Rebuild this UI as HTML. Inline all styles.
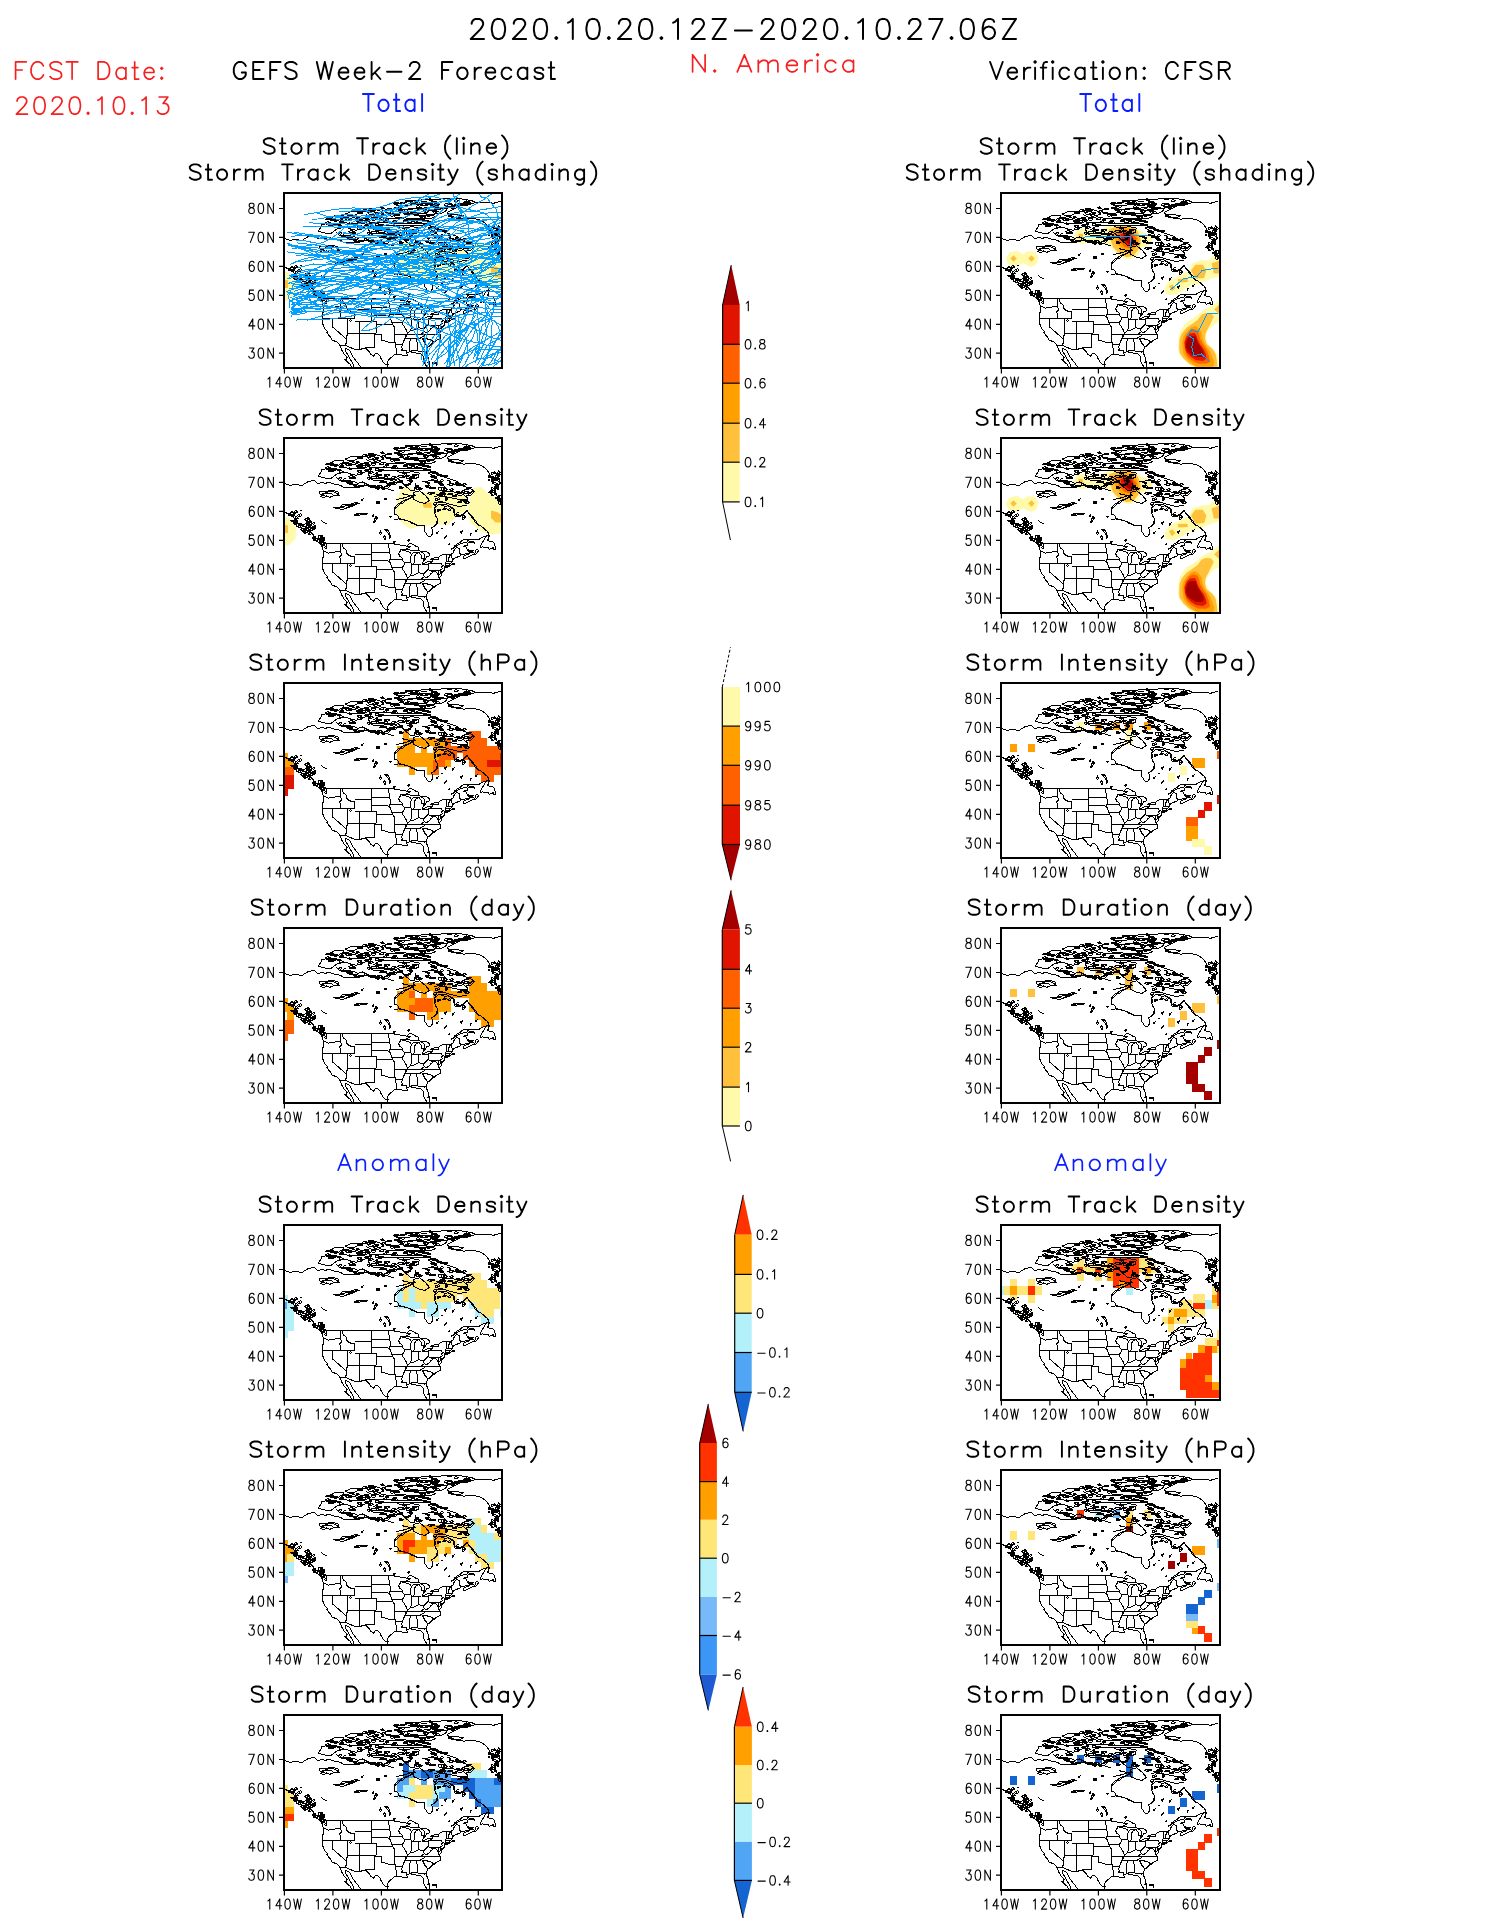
<!DOCTYPE html><html><head><meta charset="utf-8"><style>html,body{margin:0;padding:0;background:#fff;} svg{display:block;} text{font-family:"Liberation Sans",sans-serif;}</style></head><body>
<svg width="1487" height="1925" viewBox="0 0 1487 1925">
<rect width="1487" height="1925" fill="#fff"/>
<defs>
<clipPath id="cp"><rect x="284" y="194" width="218" height="173.5"/></clipPath>
<g id="map" fill="none" stroke="#000" stroke-width="1" shape-rendering="crispEdges">
<polyline points="413.4,248.6 415.3,250.2 411.4,252.1 408.3,254.7 404.4,255.7 403.7,257.9 400.5,258.7 397.8,261.2 395.2,263.6 394.1,266.7 394.4,269.3 397.6,270.2 399.3,273.6 402.2,274.5 405.6,275.1 409.0,276.5 411.4,278.0 414.6,279.0 417.7,280.2 421.4,280.3 424.3,280.7 424.5,284.1 425.0,286.7 426.4,289.0 428.4,291.3 430.1,291.6 431.5,290.4 432.7,288.4 432.3,285.2 431.5,282.9 434.2,281.2 436.4,279.4 438.1,277.1 437.6,274.2 435.9,271.3 434.9,268.4 436.1,266.1 434.7,263.8 435.7,261.8 438.8,259.7 442.9,260.0 446.3,259.6 450.0,261.5 453.6,263.4 455.0,265.5 454.6,268.4 456.0,269.9 458.9,270.6 460.4,271.2 462.3,270.0 464.7,267.6 466.7,265.7 467.9,267.0 469.6,269.3 471.0,271.3 473.5,273.9 474.4,276.2 476.9,278.8 479.8,280.3 483.2,282.6 484.9,284.3 487.5,286.7 488.7,288.7 487.3,290.7 485.1,291.3 481.7,292.3 479.3,294.2 476.4,294.8 472.3,294.6 468.1,294.6 464.7,294.6 462.1,295.4 459.9,297.4 457.0,298.8 454.8,300.9 452.6,303.2 451.2,304.3 453.1,303.7 455.3,302.0 457.5,300.3 460.1,299.1 463.0,298.0 466.2,297.7 467.9,298.7 467.4,300.3 465.2,300.9 462.8,301.1 465.7,301.7 466.7,303.2 467.2,305.2 468.6,306.5 470.6,307.5 472.7,307.8 474.9,308.1 475.9,307.2 475.7,305.2 477.1,304.0 478.6,305.8 477.6,307.2 475.9,309.0 472.7,309.8 469.6,311.1 467.2,312.4 465.0,313.9 463.5,313.3 463.3,311.6 465.5,310.3 467.4,309.2 469.6,308.8 467.2,308.1 464.7,309.0 463.0,309.2 461.4,309.8 460.1,311.1 458.2,311.7 456.5,312.4 454.3,313.3 453.4,314.0 452.4,315.5 452.1,316.8 451.7,317.6 452.6,318.5 454.1,318.8 454.2,319.4 452.6,319.8 450.7,320.0 448.5,320.5 446.3,321.0 444.6,322.0 444.1,323.1 444.4,324.9 443.2,326.3 442.1,327.3 441.0,326.3 440.7,325.5 441.5,327.8 441.8,328.9 441.2,330.4 440.0,332.1 439.5,333.0 438.8,331.8 439.1,329.2 438.3,326.6 438.6,330.1 438.8,333.0 439.8,333.9 440.5,336.2 440.7,338.1 439.3,338.8 437.8,339.6 435.7,340.8 434.7,342.0 432.7,342.5 431.5,344.3 429.8,345.7 427.9,347.2 426.9,348.9 426.4,351.2 426.7,353.5 427.4,355.6 428.4,357.9 428.9,360.5 429.7,363.1 429.6,365.4 428.9,367.1 427.4,367.3 425.7,365.1 424.7,363.1 423.5,360.8 423.1,358.5 423.3,356.1 421.6,354.7 420.1,353.1 418.7,353.4 417.0,354.1 415.5,352.7 413.4,352.1 411.4,352.4 410.2,351.7 408.5,352.1 406.6,352.7 407.1,354.1 407.5,355.6 406.6,355.3 405.4,355.9 403.4,355.6 401.2,354.7 399.1,354.4 396.4,354.1 394.2,355.0 392.8,356.4 390.1,358.2 388.4,359.9 387.7,362.2 388.1,364.8 387.7,366.9 387.2,368.9"/>
<polyline points="282.0,266.4 283.9,267.1 285.9,267.6 287.8,268.9 290.2,270.3 291.9,271.2 293.6,272.5 295.3,274.2 296.5,276.2 298.0,278.0 299.2,279.4 301.1,280.3 303.3,281.5 305.5,282.0 307.2,282.6 307.9,284.1 309.1,285.5 310.6,287.0 312.3,288.1 313.2,289.8 314.0,291.6 315.7,292.7 317.4,293.6 319.3,294.2 321.0,295.4 323.2,296.5 324.9,297.7 325.9,298.2 326.6,300.0 326.8,302.0 325.9,303.7 324.9,302.6 325.6,301.1 323.4,300.7 321.5,300.1 322.2,302.0 322.9,304.3 323.2,306.4 323.4,308.7 323.1,311.3 322.9,313.9 322.0,316.2 322.7,318.8 322.9,321.4 322.3,323.4 323.7,325.7 324.2,327.8 325.6,329.5 326.8,331.0 327.5,331.5 326.8,332.4 328.3,334.1 329.2,335.9 330.9,337.6 331.4,339.9 332.9,340.4 334.8,341.1 336.5,341.7 337.5,342.5 338.7,343.7 339.7,345.4 340.6,347.5 341.4,348.9 342.1,350.6 343.1,352.4 344.5,354.4 346.0,356.1 347.2,357.6 346.7,359.0 344.8,359.6 346.5,361.1 348.4,362.8 350.3,364.3 351.5,366.6 352.3,368.9 353.2,370.0"/>
<polyline points="356.4,370.6 355.2,369.5 354.0,367.1 353.2,364.8 352.3,362.5 350.8,360.2 349.4,357.9 348.4,355.9 347.2,353.8 346.0,352.1 345.5,349.8 345.7,348.3 346.7,348.9 348.4,349.5 349.8,350.4 350.6,352.4 351.8,355.0 353.2,357.3 354.9,359.3 356.4,361.4 358.1,363.4 359.1,365.4 360.8,366.9 362.5,368.6 363.4,370.6"/>
<polyline points="312.5,293.0 314.5,294.8 316.6,295.9 318.6,297.7 321.0,299.3 324.4,300.3 323.4,298.0 321.2,296.5 319.3,295.1 316.4,293.9 313.5,292.6 312.5,293.0"/>
<polyline points="301.1,283.3 302.8,283.6 304.5,283.9 304.0,286.1 305.5,288.4 306.2,289.3 304.5,288.1 303.1,286.7 302.1,284.9 301.1,283.3"/>
<polyline points="479.8,302.3 481.0,299.7 482.2,297.7 483.7,295.4 485.1,293.0 487.3,291.0 489.2,290.7 488.5,293.6 487.5,295.4 489.7,296.2 492.9,296.8 494.1,298.0 494.6,300.0 495.3,301.7 496.0,302.9 495.5,304.6 493.8,304.9 493.6,302.6 491.9,303.2 489.5,304.3 488.0,302.6 485.6,302.3 482.4,302.0 479.8,302.3"/>
<polyline points="467.4,295.8 470.6,296.2 474.0,297.1 474.2,298.0 471.3,297.7 468.1,297.1 467.4,295.8"/>
<polyline points="467.7,304.3 469.6,305.3 472.0,305.6 473.5,305.6 472.0,306.8 469.8,306.1 468.4,305.8 467.7,304.3"/>
<polyline points="444.4,322.4 446.8,321.8 449.2,321.3 449.5,321.5 447.3,322.3 444.6,322.7 444.4,322.4"/>
<polyline points="432.3,362.8 434.2,362.8 435.2,363.4 433.0,363.4 432.3,362.8"/>
<polyline points="436.1,362.2 437.1,364.0 436.6,365.1 435.7,363.7 436.1,362.2"/>
<polyline points="320.0,251.6 322.5,250.2 324.6,248.2 327.1,247.3 330.5,246.1 333.4,246.4 334.8,247.6 337.7,249.0 338.9,250.2 334.8,250.2 331.9,251.3 329.0,252.2 326.8,250.8 324.9,252.2 322.5,252.2 320.0,251.6"/>
<polyline points="339.7,262.9 342.6,262.6 345.2,263.2 348.2,262.1 350.8,260.9 354.0,259.2 357.4,258.3 359.5,258.6 356.2,259.2 353.0,259.5 349.8,260.0 346.7,260.6 343.8,261.2 341.4,261.8 339.7,262.9"/>
<polyline points="354.0,270.6 357.1,269.6 360.3,268.4 363.9,268.3 367.5,268.7 365.6,269.3 361.5,269.6 357.6,270.5 354.0,270.6"/>
<polyline points="374.3,276.8 376.0,275.1 376.8,272.8 375.8,271.9 375.1,273.6 374.3,276.8"/>
<polyline points="372.9,272.2 373.8,271.3 373.4,269.9 372.4,271.0 372.9,272.2"/>
<polyline points="388.9,294.2 390.1,292.5 389.6,290.1 388.1,288.4 386.7,286.4 384.8,284.3 387.2,284.3 388.9,286.7 389.8,288.7 390.3,291.3 388.9,294.2"/>
<polyline points="380.4,290.1 381.4,288.4 380.4,286.4 379.7,287.8 380.4,290.1"/>
<polyline points="385.0,294.5 385.7,292.7 384.3,290.4 383.3,291.6 385.0,294.5"/>
<polyline points="400.3,304.9 403.7,304.9 406.6,303.7 410.0,301.7 407.1,301.1 409.5,298.8 412.9,299.1 415.5,301.1 418.0,302.0 418.7,304.0 418.2,305.2 414.8,305.5 411.4,305.2 407.3,304.6 404.4,305.2 400.3,304.9"/>
<polyline points="411.4,319.4 413.4,319.1 414.6,317.1 414.8,314.5 414.1,312.1 415.3,310.1 416.8,308.4 418.2,307.5 414.8,307.2 412.4,308.4 411.4,309.8 410.7,312.1 410.9,315.0 410.9,317.6 411.4,319.4"/>
<polyline points="418.4,307.2 421.6,306.9 425.5,306.6 428.4,307.5 429.8,309.5 428.9,311.0 426.7,311.6 425.7,313.9 424.0,315.6 423.5,313.0 421.6,313.0 421.6,310.4 419.7,308.7 418.4,307.2"/>
<polyline points="421.6,319.4 424.3,320.0 426.9,319.4 429.4,318.2 432.3,316.5 430.8,316.0 427.9,316.8 424.5,318.2 422.1,318.5 421.6,319.4"/>
<polyline points="430.3,314.7 432.5,314.6 435.9,314.9 438.8,314.2 438.8,312.1 435.9,312.7 432.3,313.3 430.3,314.7"/>
<polyline points="408.5,296.8 410.0,295.1 409.0,294.2 408.0,295.6 408.5,296.8"/>
<polyline points="393.7,298.0 395.2,296.8 394.0,295.9 393.0,297.1 393.7,298.0"/>
<polyline points="444.1,293.6 445.8,292.5 446.8,290.7 445.1,291.6 444.1,293.6"/>
<polyline points="448.3,300.0 449.7,299.4 449.2,298.8 448.3,300.0"/>
<polyline points="350.1,321.4 351.5,320.8 350.8,319.4 349.8,320.5 350.1,321.4"/>
<polyline points="427.4,362.8 428.4,362.5 428.1,361.6 427.4,362.8"/>
<polyline points="377.0,257.7 378.9,256.8 378.2,258.3 377.0,257.7"/>
<polyline points="383.8,254.0 387.2,253.4 385.7,254.5 383.8,254.0"/>
<polyline points="360.8,254.8 362.9,254.2 362.0,255.4 360.8,254.8"/>
<polyline points="390.6,272.5 391.5,271.3 389.6,271.6 390.6,272.5"/>
<polyline points="440.7,283.8 443.2,282.9 442.0,284.1 440.7,283.8"/>
<polyline points="460.1,287.2 462.3,286.1 461.4,288.1 460.1,287.2"/>
<polyline points="474.7,285.8 477.1,284.9 475.9,286.7 474.7,285.8"/>
<polyline points="469.8,289.6 471.5,288.1 470.6,290.4 469.8,289.6"/>
<polyline points="451.7,279.4 454.1,278.0 452.9,280.3 451.7,279.4"/>
<polyline points="444.4,278.0 446.3,277.1 445.4,278.8 444.4,278.0"/>
<polyline points="435.9,288.1 438.1,287.0 437.1,289.0 435.9,288.1"/>
<polyline points="324.9,298.2 393.1,298.2 393.1,297.1 394.0,298.5 394.4,299.1 397.1,299.4 399.5,299.8 402.0,300.9 404.9,300.9 406.6,301.1"/>
<polyline points="418.7,305.5 419.9,305.8 421.1,306.6 424.0,309.0 424.0,315.6 422.3,318.2 422.1,318.5"/>
<polyline points="432.3,316.0 432.1,314.7"/>
<polyline points="438.8,312.1 441.2,310.4 442.7,309.8 450.4,309.8 451.4,309.0 452.4,308.7 453.4,307.2 454.1,305.2 456.0,302.7 458.2,303.0 459.4,303.9 459.4,307.8 460.4,308.7 461.4,310.1"/>
<polyline points="339.9,345.9 345.7,345.4 354.7,349.4 361.5,349.4 361.5,348.1 365.6,348.1 367.8,350.1 369.7,352.4 370.5,354.1 372.1,355.3 373.6,356.2 374.8,354.1 375.8,353.7 378.0,353.8 379.7,355.6 380.6,357.9 382.3,360.2 383.3,362.5 385.5,364.5 388.1,365.0"/>
<polyline points="323.2,306.2 325.1,306.5 328.0,308.1 330.5,307.9 333.8,307.2 335.3,306.9 340.4,306.9"/>
<polyline points="340.1,298.2 340.1,305.8 340.4,306.9 341.4,308.4 341.1,310.4 339.7,311.9 340.2,313.3 340.2,318.5"/>
<polyline points="322.7,318.5 354.6,318.5"/>
<polyline points="332.9,318.5 332.9,327.2 346.0,338.8 346.0,340.8 346.2,342.5 345.7,345.4"/>
<polyline points="347.3,318.5 347.3,335.3 346.0,335.9 346.0,338.8"/>
<polyline points="347.3,333.0 376.4,333.0"/>
<polyline points="342.5,298.2 342.5,301.1 343.3,302.9 346.0,304.9 346.5,308.1 348.6,310.1 351.3,311.4 354.6,311.3 354.6,318.5"/>
<polyline points="354.6,309.8 371.5,309.8"/>
<polyline points="354.6,321.4 376.4,321.4"/>
<polyline points="371.5,321.4 371.5,298.2"/>
<polyline points="359.4,321.4 359.4,349.4"/>
<polyline points="374.0,333.0 374.0,347.5 365.4,347.5 365.6,348.1"/>
<polyline points="376.4,321.4 376.4,333.0"/>
<polyline points="374.0,334.4 381.4,334.4 381.4,340.0 383.3,340.5 386.0,341.4 388.6,342.2 391.1,342.0 394.7,342.7 395.8,343.0"/>
<polyline points="376.4,324.3 392.8,324.3"/>
<polyline points="371.5,307.1 389.7,307.1"/>
<polyline points="371.5,315.6 385.0,315.6 387.9,316.0 389.8,317.1"/>
<polyline points="388.1,298.2 388.9,302.0 389.7,307.1 390.0,309.0 390.0,314.2 389.8,317.1 390.8,319.1 391.3,320.5 391.5,322.6 392.8,324.3 393.7,326.0 394.4,326.9 394.4,334.4 394.8,337.6 394.7,342.7"/>
<polyline points="390.0,314.2 402.7,314.2"/>
<polyline points="391.5,322.6 402.2,322.6"/>
<polyline points="394.4,334.4 406.3,334.4"/>
<polyline points="405.1,334.4 405.4,335.9 406.3,335.9"/>
<polyline points="395.8,343.0 395.8,344.6 402.7,344.6"/>
<polyline points="395.8,344.6 395.8,347.5 396.6,349.5 396.9,351.5 396.3,354.1"/>
<polyline points="402.7,344.6 401.7,346.9 402.2,348.9 401.7,350.4 406.3,350.4 406.6,351.5 406.8,352.7"/>
<polyline points="402.7,344.6 403.4,341.7 404.9,338.8 405.8,336.7 406.3,335.9 406.8,334.4 407.5,333.0"/>
<polyline points="400.5,304.9 400.0,306.6 398.8,308.4 399.3,311.0 401.7,312.4 402.7,314.2 403.1,316.5 404.1,317.1 405.1,319.1 403.2,321.1 402.2,323.1 403.2,325.2 405.1,327.8 406.6,330.4 407.5,333.0"/>
<polyline points="404.1,317.1 410.9,317.1"/>
<polyline points="404.6,305.2 405.8,306.1 408.8,306.9 410.4,307.5 411.4,309.5"/>
<polyline points="411.6,319.4 411.6,326.0 411.2,328.4 410.7,330.4"/>
<polyline points="410.7,330.4 407.5,333.0"/>
<polyline points="410.7,330.4 412.9,330.4 414.6,329.5 416.3,328.9 418.2,327.8 418.2,326.9 420.9,328.4 423.5,328.9"/>
<polyline points="411.6,319.2 418.2,319.4 421.4,319.2"/>
<polyline points="418.2,319.4 418.2,326.9"/>
<polyline points="428.6,318.5 428.6,325.1"/>
<polyline points="428.4,322.6 427.7,325.2 425.7,326.6 424.5,328.4 423.5,328.9"/>
<polyline points="406.8,334.4 425.7,334.1"/>
<polyline points="420.9,334.1 422.6,333.0 424.3,331.8 423.5,328.9"/>
<polyline points="424.3,331.8 425.7,332.4 427.4,332.1 429.1,331.2 430.6,328.9 432.3,327.5 433.7,326.6 435.2,326.3"/>
<polyline points="404.9,338.8 419.4,338.8"/>
<polyline points="419.4,338.8 421.4,337.3 423.8,336.2 425.7,334.1"/>
<polyline points="425.7,334.2 439.8,334.3"/>
<polyline points="422.3,338.8 424.0,338.2 427.4,338.3 427.9,339.4 430.6,339.4 433.5,342.1"/>
<polyline points="422.3,338.8 423.5,340.2 424.5,342.8 426.2,344.6 427.4,346.3 427.7,347.3"/>
<polyline points="416.3,338.8 417.2,343.1 417.7,346.3 417.5,348.6 417.7,350.4"/>
<polyline points="417.7,350.4 418.0,351.2 422.1,351.4 424.7,352.1 425.0,351.5 426.2,351.2"/>
<polyline points="411.4,350.4 417.7,350.4"/>
<polyline points="411.4,350.4 411.9,352.1"/>
<polyline points="410.0,338.8 410.0,341.1 409.5,346.0 409.5,352.1"/>
<polyline points="428.6,318.5 430.4,318.5 430.4,317.6"/>
<polyline points="430.4,318.5 441.0,318.5 441.7,319.7 442.7,320.4 444.4,321.4"/>
<polyline points="442.7,320.4 441.7,322.0 442.4,323.7 440.7,324.9"/>
<polyline points="428.6,325.1 440.0,325.1"/>
<polyline points="431.1,325.1 431.1,326.6 433.7,325.7 435.2,326.3 436.9,327.5 437.1,328.9 438.8,330.1"/>
<polyline points="440.0,325.1 440.3,328.8 441.8,328.8"/>
<polyline points="446.1,309.8 446.1,316.3 445.6,318.4 445.6,321.1"/>
<polyline points="450.4,309.8 449.2,311.9 448.0,315.6 448.0,316.4"/>
<polyline points="446.1,316.4 451.7,316.4"/>
<polyline points="445.6,318.5 450.7,318.5"/>
<polyline points="449.7,318.5 449.7,320.5"/>
<polyline points="451.4,309.0 452.4,315.3"/>
<polyline points="284.0,238.4 289.9,240.2 295.8,239.5 301.8,240.6 308.4,236.5 314.3,235.4 317.3,238.4 322.5,237.6 325.4,238.4 328.4,237.3 334.3,239.1 340.2,240.2 343.2,242.1 350.6,242.4 358.0,242.8 360.9,241.3 363.1,240.2 366.8,240.6 372.8,242.1 380.2,242.8 387.6,243.9 394.0,245.8"/>
<polyline points="318.4,231.0 321.7,225.8 321.0,224.3 325.4,224.0 338.7,224.3 343.2,226.5 337.3,228.8 334.3,231.0 331.3,233.2 326.9,233.6 321.0,232.1 318.4,231.0"/>
<polyline points="334.3,231.0 337.3,228.8 342.4,227.7 347.6,228.0 352.0,229.5 356.5,230.2 360.9,228.8 363.9,227.3 367.6,226.5 371.3,226.9 368.3,228.8 369.8,232.5 372.8,235.1 377.2,235.8 381.6,235.4 387.6,234.3 394.0,233.9"/>
<polyline points="335.8,231.7 339.5,235.4 343.2,236.5 353.5,236.5 358.0,238.4 362.4,236.9 366.8,239.1 372.8,241.3"/>
<polyline points="338.7,235.1 353.5,236.2"/>
<polyline points="325.4,219.1 331.3,217.7 335.0,215.4 343.2,215.4 343.9,217.7 340.2,218.4 338.7,220.6 335.8,221.4 328.4,219.5 325.4,219.1"/>
<polyline points="338.7,222.1 343.2,218.4 349.1,218.4 354.3,219.9 358.0,217.7 362.4,218.4 368.3,219.9 366.8,222.8 358.0,223.6 350.6,223.6 346.1,222.8 338.7,222.1"/>
<polyline points="345.4,214.0 350.6,211.8 358.0,211.8 358.7,213.2 354.3,215.4 347.6,215.4 345.4,214.0"/>
<polyline points="366.8,210.3 372.8,208.8 380.2,211.0 383.9,214.0 380.2,215.4 369.1,214.0 366.8,210.3"/>
<polyline points="380.9,207.3 383.1,206.9 384.6,208.4 381.6,208.8 380.9,207.3"/>
<polyline points="366.1,214.7 372.8,217.7 380.2,216.9 387.6,218.4 394.0,218.4"/>
<polyline points="394.0,222.8 380.2,222.1 369.1,222.1 366.1,218.4"/>
<polyline points="374.2,229.5 378.7,226.5 387.6,225.1 394.0,225.8"/>
<polyline points="394.0,233.9 389.0,233.9 380.2,232.5 374.2,229.5"/>
<polyline points="319.5,246.1 325.4,246.9 332.1,245.0 338.7,247.3 338.7,250.2 334.3,250.2 329.9,252.4 325.4,251.0 319.5,248.7 319.5,246.1"/>
<polyline points="322.5,248.7 328.4,248.4 332.8,249.1"/>
<polyline points="332.8,262.0 340.2,262.0 343.2,259.1 350.6,259.1 355.0,257.6 359.4,258.3 355.0,259.8 352.0,261.3 347.6,262.8 343.2,264.3 335.8,263.5 332.8,262.0"/>
<polyline points="354.3,270.2 358.0,268.0 366.8,268.0 362.4,269.1 358.0,270.6 354.3,270.2"/>
<polyline points="375.7,271.7 377.9,272.4 375.0,276.8 373.5,277.6 375.7,271.7"/>
<polyline points="376.5,256.9 379.4,256.5 379.8,258.3 376.8,258.7 376.5,256.9"/>
<polyline points="321.0,275.4 323.9,277.6 326.9,279.1"/>
<polyline points="300.3,265.4 302.5,266.1"/>
<polyline points="501.2,201.0 493.9,203.2 482.8,202.1 475.4,202.1 471.7,200.7 464.3,199.2 454.7,198.4 448.7,198.4 438.4,199.2 426.5,199.5 418.4,200.3 410.3,201.4 401.4,202.9 394.0,205.1"/>
<polyline points="475.4,202.5 468.0,205.1 460.6,205.8 454.7,208.8 447.3,212.5"/>
<polyline points="447.3,206.6 468.7,203.6"/>
<polyline points="447.3,213.2 450.2,215.4 456.9,218.4 464.3,219.1 471.7,218.4 479.1,219.5 482.8,221.4 486.5,224.3 489.4,228.8 490.2,231.7 493.1,233.9 497.6,235.4 500.5,238.4"/>
<polyline points="489.4,231.0 493.1,232.5 499.0,233.2 500.5,238.4 496.1,241.3 493.9,245.8 496.1,250.2 500.5,253.2 500.9,258.3"/>
<polyline points="492.4,236.9 497.6,238.4 496.1,239.9 492.4,238.4 492.4,236.9"/>
<polyline points="448.0,214.0 455.4,214.7 463.5,215.4 462.0,216.9 453.2,217.7 448.7,216.2 448.0,214.0"/>
<polyline points="433.9,208.8 439.9,208.1 447.3,208.1 445.8,211.0 439.9,214.0 435.4,212.5 433.9,208.8"/>
<polyline points="395.5,208.1 401.4,205.8 408.8,205.1 416.2,204.4 423.6,203.6 431.0,203.6 436.9,205.1 435.4,206.6 427.3,207.3 419.9,208.8 412.5,208.1 405.1,209.5 398.4,210.3 395.5,208.1"/>
<polyline points="407.3,209.5 414.7,208.8 422.1,209.5 428.8,211.0 426.5,213.2 418.4,214.0 411.0,212.5 407.3,211.0 407.3,209.5"/>
<polyline points="394.0,214.0 401.4,212.5 408.8,214.0 416.2,215.4 423.6,215.4 432.5,214.7 435.4,216.9 431.0,218.4 422.1,219.1 412.5,218.4 401.4,217.7 394.0,216.9"/>
<polyline points="394.0,218.4 405.1,219.1 416.2,219.9 427.3,220.6 431.0,222.1 423.6,223.6 412.5,223.6 401.4,223.6 394.0,222.8"/>
<polyline points="394.0,225.1 405.1,225.8 416.2,225.1 427.3,225.8 435.4,226.5"/>
<polyline points="428.0,228.0 435.4,226.5 438.4,229.5 445.8,232.5 451.7,234.7 456.9,236.2 460.6,239.9 466.5,242.1 471.7,244.3 474.6,246.5 470.9,250.2 466.5,251.0 468.0,254.7 465.0,257.6"/>
<polyline points="405.8,231.7 406.6,228.0 411.8,226.5 419.1,228.0 418.4,232.5 413.2,233.9 407.3,233.9 405.8,231.7"/>
<polyline points="394.0,231.0 398.4,233.9 401.4,236.9 405.8,241.3 410.3,245.0 414.0,245.8"/>
<polyline points="414.7,237.6 416.2,241.3 414.0,245.8"/>
<polyline points="422.1,236.9 426.5,236.2 432.5,235.4 438.4,237.6 444.3,241.3 447.3,245.0"/>
<polyline points="445.8,245.8 450.2,246.5 456.9,247.3 468.0,248.7 473.9,245.8"/>
<polyline points="459.1,247.3 464.3,250.2 468.0,253.2 467.2,255.4"/>
<polyline points="434.3,251.7 439.9,250.2 445.8,251.7 453.2,253.2 460.6,254.7 468.0,258.3"/>
<polyline points="433.9,257.6 442.1,256.9 449.5,259.1 458.3,261.3 467.2,260.6"/>
<polyline points="435.4,259.1 434.3,268.0 437.6,273.9 435.4,281.0"/>
<polyline points="438.4,259.1 445.8,259.1 453.2,264.3 454.7,270.9 458.3,271.7 464.3,268.0 467.2,265.7 470.9,270.2 475.4,275.4 479.1,281.0"/>
<polyline points="394.0,264.3 396.2,260.6 399.2,258.3 404.4,255.4 412.5,252.4"/>
<polyline points="414.0,247.3 419.9,245.8 425.1,250.2 429.5,255.4 425.1,258.3 419.9,257.6 414.0,254.7 413.2,251.0 414.0,247.3"/>
<polyline points="396.2,254.7 402.9,253.2 412.5,250.2"/>
<polyline points="402.1,248.7 412.5,251.0"/>
<polyline points="394.0,274.6 398.4,273.9 408.8,276.1 418.4,281.0"/>
<polyline points="455.4,237.6 460.6,238.4 461.3,240.6 456.9,240.6 455.4,237.6"/>
<polyline points="438.4,242.8 441.3,242.1 442.1,245.0 439.1,245.4 438.4,242.8"/>
<polyline points="418.9,213.8 418.2,214.3 416.1,214.3 414.3,214.2 411.5,214.0 412.1,213.3 413.7,213.0 417.1,212.9 419.4,213.1 418.9,213.8"/>
<polyline points="454.2,207.4 452.5,207.9 449.9,208.0 448.0,207.1 450.2,206.8 452.2,206.8 454.2,207.4"/>
<polyline points="375.9,219.1 375.4,220.0 373.6,220.1 372.4,220.2 371.6,219.3 371.9,218.6 373.9,218.3 375.2,218.4 375.9,219.1"/>
<polyline points="469.7,202.2 469.2,202.4 467.7,202.6 465.2,202.5 464.0,202.2 464.7,201.8 468.1,201.6 469.4,201.6 469.7,202.2"/>
<polyline points="392.3,209.0 390.4,209.8 385.9,209.7 387.0,208.8 390.0,208.2 392.3,209.0"/>
<polyline points="436.7,202.1 436.6,202.8 432.6,202.6 431.0,202.1 433.6,201.0 436.8,201.0 436.7,202.1"/>
<polyline points="434.1,209.8 433.7,210.3 431.8,210.3 430.8,210.2 430.8,209.8 431.9,209.3 433.3,209.6 434.1,209.8"/>
<polyline points="467.6,203.9 467.6,204.4 466.1,204.5 465.7,204.5 464.8,204.1 465.2,203.4 466.5,203.2 467.4,203.5 467.6,203.9"/>
<polyline points="432.9,200.6 432.5,201.1 430.5,201.0 429.9,200.4 431.3,199.8 432.8,199.8 432.9,200.6"/>
<polyline points="430.8,215.3 430.8,215.8 429.4,216.2 427.0,216.1 426.7,215.8 426.6,215.1 427.8,214.8 428.8,214.8 430.7,215.2 430.8,215.3"/>
<polyline points="421.4,222.8 421.0,223.3 420.1,223.5 418.4,223.4 417.5,223.1 417.0,222.5 418.8,222.3 420.0,222.3 420.9,222.4 421.4,222.8"/>
<polyline points="399.0,203.1 398.0,203.7 394.8,203.6 394.3,203.0 395.9,202.5 398.2,202.4 399.0,203.1"/>
<polyline points="399.7,208.0 398.1,208.8 394.8,208.8 394.7,207.9 394.9,207.4 398.8,207.4 399.7,208.0"/>
<polyline points="459.0,205.5 458.8,205.9 456.4,206.4 454.2,206.3 452.8,205.9 454.1,204.9 455.3,204.3 456.1,204.4 459.5,204.7 459.0,205.5"/>
<polyline points="411.5,213.9 410.6,214.7 405.9,214.9 404.5,214.2 404.0,213.1 407.8,212.9 410.1,213.3 411.5,213.9"/>
<polyline points="418.5,213.2 415.4,214.0 411.5,213.9 412.4,212.8 416.9,212.6 418.5,213.2"/>
<polyline points="424.9,217.1 425.2,217.4 423.8,218.1 421.5,217.8 420.3,217.0 420.6,216.6 422.0,215.6 422.9,215.6 425.3,216.4 424.9,217.1"/>
<polyline points="431.8,203.8 432.0,204.3 429.4,204.9 428.3,204.5 426.0,204.4 425.7,203.6 428.0,203.2 429.0,203.1 431.3,203.2 431.8,203.8"/>
<polyline points="426.5,201.3 425.4,201.6 423.5,201.9 421.7,201.6 421.9,201.2 423.5,201.0 425.1,201.0 426.5,201.3"/>
<polyline points="390.7,213.0 390.1,213.5 388.0,213.5 386.5,213.5 385.9,212.8 386.6,212.2 387.8,212.3 390.3,212.3 390.7,213.0"/>
<polyline points="389.2,219.5 388.7,220.1 386.3,220.0 386.1,219.6 386.7,219.1 388.2,219.1 389.2,219.5"/>
<polyline points="408.0,220.8 406.8,221.3 405.5,221.5 403.3,221.2 403.7,220.4 404.6,220.0 407.7,220.0 408.0,220.8"/>
<polyline points="468.7,200.8 468.6,201.7 467.6,202.0 466.4,201.9 466.2,201.3 466.4,200.3 467.3,199.6 468.4,200.4 468.7,200.8"/>
<polyline points="454.2,207.3 453.8,208.0 452.6,208.2 451.9,208.3 450.9,207.5 451.6,206.7 452.9,206.2 453.8,206.6 454.2,207.3"/>
<polyline points="454.8,206.4 454.2,207.5 453.9,207.6 452.9,207.5 451.8,207.0 452.0,206.5 452.4,205.7 453.3,205.8 454.4,205.8 454.8,206.4"/>
<polyline points="425.2,219.1 423.3,219.5 419.9,219.6 418.2,219.2 419.5,218.9 420.9,218.6 422.9,218.6 425.2,219.1"/>
<polyline points="385.7,211.3 385.2,211.7 384.3,212.0 383.0,212.0 381.9,211.7 382.0,210.9 382.4,210.6 384.3,210.4 385.4,210.7 385.7,211.3"/>
<polyline points="413.1,214.2 410.5,214.9 407.8,215.0 406.6,214.2 408.9,213.5 411.3,213.8 413.1,214.2"/>
<polyline points="436.3,210.7 436.2,211.1 434.7,211.4 433.4,211.2 432.3,211.0 432.8,210.8 433.2,210.5 434.8,210.4 436.3,210.5 436.3,210.7"/>
<polyline points="400.1,215.1 398.3,215.7 393.5,215.8 393.9,214.9 394.4,214.4 398.0,214.1 400.1,215.1"/>
<polyline points="379.3,213.2 378.5,213.6 377.1,213.6 375.8,213.1 376.7,212.9 378.7,212.7 379.3,213.2"/>
<polyline points="453.0,204.2 450.8,204.8 448.8,204.9 447.9,204.1 449.1,203.8 451.6,203.8 453.0,204.2"/>
<polyline points="377.5,213.9 377.8,214.6 374.7,214.8 372.8,214.3 372.5,213.4 374.4,212.8 377.3,212.8 377.5,213.9"/>
<polyline points="405.0,210.4 403.5,211.1 401.0,211.8 399.1,210.6 399.0,210.1 400.8,209.4 403.0,209.7 405.0,210.4"/>
<polyline points="427.9,221.3 427.9,221.5 425.3,221.8 422.7,221.5 423.2,221.1 423.1,220.7 424.8,220.7 428.1,220.8 427.9,221.3"/>
<polyline points="377.2,215.6 376.8,216.5 375.4,216.6 374.3,216.6 373.9,215.6 374.3,214.9 376.0,214.5 377.1,214.8 377.2,215.6"/>
<polyline points="440.1,213.0 438.4,213.2 436.0,213.8 434.3,213.5 433.4,212.7 434.6,211.8 436.7,211.8 438.4,211.6 440.1,213.0"/>
<polyline points="371.3,211.4 370.8,212.1 366.7,212.0 365.3,211.6 365.7,210.9 369.8,210.9 371.3,211.4"/>
<polyline points="397.8,222.7 397.0,223.1 395.9,223.1 391.8,223.3 390.6,222.7 392.3,222.3 393.7,221.8 396.6,221.8 397.3,222.2 397.8,222.7"/>
<polyline points="415.3,222.1 413.7,223.2 410.8,222.9 410.3,222.2 411.7,221.5 414.3,221.4 415.3,222.1"/>
<polyline points="458.3,200.9 457.3,201.6 454.3,201.2 454.4,200.4 456.4,199.6 458.3,200.9"/>
<polyline points="373.1,209.6 372.5,210.8 369.9,210.5 368.8,210.3 368.0,209.0 370.3,208.4 371.7,208.7 373.1,209.6"/>
<polyline points="419.6,206.6 419.2,207.5 417.0,207.4 416.5,206.3 417.3,205.8 418.9,205.7 419.6,206.6"/>
<polyline points="402.3,206.0 402.0,206.3 399.9,206.9 398.8,206.6 397.5,205.7 398.3,205.5 399.8,205.1 401.6,205.3 402.3,206.0"/>
<polyline points="426.3,216.0 424.7,216.9 422.0,217.0 419.8,216.6 418.9,215.7 419.9,215.5 421.8,215.0 424.3,215.4 426.3,216.0"/>
<polyline points="404.7,206.6 403.7,207.1 402.4,207.2 400.8,206.8 401.1,205.9 402.7,205.6 404.2,205.8 404.7,206.6"/>
<polyline points="396.9,214.0 395.4,214.7 392.9,214.9 390.8,214.4 391.1,213.7 392.8,213.3 394.6,213.6 396.9,214.0"/>
<polyline points="444.5,208.2 443.0,208.7 439.8,209.2 437.6,208.1 438.9,207.7 443.1,207.8 444.5,208.2"/>
<polyline points="419.4,202.2 419.3,203.1 416.8,203.3 414.7,202.2 416.2,201.6 418.1,201.5 419.4,202.2"/>
<polyline points="430.5,209.8 429.6,210.2 427.9,210.8 426.5,210.3 425.5,209.6 426.7,209.0 428.4,208.2 429.8,208.8 430.5,209.8"/>
<polyline points="450.9,206.8 448.7,207.4 446.5,207.0 446.5,206.3 449.8,206.1 450.9,206.8"/>
<polyline points="410.1,213.3 409.5,213.6 407.3,213.9 404.8,213.5 404.1,213.4 404.9,213.0 407.4,212.6 408.4,212.9 410.1,213.3"/>
<polyline points="431.5,199.6 431.1,200.8 429.7,200.5 428.7,199.9 429.0,199.5 430.3,198.3 430.9,198.6 431.5,199.6"/>
<polyline points="429.0,204.7 424.7,205.9 421.0,205.7 420.5,204.1 426.3,203.9 429.0,204.7"/>
<polyline points="386.4,221.7 386.0,222.8 384.7,222.9 383.2,222.1 383.4,221.6 385.0,220.9 385.9,221.0 386.4,221.7"/>
<polyline points="417.3,212.8 416.8,213.1 415.7,213.4 413.7,213.2 412.4,212.9 412.5,212.6 413.6,212.3 415.7,212.3 416.3,212.3 417.3,212.8"/>
<polyline points="402.9,211.7 402.7,212.1 402.0,212.2 400.5,212.2 400.0,211.9 400.3,211.3 400.6,210.9 401.7,211.0 402.6,210.9 402.9,211.7"/>
<polyline points="375.7,210.4 375.0,211.1 373.5,211.4 371.0,211.4 368.6,210.9 369.4,210.3 370.0,210.2 371.9,210.0 375.2,210.2 375.7,210.4"/>
<polyline points="396.8,214.4 396.2,215.4 394.4,215.3 393.7,214.6 394.6,213.4 396.3,213.9 396.8,214.4"/>
<polyline points="384.4,218.5 382.5,219.7 379.2,219.5 379.2,218.4 382.9,217.6 384.4,218.5"/>
<polyline points="448.1,204.6 447.7,205.3 444.7,205.4 444.8,204.8 445.3,203.7 447.8,204.0 448.1,204.6"/>
<polyline points="471.3,203.2 469.3,204.1 465.9,204.3 464.1,203.4 464.9,202.4 468.6,202.2 471.3,203.2"/>
<polyline points="462.6,204.0 462.2,204.2 460.3,204.5 457.9,204.1 458.4,203.8 459.3,203.4 462.0,203.5 462.6,204.0"/>
<polyline points="411.7,200.7 411.0,201.2 409.7,201.3 407.4,201.3 405.0,201.0 405.0,200.4 406.8,200.1 408.9,200.0 412.2,200.3 411.7,200.7"/>
<polyline points="426.3,210.5 425.8,211.2 424.8,211.3 423.1,211.0 423.0,210.0 424.1,209.8 426.0,210.2 426.3,210.5"/>
<polyline points="393.7,215.6 392.8,216.2 391.9,216.3 390.8,216.0 390.5,215.5 391.0,215.0 392.3,214.7 393.4,215.2 393.7,215.6"/>
<polyline points="397.1,221.4 395.5,222.5 394.7,223.0 393.0,222.6 392.8,221.5 392.7,221.2 394.3,220.7 396.7,220.9 397.1,221.4"/>
<polyline points="439.3,209.0 436.8,210.1 434.6,209.4 434.8,208.4 437.8,207.7 439.3,209.0"/>
<polyline points="409.6,223.1 409.0,223.5 408.2,223.7 407.6,223.7 406.4,223.4 407.2,222.9 407.2,222.6 408.5,222.8 409.7,222.9 409.6,223.1"/>
<polyline points="370.8,220.6 370.0,221.0 367.6,221.0 366.8,220.4 367.9,219.7 369.2,219.8 370.8,220.6"/>
<polyline points="404.9,203.5 402.1,203.8 399.4,203.5 400.3,203.0 402.9,202.8 404.9,203.5"/>
<polyline points="421.6,207.7 421.0,208.5 419.5,209.0 417.6,208.7 416.0,208.1 417.7,207.2 419.3,206.9 420.1,207.1 421.6,207.7"/>
<polyline points="438.0,206.4 435.4,207.2 433.8,207.5 431.9,207.1 430.4,206.0 431.2,205.7 433.6,205.5 436.3,205.3 438.0,206.4"/>
<polyline points="428.2,211.5 426.9,212.0 424.9,212.3 423.9,211.9 423.8,211.2 425.5,210.9 427.8,211.1 428.2,211.5"/>
<polyline points="417.5,202.4 416.3,202.9 414.3,203.2 412.6,203.0 410.0,203.0 410.8,202.4 411.2,202.1 415.1,202.1 416.9,202.3 417.5,202.4"/>
<polyline points="414.5,220.4 413.4,220.6 412.3,220.8 410.0,220.8 409.8,220.4 409.1,220.1 410.4,219.9 411.7,220.0 413.2,220.2 414.5,220.4"/>
<polyline points="418.6,222.5 418.2,223.2 417.7,223.3 416.2,223.3 415.4,222.7 415.5,222.3 416.2,221.8 417.5,222.0 418.1,222.0 418.6,222.5"/>
<polyline points="436.8,210.7 436.2,211.0 434.9,211.1 433.2,210.9 433.1,210.5 434.2,210.3 435.6,210.2 436.8,210.7"/>
<polyline points="451.7,198.8 451.3,199.4 450.1,199.5 448.5,199.3 447.7,199.2 448.1,198.7 448.3,198.6 450.2,198.6 450.9,198.7 451.7,198.8"/>
<polyline points="439.8,204.2 439.6,204.9 436.3,205.3 434.4,204.9 434.0,204.3 434.6,203.3 436.7,203.4 438.9,203.5 439.8,204.2"/>
<polyline points="434.5,214.6 433.3,215.0 431.2,215.2 428.8,215.2 426.6,214.5 428.4,214.4 432.2,214.0 432.8,214.2 434.5,214.6"/>
<polyline points="396.4,203.6 396.3,204.0 395.4,204.1 394.3,203.9 393.3,203.7 393.7,203.2 394.4,202.7 395.5,202.8 396.5,203.1 396.4,203.6"/>
<polyline points="384.4,208.5 384.2,208.7 382.6,208.8 381.5,208.5 381.8,208.2 382.8,207.9 384.1,207.9 384.4,208.5"/>
<polyline points="440.1,204.2 439.3,204.7 436.8,204.9 436.6,204.2 437.7,203.0 439.3,203.4 440.1,204.2"/>
<polyline points="402.2,209.5 401.5,210.0 400.6,210.3 399.1,210.2 398.8,209.5 398.5,209.0 400.7,208.8 401.5,209.0 402.2,209.5"/>
<polyline points="353.9,216.0 352.6,216.7 351.3,216.8 349.8,216.3 349.8,215.9 351.5,215.2 353.1,215.5 353.9,216.0"/>
<polyline points="330.9,224.5 330.4,225.4 328.6,225.5 328.1,224.9 328.0,224.6 329.0,224.1 330.2,224.3 330.9,224.5"/>
<polyline points="359.2,217.4 358.4,217.9 356.4,217.6 356.8,216.7 358.2,216.6 359.2,217.4"/>
<polyline points="343.4,222.3 342.9,222.7 341.9,222.9 340.9,222.6 340.2,222.4 339.9,221.9 340.5,221.8 341.9,221.5 342.6,222.0 343.4,222.3"/>
<polyline points="367.8,219.3 367.0,219.8 365.1,219.7 365.4,218.8 366.6,218.9 367.8,219.3"/>
<polyline points="334.0,225.0 332.7,225.4 328.3,225.5 328.6,224.8 328.5,224.1 333.0,224.1 334.0,225.0"/>
<polyline points="333.2,218.9 332.5,219.3 331.5,219.3 330.5,219.1 330.5,218.5 331.7,218.3 332.9,218.5 333.2,218.9"/>
<polyline points="334.4,226.0 332.9,226.4 329.7,226.6 328.0,226.3 327.9,226.0 330.3,225.7 332.7,225.7 334.4,226.0"/>
<polyline points="361.5,221.1 360.4,221.6 359.2,221.6 356.8,221.2 355.8,220.8 358.1,220.6 360.5,220.8 361.5,221.1"/>
<polyline points="352.3,219.9 351.5,220.3 350.6,220.6 348.8,220.3 348.9,220.0 348.8,219.5 349.4,219.2 350.4,219.2 351.4,219.3 352.3,219.9"/>
<polyline points="368.8,218.3 368.4,218.6 365.0,218.6 364.1,218.3 365.1,217.7 368.4,217.7 368.8,218.3"/>
<polyline points="330.9,223.0 329.6,223.6 327.7,223.8 325.9,223.5 325.6,223.0 326.7,222.1 328.2,221.9 329.8,222.4 330.9,223.0"/>
<polyline points="362.9,211.7 361.9,212.4 359.4,211.9 359.5,211.4 361.7,211.2 362.9,211.7"/>
<polyline points="348.3,217.9 348.1,218.8 347.1,219.1 344.8,218.8 343.9,218.3 344.5,217.6 345.4,217.2 346.1,217.0 348.3,217.5 348.3,217.9"/>
<polyline points="335.5,225.0 335.0,225.3 333.8,225.4 332.9,225.4 332.4,225.1 333.0,224.5 333.9,224.4 335.6,224.6 335.5,225.0"/>
<polyline points="361.8,211.9 359.9,212.2 357.6,212.3 355.7,211.6 357.0,211.4 360.7,211.3 361.8,211.9"/>
<polyline points="353.7,223.5 352.6,224.0 350.1,224.1 347.5,223.9 347.4,223.5 349.4,223.0 352.2,223.1 353.7,223.5"/>
<polyline points="363.3,220.2 362.5,220.7 361.2,220.9 358.7,220.8 358.1,220.4 358.4,219.7 358.7,219.3 360.6,219.1 362.3,219.8 363.3,220.2"/>
<polyline points="350.5,219.7 349.5,220.1 346.4,220.2 345.3,219.7 345.7,219.1 346.2,218.7 350.9,218.9 350.5,219.7"/>
<polyline points="362.5,223.0 362.3,223.3 360.3,223.5 359.9,223.3 358.1,223.2 357.4,222.9 359.9,222.5 361.4,222.5 362.0,222.6 362.5,223.0"/>
<polyline points="333.9,219.1 333.9,219.4 331.1,219.6 328.5,219.4 328.3,219.1 330.2,218.6 330.6,218.3 333.6,218.8 333.9,219.1"/>
<polyline points="355.6,218.4 354.1,219.7 351.3,219.0 351.5,218.2 353.7,217.6 355.6,218.4"/>
<polyline points="338.2,219.7 337.0,220.2 336.0,220.3 333.5,220.0 334.0,219.5 335.8,219.1 337.5,219.2 338.2,219.7"/>
<polyline points="363.0,213.3 362.8,213.5 361.4,213.9 359.7,213.5 359.5,213.1 360.5,212.6 362.0,212.7 363.0,213.3"/>
<polyline points="344.2,221.0 343.5,222.1 341.4,222.1 340.7,221.4 341.7,220.4 343.6,220.4 344.2,221.0"/>
<polyline points="336.5,224.2 335.2,225.2 333.9,225.3 330.9,224.7 330.5,223.7 333.3,223.5 336.7,223.6 336.5,224.2"/>
<polyline points="334.4,224.1 332.1,225.1 328.0,224.9 327.9,223.7 331.8,223.6 334.4,224.1"/>
<polyline points="365.5,220.9 364.9,222.0 364.3,222.4 363.1,221.9 362.3,221.7 362.2,220.7 362.9,220.2 363.8,220.4 365.3,220.3 365.5,220.9"/>
<polyline points="367.1,210.7 366.4,211.0 365.4,211.4 364.0,211.6 362.8,211.0 363.0,210.2 363.3,209.6 365.4,209.6 366.6,210.0 367.1,210.7"/>
<polyline points="340.9,225.0 339.5,226.1 337.7,225.7 337.1,225.0 338.3,224.1 340.1,224.1 340.9,225.0"/>
<polyline points="342.0,233.4 341.3,234.0 340.5,234.4 339.5,233.9 338.6,233.8 338.9,233.3 339.0,232.7 340.1,232.5 341.2,232.6 342.0,233.4"/>
<polyline points="372.4,224.3 370.6,225.2 369.2,224.8 369.3,223.7 370.8,223.6 372.4,224.3"/>
<polyline points="360.0,240.8 357.8,241.8 354.8,241.3 353.7,240.5 354.1,239.7 357.2,239.6 360.0,240.8"/>
<polyline points="368.4,240.0 367.3,240.6 364.4,240.3 363.9,239.0 366.8,238.7 368.4,240.0"/>
<polyline points="392.9,239.0 391.2,239.5 388.9,239.7 387.8,239.4 387.5,238.9 387.0,238.4 389.2,238.1 392.2,238.4 392.9,239.0"/>
<polyline points="381.9,230.0 381.2,230.5 378.7,230.4 377.4,230.1 377.8,229.5 378.9,229.5 380.7,229.5 381.9,230.0"/>
<polyline points="383.7,233.4 382.5,233.7 379.4,233.9 377.5,233.3 380.0,232.6 382.2,232.5 383.7,233.4"/>
<polyline points="402.2,242.4 401.6,242.9 399.9,243.2 399.5,242.9 398.9,242.1 399.0,241.9 400.1,241.8 401.5,241.9 402.2,242.4"/>
<polyline points="397.1,238.6 395.7,239.1 393.0,239.1 394.0,237.9 395.2,237.6 397.1,238.6"/>
<polyline points="394.6,232.6 394.1,233.0 393.1,233.2 392.7,233.2 391.6,232.8 391.6,232.3 392.5,231.7 393.5,231.9 394.4,231.9 394.6,232.6"/>
<polyline points="413.3,236.6 412.0,236.9 411.6,237.0 410.2,237.0 409.1,236.7 409.2,236.5 409.1,236.2 411.3,236.2 412.8,236.3 413.3,236.6"/>
<polyline points="384.3,237.2 384.1,237.4 381.9,237.9 379.7,237.4 379.6,237.2 380.6,236.6 382.3,236.2 384.1,236.6 384.3,237.2"/>
<polyline points="406.5,230.5 405.2,231.0 403.8,231.0 402.3,231.0 402.1,230.5 402.6,230.1 404.7,230.0 405.8,230.2 406.5,230.5"/>
<polyline points="396.6,235.2 394.8,236.0 393.3,236.2 390.8,235.1 392.1,234.0 395.6,234.2 396.6,235.2"/>
<polyline points="380.7,242.2 378.5,243.2 373.7,242.7 373.9,241.6 377.5,241.4 380.7,242.2"/>
<polyline points="396.2,237.5 394.9,238.2 392.5,238.3 389.7,237.9 390.3,237.2 392.0,237.2 395.6,237.2 396.2,237.5"/>
<polyline points="386.8,237.3 386.6,237.6 385.2,237.8 383.8,237.8 382.5,237.3 382.3,236.8 383.5,236.7 385.0,236.6 386.3,236.9 386.8,237.3"/>
<polyline points="377.0,232.3 375.7,233.3 372.2,233.4 371.2,232.4 371.9,231.4 376.0,231.5 377.0,232.3"/>
<polyline points="401.7,237.4 400.0,238.0 397.5,237.8 396.7,237.7 396.3,237.3 397.4,237.0 400.9,237.2 401.7,237.4"/>
<polyline points="378.8,229.2 377.2,229.8 375.4,230.1 374.0,229.8 373.7,229.3 375.5,228.8 377.8,228.8 378.8,229.2"/>
<polyline points="409.0,239.9 408.0,240.7 405.6,240.7 404.0,239.8 405.7,239.4 407.5,239.3 409.0,239.9"/>
<polyline points="403.2,236.3 402.3,236.7 401.4,236.8 399.2,236.8 398.6,236.3 399.2,236.2 400.5,235.7 401.3,235.7 402.8,236.0 403.2,236.3"/>
<polyline points="354.5,231.7 353.4,231.9 352.6,232.0 350.5,232.1 348.9,231.7 348.9,231.2 350.2,230.9 352.5,231.0 353.0,231.0 354.5,231.7"/>
<polyline points="412.7,236.1 412.2,236.4 409.9,236.6 408.6,235.8 409.7,235.6 411.8,235.5 412.7,236.1"/>
<polyline points="356.2,233.4 354.4,233.6 352.8,233.9 349.5,233.4 349.6,232.8 351.4,232.5 354.7,232.6 356.2,233.4"/>
<polyline points="344.3,235.5 343.5,236.1 340.7,235.9 341.3,235.1 343.4,235.1 344.3,235.5"/>
<polyline points="396.2,233.5 396.1,234.0 394.8,234.4 393.7,234.3 393.3,233.6 394.0,233.3 395.1,232.8 396.0,233.1 396.2,233.5"/>
<polyline points="379.5,224.2 377.9,225.4 375.3,225.3 375.1,224.2 376.4,223.5 377.7,223.6 379.5,224.2"/>
<polyline points="370.8,225.6 370.1,225.8 369.7,226.1 368.6,225.9 368.0,225.5 367.7,224.7 368.4,224.5 369.5,224.5 369.9,224.5 370.8,225.6"/>
<polyline points="403.8,242.6 402.9,243.3 401.2,243.8 400.1,243.1 399.7,242.7 400.1,242.2 402.3,242.0 403.7,242.1 403.8,242.6"/>
<polyline points="390.4,241.5 389.3,241.8 388.4,242.1 386.5,241.8 385.4,241.4 386.1,240.9 387.6,240.8 388.3,240.7 389.5,240.7 390.4,241.5"/>
<polyline points="346.5,236.4 346.4,237.0 345.5,236.9 343.7,237.0 343.0,236.6 342.7,236.2 344.1,235.9 345.3,235.7 346.3,236.0 346.5,236.4"/>
<polyline points="376.7,242.6 375.1,242.8 373.2,242.9 370.5,242.7 370.4,242.4 370.8,241.8 372.4,241.8 374.3,242.0 376.7,242.6"/>
<polyline points="373.9,227.4 373.5,227.6 371.0,228.2 368.8,227.5 369.5,226.8 370.3,226.5 372.6,226.6 373.9,227.4"/>
<polyline points="346.4,234.6 345.7,235.1 344.5,235.3 343.8,234.8 343.5,234.1 344.5,233.7 345.7,233.8 346.4,234.6"/>
<polyline points="375.7,241.0 375.5,241.8 372.0,242.0 371.6,240.9 372.5,240.2 375.3,240.3 375.7,241.0"/>
<polyline points="412.2,233.3 411.7,234.1 409.1,234.2 408.4,233.8 408.6,233.3 409.4,232.7 411.6,232.8 412.2,233.3"/>
<polyline points="410.9,238.4 410.3,239.1 409.4,239.1 408.4,238.6 409.3,238.1 410.7,238.1 410.9,238.4"/>
<polyline points="353.0,239.5 351.7,239.9 351.1,240.1 349.7,239.7 349.9,239.3 350.8,239.2 352.6,239.2 353.0,239.5"/>
<polyline points="389.8,230.2 387.6,231.1 385.1,230.6 384.6,229.6 388.9,229.2 389.8,230.2"/>
<polyline points="362.4,228.4 361.7,229.0 358.2,229.2 357.4,228.4 358.7,227.8 362.2,227.7 362.4,228.4"/>
<polyline points="352.8,238.1 351.7,238.4 349.5,238.9 348.4,238.5 347.5,238.3 347.6,237.7 348.9,237.3 350.0,237.0 351.2,237.3 352.8,238.1"/>
<polyline points="385.0,243.4 385.2,243.9 383.4,244.2 382.8,244.5 381.7,244.0 381.8,243.2 382.5,242.8 383.7,242.6 384.7,243.0 385.0,243.4"/>
<polyline points="390.5,240.0 389.2,240.6 387.4,240.4 387.3,239.7 389.5,239.5 390.5,240.0"/>
<polyline points="362.2,226.0 361.3,226.7 359.9,227.1 358.8,227.1 357.5,226.6 357.3,226.0 357.8,225.6 359.5,225.5 361.2,225.7 362.2,226.0"/>
<polyline points="383.3,241.5 381.3,242.0 380.6,242.1 378.5,242.5 377.0,241.8 376.7,241.1 377.5,240.6 380.0,240.4 381.8,241.1 383.3,241.5"/>
<polyline points="385.5,225.4 383.3,225.7 381.5,225.9 379.7,225.6 378.7,225.3 381.2,224.8 384.1,225.0 385.5,225.4"/>
<polyline points="379.5,243.3 378.6,244.1 376.2,243.9 375.5,243.2 376.4,242.6 378.5,242.8 379.5,243.3"/>
<polyline points="364.6,240.7 363.2,241.5 361.0,241.7 359.3,241.3 359.2,241.1 359.7,240.3 361.9,240.1 363.5,240.5 364.6,240.7"/>
<polyline points="368.8,225.0 367.6,225.6 366.3,225.6 364.7,225.2 365.4,224.7 368.0,224.8 368.8,225.0"/>
<polyline points="370.4,233.1 369.5,234.2 367.6,233.9 367.9,232.4 370.0,232.2 370.4,233.1"/>
<polyline points="357.0,239.9 356.4,240.4 355.4,240.8 354.6,240.6 353.5,239.9 354.3,239.7 355.7,239.4 356.4,239.6 357.0,239.9"/>
<polyline points="388.3,232.4 387.5,233.2 385.6,233.2 383.6,232.8 383.7,232.1 385.1,231.8 386.9,231.8 388.3,232.4"/>
<polyline points="409.5,230.8 407.6,231.7 405.8,231.4 405.3,230.5 408.7,230.2 409.5,230.8"/>
<polyline points="402.3,226.6 401.6,227.4 400.2,227.6 399.2,227.3 398.1,226.5 398.8,226.3 399.2,225.3 400.4,225.1 401.7,225.9 402.3,226.6"/>
<polyline points="444.0,230.8 443.7,231.2 441.3,231.3 440.3,231.0 440.2,230.6 441.6,230.2 443.5,230.2 444.0,230.8"/>
<polyline points="469.4,244.4 467.9,244.6 465.0,244.5 465.9,244.0 468.2,243.9 469.4,244.4"/>
<polyline points="433.9,228.6 432.5,228.9 430.9,229.4 429.8,228.8 428.8,228.7 429.3,227.8 431.9,227.7 433.2,227.9 433.9,228.6"/>
<polyline points="466.7,239.3 465.5,240.0 463.9,240.1 462.4,239.3 463.0,238.9 466.1,239.0 466.7,239.3"/>
<polyline points="431.3,225.4 430.5,225.7 428.3,225.5 428.1,224.8 430.1,224.7 431.3,225.4"/>
<polyline points="451.1,236.7 450.8,237.5 449.6,237.4 448.9,237.0 449.3,236.3 450.2,236.0 450.6,236.1 451.1,236.7"/>
<polyline points="442.3,229.6 441.7,229.8 440.0,229.8 438.2,229.7 438.6,229.4 439.5,229.1 441.4,229.2 442.3,229.6"/>
<polyline points="438.7,229.0 438.7,229.5 437.9,229.5 437.0,229.4 436.6,229.4 437.0,228.8 437.4,228.3 437.8,228.3 438.6,228.5 438.7,229.0"/>
<polyline points="471.4,243.0 470.6,243.3 468.3,243.4 467.0,243.2 466.6,243.0 467.9,242.6 470.8,242.8 471.4,243.0"/>
<polyline points="457.4,238.8 457.0,239.6 456.1,239.6 455.6,239.6 454.5,239.4 454.9,238.9 455.6,238.2 456.2,238.3 457.4,238.6 457.4,238.8"/>
<polyline points="427.1,223.8 426.2,224.2 425.0,224.3 424.6,224.2 422.6,224.0 422.7,223.8 423.6,223.5 425.9,223.4 426.2,223.6 427.1,223.8"/>
<polyline points="470.6,243.8 468.8,244.1 466.5,243.9 466.3,243.1 468.9,243.3 470.6,243.8"/>
<polyline points="439.3,230.0 439.2,230.4 438.3,230.5 437.6,230.2 437.6,229.9 438.1,229.6 439.0,229.6 439.3,230.0"/>
<polyline points="448.2,231.2 445.9,231.6 444.0,231.2 443.8,230.5 445.9,230.6 448.2,231.2"/>
<polyline points="429.7,225.3 428.7,225.6 427.6,225.8 424.9,225.7 424.9,225.3 425.7,224.9 427.1,224.6 428.5,224.7 429.7,225.3"/>
<polyline points="437.7,228.1 437.7,228.4 435.9,228.5 434.8,228.3 434.7,228.0 434.9,227.6 436.8,227.4 437.3,227.4 437.7,228.1"/>
<polyline points="463.3,239.9 462.6,240.1 460.3,240.4 459.3,240.1 458.4,239.8 459.2,239.6 460.3,239.4 462.3,239.3 463.3,239.9"/>
<polyline points="449.9,235.6 448.9,235.9 448.1,235.9 447.7,235.2 448.8,235.1 449.9,235.6"/>
<polyline points="461.0,254.4 461.4,254.7 459.8,255.0 458.7,254.8 457.8,254.7 458.2,254.2 458.8,254.1 459.8,254.1 460.7,254.3 461.0,254.4"/>
<polyline points="456.9,250.9 455.5,251.7 452.2,251.4 452.1,250.5 455.6,250.4 456.9,250.9"/>
<polyline points="448.2,244.5 447.0,245.0 445.5,245.4 445.0,245.2 443.6,245.1 443.2,244.5 445.1,244.1 445.6,243.9 447.1,244.3 448.2,244.5"/>
<polyline points="443.8,235.6 442.6,236.3 440.9,235.9 440.8,235.1 442.3,234.6 443.8,235.6"/>
<polyline points="446.4,246.1 445.3,246.7 444.0,247.1 442.1,246.5 442.2,245.7 443.0,245.2 445.8,245.3 446.4,246.1"/>
<polyline points="441.9,237.2 441.2,237.3 440.9,237.7 439.0,237.6 438.5,237.1 438.5,236.6 439.4,236.3 440.6,236.2 441.2,236.3 441.9,237.2"/>
<polyline points="455.4,239.4 453.3,239.9 450.5,240.3 448.2,239.6 449.7,238.9 453.7,238.8 455.4,239.4"/>
<polyline points="443.1,239.2 442.5,240.4 441.2,240.3 439.7,239.8 439.8,239.1 440.6,238.1 442.5,238.4 443.1,239.2"/>
<polyline points="452.8,248.9 451.6,249.5 450.3,249.8 448.7,249.4 447.5,249.1 448.7,248.5 449.7,248.3 451.2,248.4 452.8,248.9"/>
<polyline points="469.4,257.9 468.2,258.4 465.3,258.5 464.0,257.0 468.5,256.7 469.4,257.9"/>
<polyline points="428.2,241.0 427.8,242.0 427.0,242.0 425.9,241.7 425.3,241.3 425.8,240.8 427.2,240.3 427.9,240.8 428.2,241.0"/>
<polyline points="418.9,241.0 418.1,241.7 417.0,242.1 415.7,241.7 415.5,240.8 416.2,240.4 418.6,240.8 418.9,241.0"/>
<polyline points="435.6,243.0 434.4,243.5 432.7,244.0 430.9,243.9 429.5,243.2 429.3,242.6 430.6,242.2 432.8,242.3 434.2,242.3 435.6,243.0"/>
<polyline points="469.9,248.4 469.8,248.9 467.9,249.1 466.2,248.6 466.9,247.9 467.4,247.5 469.6,247.7 469.9,248.4"/>
<polyline points="440.6,237.3 439.6,238.0 438.0,238.0 436.6,237.9 435.9,237.7 434.4,237.4 437.3,236.7 437.6,236.6 439.8,237.1 440.6,237.3"/>
<polyline points="446.3,242.6 445.1,243.1 443.1,243.2 442.4,242.7 443.7,242.3 444.7,242.3 446.3,242.6"/>
<polyline points="467.2,255.0 466.8,255.6 464.3,256.0 462.4,255.8 460.5,255.6 461.2,254.8 461.8,254.6 464.2,254.4 467.0,254.7 467.2,255.0"/>
<polyline points="462.7,249.5 462.2,249.9 460.3,250.3 457.6,250.0 456.0,249.4 456.9,248.9 458.5,248.6 461.6,248.8 462.7,249.5"/>
<polyline points="460.4,247.4 459.5,248.2 458.5,248.1 457.3,247.7 456.8,246.6 458.0,246.1 459.3,246.3 460.4,247.4"/>
<polyline points="445.6,249.1 443.9,249.9 440.9,249.7 441.3,248.2 443.0,247.8 445.6,249.1"/>
<polyline points="436.6,231.9 436.3,232.4 434.8,232.7 433.2,232.6 432.0,232.2 430.8,231.6 432.0,231.0 434.8,231.0 436.4,231.1 436.6,231.9"/>
<polyline points="430.1,237.6 429.3,238.4 427.2,238.3 426.1,237.6 426.4,237.3 428.6,237.2 430.1,237.6"/>
<polyline points="435.4,230.6 435.4,230.9 433.9,231.1 431.5,231.1 431.0,230.7 431.0,230.5 431.9,230.2 433.9,230.2 434.3,230.3 435.4,230.6"/>
<polyline points="420.1,243.3 417.6,244.2 414.2,243.6 414.8,242.3 417.7,242.2 420.1,243.3"/>
<polyline points="433.0,248.6 431.5,249.2 429.3,249.1 428.1,248.5 429.6,247.8 431.3,247.6 433.0,248.6"/>
<polyline points="404.4,231.5 405.3,231.9 401.1,232.5 399.5,232.2 398.2,231.7 397.9,231.3 399.5,230.6 401.2,230.7 403.8,230.7 404.4,231.5"/>
<polyline points="437.9,234.5 437.2,235.2 434.3,235.5 431.6,235.1 431.4,234.5 434.9,233.8 437.3,234.1 437.9,234.5"/>
<polyline points="435.1,247.8 434.8,248.5 431.6,248.5 429.4,247.6 431.3,247.0 434.8,247.3 435.1,247.8"/>
<polyline points="422.2,243.9 420.6,244.4 419.2,244.9 418.4,244.5 416.6,243.9 416.8,243.2 418.4,242.7 420.1,242.9 421.9,243.4 422.2,243.9"/>
<polyline points="414.7,232.0 413.3,232.5 410.2,232.7 409.9,231.9 410.2,231.5 413.7,231.5 414.7,232.0"/>
<polyline points="461.2,257.2 460.8,257.6 459.6,257.8 458.0,257.9 457.5,257.5 457.8,257.1 458.0,256.9 460.0,256.9 461.6,257.0 461.2,257.2"/>
<polyline points="431.1,241.4 429.6,242.1 426.1,242.0 425.6,240.9 428.5,240.0 431.1,241.4"/>
<polyline points="445.3,250.3 443.9,251.0 441.8,251.4 439.7,251.1 439.0,250.5 440.8,249.6 441.3,249.3 444.5,249.5 445.3,250.3"/>
<polyline points="444.2,249.6 442.6,250.1 441.1,249.9 437.6,249.8 437.1,249.4 437.8,249.1 441.1,248.8 442.2,249.0 444.2,249.6"/>
<polyline points="465.7,246.1 464.5,247.0 462.9,247.0 461.6,246.3 462.4,245.8 464.5,245.7 465.7,246.1"/>
<polyline points="445.3,247.7 443.6,248.5 442.5,248.6 440.7,248.1 441.1,247.5 441.9,247.1 443.9,246.8 445.3,247.7"/>
<polyline points="471.3,247.9 470.4,248.2 469.1,248.4 465.8,248.3 464.5,248.4 464.1,247.4 465.6,246.8 467.6,246.8 470.0,247.3 471.3,247.9"/>
<polyline points="407.5,227.8 406.9,228.2 405.8,228.8 402.6,228.6 402.0,228.1 401.5,227.5 403.5,227.0 404.6,227.1 407.0,227.2 407.5,227.8"/>
<polyline points="418.0,229.7 416.3,230.5 414.4,230.5 412.4,230.3 412.8,229.7 414.9,229.2 416.7,229.3 418.0,229.7"/>
<polyline points="453.4,244.8 452.8,245.5 451.9,245.6 450.0,245.2 449.5,244.6 450.1,244.3 451.4,243.6 452.7,244.1 453.4,244.8"/>
<polyline points="495.8,247.0 495.4,247.7 495.2,248.2 494.2,247.9 494.0,247.4 494.2,246.8 494.7,246.3 495.0,246.3 495.5,246.4 495.8,247.0"/>
<polyline points="497.1,231.2 497.1,231.8 496.5,232.1 496.0,232.0 495.3,231.6 495.1,230.9 496.0,230.0 496.6,230.1 497.3,230.4 497.1,231.2"/>
<polyline points="493.2,250.4 493.1,250.8 492.0,251.1 491.5,250.9 491.1,250.5 491.2,250.0 492.4,249.4 493.1,249.9 493.2,250.4"/>
<polyline points="493.5,243.4 492.9,243.9 492.7,244.3 491.9,244.3 491.6,243.7 491.3,243.1 491.6,242.9 492.6,242.7 493.1,243.0 493.5,243.4"/>
<polyline points="502.6,255.0 502.0,255.4 501.3,256.6 500.2,255.4 499.6,254.7 500.3,253.3 501.4,252.7 501.9,252.9 502.6,255.0"/>
<polyline points="492.6,246.2 492.5,247.0 490.7,247.2 490.0,246.9 490.1,245.8 491.4,245.4 492.5,245.5 492.6,246.2"/>
<polyline points="493.6,228.1 492.7,229.5 491.7,229.6 491.1,228.8 492.0,227.0 492.9,227.2 493.6,228.1"/>
<polyline points="501.4,228.4 500.9,229.3 500.1,229.8 499.8,228.3 499.9,227.1 500.8,227.6 501.4,228.4"/>
<polyline points="495.8,245.5 495.8,245.9 495.3,246.2 494.8,246.2 494.7,245.4 494.7,245.2 495.0,244.8 495.5,244.7 495.7,244.6 495.8,245.5"/>
<polyline points="490.2,235.3 489.7,235.8 488.0,235.8 488.0,234.6 489.6,234.5 490.2,235.3"/>
<polyline points="498.7,242.5 498.3,244.5 497.0,243.9 497.0,241.7 498.0,241.2 498.7,242.5"/>
<polyline points="498.3,228.9 498.2,229.8 497.3,230.3 496.1,229.5 495.9,228.8 496.9,228.5 497.8,228.2 498.3,228.9"/>
<polyline points="494.1,232.0 493.0,232.7 491.5,232.6 491.6,231.7 492.9,231.5 494.1,232.0"/>
<polyline points="500.1,229.9 499.9,230.9 498.7,231.2 497.7,230.0 498.5,229.2 499.4,229.2 500.1,229.9"/>
<polyline points="495.5,227.8 494.8,228.3 494.0,228.5 493.9,227.6 494.3,226.9 494.8,226.7 495.5,227.8"/>
<polyline points="497.7,234.7 496.1,235.9 494.5,235.0 494.6,233.0 496.9,232.8 497.7,234.7"/>
<polyline points="497.9,242.6 497.0,243.6 495.7,243.6 494.6,243.2 494.5,242.6 494.6,241.8 496.4,241.6 497.3,241.7 497.9,242.6"/>
<polyline points="496.2,248.9 495.9,249.8 495.0,249.5 494.1,248.4 494.9,247.7 495.9,247.5 496.2,248.9"/>
<polyline points="498.9,241.1 498.6,242.3 496.8,243.2 495.3,242.3 495.2,240.9 496.3,240.5 497.0,240.0 498.3,239.9 498.9,241.1"/>
<polyline points="493.1,234.2 493.2,235.3 492.3,235.3 491.7,235.1 491.8,234.0 492.2,233.0 493.0,233.4 493.1,234.2"/>
<polyline points="499.0,252.8 499.0,253.7 498.6,254.3 498.0,254.1 497.7,253.4 497.6,252.0 498.0,251.6 498.5,250.8 498.8,251.6 499.0,252.8"/>
<polyline points="496.7,234.0 496.7,234.4 496.0,234.8 495.6,234.4 495.1,234.3 495.0,233.7 495.6,233.0 495.9,233.1 496.6,233.6 496.7,234.0"/>
<polyline points="491.8,247.5 491.3,249.0 490.6,248.8 490.1,247.5 490.5,246.4 491.2,246.8 491.8,247.5"/>
<polyline points="494.5,235.4 493.1,236.6 491.3,236.3 491.4,234.7 492.7,234.0 494.5,235.4"/>
<polyline points="502.2,251.9 501.7,253.4 500.1,252.9 499.5,252.2 500.0,250.6 501.4,250.6 502.2,251.9"/>
<polyline points="491.6,247.4 491.3,248.4 488.6,247.7 489.4,246.3 491.3,245.7 491.6,247.4"/>
<polyline points="501.5,257.8 499.9,259.5 498.9,259.1 498.7,256.5 500.4,256.0 501.5,257.8"/>
<polyline points="499.0,233.6 498.5,234.8 496.8,235.1 496.4,232.9 498.0,231.6 499.0,233.6"/>
<polyline points="499.9,254.9 499.4,255.6 498.1,255.9 497.1,255.5 497.3,254.1 497.1,253.5 498.6,253.0 499.7,253.4 499.9,254.9"/>
<polyline points="491.4,231.4 490.3,232.8 489.2,232.8 488.1,231.4 488.4,230.3 490.7,230.1 491.4,231.4"/>
<polyline points="496.6,253.2 496.1,254.1 495.1,253.7 495.4,252.7 495.9,252.4 496.6,253.2"/>
<polyline points="499.3,227.2 499.3,227.9 498.6,228.3 498.1,228.1 497.9,227.4 498.3,226.4 498.6,226.1 499.3,226.6 499.3,227.2"/>
<polyline points="312.2,281.8 311.3,283.1 310.2,283.0 309.9,281.5 310.4,280.3 311.8,280.2 312.2,281.8"/>
<polyline points="296.0,277.6 295.6,279.0 295.3,279.2 294.5,278.9 294.4,277.8 294.6,276.5 295.1,276.5 295.9,276.4 296.0,277.6"/>
<polyline points="321.4,297.2 320.7,298.2 319.0,298.0 319.2,296.7 320.6,296.7 321.4,297.2"/>
<polyline points="296.5,278.1 296.0,278.5 295.2,279.0 293.9,278.9 293.4,278.2 293.3,277.8 294.2,277.4 295.3,277.4 295.6,277.4 296.5,278.1"/>
<polyline points="325.2,295.1 324.5,295.4 323.6,295.9 321.7,295.9 321.6,295.5 321.3,294.5 322.5,293.6 323.8,293.8 324.3,294.2 325.2,295.1"/>
<polyline points="309.4,278.8 308.7,279.4 308.2,279.6 307.5,279.3 307.3,279.0 307.3,278.3 308.4,278.0 309.1,278.2 309.4,278.8"/>
<polyline points="304.2,280.1 304.1,280.2 302.9,280.4 301.7,280.4 301.2,280.3 301.1,279.5 301.7,279.1 303.0,279.0 303.9,279.3 304.2,280.1"/>
<polyline points="306.3,287.2 306.1,287.9 305.6,288.1 305.1,287.7 304.7,287.4 305.2,286.9 305.6,286.5 306.2,286.9 306.3,287.2"/>
<polyline points="298.4,273.1 297.3,273.9 295.7,273.6 295.3,271.8 296.9,271.9 298.4,273.1"/>
<polyline points="293.3,268.3 292.8,269.3 291.6,269.8 290.8,269.6 290.5,268.8 290.6,267.6 292.1,266.6 292.9,267.8 293.3,268.3"/>
<polyline points="316.1,294.2 315.2,295.4 313.6,295.6 313.6,294.0 314.3,293.2 315.2,293.1 316.1,294.2"/>
<polyline points="308.2,278.3 307.8,278.9 306.5,279.2 305.5,278.2 306.8,277.3 307.6,277.3 308.2,278.3"/>
<polyline points="311.7,278.3 311.2,279.3 309.0,279.0 309.0,277.8 311.3,277.3 311.7,278.3"/>
<polyline points="310.2,287.9 309.5,289.3 308.5,289.3 307.7,287.5 308.1,286.8 309.4,286.4 310.2,287.9"/>
<polyline points="317.6,294.4 317.2,296.0 317.0,296.0 316.0,296.0 315.4,295.5 315.4,294.0 315.8,293.2 316.8,293.1 317.6,293.4 317.6,294.4"/>
<polyline points="310.6,283.9 309.8,284.4 308.9,284.8 308.3,284.1 308.1,283.2 309.1,282.4 309.8,282.9 310.6,283.9"/>
<polyline points="306.9,283.6 306.4,284.7 305.6,284.6 305.0,283.5 305.8,282.3 306.6,282.2 306.9,283.6"/>
<polyline points="322.5,297.4 322.1,298.2 321.5,298.5 320.9,298.3 320.3,298.1 320.2,296.8 321.0,296.3 321.3,296.5 322.2,297.0 322.5,297.4"/>
<polyline points="322.7,292.6 322.7,293.4 321.8,293.5 321.4,293.3 320.8,292.6 321.5,292.4 322.1,292.2 322.6,292.3 322.7,292.6"/>
<polyline points="309.6,280.5 309.2,281.3 308.3,282.1 308.1,281.1 307.9,279.8 308.4,279.3 309.3,279.5 309.6,280.5"/>
<polyline points="322.8,293.6 321.9,294.6 320.9,294.2 320.9,292.9 322.1,292.9 322.8,293.6"/>
<polyline points="301.5,270.4 300.8,271.1 299.9,271.2 299.1,269.8 300.1,268.6 301.0,269.2 301.5,270.4"/>
<polyline points="307.7,279.7 307.2,280.9 306.3,280.5 306.2,279.2 306.4,277.8 307.4,277.9 307.7,279.7"/>
<polyline points="316.1,282.1 315.1,283.7 313.4,283.4 313.2,281.9 315.4,281.4 316.1,282.1"/>
<polyline points="311.7,288.2 310.4,289.8 309.1,288.9 309.2,287.1 310.5,286.5 311.7,288.2"/>
<polyline points="297.0,266.8 297.0,267.5 295.7,268.1 295.3,267.9 294.8,267.0 295.1,265.8 295.5,265.7 297.2,266.2 297.0,266.8"/>
<polyline points="322.8,291.1 322.6,292.7 321.7,293.1 320.5,291.7 320.6,290.6 321.0,290.3 322.8,290.5 322.8,291.1"/>
<polyline points="315.7,292.2 315.1,293.1 314.1,293.5 313.8,292.1 314.4,291.1 315.4,291.2 315.7,292.2"/>
<polyline points="308.6,284.7 308.2,286.1 306.4,285.7 305.8,284.2 306.6,283.5 308.0,283.2 308.6,284.7"/>
<polyline points="311.5,276.5 311.3,276.9 311.1,277.2 310.4,277.0 309.7,276.8 310.0,276.5 310.5,276.1 310.9,275.8 311.3,276.3 311.5,276.5"/>
<polyline points="294.8,269.7 294.7,270.5 293.2,271.1 292.6,270.4 292.3,270.1 292.4,269.4 293.3,269.0 294.6,269.4 294.8,269.7"/>
<polyline points="308.6,282.8 307.8,283.5 306.7,283.4 305.9,283.6 305.8,282.3 306.2,281.4 306.7,280.7 307.9,281.0 308.6,282.8"/>
<polyline points="303.5,284.3 303.2,285.7 301.3,285.9 300.7,284.2 301.5,283.0 302.7,283.2 303.5,284.3"/>
<polyline points="307.4,286.4 307.2,286.8 306.0,287.4 305.4,287.0 304.8,286.4 305.4,285.7 305.9,285.2 307.2,285.4 307.4,286.4"/>
<polyline points="294.6,267.9 294.8,269.0 294.2,269.3 293.3,269.4 293.3,269.1 293.2,267.1 293.5,267.3 294.3,266.5 294.6,267.0 294.6,267.9"/>
<polyline points="309.6,273.2 308.9,274.4 307.4,274.7 306.7,273.6 307.5,272.5 308.7,272.6 309.6,273.2"/>
<polyline points="310.2,280.3 310.0,282.0 309.0,282.2 308.6,281.4 308.6,280.6 308.8,279.2 309.3,278.9 310.1,279.7 310.2,280.3"/>
<polyline points="293.7,275.7 293.6,276.1 291.6,276.1 290.8,275.9 290.7,275.5 292.1,275.1 292.9,275.2 293.7,275.7"/>
<polyline points="322.0,292.4 321.5,293.5 319.0,293.5 318.8,290.8 320.8,290.8 322.0,292.4"/>
<polyline points="290.3,269.0 289.9,269.6 289.4,270.5 288.7,270.2 288.2,269.5 288.2,268.9 288.4,268.5 289.6,268.3 289.8,268.5 290.3,269.0"/>
<polyline points="300.1,270.4 299.7,271.3 298.7,271.6 298.0,271.4 297.8,270.0 298.7,269.4 299.4,269.2 300.1,270.4"/>
<polyline points="314.8,278.4 314.0,279.3 312.7,279.0 313.1,277.9 314.3,277.5 314.8,278.4"/>
<polyline points="312.7,284.6 311.9,285.7 310.2,284.9 310.3,283.5 311.3,282.7 312.7,284.6"/>
<polyline points="315.7,281.0 315.8,282.0 314.9,282.2 314.7,282.2 313.9,281.4 314.1,280.2 314.7,280.1 314.9,280.1 315.3,280.3 315.7,281.0"/>
<polyline points="300.9,280.8 300.8,282.7 300.0,282.7 298.3,282.2 298.4,281.4 298.3,280.3 299.6,279.5 300.6,279.8 300.9,280.8"/>
<polyline points="299.4,280.1 298.4,281.7 297.2,281.9 296.5,280.2 297.1,278.8 298.6,278.7 299.4,280.1"/>
<polyline points="297.2,275.7 295.8,277.6 294.6,277.6 294.0,275.9 294.7,274.9 296.3,274.8 297.2,275.7"/>
<polyline points="322.5,293.9 322.3,294.3 320.6,294.4 320.4,293.7 321.2,293.0 321.8,293.2 322.5,293.9"/>
<polyline points="309.6,281.7 309.2,282.6 308.9,282.7 308.2,282.4 308.3,281.2 308.7,280.4 309.3,280.7 309.6,281.7"/>
<polyline points="310.1,275.1 309.2,276.4 308.0,276.5 306.6,275.8 308.0,273.6 309.0,273.7 310.1,275.1"/>
<polyline points="308.4,274.7 307.5,275.5 306.6,275.4 305.5,275.1 304.7,274.5 306.2,273.7 307.6,274.2 308.4,274.7"/>
<polyline points="324.6,293.1 324.7,294.1 323.6,295.2 323.2,295.0 322.5,293.7 322.4,292.9 322.9,291.9 324.0,292.2 324.4,292.5 324.6,293.1"/>
<polyline points="323.7,294.8 323.4,295.8 322.5,296.0 321.6,295.4 321.8,294.5 322.7,293.9 323.7,294.3 323.7,294.8"/>
<polyline points="297.5,275.7 297.2,276.5 296.4,276.8 295.6,276.1 295.5,275.5 296.6,274.8 297.2,275.4 297.5,275.7"/>
<polyline points="308.6,277.4 308.7,277.8 307.5,278.2 307.2,278.2 306.9,277.7 306.7,276.7 306.8,276.0 307.8,275.8 308.7,276.3 308.6,277.4"/>
<polyline points="324.5,299.2 323.8,300.2 323.1,300.0 323.0,298.4 323.7,297.7 324.5,299.2"/>
<polyline points="302.3,279.3 302.3,279.7 301.2,280.1 299.8,279.9 299.5,279.6 299.7,279.0 300.2,278.5 301.0,278.4 301.9,278.6 302.3,279.3"/>
<polyline points="296.7,278.1 296.7,279.6 295.3,279.8 294.5,279.1 294.4,277.7 295.2,276.5 296.5,277.2 296.7,278.1"/>
<polyline points="315.0,283.5 314.3,284.8 312.4,285.0 311.6,283.6 312.8,282.6 314.2,282.6 315.0,283.5"/>
<polyline points="296.1,275.9 295.2,276.5 294.3,276.5 294.2,275.1 295.2,274.3 296.1,275.9"/>
<polyline points="445.4,264.4 445.3,264.8 444.6,264.9 443.9,265.0 443.0,264.4 443.3,264.3 443.6,263.7 444.2,263.5 444.9,263.7 445.4,264.4"/>
<polyline points="447.3,254.2 446.9,255.2 446.5,255.5 445.2,255.1 445.1,254.6 445.2,253.7 446.0,253.2 447.0,253.7 447.3,254.2"/>
<polyline points="441.3,264.9 440.5,265.4 439.3,265.5 438.6,265.5 438.5,264.8 439.0,264.2 440.1,264.3 441.3,264.9"/>
<polyline points="438.6,265.8 438.2,266.7 437.9,266.8 437.3,266.6 437.3,265.8 437.6,264.8 438.3,265.0 438.6,265.8"/>
<polyline points="459.3,268.5 458.5,269.4 458.3,269.9 456.9,269.7 456.7,268.8 456.4,268.6 457.0,267.8 458.1,267.5 459.1,268.1 459.3,268.5"/>
<polyline points="440.2,253.6 439.3,254.1 439.0,254.3 437.3,254.1 437.4,253.7 437.6,253.1 438.9,252.9 439.7,253.3 440.2,253.6"/>
<polyline points="464.5,273.7 463.9,274.0 463.4,274.5 463.1,274.5 462.4,273.6 462.9,273.0 462.8,272.7 463.4,272.6 464.4,272.9 464.5,273.7"/>
<polyline points="447.3,262.5 446.8,263.9 444.8,263.2 444.8,261.6 446.5,261.3 447.3,262.5"/>
<polyline points="448.1,253.0 447.8,254.1 446.4,254.2 446.2,254.1 445.2,253.5 445.4,252.8 446.0,252.5 446.5,252.0 447.2,252.6 448.1,253.0"/>
<polyline points="464.8,271.4 464.3,272.3 463.4,272.2 463.3,272.3 462.4,272.1 462.5,270.7 463.1,270.2 463.5,270.2 464.3,270.9 464.8,271.4"/>
<polyline points="442.2,256.9 442.1,257.7 440.9,258.0 439.7,257.5 439.3,257.1 439.0,256.7 439.4,256.4 441.0,256.2 441.8,256.5 442.2,256.9"/>
<polyline points="436.9,259.3 436.4,259.7 435.4,260.2 434.4,260.0 433.2,259.2 433.4,258.4 434.0,257.8 435.2,257.5 436.1,258.0 436.9,259.3"/>
<polyline points="451.2,264.4 450.6,265.1 450.3,265.8 448.3,265.3 447.4,264.7 447.6,264.6 448.4,264.1 449.9,263.9 450.4,264.2 451.2,264.4"/>
<polyline points="443.5,260.0 443.1,260.4 442.4,260.7 442.0,260.4 441.5,259.9 442.0,259.7 442.7,259.4 443.2,259.7 443.5,260.0"/>
<polyline points="465.9,272.5 465.8,272.9 464.5,273.1 462.8,272.7 462.9,272.3 464.2,271.9 465.3,271.7 465.9,272.5"/>
<polyline points="437.9,254.4 437.7,255.0 436.7,255.2 436.0,255.4 435.8,254.6 435.6,253.5 435.8,253.0 437.3,253.0 437.8,253.4 437.9,254.4"/>
</g>
<g id="mapthick" fill="none" stroke="#000" stroke-width="2" shape-rendering="crispEdges">
</g>
</defs>
<g transform="translate(0,0)"><g clip-path="url(#cp)">
<polygon points="401.4,243.3 408.9,241.8 416.4,247.7 431.3,246.2 446.2,244.7 458.2,247.7 468.6,253.7 465.6,265.6 453.7,274.6 446.2,280.6 438.8,279.1 429.8,280.6 416.4,282.1 410.4,284.3 401.4,277.6 395.5,268.6 397.0,253.7" fill="#fffaaa" stroke="none"/>
<polygon points="422.3,257.4 431.3,257.4 432.0,262.7 423.8,262.7" fill="#ffc03c" stroke="none"/>
<polygon points="473.1,243.3 480.6,241.8 491.0,250.7 504.5,258.2 504.5,288.0 491.0,289.5 480.6,286.6 470.1,277.6 467.1,265.6 470.1,253.7" fill="#fffaaa" stroke="none"/>
<polygon points="491.0,265.6 497.0,267.1 504.5,271.6 504.5,277.6 495.5,277.6 491.0,273.1" fill="#ffc03c" stroke="none"/>
<polygon points="282.0,270.1 291.0,274.6 296.2,283.6 295.4,294.0 288.0,300.7 282.0,300.7" fill="#fffaaa" stroke="none"/>
<polygon points="282.0,279.1 288.0,280.6 288.0,288.0 282.0,288.0" fill="#ffc03c" stroke="none"/>
<use href="#map"/>
<polyline points="335.9,291.3 342.9,290.4 350.5,288.6 358.7,285.0 366.0,283.5 375.0,281.7 382.8,281.8 394.0,282.9 401.3,282.7 408.8,281.8 420.9,279.0 433.4,279.0 441.1,279.0 449.1,279.4 460.9,280.9 473.3,281.4 481.3,281.1 488.2,281.4 497.4,281.3 506.2,281.4" fill="none" stroke="#00a0ff" stroke-width="1" shape-rendering="crispEdges"/>
<polyline points="326.2,262.2 335.7,261.0 346.3,259.0 353.4,258.7 364.5,258.6 376.1,258.3 384.8,260.1 394.7,262.1 402.3,263.9 414.3,266.4 426.0,269.5 437.1,274.5 446.4,277.6 456.9,281.6 467.0,286.8 477.1,292.8 482.4,297.8 489.0,303.5 497.1,306.7 509.1,307.6" fill="none" stroke="#00a0ff" stroke-width="1" shape-rendering="crispEdges"/>
<polyline points="292.2,304.9 302.5,302.8 309.5,302.4 315.8,300.5 325.3,295.7 334.2,290.9 341.0,288.1 351.7,286.0 359.9,284.3 369.5,283.3 376.5,285.1 383.5,287.6 391.9,289.6 398.7,292.0 409.7,296.0 418.7,298.5 430.4,300.6 438.4,301.4 447.5,301.1 458.6,301.1 468.0,300.5 479.3,300.8 486.6,302.8 496.1,303.1 505.4,302.8" fill="none" stroke="#00a0ff" stroke-width="1" shape-rendering="crispEdges"/>
<polyline points="314.5,292.4 322.4,291.9 331.5,290.4 341.4,288.4 349.8,285.9 357.6,283.6 364.1,281.7 373.1,278.6 381.0,275.0 389.0,271.9 397.2,267.9 406.2,264.5 415.0,260.4 423.8,255.3 429.4,249.5 436.0,242.6 443.5,235.8 449.4,229.0 456.2,223.0 463.4,218.8 471.9,216.8 480.7,213.9 489.3,212.8 495.6,212.4 503.3,212.4 512.1,212.8" fill="none" stroke="#00a0ff" stroke-width="1" shape-rendering="crispEdges"/>
<polyline points="293.2,246.2 302.1,247.7 308.7,247.7 315.2,247.9 320.9,248.1 328.9,248.0 337.8,247.3 346.3,247.6 353.5,248.9 362.4,249.3 368.6,249.0 375.7,248.6 382.1,249.0 387.5,249.3 394.7,248.8 401.6,249.1 408.5,250.1 414.0,251.7 422.0,254.3 429.2,257.0 437.7,259.5 444.4,262.2 451.4,264.1 457.3,267.4 462.7,271.7 469.1,276.4 474.2,278.8 480.3,283.0 485.2,286.3 489.7,288.6 497.1,293.4 501.9,296.2 508.9,301.9" fill="none" stroke="#00a0ff" stroke-width="1" shape-rendering="crispEdges"/>
<polyline points="286.7,232.0 296.1,233.8 302.6,235.1 308.6,235.8 316.5,237.5 323.9,239.0 332.6,239.8 338.5,239.5 346.3,239.3 353.1,238.5 360.5,237.3 367.5,237.5 373.0,237.6 379.4,236.7 388.1,233.1 395.7,231.0 403.0,230.9 411.0,231.1 418.5,231.1 427.9,229.6 436.9,227.5 443.2,227.0 448.8,226.3 457.8,227.7 464.4,228.6 473.3,228.9 480.8,230.1 488.6,231.3 494.6,231.9 502.5,233.2 508.7,234.8" fill="none" stroke="#00a0ff" stroke-width="1" shape-rendering="crispEdges"/>
<polyline points="295.3,261.7 301.7,261.3 307.0,260.6 314.3,259.7 322.8,259.0 331.6,257.8 337.1,256.9 342.5,255.3 348.0,253.8 354.8,251.8 360.3,249.6 366.5,245.9 373.3,243.0 378.0,241.7 384.8,241.0 391.1,241.2 396.4,240.5 402.1,238.4 407.3,235.6 414.8,231.1 419.1,228.4 424.0,225.3 432.0,221.6 439.2,217.8 445.3,215.7 450.3,213.7 457.3,212.3 462.3,211.6 468.9,211.8 475.4,211.5 480.4,209.9 487.3,208.9 495.5,207.3 504.1,206.1 511.8,204.2" fill="none" stroke="#00a0ff" stroke-width="1" shape-rendering="crispEdges"/>
<polyline points="287.1,243.8 293.6,245.4 300.8,246.4 307.8,248.5 315.6,252.3 323.3,257.7 330.8,260.4 338.4,263.9 345.7,265.6 351.6,266.3 357.3,267.4 366.8,269.4 372.4,269.3 380.2,269.4 387.7,270.5 395.4,270.7 401.7,271.2 409.0,272.2 415.3,271.7 422.0,272.4 428.9,272.9 435.5,274.0 445.4,275.1 452.6,275.9 461.0,278.3 468.7,279.8 477.2,281.7 484.0,283.0 490.4,283.3 496.8,282.1 502.7,281.5 510.1,280.4" fill="none" stroke="#00a0ff" stroke-width="1" shape-rendering="crispEdges"/>
<polyline points="290.2,264.4 297.9,261.1 305.9,258.3 317.4,256.5 326.2,255.5 337.3,252.7 345.3,251.0 357.7,251.4 368.4,252.2 376.8,254.3 388.8,256.1 399.9,258.9 410.6,262.1 418.1,262.3 430.4,262.4 442.8,259.9 455.7,258.0 466.8,256.8 475.1,257.2 487.2,257.6 494.6,259.7 502.1,261.6 513.6,263.3" fill="none" stroke="#00a0ff" stroke-width="1" shape-rendering="crispEdges"/>
<polyline points="291.1,283.8 298.8,282.3 306.6,278.4 312.9,275.7 319.9,272.1 330.2,269.4 338.1,268.3 345.6,267.6 352.3,267.2 359.7,265.7 366.2,264.8 373.4,263.8 381.1,262.5 389.4,260.7 397.3,259.4 408.2,257.8 417.5,254.8 425.7,252.4 435.4,247.9 443.8,242.3 450.7,235.0 456.7,229.3 462.9,226.2 470.2,223.7 479.8,221.4 489.9,219.5 499.1,218.9 506.1,219.3" fill="none" stroke="#00a0ff" stroke-width="1" shape-rendering="crispEdges"/>
<polyline points="343.4,232.4 349.1,233.6 356.6,234.8 362.1,236.1 369.2,238.5 376.5,240.8 382.7,243.7 388.3,247.5 393.5,250.3 399.7,254.6 406.2,258.9 410.9,262.0 415.4,264.0 420.5,266.2 425.6,269.0 430.3,270.6 437.8,273.4 444.0,275.3 452.3,276.7 458.5,277.8 466.7,277.2 473.2,276.5 481.0,276.3 489.5,273.9 495.9,273.0 501.4,272.4 506.7,271.6" fill="none" stroke="#00a0ff" stroke-width="1" shape-rendering="crispEdges"/>
<polyline points="290.6,304.7 298.8,305.0 305.7,304.8 315.0,304.4 324.0,305.2 333.8,307.1 342.1,310.2 350.0,313.2 359.2,314.7 367.3,315.9 377.7,317.6 386.4,317.3 394.4,317.5 405.0,317.8 411.8,319.4 418.9,321.1 427.1,324.6 436.5,328.6 446.1,333.4 451.7,335.4 457.3,337.6 463.4,339.2 470.7,341.5 480.5,343.4 488.8,345.7 497.1,346.6 504.6,347.2 514.5,347.3" fill="none" stroke="#00a0ff" stroke-width="1" shape-rendering="crispEdges"/>
<polyline points="296.9,247.3 305.8,250.0 313.3,251.4 324.4,252.8 333.6,252.5 342.4,252.9 350.9,252.8 358.7,251.3 368.7,247.4 375.7,245.1 385.3,241.2 396.3,238.8 404.9,235.0 415.7,229.0 423.9,225.7 435.8,221.3 443.8,220.3 454.1,220.2 464.6,220.7 475.0,222.2 485.5,225.0 492.6,226.8 502.4,227.9 510.7,231.0" fill="none" stroke="#00a0ff" stroke-width="1" shape-rendering="crispEdges"/>
<polyline points="295.6,313.7 305.8,308.4 312.9,306.5 321.3,304.4 330.5,300.5 339.5,298.5 346.8,296.1 358.6,294.8 369.9,291.7 381.0,288.1 388.0,284.6 396.2,282.4 408.5,280.9 419.5,282.2 428.8,283.3 435.0,286.0 440.7,290.9 446.2,294.7 456.0,299.6 464.4,304.1 469.9,308.0 480.1,312.9 486.7,317.2 494.3,321.2 503.2,326.7 512.0,333.4" fill="none" stroke="#00a0ff" stroke-width="1" shape-rendering="crispEdges"/>
<polyline points="287.2,279.0 293.1,277.6 300.2,277.3 310.7,278.0 319.0,279.2 325.1,278.4 332.6,278.9 342.0,279.4 349.5,279.5 357.5,280.3 365.0,280.9 371.8,280.9 382.3,280.7 388.4,279.6 395.4,278.5 403.6,278.8 409.6,278.4 417.2,276.4 425.7,275.2 434.6,275.1 440.4,274.2 448.2,274.6 458.2,274.8 465.7,275.7 476.1,273.5 482.4,272.0 490.4,266.9 497.0,258.5 501.8,253.8 506.9,247.6" fill="none" stroke="#00a0ff" stroke-width="1" shape-rendering="crispEdges"/>
<polyline points="289.4,301.2 295.7,299.3 305.1,295.9 315.1,292.7 323.2,289.0 331.5,285.4 340.8,282.5 347.1,280.9 354.1,279.3 363.7,276.5 371.3,273.9 382.3,271.1 390.2,270.1 396.9,268.4 407.7,264.6 416.7,262.0 426.9,256.1 433.4,253.1 441.2,249.8 448.4,246.8 454.3,244.2 461.2,241.0 468.2,237.9 476.2,236.3 486.2,234.5 497.1,231.5 505.6,229.3" fill="none" stroke="#00a0ff" stroke-width="1" shape-rendering="crispEdges"/>
<polyline points="341.3,280.0 353.9,278.0 362.0,277.7 374.7,277.3 386.1,278.3 396.3,279.9 405.1,279.1 415.4,280.3 424.5,281.6 434.5,282.3 444.3,282.2 451.7,281.8 459.6,282.3 472.5,283.7 484.2,284.8 495.6,286.9 506.3,288.3" fill="none" stroke="#00a0ff" stroke-width="1" shape-rendering="crispEdges"/>
<polyline points="293.2,285.7 304.7,289.2 317.0,290.8 326.1,291.1 337.1,292.7 347.5,295.1 354.6,296.0 364.1,295.6 373.6,293.8 384.0,292.9 394.8,289.9 405.6,286.5 416.4,283.1 424.8,280.5 435.7,275.4 447.3,270.2 456.0,266.4 463.9,262.6 474.7,256.8 483.0,253.5 491.6,250.0 501.7,245.7 512.1,243.6" fill="none" stroke="#00a0ff" stroke-width="1" shape-rendering="crispEdges"/>
<polyline points="345.6,270.3 352.8,270.1 362.8,271.0 371.4,272.6 378.5,272.1 386.1,270.6 396.6,266.8 405.5,263.9 415.4,260.2 425.2,255.5 432.2,252.4 440.0,249.8 449.6,247.8 459.1,245.6 469.5,244.3 477.6,243.5 488.4,244.6 497.5,247.1 504.2,252.3 511.0,259.3" fill="none" stroke="#00a0ff" stroke-width="1" shape-rendering="crispEdges"/>
<polyline points="289.1,312.7 295.3,308.9 301.0,308.2 306.8,307.6 315.5,306.8 323.1,307.0 328.8,306.8 336.3,304.3 344.5,302.8 351.4,301.2 356.8,299.2 362.8,296.7 370.6,293.9 378.9,292.3 386.0,291.7 393.5,291.6 402.7,291.9 412.3,294.5 418.0,296.2 424.2,297.4 433.6,298.2 440.4,298.4 449.8,297.9 457.6,296.5 466.3,293.9 472.0,291.6 479.3,287.6 486.2,282.4 490.9,278.9 497.9,272.0 503.5,265.1 507.0,259.5" fill="none" stroke="#00a0ff" stroke-width="1" shape-rendering="crispEdges"/>
<polyline points="294.2,310.4 300.8,308.2 308.5,304.9 314.6,301.9 324.2,297.2 331.4,293.2 338.6,287.6 347.0,280.0 353.7,275.2 362.7,268.4 370.3,264.0 381.1,259.3 391.4,256.5 401.7,255.2 409.8,256.7 420.8,258.5 431.8,259.2 442.0,258.4 451.0,256.5 461.4,256.2 468.5,254.5 476.9,250.9 487.5,249.0 498.3,246.8 507.3,246.0" fill="none" stroke="#00a0ff" stroke-width="1" shape-rendering="crispEdges"/>
<polyline points="344.6,252.9 352.7,255.3 360.3,257.0 366.6,257.9 376.9,258.5 385.9,257.8 396.1,256.2 404.4,255.5 412.9,253.5 422.4,250.3 433.1,248.3 440.2,247.5 450.6,247.1 457.5,247.1 468.1,246.2 477.0,246.2 487.6,246.6 498.1,247.6 507.7,247.6" fill="none" stroke="#00a0ff" stroke-width="1" shape-rendering="crispEdges"/>
<polyline points="294.1,291.3 304.4,287.7 312.5,284.8 322.1,280.6 327.8,278.6 333.9,277.3 341.8,276.5 351.6,277.9 358.3,279.4 364.6,281.2 374.9,284.6 382.0,286.4 391.4,287.6 401.5,288.5 408.7,289.0 416.7,289.8 427.1,291.6 435.8,290.8 445.5,290.6 452.2,289.1 461.7,284.8 467.0,281.7 473.3,279.1 480.2,273.2 487.8,266.5 493.9,259.8 501.0,253.4 510.5,248.3" fill="none" stroke="#00a0ff" stroke-width="1" shape-rendering="crispEdges"/>
<polyline points="294.0,298.2 303.2,295.7 310.9,295.9 319.6,296.8 330.0,297.2 337.9,296.1 345.7,297.5 351.6,296.5 359.6,294.1 369.3,292.7 377.6,292.3 385.0,293.3 391.2,294.6 398.7,295.9 408.3,298.1 417.4,301.9 427.1,306.1 435.9,311.5 444.6,314.8 453.9,319.3 460.1,322.6 468.5,325.8 476.4,329.6 485.4,334.8 494.7,338.7 502.2,340.6 510.2,341.6" fill="none" stroke="#00a0ff" stroke-width="1" shape-rendering="crispEdges"/>
<polyline points="293.1,311.6 299.6,308.9 304.6,308.1 313.4,308.3 320.8,308.0 327.6,308.2 336.3,307.7 341.4,306.5 348.2,304.7 353.9,303.7 361.6,301.6 366.6,300.6 372.7,299.1 379.4,298.9 388.3,298.9 393.8,298.9 400.0,298.8 407.7,297.3 412.6,295.9 418.6,294.7 425.1,292.9 431.0,291.3 438.8,290.3 444.8,286.2 450.0,282.2 453.5,278.6 458.3,274.2 463.0,271.8 469.0,268.7 474.5,265.5 481.8,263.9 488.6,262.9 494.6,262.5 501.8,262.7 508.1,263.6" fill="none" stroke="#00a0ff" stroke-width="1" shape-rendering="crispEdges"/>
<polyline points="297.7,268.1 306.0,265.6 313.6,264.0 323.4,264.3 330.9,264.8 339.8,263.8 350.7,262.6 358.7,261.9 368.1,260.0 374.5,259.7 383.2,261.6 389.6,262.7 396.7,264.9 403.2,268.5 411.1,272.2 417.6,275.4 428.0,280.2 434.2,282.3 440.6,284.9 450.2,290.6 459.8,295.3 466.4,298.0 473.9,299.7 483.7,301.9 492.4,303.4 503.0,305.4 513.8,306.4" fill="none" stroke="#00a0ff" stroke-width="1" shape-rendering="crispEdges"/>
<polyline points="341.6,251.1 346.5,250.9 352.0,250.9 358.2,250.8 363.9,249.1 371.4,247.0 376.1,245.7 382.5,245.2 388.4,244.6 395.8,244.3 402.4,245.9 408.0,246.8 416.7,246.9 422.6,246.8 429.1,246.7 437.5,246.2 442.9,245.7 450.4,245.2 457.8,244.5 463.6,244.6 470.3,244.1 477.7,243.5 485.0,244.1 492.6,245.6 500.2,246.1 509.1,244.8" fill="none" stroke="#00a0ff" stroke-width="1" shape-rendering="crispEdges"/>
<polyline points="286.4,291.6 293.5,289.2 298.8,286.4 305.0,282.5 309.8,279.1 317.6,273.4 323.6,270.5 328.7,268.3 335.3,265.5 344.4,262.7 352.8,261.1 361.0,260.1 367.6,259.9 377.1,259.7 384.6,258.8 392.1,258.2 400.8,258.5 408.2,259.8 418.0,259.3 426.1,258.4 434.5,258.7 441.4,259.1 449.5,259.1 457.7,258.1 466.0,255.8 473.4,251.4 480.4,247.3 487.3,242.7 493.3,240.6 500.7,239.0 509.1,235.9" fill="none" stroke="#00a0ff" stroke-width="1" shape-rendering="crispEdges"/>
<polyline points="318.8,253.0 326.4,252.2 335.4,251.7 344.4,251.7 354.7,251.5 361.2,251.3 368.4,250.5 375.2,248.5 386.3,247.8 395.2,247.8 401.8,248.0 412.6,248.9 421.6,246.2 432.2,244.8 439.4,243.6 448.7,242.8 457.0,243.5 467.6,241.8 479.4,239.9 486.9,238.7 498.4,235.8 505.9,234.1" fill="none" stroke="#00a0ff" stroke-width="1" shape-rendering="crispEdges"/>
<polyline points="291.1,314.0 296.4,312.6 302.4,311.9 311.5,311.2 321.4,311.4 328.3,310.9 336.7,310.9 344.6,310.3 351.4,309.7 357.3,310.0 364.7,311.5 374.2,313.3 381.1,313.2 390.8,313.3 398.3,313.0 408.4,313.5 417.3,313.6 422.8,313.4 429.4,311.3 437.5,305.8 442.8,302.6 449.2,300.1 454.6,297.8 461.1,293.8 467.3,290.6 473.8,288.2 482.1,284.4 487.5,281.9 493.8,279.8 501.6,278.4 510.0,276.4" fill="none" stroke="#00a0ff" stroke-width="1" shape-rendering="crispEdges"/>
<polyline points="293.6,296.8 300.7,291.7 309.1,287.8 316.5,286.2 323.5,283.5 330.3,280.0 338.8,275.8 349.8,272.5 357.9,269.8 364.0,267.3 370.2,263.8 379.8,258.7 386.5,256.6 395.9,252.2 404.2,250.0 415.3,247.7 425.0,248.6 433.5,247.3 440.3,245.3 448.5,242.5 454.9,240.6 462.2,236.9 470.8,233.1 479.4,230.4 488.7,227.3 497.0,223.9 506.7,220.9" fill="none" stroke="#00a0ff" stroke-width="1" shape-rendering="crispEdges"/>
<polyline points="294.9,278.7 302.3,275.6 310.9,273.8 320.1,272.1 325.7,271.1 334.5,270.1 342.6,270.8 349.8,269.9 356.0,269.3 361.4,268.9 371.1,268.7 378.3,269.3 384.9,269.5 391.0,269.9 400.3,268.9 407.7,268.4 414.0,267.8 420.6,266.6 427.1,264.8 434.1,262.0 441.6,258.2 447.0,253.2 454.1,247.7 461.3,244.3 469.2,240.1 475.7,236.9 481.0,234.1 487.7,232.5 494.1,231.6 502.5,231.3 509.4,231.6" fill="none" stroke="#00a0ff" stroke-width="1" shape-rendering="crispEdges"/>
<polyline points="341.4,279.6 349.6,278.3 359.0,273.4 365.8,270.4 375.5,267.8 382.3,262.3 390.0,257.2 395.7,253.6 402.3,248.8 410.6,241.6 417.4,237.5 423.8,234.5 429.7,230.4 435.2,225.8 442.7,221.6 449.2,219.8 459.2,219.8 467.2,219.6 478.4,221.8 487.4,226.5 494.1,230.2 500.9,236.6 509.7,244.3" fill="none" stroke="#00a0ff" stroke-width="1" shape-rendering="crispEdges"/>
<polyline points="327.7,300.2 334.3,300.7 343.0,302.6 348.5,303.5 357.0,303.9 367.4,304.8 374.1,304.1 382.5,303.2 389.3,301.4 397.7,299.4 407.7,298.8 416.3,297.2 424.7,294.9 433.1,291.8 440.3,289.8 447.5,288.4 456.4,287.0 465.7,284.7 472.5,282.3 480.5,278.4 488.0,276.7 496.1,275.3 505.8,274.0" fill="none" stroke="#00a0ff" stroke-width="1" shape-rendering="crispEdges"/>
<polyline points="336.5,272.3 342.3,271.5 348.9,270.1 354.6,269.1 363.2,267.8 372.6,265.8 382.2,263.7 388.8,260.6 396.6,257.8 402.4,257.0 410.6,259.6 415.8,261.7 422.9,264.1 431.9,267.3 438.8,268.4 444.2,269.8 451.3,272.3 459.4,275.3 467.3,279.9 474.6,282.1 480.3,283.4 489.4,285.3 495.1,285.6 500.7,285.6 507.6,284.8" fill="none" stroke="#00a0ff" stroke-width="1" shape-rendering="crispEdges"/>
<polyline points="297.1,280.7 304.6,279.9 310.6,279.4 318.1,279.2 325.0,279.3 333.6,280.7 340.6,281.5 350.6,283.5 356.4,286.3 362.2,287.8 372.3,289.1 378.0,290.4 383.9,291.2 390.5,291.8 398.0,290.0 406.4,288.4 415.3,285.9 424.1,283.4 432.4,281.7 441.6,278.9 450.3,275.1 455.1,271.4 463.8,265.1 473.4,260.2 481.9,255.3 492.3,252.7 498.4,250.7 505.9,249.2" fill="none" stroke="#00a0ff" stroke-width="1" shape-rendering="crispEdges"/>
<polyline points="286.8,292.0 294.7,293.3 305.9,295.4 316.1,297.9 326.3,299.7 338.3,300.9 346.1,302.5 353.2,304.0 363.3,307.8 373.1,309.7 384.6,311.0 391.7,312.7 402.4,313.6 410.9,315.9 421.4,318.4 432.7,320.2 440.5,319.5 449.4,317.5 460.8,314.7 469.6,314.7 481.8,312.9 489.5,312.0 497.6,312.5 509.8,311.8" fill="none" stroke="#00a0ff" stroke-width="1" shape-rendering="crispEdges"/>
<polyline points="287.1,242.9 296.6,246.7 304.2,248.4 312.6,249.2 323.7,251.2 333.4,250.8 340.2,251.2 350.7,252.5 357.9,254.6 366.4,257.2 374.2,260.6 380.9,264.8 388.2,268.4 396.1,271.4 402.3,273.7 413.3,275.8 422.8,275.6 432.1,274.3 439.3,274.3 446.7,273.3 455.3,272.0 463.4,271.8 470.9,270.6 478.6,268.9 487.1,266.3 497.4,262.2 505.6,260.7" fill="none" stroke="#00a0ff" stroke-width="1" shape-rendering="crispEdges"/>
<polyline points="292.2,289.1 301.3,286.6 311.5,282.9 320.1,279.1 327.4,272.1 336.5,264.8 344.5,258.0 355.2,251.3 365.6,245.1 377.7,241.0 387.8,237.4 398.0,233.9 406.0,231.2 417.2,229.6 426.2,226.1 435.7,222.3 447.0,219.1 459.3,216.7 467.4,217.4 477.1,218.0 487.5,217.7 494.9,217.8 506.6,217.3" fill="none" stroke="#00a0ff" stroke-width="1" shape-rendering="crispEdges"/>
<polyline points="287.1,251.8 298.6,253.6 305.9,253.8 314.1,254.7 321.0,254.9 327.8,256.7 339.2,259.7 349.4,262.0 358.4,267.0 366.1,269.7 372.9,272.4 384.4,274.8 394.0,276.1 402.1,276.8 410.8,278.6 423.0,279.7 430.6,282.3 442.5,285.7 452.8,288.4 460.5,288.7 468.8,289.9 477.7,291.2 490.3,291.5 497.4,291.3 505.1,291.2" fill="none" stroke="#00a0ff" stroke-width="1" shape-rendering="crispEdges"/>
<polyline points="293.6,232.0 301.8,233.5 308.1,234.6 315.5,235.2 324.5,236.4 332.0,238.7 339.6,240.8 346.4,243.1 353.2,243.9 358.5,244.4 367.0,244.9 375.4,244.9 381.3,244.6 388.3,244.4 397.4,244.0 404.1,244.3 412.8,243.6 421.5,244.2 426.5,246.0 431.3,248.5 435.8,250.9 442.7,253.4 448.7,254.8 457.6,255.7 466.1,255.9 471.8,255.6 478.2,257.0 483.2,258.1 489.1,258.4 495.2,258.3 503.5,257.6 512.0,256.4" fill="none" stroke="#00a0ff" stroke-width="1" shape-rendering="crispEdges"/>
<polyline points="296.6,242.9 309.3,244.3 318.8,245.4 326.5,247.2 337.6,251.5 347.1,254.4 354.7,254.1 363.0,254.0 374.5,255.4 387.3,255.3 398.7,255.7 408.7,254.6 421.1,253.8 431.1,254.7 443.4,258.4 453.4,262.1 463.8,264.4 474.0,267.2 486.2,267.3 497.7,268.3 505.7,269.4" fill="none" stroke="#00a0ff" stroke-width="1" shape-rendering="crispEdges"/>
<polyline points="291.6,249.1 298.6,247.6 304.3,246.3 312.1,245.0 318.9,243.6 324.8,241.8 331.4,238.3 338.8,232.7 345.1,227.3 352.0,222.4 359.3,218.6 365.0,216.9 374.2,215.0 380.1,213.7 386.7,210.9 392.4,209.4 397.1,207.4 403.2,205.5 409.9,203.5 415.1,201.6 421.6,197.8 427.5,194.6 432.6,192.0 441.4,188.9" fill="none" stroke="#00a0ff" stroke-width="1" shape-rendering="crispEdges"/>
<polyline points="297.0,271.2 302.1,270.3 311.4,269.2 318.3,270.1 323.8,271.3 329.1,271.6 336.5,272.4 344.5,274.0 353.2,275.5 362.2,277.5 368.4,279.4 376.7,282.4 382.9,284.8 390.5,286.1 396.5,285.4 403.4,283.5 410.9,281.6 418.2,281.2 426.8,280.2 434.6,278.5 440.7,277.0 447.8,275.4 453.0,274.8 459.8,272.3 466.5,271.5 473.3,269.1 479.9,267.0 487.2,263.7 493.3,260.4 500.0,256.2 504.5,252.3 507.8,248.3" fill="none" stroke="#00a0ff" stroke-width="1" shape-rendering="crispEdges"/>
<polyline points="291.3,309.1 299.6,308.5 311.6,308.0 319.8,308.1 332.5,307.9 340.9,308.2 352.4,308.7 359.6,310.3 370.1,310.8 380.3,310.4 392.7,310.7 401.7,308.7 408.9,308.1 419.9,307.7 431.7,304.4 443.0,301.7 454.2,298.6 464.4,294.5 474.0,291.4 484.3,291.0 494.3,291.4 505.6,294.4" fill="none" stroke="#00a0ff" stroke-width="1" shape-rendering="crispEdges"/>
<polyline points="291.9,277.8 299.6,277.3 310.7,277.1 320.7,276.4 331.4,276.0 339.1,275.9 347.2,276.5 359.0,279.2 371.0,281.5 379.0,281.2 391.2,281.2 401.7,280.9 412.3,280.0 421.1,278.8 428.2,277.6 436.8,274.3 445.9,270.9 455.4,266.4 465.1,264.0 472.0,262.1 478.4,258.6 484.3,254.1 492.2,247.9 497.4,243.0 505.2,235.0" fill="none" stroke="#00a0ff" stroke-width="1" shape-rendering="crispEdges"/>
<polyline points="296.0,255.3 302.6,254.9 309.4,255.3 314.6,255.8 323.0,256.6 328.9,256.9 337.1,258.5 341.9,260.2 347.9,261.7 353.7,262.7 360.0,262.6 368.0,263.5 374.2,264.3 381.8,264.7 388.2,265.0 394.0,264.2 399.1,264.3 404.0,263.6 409.8,261.8 416.0,260.7 421.1,259.2 429.1,256.6 436.4,255.6 441.4,255.5 447.5,255.2 452.5,254.8 460.9,254.3 465.9,254.2 474.6,253.5 480.2,253.4 485.7,253.6 493.5,254.8 498.4,255.5 506.3,255.5" fill="none" stroke="#00a0ff" stroke-width="1" shape-rendering="crispEdges"/>
<polyline points="296.2,320.1 303.4,319.2 314.4,320.0 321.8,319.6 333.2,318.8 340.8,317.6 349.5,316.5 358.4,314.3 365.6,313.6 371.9,311.9 381.1,311.0 389.9,308.9 399.4,307.6 408.6,306.5 415.5,305.5 421.8,304.7 428.4,305.5 437.0,305.9 443.7,307.1 455.1,308.3 465.3,307.0 474.6,307.0 483.5,308.1 493.5,309.5 503.5,309.3 510.7,307.2" fill="none" stroke="#00a0ff" stroke-width="1" shape-rendering="crispEdges"/>
<polyline points="289.3,288.9 299.5,287.8 307.6,287.6 315.7,287.1 323.1,285.6 335.4,284.2 347.0,284.7 358.5,286.2 367.4,286.0 375.6,284.3 386.2,284.3 396.5,283.9 408.1,283.1 420.3,283.6 427.4,283.2 439.0,284.4 448.6,284.2 456.6,282.3 464.0,279.5 471.8,276.7 480.2,271.1 489.6,263.8 496.7,258.9 503.6,255.3 514.6,249.3" fill="none" stroke="#00a0ff" stroke-width="1" shape-rendering="crispEdges"/>
<polyline points="287.3,294.1 294.0,293.3 303.3,292.4 310.6,291.4 319.6,294.4 330.9,296.9 338.9,299.3 350.6,300.1 360.7,298.8 368.1,298.8 378.4,299.4 388.5,301.6 395.9,302.5 407.2,303.0 416.6,304.8 424.8,306.3 435.9,306.5 444.9,305.6 455.5,303.9 465.2,301.9 474.7,299.7 484.4,299.1 495.8,298.3 507.6,297.3" fill="none" stroke="#00a0ff" stroke-width="1" shape-rendering="crispEdges"/>
<polyline points="291.4,236.8 299.9,235.1 311.8,235.5 321.3,237.3 333.3,238.4 341.4,237.6 353.0,236.0 362.3,231.9 372.5,223.9 383.4,219.4 393.3,212.2 401.6,206.6 408.8,203.5 417.6,201.5 427.9,198.1 439.1,194.2 451.7,192.0 460.5,190.7" fill="none" stroke="#00a0ff" stroke-width="1" shape-rendering="crispEdges"/>
<polyline points="344.7,312.9 352.8,308.8 359.0,304.4 365.8,299.5 373.7,293.4 378.8,289.8 385.2,285.5 393.9,280.6 402.0,275.9 410.5,272.7 416.4,270.8 424.1,267.3 433.8,265.1 439.8,264.1 448.5,261.7 456.7,260.6 466.0,257.7 473.4,256.2 482.3,253.4 490.6,251.3 496.6,249.8 505.4,247.3" fill="none" stroke="#00a0ff" stroke-width="1" shape-rendering="crispEdges"/>
<polyline points="289.0,275.7 295.9,274.8 306.0,276.4 313.1,277.3 324.8,280.2 333.8,281.4 345.8,282.5 355.3,282.4 364.6,281.3 373.4,278.8 379.8,275.4 386.3,273.1 396.8,271.0 407.7,266.8 415.8,264.1 422.1,261.9 432.2,258.9 441.4,254.3 451.1,250.0 457.9,248.1 467.2,247.3 476.5,246.7 488.2,243.5 498.8,239.7 509.8,235.3" fill="none" stroke="#00a0ff" stroke-width="1" shape-rendering="crispEdges"/>
<polyline points="292.7,284.7 299.3,284.6 306.2,284.3 312.9,284.2 322.1,283.7 330.7,281.4 338.6,279.4 347.1,278.8 354.8,278.9 361.3,279.6 369.3,281.3 374.6,281.9 383.2,285.5 389.7,286.5 395.0,288.2 400.4,288.1 405.5,286.9 412.9,282.2 417.5,278.9 423.1,274.2 429.7,268.0 436.0,262.6 442.5,258.5 451.1,255.3 456.4,255.0 463.4,254.6 468.8,255.1 477.1,257.6 486.2,259.0 495.1,259.5 502.5,260.1 509.9,259.8" fill="none" stroke="#00a0ff" stroke-width="1" shape-rendering="crispEdges"/>
<polyline points="288.4,245.1 296.5,247.5 304.3,250.0 312.3,253.7 317.5,255.4 322.9,256.4 332.3,258.1 338.4,260.1 343.4,262.1 350.7,266.2 358.3,268.6 367.2,271.2 375.0,272.4 380.5,272.8 390.0,273.6 398.8,273.8 405.4,274.2 413.2,274.4 421.9,274.0 427.8,272.6 436.3,269.8 441.8,268.0 448.8,266.8 455.3,266.7 464.0,265.2 469.6,263.2 474.8,260.7 483.0,256.7 490.0,252.5 495.8,250.3 501.9,248.6 510.0,246.3" fill="none" stroke="#00a0ff" stroke-width="1" shape-rendering="crispEdges"/>
<polyline points="291.4,300.1 297.0,299.1 303.3,298.5 309.5,297.9 317.5,295.9 325.7,294.2 332.9,292.7 340.5,289.7 346.5,287.3 352.0,285.1 358.9,283.5 366.6,280.0 372.2,278.5 379.8,276.6 384.6,274.0 390.6,272.6 398.1,270.4 404.4,269.1 412.7,268.9 418.6,269.0 424.3,268.6 431.6,269.2 437.9,269.5 444.2,269.9 452.3,271.9 458.8,274.6 464.3,275.7 471.3,276.2 479.6,275.2 484.9,275.2 492.2,274.0 497.6,272.0 504.9,270.6" fill="none" stroke="#00a0ff" stroke-width="1" shape-rendering="crispEdges"/>
<polyline points="290.5,275.1 300.9,272.9 311.9,270.0 320.6,266.6 331.7,263.0 343.8,260.7 355.6,256.1 365.8,252.0 377.7,248.8 388.8,245.7 396.2,242.4 402.6,239.1 411.9,237.5 422.5,236.2 433.3,232.2 442.3,229.9 454.6,226.4 462.2,223.8 470.0,222.6 482.7,219.9 491.3,219.0 499.1,220.0 511.1,223.2" fill="none" stroke="#00a0ff" stroke-width="1" shape-rendering="crispEdges"/>
<polyline points="304.9,261.2 310.8,260.1 316.8,258.0 322.7,256.1 328.8,255.4 334.0,255.0 341.5,253.6 347.9,253.4 355.0,254.2 361.5,255.7 367.9,258.1 372.4,259.6 377.6,261.5 382.5,263.7 388.3,267.8 393.1,272.4 399.8,277.2 406.3,281.2 410.5,283.3 414.8,285.5 420.8,288.2 427.1,290.6 435.4,292.6 443.5,295.2 451.8,297.4 459.3,297.9 464.6,298.2 469.7,298.6 475.2,298.1 480.2,298.0 488.4,297.0 496.7,296.6 504.7,296.1 510.4,294.8" fill="none" stroke="#00a0ff" stroke-width="1" shape-rendering="crispEdges"/>
<polyline points="308.6,320.2 314.7,318.1 320.2,316.4 329.3,312.4 334.5,309.9 343.6,307.1 352.2,302.3 358.9,296.8 364.5,291.0 371.1,286.7 377.7,281.5 383.4,275.9 389.7,269.6 394.0,264.9 398.4,260.1 401.8,255.6 405.5,250.6 410.8,243.8 417.0,236.2 423.0,230.6 427.2,225.6 434.2,218.5 441.3,211.3 445.5,206.6 450.4,201.1 455.0,197.1 462.6,192.2 471.6,187.5" fill="none" stroke="#00a0ff" stroke-width="1" shape-rendering="crispEdges"/>
<polyline points="295.6,240.3 304.4,240.6 311.8,242.3 321.8,244.1 329.2,246.4 337.0,248.2 345.3,251.3 352.3,254.7 360.6,256.1 369.4,256.3 376.9,257.6 387.0,257.8 397.2,258.4 403.5,258.6 412.6,260.1 419.7,260.2 425.8,260.1 431.8,260.5 439.8,261.8 448.7,265.2 454.4,268.0 463.4,271.7 471.9,276.0 477.3,278.9 482.8,281.2 491.2,285.9 499.6,289.6 505.7,290.4" fill="none" stroke="#00a0ff" stroke-width="1" shape-rendering="crispEdges"/>
<polyline points="292.2,304.1 300.3,300.4 305.1,298.1 311.0,296.4 315.7,294.6 322.9,292.8 328.3,291.1 335.4,288.8 340.0,286.9 346.1,284.3 350.8,281.3 355.3,279.5 360.4,278.3 366.3,276.5 372.8,273.6 380.0,269.1 384.8,267.2 390.9,263.9 398.0,259.5 403.6,256.3 407.9,253.4 413.3,248.1 417.6,243.9 421.4,240.2 426.3,237.1 431.7,231.8 436.6,228.4 441.5,225.6 447.1,222.5 454.5,218.0 460.3,213.7 467.7,209.5 472.4,205.6 477.0,203.6 484.3,199.1 489.3,195.5 495.1,192.3 500.4,190.5" fill="none" stroke="#00a0ff" stroke-width="1" shape-rendering="crispEdges"/>
<polyline points="307.4,320.2 317.2,317.3 325.7,314.9 334.4,312.6 344.2,312.4 353.0,312.4 360.0,312.4 370.5,315.2 379.1,314.7 387.9,313.2 395.3,312.7 405.9,311.1 416.0,310.0 425.6,308.6 431.7,307.7 441.7,306.7 451.5,307.5 462.2,309.0 468.3,310.6 474.4,312.6 483.6,315.3 494.3,316.7 504.6,315.6 513.6,314.1" fill="none" stroke="#00a0ff" stroke-width="1" shape-rendering="crispEdges"/>
<polyline points="371.3,226.4 380.8,226.6 386.4,225.0 394.4,221.7 402.3,218.1 410.4,214.8 416.7,213.0 422.2,211.7 429.6,209.5 435.3,208.8 443.0,207.6 448.7,207.6 456.1,206.9 461.8,207.6 467.6,209.5 476.9,211.1 484.6,213.3 489.1,216.9 495.2,223.6 499.3,228.9 505.1,234.7" fill="none" stroke="#00a0ff" stroke-width="1" shape-rendering="crispEdges"/>
<polyline points="343.5,233.1 353.6,234.6 364.1,235.8 375.6,235.4 389.1,235.6 402.9,237.2 410.2,239.0 420.8,240.7 433.0,240.7 444.6,240.7 458.5,241.5 468.8,238.4 480.6,236.6 491.9,233.6 502.9,229.0" fill="none" stroke="#00a0ff" stroke-width="1" shape-rendering="crispEdges"/>
<polyline points="352.0,209.5 359.7,209.7 368.3,211.5 376.5,215.0 384.3,217.9 392.9,223.6 401.2,230.0 406.2,235.2 412.2,242.8 417.0,249.3 419.7,256.3 425.6,265.9 430.5,273.0 436.7,278.7 445.8,282.6" fill="none" stroke="#00a0ff" stroke-width="1" shape-rendering="crispEdges"/>
<polyline points="324.7,217.5 337.5,216.5 345.4,216.3 358.2,216.4 367.0,215.3 376.1,216.3 384.6,215.3 395.3,213.8 404.3,212.5 415.7,210.7 424.4,209.0 432.2,206.2 440.7,202.6 452.6,198.1" fill="none" stroke="#00a0ff" stroke-width="1" shape-rendering="crispEdges"/>
<polyline points="303.7,214.8 316.8,212.6 329.1,210.2 336.8,209.2 344.8,208.5 353.2,207.9 366.7,208.9 379.8,209.6 392.4,211.1 404.5,211.5 413.2,211.7 423.7,209.2 436.4,206.7 447.0,208.0" fill="none" stroke="#00a0ff" stroke-width="1" shape-rendering="crispEdges"/>
<polyline points="338.0,211.0 348.5,211.2 356.3,210.6 366.3,210.5 376.8,207.8 388.1,204.7 398.0,200.1 405.0,199.1 412.6,197.7 424.1,197.0 434.7,196.8 445.0,199.6" fill="none" stroke="#00a0ff" stroke-width="1" shape-rendering="crispEdges"/>
<polyline points="317.0,213.0 323.9,215.2 331.3,217.9 341.1,220.1 351.4,220.2 362.6,218.1 373.2,215.6 381.9,211.2 389.8,209.4 399.0,208.1 410.7,205.5 418.4,203.2 425.5,202.7 437.7,202.1 447.6,201.4 458.6,196.9" fill="none" stroke="#00a0ff" stroke-width="1" shape-rendering="crispEdges"/>
<polyline points="328.2,216.1 340.9,217.7 353.9,219.5 365.2,222.8 377.4,227.2 387.0,227.3 398.6,226.7 406.8,228.3 417.7,231.6 427.1,234.2 435.2,236.8 444.4,239.5 452.5,241.8" fill="none" stroke="#00a0ff" stroke-width="1" shape-rendering="crispEdges"/>
<polyline points="327.1,223.3 336.6,223.6 347.5,224.1 355.7,225.0 362.8,226.4 373.2,227.5 383.4,228.8 393.2,229.1 402.9,231.2 413.1,232.6 422.4,233.1 431.3,232.5 441.7,231.2" fill="none" stroke="#00a0ff" stroke-width="1" shape-rendering="crispEdges"/>
<polyline points="303.5,226.5 316.7,226.9 329.3,226.4 338.4,227.7 349.7,227.2 360.2,223.3 369.9,220.4 380.9,217.0 389.4,212.2 396.4,208.0 403.8,202.6" fill="none" stroke="#00a0ff" stroke-width="1" shape-rendering="crispEdges"/>
<polyline points="312.0,219.5 319.9,218.8 330.8,216.7 339.6,215.1 351.4,214.5 361.8,217.3 370.1,218.0 381.5,220.1 391.1,222.7 401.8,222.5 412.2,220.2 424.7,221.2 433.4,224.5 444.5,228.1 454.4,229.1 463.8,232.0" fill="none" stroke="#00a0ff" stroke-width="1" shape-rendering="crispEdges"/>
<polyline points="336.3,227.7 346.8,228.0 353.1,227.9 363.6,228.1 372.5,228.8 380.4,229.6 389.1,231.6 395.6,233.2 404.0,234.4 414.2,236.6 424.2,236.4 430.1,235.6 438.5,236.5 446.2,238.5 454.1,241.1" fill="none" stroke="#00a0ff" stroke-width="1" shape-rendering="crispEdges"/>
<polyline points="358.2,227.0 365.5,226.7 374.8,227.9 381.7,229.0 388.6,230.7 394.4,231.3 403.8,234.1 414.0,235.0 423.3,235.6 431.8,235.7 439.3,236.0 446.1,235.3 455.5,233.9 465.0,232.5 471.8,230.7 479.0,229.5 488.4,225.0 497.1,220.4 502.1,217.0 508.8,213.4" fill="none" stroke="#00a0ff" stroke-width="1" shape-rendering="crispEdges"/>
<polyline points="309.1,222.2 316.6,223.9 325.9,223.8 332.2,224.8 341.7,226.8 350.8,226.1 357.9,227.3 367.1,228.7 377.4,228.7" fill="none" stroke="#00a0ff" stroke-width="1" shape-rendering="crispEdges"/>
<polyline points="290.1,301.4 295.3,302.7 299.6,305.8 305.5,310.7" fill="none" stroke="#00a0ff" stroke-width="1" shape-rendering="crispEdges"/>
<polyline points="291.4,307.8 297.8,302.2 304.2,297.7 309.7,294.8 316.4,297.8 325.1,304.4" fill="none" stroke="#00a0ff" stroke-width="1" shape-rendering="crispEdges"/>
<polyline points="292.3,314.2 300.0,314.1 304.5,313.1 308.7,311.4" fill="none" stroke="#00a0ff" stroke-width="1" shape-rendering="crispEdges"/>
<polyline points="290.8,316.6 293.7,313.0 300.1,309.3 306.2,306.5 313.9,308.8 320.5,309.7" fill="none" stroke="#00a0ff" stroke-width="1" shape-rendering="crispEdges"/>
<polyline points="291.1,309.2 296.2,304.8 303.2,298.9 309.5,291.6 317.3,286.3 322.1,279.2 326.2,271.4" fill="none" stroke="#00a0ff" stroke-width="1" shape-rendering="crispEdges"/>
<polyline points="289.7,296.8 297.2,300.4 307.1,299.8 316.4,303.3" fill="none" stroke="#00a0ff" stroke-width="1" shape-rendering="crispEdges"/>
<polyline points="288.7,277.6 294.9,275.4 305.3,274.3 312.0,270.6 319.8,270.4" fill="none" stroke="#00a0ff" stroke-width="1" shape-rendering="crispEdges"/>
<polyline points="287.7,283.8 292.0,282.0 297.2,281.2 303.0,284.1 307.9,288.3 309.2,292.8" fill="none" stroke="#00a0ff" stroke-width="1" shape-rendering="crispEdges"/>
<polyline points="289.4,308.1 289.5,302.1 288.6,295.9 291.0,290.3 292.7,285.8 296.8,280.6 301.9,276.2" fill="none" stroke="#00a0ff" stroke-width="1" shape-rendering="crispEdges"/>
<polyline points="291.3,312.9 297.4,312.0 302.5,308.3 311.3,306.8 317.7,305.8" fill="none" stroke="#00a0ff" stroke-width="1" shape-rendering="crispEdges"/>
<polyline points="294.2,295.7 300.1,294.0 304.1,289.0 309.8,286.9 316.2,286.0 320.1,282.8" fill="none" stroke="#00a0ff" stroke-width="1" shape-rendering="crispEdges"/>
<polyline points="293.0,294.8 302.2,294.9 308.2,296.4 311.9,302.8 319.3,304.5" fill="none" stroke="#00a0ff" stroke-width="1" shape-rendering="crispEdges"/>
<polyline points="479.6,366.6 485.2,359.7 492.7,355.3 500.7,349.9 506.9,347.7" fill="none" stroke="#00a0ff" stroke-width="1" shape-rendering="crispEdges"/>
<polyline points="446.5,370.4 447.3,361.8 448.7,354.6 448.4,343.8 450.2,336.0 455.7,326.3" fill="none" stroke="#00a0ff" stroke-width="1" shape-rendering="crispEdges"/>
<polyline points="465.3,362.7 468.2,356.2 467.3,345.3 466.0,338.0 460.4,333.0 459.7,323.5 455.0,318.7" fill="none" stroke="#00a0ff" stroke-width="1" shape-rendering="crispEdges"/>
<polyline points="443.9,364.0 449.5,358.0 452.3,353.3 455.9,348.9 459.7,342.6 463.5,336.2 466.2,332.1 469.4,326.3 472.6,318.6 474.3,310.6" fill="none" stroke="#00a0ff" stroke-width="1" shape-rendering="crispEdges"/>
<polyline points="493.9,363.0 497.6,354.4 501.4,345.9 501.2,336.5 498.6,327.3 494.4,320.4" fill="none" stroke="#00a0ff" stroke-width="1" shape-rendering="crispEdges"/>
<polyline points="455.1,366.0 452.8,357.1 446.4,349.1 441.2,341.8 436.3,330.8 435.0,321.9" fill="none" stroke="#00a0ff" stroke-width="1" shape-rendering="crispEdges"/>
<polyline points="447.0,364.3 449.8,357.3 450.6,346.7 450.2,339.9 450.3,332.2 449.0,326.3 447.5,319.3 448.0,310.3" fill="none" stroke="#00a0ff" stroke-width="1" shape-rendering="crispEdges"/>
<polyline points="430.6,360.5 435.6,351.8 443.0,343.4 450.4,335.9 459.2,328.9 461.6,320.1 468.5,312.0" fill="none" stroke="#00a0ff" stroke-width="1" shape-rendering="crispEdges"/>
<polyline points="424.4,356.3 427.2,346.6 431.0,340.0 437.9,331.5 445.1,328.2 456.1,325.4 464.2,322.8" fill="none" stroke="#00a0ff" stroke-width="1" shape-rendering="crispEdges"/>
<polyline points="475.4,362.7 478.6,352.4 479.8,346.4 479.8,335.8 482.2,325.3 489.4,320.4 493.3,311.5 494.5,302.7 497.2,297.3 502.7,292.4" fill="none" stroke="#00a0ff" stroke-width="1" shape-rendering="crispEdges"/>
<polyline points="474.6,357.0 477.0,351.4 483.4,349.3 492.6,349.4 498.6,350.3 504.8,350.5 512.5,352.5" fill="none" stroke="#00a0ff" stroke-width="1" shape-rendering="crispEdges"/>
<polyline points="476.7,358.6 480.8,350.0 483.8,344.0 486.9,334.8 485.8,325.1 486.1,315.2 485.7,304.5 482.5,295.7" fill="none" stroke="#00a0ff" stroke-width="1" shape-rendering="crispEdges"/>
<polyline points="459.3,368.1 459.9,361.2 458.1,355.7 456.3,347.4 456.6,339.5 455.5,331.2 455.5,322.6 455.1,312.9 458.1,306.7" fill="none" stroke="#00a0ff" stroke-width="1" shape-rendering="crispEdges"/>
<polyline points="459.7,370.3 465.9,362.6 468.9,356.4 475.7,347.8 481.0,341.8 483.4,335.0 487.9,325.7 491.1,317.3 491.0,310.3 486.3,304.1 480.3,296.1 476.2,289.2" fill="none" stroke="#00a0ff" stroke-width="1" shape-rendering="crispEdges"/>
<polyline points="452.8,357.5 454.8,352.0 457.3,344.6 460.7,336.9 460.6,329.3 460.8,322.3 463.2,317.9 466.8,309.9 471.3,302.2 475.6,294.3 480.4,289.2" fill="none" stroke="#00a0ff" stroke-width="1" shape-rendering="crispEdges"/>
<polyline points="482.4,359.1 489.3,351.4 493.4,345.5 498.4,337.4 502.6,330.2 506.1,323.5" fill="none" stroke="#00a0ff" stroke-width="1" shape-rendering="crispEdges"/>
<polyline points="497.2,360.5 505.1,354.1" fill="none" stroke="#00a0ff" stroke-width="1" shape-rendering="crispEdges"/>
<polyline points="493.3,366.6 500.2,361.2 505.9,359.9" fill="none" stroke="#00a0ff" stroke-width="1" shape-rendering="crispEdges"/>
<polyline points="482.1,365.6 490.9,364.3 501.1,360.7 509.9,356.9" fill="none" stroke="#00a0ff" stroke-width="1" shape-rendering="crispEdges"/>
<polyline points="477.8,358.5 477.5,351.6 479.3,344.7 480.0,338.6 479.3,330.6 478.5,324.2 477.8,315.1 477.2,307.8 475.3,300.2 475.4,290.8 479.3,283.7" fill="none" stroke="#00a0ff" stroke-width="1" shape-rendering="crispEdges"/>
<polyline points="483.6,362.0 487.8,353.1 490.3,344.1 491.5,338.1 491.5,332.3 492.2,322.6 490.5,316.8 486.5,308.6 484.3,300.1 482.3,293.9 478.0,288.3 475.6,280.6" fill="none" stroke="#00a0ff" stroke-width="1" shape-rendering="crispEdges"/>
<polyline points="463.9,368.8 468.1,364.3 473.1,362.0 478.8,358.9 484.2,358.1 491.7,357.7 496.9,360.5" fill="none" stroke="#00a0ff" stroke-width="1" shape-rendering="crispEdges"/>
<polyline points="455.9,358.5 459.1,350.7 463.7,341.9 468.2,335.4 473.6,327.7 480.7,321.0 486.6,314.8 492.1,308.6 498.8,303.7 509.2,301.8" fill="none" stroke="#00a0ff" stroke-width="1" shape-rendering="crispEdges"/>
<polyline points="460.2,359.6 465.2,353.6 472.3,347.5 479.0,344.0 488.9,338.2 496.2,334.4 504.5,327.6 510.4,320.6" fill="none" stroke="#00a0ff" stroke-width="1" shape-rendering="crispEdges"/>
<polyline points="422.5,362.1 429.4,354.3 434.6,349.2 439.4,344.1 445.5,335.3 454.1,333.8 462.6,329.9 469.6,324.8 476.5,323.6 485.8,319.6 493.1,318.6" fill="none" stroke="#00a0ff" stroke-width="1" shape-rendering="crispEdges"/>
<polyline points="425.0,363.9 427.2,356.6 427.1,348.2 424.9,340.5 423.1,331.8 423.3,321.7 424.0,314.0 425.6,304.0 428.3,295.9" fill="none" stroke="#00a0ff" stroke-width="1" shape-rendering="crispEdges"/>
<polyline points="426.7,367.9 428.9,362.7 427.6,357.5 424.8,351.4 422.0,346.0 417.9,339.3 415.9,334.9 413.2,329.4 408.1,322.5 404.7,317.1 401.2,311.7" fill="none" stroke="#00a0ff" stroke-width="1" shape-rendering="crispEdges"/>
<polyline points="449.4,370.3 450.7,361.6 452.7,355.3 454.0,343.8 454.3,336.3 455.3,328.3 459.1,321.4 457.8,314.6" fill="none" stroke="#00a0ff" stroke-width="1" shape-rendering="crispEdges"/>
<polyline points="430.3,370.5 434.4,361.6 440.0,355.0 446.5,347.3 451.0,343.3 456.2,339.7 460.7,332.5 466.3,328.3 471.4,321.6 475.7,315.2" fill="none" stroke="#00a0ff" stroke-width="1" shape-rendering="crispEdges"/>
<polyline points="483.6,359.7 488.3,356.0 495.7,352.5 502.4,353.0 509.6,352.4" fill="none" stroke="#00a0ff" stroke-width="1" shape-rendering="crispEdges"/>
<polyline points="480.4,369.1 484.2,362.5 488.1,353.6 494.4,342.8 499.7,333.8 510.1,327.3" fill="none" stroke="#00a0ff" stroke-width="1" shape-rendering="crispEdges"/>
<polyline points="437.7,364.6 437.8,353.9 440.0,344.7 439.5,338.1 439.3,329.9 442.0,321.8" fill="none" stroke="#00a0ff" stroke-width="1" shape-rendering="crispEdges"/>
<polyline points="473.3,359.4 475.4,351.3 478.3,344.3 477.3,333.7 475.0,327.5 472.3,322.3" fill="none" stroke="#00a0ff" stroke-width="1" shape-rendering="crispEdges"/>
<polyline points="449.2,365.0 449.4,358.2 449.0,351.2 449.4,345.3 454.2,339.5 458.8,332.9 462.8,324.6 465.8,316.8 467.8,311.7 471.2,304.4 476.8,301.5 485.2,299.2 491.0,300.9" fill="none" stroke="#00a0ff" stroke-width="1" shape-rendering="crispEdges"/>
<polyline points="488.2,365.6 492.4,359.9 497.6,350.0 508.7,345.7" fill="none" stroke="#00a0ff" stroke-width="1" shape-rendering="crispEdges"/>
<polyline points="422.8,366.1 425.5,355.8 423.8,348.5 425.5,340.6 427.6,330.9 423.9,319.2" fill="none" stroke="#00a0ff" stroke-width="1" shape-rendering="crispEdges"/>
<polyline points="436.4,359.7 442.0,355.6 446.5,352.9 451.7,346.9 457.5,340.8 460.3,334.7 466.4,329.2 470.5,324.6 476.9,319.4 481.9,317.3" fill="none" stroke="#00a0ff" stroke-width="1" shape-rendering="crispEdges"/>
<polyline points="477.5,365.0 481.1,357.5 484.7,349.1 489.6,343.2 495.2,340.9 502.3,336.9 510.9,335.7" fill="none" stroke="#00a0ff" stroke-width="1" shape-rendering="crispEdges"/>
<polyline points="446.1,368.5 451.3,363.6 458.1,358.9 463.1,354.6 473.9,349.8 480.6,347.6" fill="none" stroke="#00a0ff" stroke-width="1" shape-rendering="crispEdges"/>
<polyline points="459.7,364.0 462.1,358.8 464.0,352.6 467.0,344.7 472.0,339.3 474.4,333.4 475.7,327.6 474.3,321.4" fill="none" stroke="#00a0ff" stroke-width="1" shape-rendering="crispEdges"/>
<polyline points="421.0,359.6 422.6,351.9 421.9,346.5 419.3,341.0 417.2,335.0 416.9,326.2 417.4,317.9" fill="none" stroke="#00a0ff" stroke-width="1" shape-rendering="crispEdges"/>
<polyline points="426.0,356.7 429.5,348.8 433.8,342.8 437.3,336.6 443.0,329.4 448.3,326.1 454.7,322.8" fill="none" stroke="#00a0ff" stroke-width="1" shape-rendering="crispEdges"/>
<polyline points="502.0,269.7 509.1,268.1" fill="none" stroke="#00a0ff" stroke-width="1" shape-rendering="crispEdges"/>
<polyline points="482.5,287.8 491.0,287.7 497.3,286.8 505.1,281.8" fill="none" stroke="#00a0ff" stroke-width="1" shape-rendering="crispEdges"/>
<polyline points="494.5,266.4 497.0,259.1 500.5,255.8 505.5,250.1" fill="none" stroke="#00a0ff" stroke-width="1" shape-rendering="crispEdges"/>
<polyline points="464.1,218.5 460.0,211.9 456.2,204.8 454.6,197.6 451.4,189.4" fill="none" stroke="#00a0ff" stroke-width="1" shape-rendering="crispEdges"/>
<polyline points="465.2,251.0 471.8,247.5 479.0,245.5 487.8,246.6 493.7,248.0 501.9,244.2 508.1,237.9" fill="none" stroke="#00a0ff" stroke-width="1" shape-rendering="crispEdges"/>
<polyline points="472.7,245.8 472.8,240.4 468.0,232.9 468.0,224.5 464.6,219.0 460.9,213.2 459.9,208.0 460.0,199.3" fill="none" stroke="#00a0ff" stroke-width="1" shape-rendering="crispEdges"/>
<polyline points="456.7,230.7 463.1,230.6 467.0,235.8 471.5,239.2 477.0,244.0 481.1,248.3 488.2,249.0" fill="none" stroke="#00a0ff" stroke-width="1" shape-rendering="crispEdges"/>
<polyline points="457.2,273.0 459.9,267.1 458.7,259.6 454.9,253.0 451.4,245.8 445.2,240.1 440.1,239.7 432.5,238.0 427.0,237.3" fill="none" stroke="#00a0ff" stroke-width="1" shape-rendering="crispEdges"/>
<polyline points="478.5,269.4 483.1,262.4 490.5,256.6 496.0,252.3" fill="none" stroke="#00a0ff" stroke-width="1" shape-rendering="crispEdges"/>
<polyline points="492.7,255.8 499.8,250.6 508.8,252.3" fill="none" stroke="#00a0ff" stroke-width="1" shape-rendering="crispEdges"/>
<polyline points="471.2,263.1 472.7,250.9 477.4,240.7 485.7,233.3 493.4,225.8 501.3,221.7 507.8,225.9" fill="none" stroke="#00a0ff" stroke-width="1" shape-rendering="crispEdges"/>
<polyline points="469.3,235.0 474.1,230.2 480.3,227.6 486.7,229.3 491.9,229.1 494.7,236.4 497.6,243.5 500.6,250.5 507.4,252.0" fill="none" stroke="#00a0ff" stroke-width="1" shape-rendering="crispEdges"/>
<polyline points="479.8,267.4 482.8,263.9 486.8,257.7 492.1,255.1" fill="none" stroke="#00a0ff" stroke-width="1" shape-rendering="crispEdges"/>
<polyline points="495.1,246.5 494.1,241.6 493.9,234.3 490.5,229.1 485.1,227.4" fill="none" stroke="#00a0ff" stroke-width="1" shape-rendering="crispEdges"/>
<polyline points="493.3,264.7 493.0,258.5 492.0,251.9 495.3,246.7 498.3,242.1 502.3,236.2 505.6,231.5" fill="none" stroke="#00a0ff" stroke-width="1" shape-rendering="crispEdges"/>
<polyline points="499.2,260.2 491.7,256.3 486.1,255.9 480.9,253.4" fill="none" stroke="#00a0ff" stroke-width="1" shape-rendering="crispEdges"/>
<polyline points="456.6,299.2 457.2,292.2 459.9,286.9 461.8,281.2 459.8,274.0" fill="none" stroke="#00a0ff" stroke-width="1" shape-rendering="crispEdges"/>
<polyline points="491.7,227.2 496.7,221.5 498.1,216.8 496.1,209.3 491.8,203.9 486.8,197.8 481.3,197.0 478.5,192.9" fill="none" stroke="#00a0ff" stroke-width="1" shape-rendering="crispEdges"/>
<polyline points="467.9,223.4 465.6,215.0 462.1,210.7 457.5,203.6 453.3,195.3 454.1,187.7" fill="none" stroke="#00a0ff" stroke-width="1" shape-rendering="crispEdges"/>
<polyline points="495.4,241.1 500.8,230.1 509.2,227.5" fill="none" stroke="#00a0ff" stroke-width="1" shape-rendering="crispEdges"/>
<polyline points="364.9,303.2 375.7,304.0 383.8,306.0 391.9,308.7 400.2,309.6 411.5,310.1 422.7,309.8 432.1,311.2 442.1,312.4 452.0,316.1 462.0,317.7" fill="none" stroke="#00a0ff" stroke-width="1" shape-rendering="crispEdges"/>
<polyline points="360.6,330.9 365.9,331.0 373.6,328.9 379.8,326.1 385.0,323.6 391.6,317.7 395.4,313.9 401.2,306.5 406.3,299.0" fill="none" stroke="#00a0ff" stroke-width="1" shape-rendering="crispEdges"/>
<polyline points="352.1,309.4 357.0,307.5 364.2,305.1 371.9,302.9 378.4,302.5 386.6,302.8" fill="none" stroke="#00a0ff" stroke-width="1" shape-rendering="crispEdges"/>
<polyline points="351.4,311.5 360.7,310.7 371.3,312.1 382.1,313.8 389.3,316.0 395.5,317.6 403.0,321.4 408.3,324.6 416.3,329.1 424.1,330.9" fill="none" stroke="#00a0ff" stroke-width="1" shape-rendering="crispEdges"/>
<polyline points="348.5,301.7 357.6,301.3 367.4,302.7 373.7,303.1 383.4,302.7 390.7,304.3 398.2,305.1 406.5,305.2 414.3,306.2 421.5,310.0 428.8,314.9" fill="none" stroke="#00a0ff" stroke-width="1" shape-rendering="crispEdges"/>
<polyline points="360.9,331.1 365.7,326.6 373.3,320.4 379.6,312.5 384.6,304.2 388.5,298.9 392.5,292.2" fill="none" stroke="#00a0ff" stroke-width="1" shape-rendering="crispEdges"/>
</g></g>
<rect x="284" y="193" width="218" height="175" fill="none" stroke="#000" stroke-width="2" shape-rendering="crispEdges"/>
<path d="M279.0,208.5H283.5M279.0,237.4H283.5M279.0,266.4H283.5M279.0,295.4H283.5M279.0,324.3H283.5M279.0,353.2H283.5M284.4,369V373.5M332.9,369V373.5M381.4,369V373.5M429.8,369V373.5M478.3,369V373.5" stroke="#000" stroke-width="1.2" fill="none"/>
<g transform="translate(717,0)"><g clip-path="url(#cp)">
<polygon points="289.2,257.3 292.8,252.2 300.2,250.7 306.1,254.4 309.8,251.4 317.9,251.4 321.6,257.3 319.3,264.7 313.5,266.9 306.1,263.2 298.7,266.9 291.4,264.7 289.2,260.3" fill="#fffaaa" stroke="none"/>
<polygon points="296.5,255.3 299.8,258.5 296.5,261.7 293.3,258.5" fill="#ffc03c" stroke="none"/>
<polygon points="314.5,255.3 317.7,258.5 314.5,261.7 311.2,258.5" fill="#ffc03c" stroke="none"/>
<polygon points="356.2,236.7 360.6,229.3 369.4,229.3 379.7,232.3 391.5,225.7 401.8,224.2 413.6,224.9 422.4,230.8 431.3,233.8 435.7,238.2 432.7,244.1 423.9,248.5 421.0,255.9 412.1,259.5 404.8,257.3 398.9,252.9 393.0,245.5 385.6,242.6 378.3,241.1 366.5,244.1 359.1,242.6 356.2,238.2" fill="#fffaaa" stroke="none"/>
<polygon points="361.3,233.8 365.7,233.8 366.5,238.2 361.8,238.5" fill="#ffc03c" stroke="none"/>
<polygon points="392.2,229.3 401.8,225.7 412.1,225.7 419.5,229.3 423.2,236.7 423.9,244.1 421.0,250.0 416.5,255.9 409.2,257.3 401.8,252.9 395.9,247.0 393.0,238.2" fill="#ffc03c" stroke="none"/>
<polygon points="395.9,232.3 404.8,227.9 413.6,228.6 419.5,233.8 421.7,241.1 419.5,247.0 413.6,251.4 406.2,250.0 400.3,244.1 396.7,238.2" fill="#ffa000" stroke="none"/>
<polygon points="400.3,233.8 407.7,230.1 415.1,232.3 419.5,238.2 418.0,245.5 413.6,248.5 407.7,247.0 401.8,241.1" fill="#ff6000" stroke="none"/>
<polygon points="403.3,234.5 409.2,231.6 415.1,234.5 417.3,241.1 415.1,245.5 409.9,244.8 404.8,240.4" fill="#e11400" stroke="none"/>
<polygon points="406.2,234.5 410.7,233.0 414.3,236.7 415.1,242.6 412.1,244.1 408.4,241.1" fill="#a50000" stroke="none"/>
<polygon points="447.5,288.3 451.9,280.9 460.7,276.5 472.5,270.6 475.5,263.2 484.3,260.3 491.7,260.3 496.1,255.9 503.4,255.9 503.4,276.5 496.1,277.9 488.7,280.9 482.8,283.8 474.0,285.3 465.1,291.2 456.3,295.6 448.9,294.1" fill="#fffaaa" stroke="none"/>
<polygon points="474.0,270.6 478.4,264.7 485.8,264.7 489.4,270.6 487.2,277.9 478.4,278.7" fill="#ffc03c" stroke="none"/>
<polygon points="494.6,263.2 503.4,260.3 503.4,273.5 496.8,273.5" fill="#ffc03c" stroke="none"/>
<polygon points="451.9,286.0 455.6,284.6 458.5,288.3 454.8,291.2" fill="#ffc03c" stroke="none"/>
<polygon points="460.7,279.1 470.3,278.7 471.0,282.1 461.5,282.4" fill="#ffc03c" stroke="none"/>
<polygon points="460.9,349.2 461.8,334.6 464.7,328.4 469.7,322.1 476.4,318.4 482.6,313.3 486.8,310.0 493.0,307.1 497.2,304.2 502.2,300.0 502.2,322.1 497.6,324.2 493.0,328.4 490.1,332.5 488.9,336.7 490.5,343.0 493.9,347.1 498.5,351.3 501.0,355.5 502.2,366.7 474.7,366.7 468.9,361.7 464.7,357.6 461.8,353.4" fill="#fffaaa" stroke="none"/>
<polygon points="462.2,347.1 462.6,338.8 464.7,333.4 469.7,327.5 474.7,324.2 480.5,320.0 484.7,314.6 488.9,312.9 493.9,313.3 496.8,316.7 494.3,322.1 491.0,328.4 488.5,333.4 488.0,338.8 489.7,344.2 495.1,348.4 498.5,353.4 499.7,359.6 500.5,366.7 478.0,366.7 472.2,363.8 466.4,358.4 462.6,352.5" fill="#ffc03c" stroke="none"/>
<polygon points="497.2,309.2 502.2,304.6 502.2,313.8 498.5,310.8" fill="#ffc03c" stroke="none"/>
<polygon points="465.1,343.0 466.4,336.7 469.7,331.7 473.9,327.5 478.4,325.9 481.8,328.4 484.7,332.5 485.1,336.7 486.4,340.9 489.3,346.3 493.0,351.3 495.5,357.6 497.2,362.6 496.4,366.7 479.7,366.7 474.7,363.4 469.7,358.8 466.4,353.4" fill="#ffa000" stroke="none"/>
<polygon points="467.2,342.1 468.9,335.9 472.2,331.3 476.4,329.2 480.5,330.4 482.2,334.6 483.0,338.8 486.0,344.2 489.3,349.2 491.8,355.5 493.0,361.7 488.9,363.8 480.5,363.4 474.3,360.1 470.1,355.9 467.6,349.2" fill="#ff6000" stroke="none"/>
<polygon points="467.6,342.1 469.7,336.7 473.0,333.4 477.6,332.9 479.7,335.9 480.5,339.2 483.5,345.0 486.8,349.2 488.9,354.2 489.7,358.4 486.0,360.9 478.9,360.1 473.9,356.7 469.7,352.5 468.0,347.5" fill="#e11400" stroke="none"/>
<polygon points="468.9,344.2 470.5,338.8 473.0,336.3 478.4,336.3 479.7,339.2 480.9,343.0 483.9,347.1 486.0,351.3 486.8,354.6 485.5,356.7 479.7,357.1 474.7,354.6 470.5,350.9 468.9,347.5" fill="#a50000" stroke="none"/>
<use href="#map"/>
<polyline points="365.7,237.4 372.4,236.4 387.1,236.0 413.6,236.0 431.3,235.7" fill="none" stroke="#00a0ff" stroke-width="1" shape-rendering="crispEdges"/>
<polyline points="413.6,236.0 412.9,248.5" fill="none" stroke="#00a0ff" stroke-width="1" shape-rendering="crispEdges"/>
<polyline points="453.4,289.7 460.7,283.8 466.6,278.7 479.9,276.5 485.0,270.6 493.1,269.1 501.2,268.4" fill="none" stroke="#00a0ff" stroke-width="1" shape-rendering="crispEdges"/>
<polyline points="493.1,361.9 484.3,353.8 476.9,356.0 474.7,347.2 476.9,339.1 471.0,335.4 474.7,329.5 480.6,332.4 490.2,314.0 501.2,313.3" fill="none" stroke="#00a0ff" stroke-width="1" shape-rendering="crispEdges"/>
</g></g>
<rect x="1001" y="193" width="219" height="175" fill="none" stroke="#000" stroke-width="2" shape-rendering="crispEdges"/>
<path d="M996.0,208.5H1000.5M996.0,237.4H1000.5M996.0,266.4H1000.5M996.0,295.4H1000.5M996.0,324.3H1000.5M996.0,353.2H1000.5M1001.4,369V373.5M1049.9,369V373.5M1098.4,369V373.5M1146.8,369V373.5M1195.3,369V373.5" stroke="#000" stroke-width="1.2" fill="none"/>
<g transform="translate(0,245)"><g clip-path="url(#cp)">
<polygon points="401.4,243.3 408.9,241.8 416.4,247.7 431.3,246.2 446.2,244.7 458.2,247.7 468.6,253.7 465.6,265.6 453.7,274.6 446.2,280.6 438.8,279.1 429.8,280.6 416.4,282.1 410.4,284.3 401.4,277.6 395.5,268.6 397.0,253.7" fill="#fffaaa" stroke="none"/>
<polygon points="422.3,257.4 431.3,257.4 432.0,262.7 423.8,262.7" fill="#ffc03c" stroke="none"/>
<polygon points="473.1,243.3 480.6,241.8 491.0,250.7 504.5,258.2 504.5,288.0 491.0,289.5 480.6,286.6 470.1,277.6 467.1,265.6 470.1,253.7" fill="#fffaaa" stroke="none"/>
<polygon points="491.0,265.6 497.0,267.1 504.5,271.6 504.5,277.6 495.5,277.6 491.0,273.1" fill="#ffc03c" stroke="none"/>
<polygon points="282.0,270.1 291.0,274.6 296.2,283.6 295.4,294.0 288.0,300.7 282.0,300.7" fill="#fffaaa" stroke="none"/>
<polygon points="282.0,279.1 288.0,280.6 288.0,288.0 282.0,288.0" fill="#ffc03c" stroke="none"/>
<use href="#map"/>
</g></g>
<rect x="284" y="438" width="218" height="175" fill="none" stroke="#000" stroke-width="2" shape-rendering="crispEdges"/>
<path d="M279.0,453.5H283.5M279.0,482.4H283.5M279.0,511.4H283.5M279.0,540.4H283.5M279.0,569.3H283.5M279.0,598.2H283.5M284.4,614V618.5M332.9,614V618.5M381.4,614V618.5M429.8,614V618.5M478.3,614V618.5" stroke="#000" stroke-width="1.2" fill="none"/>
<g transform="translate(717,245)"><g clip-path="url(#cp)">
<polygon points="289.2,257.3 292.8,252.2 300.2,250.7 306.1,254.4 309.8,251.4 317.9,251.4 321.6,257.3 319.3,264.7 313.5,266.9 306.1,263.2 298.7,266.9 291.4,264.7 289.2,260.3" fill="#fffaaa" stroke="none"/>
<polygon points="296.5,255.3 299.8,258.5 296.5,261.7 293.3,258.5" fill="#ffc03c" stroke="none"/>
<polygon points="314.5,255.3 317.7,258.5 314.5,261.7 311.2,258.5" fill="#ffc03c" stroke="none"/>
<polygon points="356.2,236.7 360.6,229.3 369.4,229.3 379.7,232.3 391.5,225.7 401.8,224.2 413.6,224.9 422.4,230.8 431.3,233.8 435.7,238.2 432.7,244.1 423.9,248.5 421.0,255.9 412.1,259.5 404.8,257.3 398.9,252.9 393.0,245.5 385.6,242.6 378.3,241.1 366.5,244.1 359.1,242.6 356.2,238.2" fill="#fffaaa" stroke="none"/>
<polygon points="361.3,233.8 365.7,233.8 366.5,238.2 361.8,238.5" fill="#ffc03c" stroke="none"/>
<polygon points="392.2,229.3 401.8,225.7 412.1,225.7 419.5,229.3 423.2,236.7 423.9,244.1 421.0,250.0 416.5,255.9 409.2,257.3 401.8,252.9 395.9,247.0 393.0,238.2" fill="#ffc03c" stroke="none"/>
<polygon points="395.9,232.3 404.8,227.9 413.6,228.6 419.5,233.8 421.7,241.1 419.5,247.0 413.6,251.4 406.2,250.0 400.3,244.1 396.7,238.2" fill="#ffa000" stroke="none"/>
<polygon points="400.3,233.8 407.7,230.1 415.1,232.3 419.5,238.2 418.0,245.5 413.6,248.5 407.7,247.0 401.8,241.1" fill="#ff6000" stroke="none"/>
<polygon points="403.3,234.5 409.2,231.6 415.1,234.5 417.3,241.1 415.1,245.5 409.9,244.8 404.8,240.4" fill="#e11400" stroke="none"/>
<polygon points="406.2,234.5 410.7,233.0 414.3,236.7 415.1,242.6 412.1,244.1 408.4,241.1" fill="#a50000" stroke="none"/>
<polygon points="447.5,288.3 451.9,280.9 460.7,276.5 472.5,270.6 475.5,263.2 484.3,260.3 491.7,260.3 496.1,255.9 503.4,255.9 503.4,276.5 496.1,277.9 488.7,280.9 482.8,283.8 474.0,285.3 465.1,291.2 456.3,295.6 448.9,294.1" fill="#fffaaa" stroke="none"/>
<polygon points="474.0,270.6 478.4,264.7 485.8,264.7 489.4,270.6 487.2,277.9 478.4,278.7" fill="#ffc03c" stroke="none"/>
<polygon points="494.6,263.2 503.4,260.3 503.4,273.5 496.8,273.5" fill="#ffc03c" stroke="none"/>
<polygon points="451.9,286.0 455.6,284.6 458.5,288.3 454.8,291.2" fill="#ffc03c" stroke="none"/>
<polygon points="460.7,279.1 470.3,278.7 471.0,282.1 461.5,282.4" fill="#ffc03c" stroke="none"/>
<polygon points="460.9,349.2 461.8,334.6 464.7,328.4 469.7,322.1 476.4,318.4 482.6,313.3 486.8,310.0 493.0,307.1 497.2,304.2 502.2,300.0 502.2,322.1 497.6,324.2 493.0,328.4 490.1,332.5 488.9,336.7 490.5,343.0 493.9,347.1 498.5,351.3 501.0,355.5 502.2,366.7 474.7,366.7 468.9,361.7 464.7,357.6 461.8,353.4" fill="#fffaaa" stroke="none"/>
<polygon points="462.2,347.1 462.6,338.8 464.7,333.4 469.7,327.5 474.7,324.2 480.5,320.0 484.7,314.6 488.9,312.9 493.9,313.3 496.8,316.7 494.3,322.1 491.0,328.4 488.5,333.4 488.0,338.8 489.7,344.2 495.1,348.4 498.5,353.4 499.7,359.6 500.5,366.7 478.0,366.7 472.2,363.8 466.4,358.4 462.6,352.5" fill="#ffc03c" stroke="none"/>
<polygon points="497.2,309.2 502.2,304.6 502.2,313.8 498.5,310.8" fill="#ffc03c" stroke="none"/>
<polygon points="465.1,343.0 466.4,336.7 469.7,331.7 473.9,327.5 478.4,325.9 481.8,328.4 484.7,332.5 485.1,336.7 486.4,340.9 489.3,346.3 493.0,351.3 495.5,357.6 497.2,362.6 496.4,366.7 479.7,366.7 474.7,363.4 469.7,358.8 466.4,353.4" fill="#ffa000" stroke="none"/>
<polygon points="467.2,342.1 468.9,335.9 472.2,331.3 476.4,329.2 480.5,330.4 482.2,334.6 483.0,338.8 486.0,344.2 489.3,349.2 491.8,355.5 493.0,361.7 488.9,363.8 480.5,363.4 474.3,360.1 470.1,355.9 467.6,349.2" fill="#ff6000" stroke="none"/>
<polygon points="467.6,342.1 469.7,336.7 473.0,333.4 477.6,332.9 479.7,335.9 480.5,339.2 483.5,345.0 486.8,349.2 488.9,354.2 489.7,358.4 486.0,360.9 478.9,360.1 473.9,356.7 469.7,352.5 468.0,347.5" fill="#e11400" stroke="none"/>
<polygon points="468.9,344.2 470.5,338.8 473.0,336.3 478.4,336.3 479.7,339.2 480.9,343.0 483.9,347.1 486.0,351.3 486.8,354.6 485.5,356.7 479.7,357.1 474.7,354.6 470.5,350.9 468.9,347.5" fill="#a50000" stroke="none"/>
<use href="#map"/>
</g></g>
<rect x="1001" y="438" width="219" height="175" fill="none" stroke="#000" stroke-width="2" shape-rendering="crispEdges"/>
<path d="M996.0,453.5H1000.5M996.0,482.4H1000.5M996.0,511.4H1000.5M996.0,540.4H1000.5M996.0,569.3H1000.5M996.0,598.2H1000.5M1001.4,614V618.5M1049.9,614V618.5M1098.4,614V618.5M1146.8,614V618.5M1195.3,614V618.5" stroke="#000" stroke-width="1.2" fill="none"/>
<g transform="translate(0,490)"><g clip-path="url(#cp)">
<rect x="281.4" y="262.8" width="6.1" height="7.2" fill="#ffa000" shape-rendering="crispEdges"/>
<rect x="281.4" y="270.0" width="6.1" height="7.2" fill="#ffa000" shape-rendering="crispEdges"/>
<rect x="287.4" y="270.0" width="6.1" height="7.2" fill="#ffa000" shape-rendering="crispEdges"/>
<rect x="281.4" y="277.3" width="6.1" height="7.2" fill="#ff6000" shape-rendering="crispEdges"/>
<rect x="287.4" y="277.3" width="6.1" height="7.2" fill="#ff6000" shape-rendering="crispEdges"/>
<rect x="281.4" y="284.5" width="6.1" height="7.2" fill="#e11400" shape-rendering="crispEdges"/>
<rect x="287.4" y="284.5" width="6.1" height="7.2" fill="#e11400" shape-rendering="crispEdges"/>
<rect x="281.4" y="291.7" width="6.1" height="7.2" fill="#e11400" shape-rendering="crispEdges"/>
<rect x="287.4" y="291.7" width="6.1" height="7.2" fill="#e11400" shape-rendering="crispEdges"/>
<rect x="281.4" y="299.0" width="6.1" height="7.2" fill="#e11400" shape-rendering="crispEdges"/>
<rect x="402.6" y="241.1" width="6.1" height="7.2" fill="#ffa000" shape-rendering="crispEdges"/>
<rect x="469.2" y="241.1" width="6.1" height="7.2" fill="#ff6000" shape-rendering="crispEdges"/>
<rect x="475.3" y="241.1" width="6.1" height="7.2" fill="#ff6000" shape-rendering="crispEdges"/>
<rect x="402.6" y="248.3" width="6.1" height="7.2" fill="#ffa000" shape-rendering="crispEdges"/>
<rect x="408.6" y="248.3" width="6.1" height="7.2" fill="#ffa000" shape-rendering="crispEdges"/>
<rect x="414.7" y="248.3" width="6.1" height="7.2" fill="#ffa000" shape-rendering="crispEdges"/>
<rect x="420.8" y="248.3" width="6.1" height="7.2" fill="#ffa000" shape-rendering="crispEdges"/>
<rect x="426.8" y="248.3" width="6.1" height="7.2" fill="#ffa000" shape-rendering="crispEdges"/>
<rect x="432.9" y="248.3" width="6.1" height="7.2" fill="#ffa000" shape-rendering="crispEdges"/>
<rect x="438.9" y="248.3" width="6.1" height="7.2" fill="#ffa000" shape-rendering="crispEdges"/>
<rect x="445.0" y="248.3" width="6.1" height="7.2" fill="#ff6000" shape-rendering="crispEdges"/>
<rect x="469.2" y="248.3" width="6.1" height="7.2" fill="#ff6000" shape-rendering="crispEdges"/>
<rect x="475.3" y="248.3" width="6.1" height="7.2" fill="#ff6000" shape-rendering="crispEdges"/>
<rect x="481.3" y="248.3" width="6.1" height="7.2" fill="#ff6000" shape-rendering="crispEdges"/>
<rect x="396.5" y="255.5" width="6.1" height="7.2" fill="#ffa000" shape-rendering="crispEdges"/>
<rect x="402.6" y="255.5" width="6.1" height="7.2" fill="#ffa000" shape-rendering="crispEdges"/>
<rect x="408.6" y="255.5" width="6.1" height="7.2" fill="#ffa000" shape-rendering="crispEdges"/>
<rect x="420.8" y="255.5" width="6.1" height="7.2" fill="#ffa000" shape-rendering="crispEdges"/>
<rect x="432.9" y="255.5" width="6.1" height="7.2" fill="#ffa000" shape-rendering="crispEdges"/>
<rect x="438.9" y="255.5" width="6.1" height="7.2" fill="#ffa000" shape-rendering="crispEdges"/>
<rect x="445.0" y="255.5" width="6.1" height="7.2" fill="#ff6000" shape-rendering="crispEdges"/>
<rect x="451.0" y="255.5" width="6.1" height="7.2" fill="#ff6000" shape-rendering="crispEdges"/>
<rect x="457.1" y="255.5" width="6.1" height="7.2" fill="#ff6000" shape-rendering="crispEdges"/>
<rect x="463.2" y="255.5" width="6.1" height="7.2" fill="#ff6000" shape-rendering="crispEdges"/>
<rect x="469.2" y="255.5" width="6.1" height="7.2" fill="#ff6000" shape-rendering="crispEdges"/>
<rect x="475.3" y="255.5" width="6.1" height="7.2" fill="#ff6000" shape-rendering="crispEdges"/>
<rect x="481.3" y="255.5" width="6.1" height="7.2" fill="#ff6000" shape-rendering="crispEdges"/>
<rect x="487.4" y="255.5" width="6.1" height="7.2" fill="#ff6000" shape-rendering="crispEdges"/>
<rect x="493.5" y="255.5" width="6.1" height="7.2" fill="#ff6000" shape-rendering="crispEdges"/>
<rect x="499.5" y="255.5" width="6.1" height="7.2" fill="#ff6000" shape-rendering="crispEdges"/>
<rect x="396.5" y="262.8" width="6.1" height="7.2" fill="#ffa000" shape-rendering="crispEdges"/>
<rect x="402.6" y="262.8" width="6.1" height="7.2" fill="#ffa000" shape-rendering="crispEdges"/>
<rect x="408.6" y="262.8" width="6.1" height="7.2" fill="#ffa000" shape-rendering="crispEdges"/>
<rect x="414.7" y="262.8" width="6.1" height="7.2" fill="#ffa000" shape-rendering="crispEdges"/>
<rect x="420.8" y="262.8" width="6.1" height="7.2" fill="#ffa000" shape-rendering="crispEdges"/>
<rect x="426.8" y="262.8" width="6.1" height="7.2" fill="#ffa000" shape-rendering="crispEdges"/>
<rect x="432.9" y="262.8" width="6.1" height="7.2" fill="#ffa000" shape-rendering="crispEdges"/>
<rect x="438.9" y="262.8" width="6.1" height="7.2" fill="#ff6000" shape-rendering="crispEdges"/>
<rect x="445.0" y="262.8" width="6.1" height="7.2" fill="#ff6000" shape-rendering="crispEdges"/>
<rect x="451.0" y="262.8" width="6.1" height="7.2" fill="#ff6000" shape-rendering="crispEdges"/>
<rect x="463.2" y="262.8" width="6.1" height="7.2" fill="#ff6000" shape-rendering="crispEdges"/>
<rect x="469.2" y="262.8" width="6.1" height="7.2" fill="#ff6000" shape-rendering="crispEdges"/>
<rect x="475.3" y="262.8" width="6.1" height="7.2" fill="#ff6000" shape-rendering="crispEdges"/>
<rect x="481.3" y="262.8" width="6.1" height="7.2" fill="#ff6000" shape-rendering="crispEdges"/>
<rect x="487.4" y="262.8" width="6.1" height="7.2" fill="#ff6000" shape-rendering="crispEdges"/>
<rect x="493.5" y="262.8" width="6.1" height="7.2" fill="#ff6000" shape-rendering="crispEdges"/>
<rect x="499.5" y="262.8" width="6.1" height="7.2" fill="#e11400" shape-rendering="crispEdges"/>
<rect x="396.5" y="270.0" width="6.1" height="7.2" fill="#ffa000" shape-rendering="crispEdges"/>
<rect x="402.6" y="270.0" width="6.1" height="7.2" fill="#ffa000" shape-rendering="crispEdges"/>
<rect x="408.6" y="270.0" width="6.1" height="7.2" fill="#ffa000" shape-rendering="crispEdges"/>
<rect x="414.7" y="270.0" width="6.1" height="7.2" fill="#ffa000" shape-rendering="crispEdges"/>
<rect x="420.8" y="270.0" width="6.1" height="7.2" fill="#ffa000" shape-rendering="crispEdges"/>
<rect x="426.8" y="270.0" width="6.1" height="7.2" fill="#ffa000" shape-rendering="crispEdges"/>
<rect x="432.9" y="270.0" width="6.1" height="7.2" fill="#ff6000" shape-rendering="crispEdges"/>
<rect x="438.9" y="270.0" width="6.1" height="7.2" fill="#ff6000" shape-rendering="crispEdges"/>
<rect x="445.0" y="270.0" width="6.1" height="7.2" fill="#ffa000" shape-rendering="crispEdges"/>
<rect x="469.2" y="270.0" width="6.1" height="7.2" fill="#ff6000" shape-rendering="crispEdges"/>
<rect x="475.3" y="270.0" width="6.1" height="7.2" fill="#ff6000" shape-rendering="crispEdges"/>
<rect x="481.3" y="270.0" width="6.1" height="7.2" fill="#ff6000" shape-rendering="crispEdges"/>
<rect x="487.4" y="270.0" width="6.1" height="7.2" fill="#e11400" shape-rendering="crispEdges"/>
<rect x="493.5" y="270.0" width="6.1" height="7.2" fill="#e11400" shape-rendering="crispEdges"/>
<rect x="499.5" y="270.0" width="6.1" height="7.2" fill="#e11400" shape-rendering="crispEdges"/>
<rect x="408.6" y="277.3" width="6.1" height="7.2" fill="#ffa000" shape-rendering="crispEdges"/>
<rect x="426.8" y="277.3" width="6.1" height="7.2" fill="#ffa000" shape-rendering="crispEdges"/>
<rect x="432.9" y="277.3" width="6.1" height="7.2" fill="#ff6000" shape-rendering="crispEdges"/>
<rect x="475.3" y="277.3" width="6.1" height="7.2" fill="#ff6000" shape-rendering="crispEdges"/>
<rect x="481.3" y="277.3" width="6.1" height="7.2" fill="#ff6000" shape-rendering="crispEdges"/>
<rect x="487.4" y="277.3" width="6.1" height="7.2" fill="#ff6000" shape-rendering="crispEdges"/>
<rect x="493.5" y="277.3" width="6.1" height="7.2" fill="#ff6000" shape-rendering="crispEdges"/>
<rect x="499.5" y="277.3" width="6.1" height="7.2" fill="#ff6000" shape-rendering="crispEdges"/>
<rect x="481.3" y="284.5" width="6.1" height="7.2" fill="#ff6000" shape-rendering="crispEdges"/>
<rect x="487.4" y="284.5" width="6.1" height="7.2" fill="#ff6000" shape-rendering="crispEdges"/>
<use href="#map"/>
</g></g>
<rect x="284" y="683" width="218" height="175" fill="none" stroke="#000" stroke-width="2" shape-rendering="crispEdges"/>
<path d="M279.0,698.5H283.5M279.0,727.5H283.5M279.0,756.4H283.5M279.0,785.4H283.5M279.0,814.3H283.5M279.0,843.2H283.5M284.4,859V863.5M332.9,859V863.5M381.4,859V863.5M429.8,859V863.5M478.3,859V863.5" stroke="#000" stroke-width="1.2" fill="none"/>
<g transform="translate(717,490)"><g clip-path="url(#cp)">
<rect x="292.8" y="253.6" width="7.1" height="8.8" fill="#ffa000" shape-rendering="crispEdges"/>
<rect x="311.2" y="253.6" width="6.6" height="8.8" fill="#ffa000" shape-rendering="crispEdges"/>
<rect x="359.8" y="232.0" width="7.4" height="7.7" fill="#fffaaa" shape-rendering="crispEdges"/>
<rect x="378.0" y="232.0" width="7.1" height="8.4" fill="#ffa000" shape-rendering="crispEdges"/>
<rect x="395.9" y="232.0" width="7.1" height="8.4" fill="#ffa000" shape-rendering="crispEdges"/>
<rect x="408.4" y="232.0" width="7.4" height="8.4" fill="#ffa000" shape-rendering="crispEdges"/>
<rect x="408.9" y="240.4" width="6.6" height="14.3" fill="#fffaaa" shape-rendering="crispEdges"/>
<rect x="426.9" y="232.0" width="7.4" height="8.4" fill="#ffa000" shape-rendering="crispEdges"/>
<rect x="475.0" y="267.9" width="13.0" height="9.7" fill="#ffa000" shape-rendering="crispEdges"/>
<rect x="462.9" y="275.7" width="6.9" height="8.8" fill="#fffaaa" shape-rendering="crispEdges"/>
<rect x="451.2" y="282.8" width="6.6" height="8.7" fill="#fffaaa" shape-rendering="crispEdges"/>
<rect x="499.8" y="261.0" width="2.4" height="8.4" fill="#ff6000" shape-rendering="crispEdges"/>
<rect x="499.8" y="305.2" width="2.4" height="8.4" fill="#e11400" shape-rendering="crispEdges"/>
<rect x="487.2" y="312.1" width="7.4" height="8.8" fill="#e11400" shape-rendering="crispEdges"/>
<rect x="481.3" y="320.4" width="6.6" height="8.0" fill="#e11400" shape-rendering="crispEdges"/>
<rect x="468.8" y="327.3" width="12.5" height="8.8" fill="#ff6000" shape-rendering="crispEdges"/>
<rect x="468.8" y="336.1" width="12.5" height="14.4" fill="#ffa000" shape-rendering="crispEdges"/>
<rect x="475.0" y="348.9" width="13.0" height="8.5" fill="#fffaaa" shape-rendering="crispEdges"/>
<rect x="487.2" y="356.0" width="7.4" height="8.8" fill="#fffaaa" shape-rendering="crispEdges"/>
<use href="#map"/>
</g></g>
<rect x="1001" y="683" width="219" height="175" fill="none" stroke="#000" stroke-width="2" shape-rendering="crispEdges"/>
<path d="M996.0,698.5H1000.5M996.0,727.5H1000.5M996.0,756.4H1000.5M996.0,785.4H1000.5M996.0,814.3H1000.5M996.0,843.2H1000.5M1001.4,859V863.5M1049.9,859V863.5M1098.4,859V863.5M1146.8,859V863.5M1195.3,859V863.5" stroke="#000" stroke-width="1.2" fill="none"/>
<g transform="translate(0,735)"><g clip-path="url(#cp)">
<rect x="281.4" y="262.8" width="6.1" height="7.2" fill="#ffa000" shape-rendering="crispEdges"/>
<rect x="281.4" y="270.0" width="6.1" height="7.2" fill="#ffa000" shape-rendering="crispEdges"/>
<rect x="287.4" y="270.0" width="6.1" height="7.2" fill="#ffa000" shape-rendering="crispEdges"/>
<rect x="287.4" y="277.3" width="6.1" height="7.2" fill="#ffa000" shape-rendering="crispEdges"/>
<rect x="281.4" y="284.5" width="6.1" height="7.2" fill="#ff6000" shape-rendering="crispEdges"/>
<rect x="287.4" y="284.5" width="6.1" height="7.2" fill="#ff6000" shape-rendering="crispEdges"/>
<rect x="281.4" y="291.7" width="6.1" height="7.2" fill="#ff6000" shape-rendering="crispEdges"/>
<rect x="287.4" y="291.7" width="6.1" height="7.2" fill="#ff6000" shape-rendering="crispEdges"/>
<rect x="281.4" y="299.0" width="6.1" height="7.2" fill="#ff6000" shape-rendering="crispEdges"/>
<rect x="402.6" y="241.1" width="6.1" height="7.2" fill="#ffa000" shape-rendering="crispEdges"/>
<rect x="469.2" y="241.1" width="6.1" height="7.2" fill="#ffa000" shape-rendering="crispEdges"/>
<rect x="475.3" y="241.1" width="6.1" height="7.2" fill="#ffa000" shape-rendering="crispEdges"/>
<rect x="402.6" y="248.3" width="6.1" height="7.2" fill="#ffa000" shape-rendering="crispEdges"/>
<rect x="408.6" y="248.3" width="6.1" height="7.2" fill="#ffa000" shape-rendering="crispEdges"/>
<rect x="414.7" y="248.3" width="6.1" height="7.2" fill="#ffa000" shape-rendering="crispEdges"/>
<rect x="420.8" y="248.3" width="6.1" height="7.2" fill="#ffa000" shape-rendering="crispEdges"/>
<rect x="426.8" y="248.3" width="6.1" height="7.2" fill="#ffa000" shape-rendering="crispEdges"/>
<rect x="432.9" y="248.3" width="6.1" height="7.2" fill="#ffa000" shape-rendering="crispEdges"/>
<rect x="438.9" y="248.3" width="6.1" height="7.2" fill="#ffa000" shape-rendering="crispEdges"/>
<rect x="445.0" y="248.3" width="6.1" height="7.2" fill="#ffa000" shape-rendering="crispEdges"/>
<rect x="469.2" y="248.3" width="6.1" height="7.2" fill="#ffa000" shape-rendering="crispEdges"/>
<rect x="475.3" y="248.3" width="6.1" height="7.2" fill="#ffa000" shape-rendering="crispEdges"/>
<rect x="481.3" y="248.3" width="6.1" height="7.2" fill="#ffa000" shape-rendering="crispEdges"/>
<rect x="396.5" y="255.5" width="6.1" height="7.2" fill="#ffa000" shape-rendering="crispEdges"/>
<rect x="402.6" y="255.5" width="6.1" height="7.2" fill="#ffa000" shape-rendering="crispEdges"/>
<rect x="408.6" y="255.5" width="6.1" height="7.2" fill="#ff6000" shape-rendering="crispEdges"/>
<rect x="420.8" y="255.5" width="6.1" height="7.2" fill="#ffa000" shape-rendering="crispEdges"/>
<rect x="432.9" y="255.5" width="6.1" height="7.2" fill="#ffa000" shape-rendering="crispEdges"/>
<rect x="438.9" y="255.5" width="6.1" height="7.2" fill="#ffa000" shape-rendering="crispEdges"/>
<rect x="445.0" y="255.5" width="6.1" height="7.2" fill="#ffa000" shape-rendering="crispEdges"/>
<rect x="451.0" y="255.5" width="6.1" height="7.2" fill="#ffa000" shape-rendering="crispEdges"/>
<rect x="457.1" y="255.5" width="6.1" height="7.2" fill="#ffa000" shape-rendering="crispEdges"/>
<rect x="463.2" y="255.5" width="6.1" height="7.2" fill="#ffa000" shape-rendering="crispEdges"/>
<rect x="469.2" y="255.5" width="6.1" height="7.2" fill="#ffa000" shape-rendering="crispEdges"/>
<rect x="475.3" y="255.5" width="6.1" height="7.2" fill="#ffa000" shape-rendering="crispEdges"/>
<rect x="481.3" y="255.5" width="6.1" height="7.2" fill="#ffa000" shape-rendering="crispEdges"/>
<rect x="487.4" y="255.5" width="6.1" height="7.2" fill="#ffa000" shape-rendering="crispEdges"/>
<rect x="493.5" y="255.5" width="6.1" height="7.2" fill="#ffa000" shape-rendering="crispEdges"/>
<rect x="499.5" y="255.5" width="6.1" height="7.2" fill="#ffa000" shape-rendering="crispEdges"/>
<rect x="396.5" y="262.8" width="6.1" height="7.2" fill="#ffa000" shape-rendering="crispEdges"/>
<rect x="402.6" y="262.8" width="6.1" height="7.2" fill="#ffa000" shape-rendering="crispEdges"/>
<rect x="408.6" y="262.8" width="6.1" height="7.2" fill="#ffa000" shape-rendering="crispEdges"/>
<rect x="414.7" y="262.8" width="6.1" height="7.2" fill="#ff6000" shape-rendering="crispEdges"/>
<rect x="420.8" y="262.8" width="6.1" height="7.2" fill="#ff6000" shape-rendering="crispEdges"/>
<rect x="426.8" y="262.8" width="6.1" height="7.2" fill="#ff6000" shape-rendering="crispEdges"/>
<rect x="432.9" y="262.8" width="6.1" height="7.2" fill="#ffa000" shape-rendering="crispEdges"/>
<rect x="438.9" y="262.8" width="6.1" height="7.2" fill="#ffa000" shape-rendering="crispEdges"/>
<rect x="445.0" y="262.8" width="6.1" height="7.2" fill="#ffa000" shape-rendering="crispEdges"/>
<rect x="469.2" y="262.8" width="6.1" height="7.2" fill="#ffa000" shape-rendering="crispEdges"/>
<rect x="475.3" y="262.8" width="6.1" height="7.2" fill="#ffa000" shape-rendering="crispEdges"/>
<rect x="481.3" y="262.8" width="6.1" height="7.2" fill="#ffa000" shape-rendering="crispEdges"/>
<rect x="487.4" y="262.8" width="6.1" height="7.2" fill="#ffa000" shape-rendering="crispEdges"/>
<rect x="493.5" y="262.8" width="6.1" height="7.2" fill="#ffa000" shape-rendering="crispEdges"/>
<rect x="499.5" y="262.8" width="6.1" height="7.2" fill="#ffa000" shape-rendering="crispEdges"/>
<rect x="396.5" y="270.0" width="6.1" height="7.2" fill="#ffa000" shape-rendering="crispEdges"/>
<rect x="402.6" y="270.0" width="6.1" height="7.2" fill="#ffa000" shape-rendering="crispEdges"/>
<rect x="408.6" y="270.0" width="6.1" height="7.2" fill="#ff6000" shape-rendering="crispEdges"/>
<rect x="414.7" y="270.0" width="6.1" height="7.2" fill="#ff6000" shape-rendering="crispEdges"/>
<rect x="420.8" y="270.0" width="6.1" height="7.2" fill="#ff6000" shape-rendering="crispEdges"/>
<rect x="426.8" y="270.0" width="6.1" height="7.2" fill="#ff6000" shape-rendering="crispEdges"/>
<rect x="432.9" y="270.0" width="6.1" height="7.2" fill="#ffa000" shape-rendering="crispEdges"/>
<rect x="438.9" y="270.0" width="6.1" height="7.2" fill="#ffa000" shape-rendering="crispEdges"/>
<rect x="445.0" y="270.0" width="6.1" height="7.2" fill="#ffa000" shape-rendering="crispEdges"/>
<rect x="469.2" y="270.0" width="6.1" height="7.2" fill="#ffa000" shape-rendering="crispEdges"/>
<rect x="475.3" y="270.0" width="6.1" height="7.2" fill="#ffa000" shape-rendering="crispEdges"/>
<rect x="481.3" y="270.0" width="6.1" height="7.2" fill="#ffa000" shape-rendering="crispEdges"/>
<rect x="487.4" y="270.0" width="6.1" height="7.2" fill="#ffa000" shape-rendering="crispEdges"/>
<rect x="493.5" y="270.0" width="6.1" height="7.2" fill="#ffa000" shape-rendering="crispEdges"/>
<rect x="499.5" y="270.0" width="6.1" height="7.2" fill="#ffa000" shape-rendering="crispEdges"/>
<rect x="408.6" y="277.3" width="6.1" height="7.2" fill="#ff6000" shape-rendering="crispEdges"/>
<rect x="426.8" y="277.3" width="6.1" height="7.2" fill="#ffa000" shape-rendering="crispEdges"/>
<rect x="432.9" y="277.3" width="6.1" height="7.2" fill="#ffa000" shape-rendering="crispEdges"/>
<rect x="475.3" y="277.3" width="6.1" height="7.2" fill="#ffa000" shape-rendering="crispEdges"/>
<rect x="481.3" y="277.3" width="6.1" height="7.2" fill="#ffa000" shape-rendering="crispEdges"/>
<rect x="487.4" y="277.3" width="6.1" height="7.2" fill="#ffa000" shape-rendering="crispEdges"/>
<rect x="493.5" y="277.3" width="6.1" height="7.2" fill="#ffa000" shape-rendering="crispEdges"/>
<rect x="499.5" y="277.3" width="6.1" height="7.2" fill="#ffa000" shape-rendering="crispEdges"/>
<rect x="481.3" y="284.5" width="6.1" height="7.2" fill="#ffa000" shape-rendering="crispEdges"/>
<rect x="487.4" y="284.5" width="6.1" height="7.2" fill="#ffa000" shape-rendering="crispEdges"/>
<use href="#map"/>
</g></g>
<rect x="284" y="928" width="218" height="175" fill="none" stroke="#000" stroke-width="2" shape-rendering="crispEdges"/>
<path d="M279.0,943.5H283.5M279.0,972.5H283.5M279.0,1001.4H283.5M279.0,1030.3H283.5M279.0,1059.3H283.5M279.0,1088.2H283.5M284.4,1104V1108.5M332.9,1104V1108.5M381.4,1104V1108.5M429.8,1104V1108.5M478.3,1104V1108.5" stroke="#000" stroke-width="1.2" fill="none"/>
<g transform="translate(717,735)"><g clip-path="url(#cp)">
<rect x="292.8" y="253.6" width="7.1" height="8.8" fill="#ffc03c" shape-rendering="crispEdges"/>
<rect x="311.2" y="253.6" width="6.6" height="8.8" fill="#ffc03c" shape-rendering="crispEdges"/>
<rect x="359.8" y="232.0" width="7.4" height="7.7" fill="#ffc03c" shape-rendering="crispEdges"/>
<rect x="378.0" y="232.0" width="7.1" height="8.4" fill="#ffc03c" shape-rendering="crispEdges"/>
<rect x="395.9" y="232.0" width="7.1" height="8.4" fill="#ffc03c" shape-rendering="crispEdges"/>
<rect x="408.4" y="232.0" width="7.4" height="23.1" fill="#ffc03c" shape-rendering="crispEdges"/>
<rect x="426.9" y="232.0" width="7.4" height="8.4" fill="#ffc03c" shape-rendering="crispEdges"/>
<rect x="475.0" y="267.9" width="13.0" height="9.7" fill="#ffc03c" shape-rendering="crispEdges"/>
<rect x="462.9" y="275.7" width="6.9" height="8.8" fill="#ffc03c" shape-rendering="crispEdges"/>
<rect x="451.2" y="282.8" width="6.6" height="8.7" fill="#ffc03c" shape-rendering="crispEdges"/>
<rect x="499.8" y="261.0" width="2.4" height="8.4" fill="#ffc03c" shape-rendering="crispEdges"/>
<rect x="499.8" y="305.2" width="2.4" height="8.4" fill="#a50000" shape-rendering="crispEdges"/>
<rect x="487.2" y="312.1" width="7.4" height="8.8" fill="#a50000" shape-rendering="crispEdges"/>
<rect x="481.3" y="320.4" width="6.6" height="8.0" fill="#a50000" shape-rendering="crispEdges"/>
<rect x="468.8" y="327.3" width="12.5" height="21.6" fill="#a50000" shape-rendering="crispEdges"/>
<rect x="475.0" y="348.9" width="13.0" height="8.5" fill="#a50000" shape-rendering="crispEdges"/>
<rect x="487.2" y="356.0" width="7.4" height="8.8" fill="#a50000" shape-rendering="crispEdges"/>
<use href="#map"/>
</g></g>
<rect x="1001" y="928" width="219" height="175" fill="none" stroke="#000" stroke-width="2" shape-rendering="crispEdges"/>
<path d="M996.0,943.5H1000.5M996.0,972.5H1000.5M996.0,1001.4H1000.5M996.0,1030.3H1000.5M996.0,1059.3H1000.5M996.0,1088.2H1000.5M1001.4,1104V1108.5M1049.9,1104V1108.5M1098.4,1104V1108.5M1146.8,1104V1108.5M1195.3,1104V1108.5" stroke="#000" stroke-width="1.2" fill="none"/>
<g transform="translate(0,1032)"><g clip-path="url(#cp)">
<rect x="281.4" y="262.8" width="6.1" height="7.2" fill="#b4f0fa" shape-rendering="crispEdges"/>
<rect x="281.4" y="270.0" width="6.1" height="7.2" fill="#50a5f5" shape-rendering="crispEdges"/>
<rect x="287.4" y="270.0" width="6.1" height="7.2" fill="#b4f0fa" shape-rendering="crispEdges"/>
<rect x="281.4" y="277.3" width="6.1" height="7.2" fill="#b4f0fa" shape-rendering="crispEdges"/>
<rect x="287.4" y="277.3" width="6.1" height="7.2" fill="#b4f0fa" shape-rendering="crispEdges"/>
<rect x="281.4" y="284.5" width="6.1" height="7.2" fill="#b4f0fa" shape-rendering="crispEdges"/>
<rect x="287.4" y="284.5" width="6.1" height="7.2" fill="#b4f0fa" shape-rendering="crispEdges"/>
<rect x="281.4" y="291.7" width="6.1" height="7.2" fill="#b4f0fa" shape-rendering="crispEdges"/>
<rect x="287.4" y="291.7" width="6.1" height="7.2" fill="#b4f0fa" shape-rendering="crispEdges"/>
<rect x="281.4" y="299.0" width="6.1" height="7.2" fill="#b4f0fa" shape-rendering="crispEdges"/>
<rect x="402.6" y="241.1" width="6.1" height="7.2" fill="#ffe678" shape-rendering="crispEdges"/>
<rect x="469.2" y="241.1" width="6.1" height="7.2" fill="#ffe678" shape-rendering="crispEdges"/>
<rect x="475.3" y="241.1" width="6.1" height="7.2" fill="#ffe678" shape-rendering="crispEdges"/>
<rect x="402.6" y="248.3" width="6.1" height="7.2" fill="#ffe678" shape-rendering="crispEdges"/>
<rect x="408.6" y="248.3" width="6.1" height="7.2" fill="#ffe678" shape-rendering="crispEdges"/>
<rect x="414.7" y="248.3" width="6.1" height="7.2" fill="#ffe678" shape-rendering="crispEdges"/>
<rect x="420.8" y="248.3" width="6.1" height="7.2" fill="#ffe678" shape-rendering="crispEdges"/>
<rect x="426.8" y="248.3" width="6.1" height="7.2" fill="#ffe678" shape-rendering="crispEdges"/>
<rect x="432.9" y="248.3" width="6.1" height="7.2" fill="#ffe678" shape-rendering="crispEdges"/>
<rect x="438.9" y="248.3" width="6.1" height="7.2" fill="#ffe678" shape-rendering="crispEdges"/>
<rect x="445.0" y="248.3" width="6.1" height="7.2" fill="#ffe678" shape-rendering="crispEdges"/>
<rect x="451.0" y="248.3" width="6.1" height="7.2" fill="#ffe678" shape-rendering="crispEdges"/>
<rect x="457.1" y="248.3" width="6.1" height="7.2" fill="#ffe678" shape-rendering="crispEdges"/>
<rect x="463.2" y="248.3" width="6.1" height="7.2" fill="#ffe678" shape-rendering="crispEdges"/>
<rect x="469.2" y="248.3" width="6.1" height="7.2" fill="#ffe678" shape-rendering="crispEdges"/>
<rect x="475.3" y="248.3" width="6.1" height="7.2" fill="#ffe678" shape-rendering="crispEdges"/>
<rect x="481.3" y="248.3" width="6.1" height="7.2" fill="#ffe678" shape-rendering="crispEdges"/>
<rect x="396.5" y="255.5" width="6.1" height="7.2" fill="#b4f0fa" shape-rendering="crispEdges"/>
<rect x="402.6" y="255.5" width="6.1" height="7.2" fill="#ffe678" shape-rendering="crispEdges"/>
<rect x="408.6" y="255.5" width="6.1" height="7.2" fill="#b4f0fa" shape-rendering="crispEdges"/>
<rect x="414.7" y="255.5" width="6.1" height="7.2" fill="#ffe678" shape-rendering="crispEdges"/>
<rect x="420.8" y="255.5" width="6.1" height="7.2" fill="#ffe678" shape-rendering="crispEdges"/>
<rect x="426.8" y="255.5" width="6.1" height="7.2" fill="#ffe678" shape-rendering="crispEdges"/>
<rect x="432.9" y="255.5" width="6.1" height="7.2" fill="#ffe678" shape-rendering="crispEdges"/>
<rect x="438.9" y="255.5" width="6.1" height="7.2" fill="#ffe678" shape-rendering="crispEdges"/>
<rect x="445.0" y="255.5" width="6.1" height="7.2" fill="#ffe678" shape-rendering="crispEdges"/>
<rect x="451.0" y="255.5" width="6.1" height="7.2" fill="#ffe678" shape-rendering="crispEdges"/>
<rect x="457.1" y="255.5" width="6.1" height="7.2" fill="#ffe678" shape-rendering="crispEdges"/>
<rect x="463.2" y="255.5" width="6.1" height="7.2" fill="#ffe678" shape-rendering="crispEdges"/>
<rect x="469.2" y="255.5" width="6.1" height="7.2" fill="#ffe678" shape-rendering="crispEdges"/>
<rect x="475.3" y="255.5" width="6.1" height="7.2" fill="#ffe678" shape-rendering="crispEdges"/>
<rect x="481.3" y="255.5" width="6.1" height="7.2" fill="#ffe678" shape-rendering="crispEdges"/>
<rect x="487.4" y="255.5" width="6.1" height="7.2" fill="#ffe678" shape-rendering="crispEdges"/>
<rect x="493.5" y="255.5" width="6.1" height="7.2" fill="#ffe678" shape-rendering="crispEdges"/>
<rect x="396.5" y="262.8" width="6.1" height="7.2" fill="#b4f0fa" shape-rendering="crispEdges"/>
<rect x="402.6" y="262.8" width="6.1" height="7.2" fill="#ffe678" shape-rendering="crispEdges"/>
<rect x="408.6" y="262.8" width="6.1" height="7.2" fill="#b4f0fa" shape-rendering="crispEdges"/>
<rect x="414.7" y="262.8" width="6.1" height="7.2" fill="#ffe678" shape-rendering="crispEdges"/>
<rect x="420.8" y="262.8" width="6.1" height="7.2" fill="#ffe678" shape-rendering="crispEdges"/>
<rect x="426.8" y="262.8" width="6.1" height="7.2" fill="#ffe678" shape-rendering="crispEdges"/>
<rect x="432.9" y="262.8" width="6.1" height="7.2" fill="#ffe678" shape-rendering="crispEdges"/>
<rect x="438.9" y="262.8" width="6.1" height="7.2" fill="#ffe678" shape-rendering="crispEdges"/>
<rect x="445.0" y="262.8" width="6.1" height="7.2" fill="#ffe678" shape-rendering="crispEdges"/>
<rect x="451.0" y="262.8" width="6.1" height="7.2" fill="#ffe678" shape-rendering="crispEdges"/>
<rect x="463.2" y="262.8" width="6.1" height="7.2" fill="#ffe678" shape-rendering="crispEdges"/>
<rect x="469.2" y="262.8" width="6.1" height="7.2" fill="#ffe678" shape-rendering="crispEdges"/>
<rect x="475.3" y="262.8" width="6.1" height="7.2" fill="#ffe678" shape-rendering="crispEdges"/>
<rect x="481.3" y="262.8" width="6.1" height="7.2" fill="#ffe678" shape-rendering="crispEdges"/>
<rect x="487.4" y="262.8" width="6.1" height="7.2" fill="#ffe678" shape-rendering="crispEdges"/>
<rect x="493.5" y="262.8" width="6.1" height="7.2" fill="#ffe678" shape-rendering="crispEdges"/>
<rect x="396.5" y="270.0" width="6.1" height="7.2" fill="#b4f0fa" shape-rendering="crispEdges"/>
<rect x="402.6" y="270.0" width="6.1" height="7.2" fill="#b4f0fa" shape-rendering="crispEdges"/>
<rect x="408.6" y="270.0" width="6.1" height="7.2" fill="#b4f0fa" shape-rendering="crispEdges"/>
<rect x="414.7" y="270.0" width="6.1" height="7.2" fill="#b4f0fa" shape-rendering="crispEdges"/>
<rect x="420.8" y="270.0" width="6.1" height="7.2" fill="#ffe678" shape-rendering="crispEdges"/>
<rect x="426.8" y="270.0" width="6.1" height="7.2" fill="#b4f0fa" shape-rendering="crispEdges"/>
<rect x="432.9" y="270.0" width="6.1" height="7.2" fill="#b4f0fa" shape-rendering="crispEdges"/>
<rect x="438.9" y="270.0" width="6.1" height="7.2" fill="#b4f0fa" shape-rendering="crispEdges"/>
<rect x="445.0" y="270.0" width="6.1" height="7.2" fill="#b4f0fa" shape-rendering="crispEdges"/>
<rect x="469.2" y="270.0" width="6.1" height="7.2" fill="#b4f0fa" shape-rendering="crispEdges"/>
<rect x="475.3" y="270.0" width="6.1" height="7.2" fill="#ffe678" shape-rendering="crispEdges"/>
<rect x="481.3" y="270.0" width="6.1" height="7.2" fill="#ffe678" shape-rendering="crispEdges"/>
<rect x="487.4" y="270.0" width="6.1" height="7.2" fill="#ffe678" shape-rendering="crispEdges"/>
<rect x="493.5" y="270.0" width="6.1" height="7.2" fill="#ffe678" shape-rendering="crispEdges"/>
<rect x="408.6" y="277.3" width="6.1" height="7.2" fill="#b4f0fa" shape-rendering="crispEdges"/>
<rect x="426.8" y="277.3" width="6.1" height="7.2" fill="#b4f0fa" shape-rendering="crispEdges"/>
<rect x="432.9" y="277.3" width="6.1" height="7.2" fill="#b4f0fa" shape-rendering="crispEdges"/>
<rect x="475.3" y="277.3" width="6.1" height="7.2" fill="#b4f0fa" shape-rendering="crispEdges"/>
<rect x="481.3" y="277.3" width="6.1" height="7.2" fill="#ffe678" shape-rendering="crispEdges"/>
<rect x="487.4" y="277.3" width="6.1" height="7.2" fill="#ffe678" shape-rendering="crispEdges"/>
<rect x="499.5" y="277.3" width="6.1" height="7.2" fill="#b4f0fa" shape-rendering="crispEdges"/>
<rect x="481.3" y="284.5" width="6.1" height="7.2" fill="#b4f0fa" shape-rendering="crispEdges"/>
<rect x="487.4" y="284.5" width="6.1" height="7.2" fill="#b4f0fa" shape-rendering="crispEdges"/>
<use href="#map"/>
</g></g>
<rect x="284" y="1225" width="218" height="175" fill="none" stroke="#000" stroke-width="2" shape-rendering="crispEdges"/>
<path d="M279.0,1240.5H283.5M279.0,1269.5H283.5M279.0,1298.4H283.5M279.0,1327.3H283.5M279.0,1356.3H283.5M279.0,1385.2H283.5M284.4,1401V1405.5M332.9,1401V1405.5M381.4,1401V1405.5M429.8,1401V1405.5M478.3,1401V1405.5" stroke="#000" stroke-width="1.2" fill="none"/>
<g transform="translate(717,1032)"><g clip-path="url(#cp)">
<rect x="292.8" y="247.0" width="7.1" height="7.4" fill="#ffe678" shape-rendering="crispEdges"/>
<rect x="286.9" y="254.4" width="5.9" height="8.8" fill="#ffe678" shape-rendering="crispEdges"/>
<rect x="285.2" y="254.4" width="1.8" height="8.8" fill="#b4f0fa" shape-rendering="crispEdges"/>
<rect x="292.8" y="254.4" width="7.1" height="8.8" fill="#ffa000" shape-rendering="crispEdges"/>
<rect x="299.9" y="254.4" width="11.3" height="8.8" fill="#ffe678" shape-rendering="crispEdges"/>
<rect x="311.2" y="247.0" width="6.6" height="7.4" fill="#ffe678" shape-rendering="crispEdges"/>
<rect x="311.2" y="254.4" width="6.6" height="8.8" fill="#ff3200" shape-rendering="crispEdges"/>
<rect x="317.9" y="254.4" width="6.6" height="8.8" fill="#ffe678" shape-rendering="crispEdges"/>
<rect x="292.8" y="263.2" width="7.1" height="4.4" fill="#ffe678" shape-rendering="crispEdges"/>
<rect x="311.2" y="263.2" width="6.6" height="7.4" fill="#ffe678" shape-rendering="crispEdges"/>
<rect x="359.8" y="224.9" width="7.4" height="7.4" fill="#ffe678" shape-rendering="crispEdges"/>
<rect x="354.0" y="232.3" width="36.1" height="8.8" fill="#ffe678" shape-rendering="crispEdges"/>
<rect x="359.8" y="234.5" width="5.9" height="5.2" fill="#ff3200" shape-rendering="crispEdges"/>
<rect x="378.3" y="234.5" width="5.9" height="6.6" fill="#ff3200" shape-rendering="crispEdges"/>
<rect x="359.8" y="241.1" width="7.4" height="7.4" fill="#ffe678" shape-rendering="crispEdges"/>
<rect x="378.3" y="241.1" width="6.6" height="7.4" fill="#ffe678" shape-rendering="crispEdges"/>
<rect x="390.0" y="224.9" width="5.9" height="23.6" fill="#ffa000" shape-rendering="crispEdges"/>
<rect x="395.9" y="224.9" width="25.8" height="30.9" fill="#ff3200" shape-rendering="crispEdges"/>
<rect x="401.8" y="248.5" width="6.6" height="7.4" fill="#ffa000" shape-rendering="crispEdges"/>
<rect x="421.7" y="224.9" width="11.8" height="7.4" fill="#ffe678" shape-rendering="crispEdges"/>
<rect x="421.7" y="232.3" width="17.7" height="8.8" fill="#ffe678" shape-rendering="crispEdges"/>
<rect x="427.6" y="235.2" width="5.9" height="5.9" fill="#ffa000" shape-rendering="crispEdges"/>
<rect x="427.6" y="241.1" width="5.9" height="7.4" fill="#ffe678" shape-rendering="crispEdges"/>
<rect x="409.2" y="255.9" width="6.6" height="7.4" fill="#b4f0fa" shape-rendering="crispEdges"/>
<rect x="462.9" y="268.4" width="12.5" height="8.1" fill="#ffe678" shape-rendering="crispEdges"/>
<rect x="475.5" y="261.7" width="12.5" height="8.8" fill="#ffe678" shape-rendering="crispEdges"/>
<rect x="475.5" y="270.6" width="12.5" height="6.6" fill="#ff3200" shape-rendering="crispEdges"/>
<rect x="488.0" y="268.4" width="6.6" height="8.8" fill="#b4f0fa" shape-rendering="crispEdges"/>
<rect x="494.6" y="254.4" width="7.5" height="8.8" fill="#ffe678" shape-rendering="crispEdges"/>
<rect x="494.6" y="263.2" width="7.5" height="7.4" fill="#ffa000" shape-rendering="crispEdges"/>
<rect x="494.6" y="270.6" width="7.5" height="6.6" fill="#ffe678" shape-rendering="crispEdges"/>
<rect x="499.8" y="257.3" width="2.4" height="16.2" fill="#ff3200" shape-rendering="crispEdges"/>
<rect x="451.2" y="275.7" width="11.8" height="8.8" fill="#ffe678" shape-rendering="crispEdges"/>
<rect x="457.0" y="276.5" width="12.5" height="8.1" fill="#ffa000" shape-rendering="crispEdges"/>
<rect x="469.6" y="277.2" width="18.4" height="7.4" fill="#ffe678" shape-rendering="crispEdges"/>
<rect x="445.3" y="284.6" width="5.9" height="7.4" fill="#ffe678" shape-rendering="crispEdges"/>
<rect x="451.2" y="284.6" width="5.9" height="7.4" fill="#ffa000" shape-rendering="crispEdges"/>
<rect x="457.0" y="284.6" width="12.5" height="7.4" fill="#ffe678" shape-rendering="crispEdges"/>
<rect x="451.2" y="291.9" width="5.9" height="8.1" fill="#ffe678" shape-rendering="crispEdges"/>
<rect x="499.8" y="297.8" width="2.4" height="8.1" fill="#ffe678" shape-rendering="crispEdges"/>
<rect x="488.0" y="305.9" width="14.1" height="8.1" fill="#ffe678" shape-rendering="crispEdges"/>
<rect x="499.8" y="308.1" width="2.4" height="5.9" fill="#ff3200" shape-rendering="crispEdges"/>
<rect x="481.3" y="313.3" width="6.6" height="7.4" fill="#ffa000" shape-rendering="crispEdges"/>
<rect x="488.0" y="314.0" width="6.6" height="6.6" fill="#ff3200" shape-rendering="crispEdges"/>
<rect x="494.6" y="314.0" width="5.2" height="6.6" fill="#ffa000" shape-rendering="crispEdges"/>
<rect x="499.8" y="314.0" width="2.4" height="6.6" fill="#ffe678" shape-rendering="crispEdges"/>
<rect x="468.8" y="320.7" width="6.6" height="6.6" fill="#ffa000" shape-rendering="crispEdges"/>
<rect x="475.5" y="320.7" width="19.1" height="6.6" fill="#ff3200" shape-rendering="crispEdges"/>
<rect x="462.9" y="327.3" width="5.9" height="8.8" fill="#ffa000" shape-rendering="crispEdges"/>
<rect x="468.8" y="327.3" width="25.8" height="15.5" fill="#ff3200" shape-rendering="crispEdges"/>
<rect x="462.9" y="336.1" width="25.0" height="21.4" fill="#ff3200" shape-rendering="crispEdges"/>
<rect x="488.0" y="342.7" width="6.6" height="7.4" fill="#ff3200" shape-rendering="crispEdges"/>
<rect x="488.0" y="342.7" width="6.6" height="7.4" fill="#ffa000" shape-rendering="crispEdges"/>
<rect x="488.0" y="350.1" width="6.6" height="7.4" fill="#ff3200" shape-rendering="crispEdges"/>
<rect x="494.6" y="350.1" width="7.5" height="7.4" fill="#ffa000" shape-rendering="crispEdges"/>
<rect x="468.8" y="357.5" width="33.3" height="8.8" fill="#ff3200" shape-rendering="crispEdges"/>
<use href="#map"/>
</g></g>
<rect x="1001" y="1225" width="219" height="175" fill="none" stroke="#000" stroke-width="2" shape-rendering="crispEdges"/>
<path d="M996.0,1240.5H1000.5M996.0,1269.5H1000.5M996.0,1298.4H1000.5M996.0,1327.3H1000.5M996.0,1356.3H1000.5M996.0,1385.2H1000.5M1001.4,1401V1405.5M1049.9,1401V1405.5M1098.4,1401V1405.5M1146.8,1401V1405.5M1195.3,1401V1405.5" stroke="#000" stroke-width="1.2" fill="none"/>
<g transform="translate(0,1277)"><g clip-path="url(#cp)">
<rect x="281.4" y="262.8" width="6.1" height="7.2" fill="#ffa000" shape-rendering="crispEdges"/>
<rect x="281.4" y="270.0" width="6.1" height="7.2" fill="#ffa000" shape-rendering="crispEdges"/>
<rect x="287.4" y="270.0" width="6.1" height="7.2" fill="#ffa000" shape-rendering="crispEdges"/>
<rect x="281.4" y="277.3" width="6.1" height="7.2" fill="#ffa000" shape-rendering="crispEdges"/>
<rect x="287.4" y="277.3" width="6.1" height="7.2" fill="#ffe678" shape-rendering="crispEdges"/>
<rect x="281.4" y="284.5" width="6.1" height="7.2" fill="#b4f0fa" shape-rendering="crispEdges"/>
<rect x="287.4" y="284.5" width="6.1" height="7.2" fill="#b4f0fa" shape-rendering="crispEdges"/>
<rect x="281.4" y="291.7" width="6.1" height="7.2" fill="#b4f0fa" shape-rendering="crispEdges"/>
<rect x="287.4" y="291.7" width="6.1" height="7.2" fill="#b4f0fa" shape-rendering="crispEdges"/>
<rect x="281.4" y="299.0" width="6.1" height="7.2" fill="#78b9fa" shape-rendering="crispEdges"/>
<rect x="402.6" y="241.1" width="6.1" height="7.2" fill="#ffe678" shape-rendering="crispEdges"/>
<rect x="469.2" y="241.1" width="6.1" height="7.2" fill="#b4f0fa" shape-rendering="crispEdges"/>
<rect x="475.3" y="241.1" width="6.1" height="7.2" fill="#ffe678" shape-rendering="crispEdges"/>
<rect x="402.6" y="248.3" width="6.1" height="7.2" fill="#ffe678" shape-rendering="crispEdges"/>
<rect x="408.6" y="248.3" width="6.1" height="7.2" fill="#ffe678" shape-rendering="crispEdges"/>
<rect x="414.7" y="248.3" width="6.1" height="7.2" fill="#ffe678" shape-rendering="crispEdges"/>
<rect x="420.8" y="248.3" width="6.1" height="7.2" fill="#ffa000" shape-rendering="crispEdges"/>
<rect x="426.8" y="248.3" width="6.1" height="7.2" fill="#ffa000" shape-rendering="crispEdges"/>
<rect x="432.9" y="248.3" width="6.1" height="7.2" fill="#ffa000" shape-rendering="crispEdges"/>
<rect x="438.9" y="248.3" width="6.1" height="7.2" fill="#ffa000" shape-rendering="crispEdges"/>
<rect x="445.0" y="248.3" width="6.1" height="7.2" fill="#ffe678" shape-rendering="crispEdges"/>
<rect x="451.0" y="248.3" width="6.1" height="7.2" fill="#ffe678" shape-rendering="crispEdges"/>
<rect x="457.1" y="248.3" width="6.1" height="7.2" fill="#ffe678" shape-rendering="crispEdges"/>
<rect x="463.2" y="248.3" width="6.1" height="7.2" fill="#ffe678" shape-rendering="crispEdges"/>
<rect x="469.2" y="248.3" width="6.1" height="7.2" fill="#b4f0fa" shape-rendering="crispEdges"/>
<rect x="475.3" y="248.3" width="6.1" height="7.2" fill="#b4f0fa" shape-rendering="crispEdges"/>
<rect x="481.3" y="248.3" width="6.1" height="7.2" fill="#ffe678" shape-rendering="crispEdges"/>
<rect x="396.5" y="255.5" width="6.1" height="7.2" fill="#ffa000" shape-rendering="crispEdges"/>
<rect x="402.6" y="255.5" width="6.1" height="7.2" fill="#ffa000" shape-rendering="crispEdges"/>
<rect x="408.6" y="255.5" width="6.1" height="7.2" fill="#ffa000" shape-rendering="crispEdges"/>
<rect x="420.8" y="255.5" width="6.1" height="7.2" fill="#ffa000" shape-rendering="crispEdges"/>
<rect x="432.9" y="255.5" width="6.1" height="7.2" fill="#ffa000" shape-rendering="crispEdges"/>
<rect x="438.9" y="255.5" width="6.1" height="7.2" fill="#ffa000" shape-rendering="crispEdges"/>
<rect x="445.0" y="255.5" width="6.1" height="7.2" fill="#ffe678" shape-rendering="crispEdges"/>
<rect x="451.0" y="255.5" width="6.1" height="7.2" fill="#ffe678" shape-rendering="crispEdges"/>
<rect x="457.1" y="255.5" width="6.1" height="7.2" fill="#ffe678" shape-rendering="crispEdges"/>
<rect x="463.2" y="255.5" width="6.1" height="7.2" fill="#ffe678" shape-rendering="crispEdges"/>
<rect x="469.2" y="255.5" width="6.1" height="7.2" fill="#b4f0fa" shape-rendering="crispEdges"/>
<rect x="475.3" y="255.5" width="6.1" height="7.2" fill="#b4f0fa" shape-rendering="crispEdges"/>
<rect x="481.3" y="255.5" width="6.1" height="7.2" fill="#b4f0fa" shape-rendering="crispEdges"/>
<rect x="487.4" y="255.5" width="6.1" height="7.2" fill="#b4f0fa" shape-rendering="crispEdges"/>
<rect x="493.5" y="255.5" width="6.1" height="7.2" fill="#ffe678" shape-rendering="crispEdges"/>
<rect x="499.5" y="255.5" width="6.1" height="7.2" fill="#ffe678" shape-rendering="crispEdges"/>
<rect x="396.5" y="262.8" width="6.1" height="7.2" fill="#ffa000" shape-rendering="crispEdges"/>
<rect x="402.6" y="262.8" width="6.1" height="7.2" fill="#ff3200" shape-rendering="crispEdges"/>
<rect x="408.6" y="262.8" width="6.1" height="7.2" fill="#ff3200" shape-rendering="crispEdges"/>
<rect x="414.7" y="262.8" width="6.1" height="7.2" fill="#ffa000" shape-rendering="crispEdges"/>
<rect x="420.8" y="262.8" width="6.1" height="7.2" fill="#ffa000" shape-rendering="crispEdges"/>
<rect x="426.8" y="262.8" width="6.1" height="7.2" fill="#ffa000" shape-rendering="crispEdges"/>
<rect x="432.9" y="262.8" width="6.1" height="7.2" fill="#ffa000" shape-rendering="crispEdges"/>
<rect x="438.9" y="262.8" width="6.1" height="7.2" fill="#ffe678" shape-rendering="crispEdges"/>
<rect x="445.0" y="262.8" width="6.1" height="7.2" fill="#ffe678" shape-rendering="crispEdges"/>
<rect x="451.0" y="262.8" width="6.1" height="7.2" fill="#ffe678" shape-rendering="crispEdges"/>
<rect x="463.2" y="262.8" width="6.1" height="7.2" fill="#ffa000" shape-rendering="crispEdges"/>
<rect x="469.2" y="262.8" width="6.1" height="7.2" fill="#ffe678" shape-rendering="crispEdges"/>
<rect x="475.3" y="262.8" width="6.1" height="7.2" fill="#b4f0fa" shape-rendering="crispEdges"/>
<rect x="481.3" y="262.8" width="6.1" height="7.2" fill="#b4f0fa" shape-rendering="crispEdges"/>
<rect x="487.4" y="262.8" width="6.1" height="7.2" fill="#b4f0fa" shape-rendering="crispEdges"/>
<rect x="493.5" y="262.8" width="6.1" height="7.2" fill="#b4f0fa" shape-rendering="crispEdges"/>
<rect x="499.5" y="262.8" width="6.1" height="7.2" fill="#b4f0fa" shape-rendering="crispEdges"/>
<rect x="396.5" y="270.0" width="6.1" height="7.2" fill="#ffa000" shape-rendering="crispEdges"/>
<rect x="402.6" y="270.0" width="6.1" height="7.2" fill="#ff3200" shape-rendering="crispEdges"/>
<rect x="408.6" y="270.0" width="6.1" height="7.2" fill="#ffa000" shape-rendering="crispEdges"/>
<rect x="414.7" y="270.0" width="6.1" height="7.2" fill="#ffa000" shape-rendering="crispEdges"/>
<rect x="420.8" y="270.0" width="6.1" height="7.2" fill="#ffa000" shape-rendering="crispEdges"/>
<rect x="426.8" y="270.0" width="6.1" height="7.2" fill="#ffe678" shape-rendering="crispEdges"/>
<rect x="432.9" y="270.0" width="6.1" height="7.2" fill="#ffe678" shape-rendering="crispEdges"/>
<rect x="438.9" y="270.0" width="6.1" height="7.2" fill="#ffe678" shape-rendering="crispEdges"/>
<rect x="445.0" y="270.0" width="6.1" height="7.2" fill="#ffa000" shape-rendering="crispEdges"/>
<rect x="469.2" y="270.0" width="6.1" height="7.2" fill="#ffe678" shape-rendering="crispEdges"/>
<rect x="475.3" y="270.0" width="6.1" height="7.2" fill="#b4f0fa" shape-rendering="crispEdges"/>
<rect x="481.3" y="270.0" width="6.1" height="7.2" fill="#b4f0fa" shape-rendering="crispEdges"/>
<rect x="487.4" y="270.0" width="6.1" height="7.2" fill="#b4f0fa" shape-rendering="crispEdges"/>
<rect x="493.5" y="270.0" width="6.1" height="7.2" fill="#b4f0fa" shape-rendering="crispEdges"/>
<rect x="499.5" y="270.0" width="6.1" height="7.2" fill="#b4f0fa" shape-rendering="crispEdges"/>
<rect x="408.6" y="277.3" width="6.1" height="7.2" fill="#ffa000" shape-rendering="crispEdges"/>
<rect x="426.8" y="277.3" width="6.1" height="7.2" fill="#ffe678" shape-rendering="crispEdges"/>
<rect x="432.9" y="277.3" width="6.1" height="7.2" fill="#ffe678" shape-rendering="crispEdges"/>
<rect x="475.3" y="277.3" width="6.1" height="7.2" fill="#ffe678" shape-rendering="crispEdges"/>
<rect x="481.3" y="277.3" width="6.1" height="7.2" fill="#ffe678" shape-rendering="crispEdges"/>
<rect x="487.4" y="277.3" width="6.1" height="7.2" fill="#b4f0fa" shape-rendering="crispEdges"/>
<rect x="493.5" y="277.3" width="6.1" height="7.2" fill="#b4f0fa" shape-rendering="crispEdges"/>
<rect x="499.5" y="277.3" width="6.1" height="7.2" fill="#ffe678" shape-rendering="crispEdges"/>
<rect x="481.3" y="284.5" width="6.1" height="7.2" fill="#ffe678" shape-rendering="crispEdges"/>
<rect x="487.4" y="284.5" width="6.1" height="7.2" fill="#ffe678" shape-rendering="crispEdges"/>
<use href="#map"/>
</g></g>
<rect x="284" y="1470" width="218" height="175" fill="none" stroke="#000" stroke-width="2" shape-rendering="crispEdges"/>
<path d="M279.0,1485.5H283.5M279.0,1514.5H283.5M279.0,1543.4H283.5M279.0,1572.3H283.5M279.0,1601.3H283.5M279.0,1630.2H283.5M284.4,1646V1650.5M332.9,1646V1650.5M381.4,1646V1650.5M429.8,1646V1650.5M478.3,1646V1650.5" stroke="#000" stroke-width="1.2" fill="none"/>
<g transform="translate(717,1277)"><g clip-path="url(#cp)">
<rect x="292.8" y="254.1" width="7.1" height="9.1" fill="#ffe678" shape-rendering="crispEdges"/>
<rect x="311.2" y="254.1" width="6.6" height="9.1" fill="#ffe678" shape-rendering="crispEdges"/>
<rect x="359.8" y="232.6" width="7.4" height="7.8" fill="#ff3200" shape-rendering="crispEdges"/>
<rect x="378.0" y="232.6" width="7.1" height="8.5" fill="#b4f0fa" shape-rendering="crispEdges"/>
<rect x="395.9" y="232.6" width="7.1" height="8.5" fill="#78b9fa" shape-rendering="crispEdges"/>
<rect x="408.9" y="232.6" width="6.9" height="8.5" fill="#ffe678" shape-rendering="crispEdges"/>
<rect x="408.9" y="241.1" width="6.9" height="7.4" fill="#ffa000" shape-rendering="crispEdges"/>
<rect x="408.9" y="248.5" width="6.9" height="6.6" fill="#a50000" shape-rendering="crispEdges"/>
<rect x="426.9" y="232.6" width="7.4" height="8.5" fill="#ffe678" shape-rendering="crispEdges"/>
<rect x="475.0" y="269.1" width="13.0" height="8.5" fill="#ffa000" shape-rendering="crispEdges"/>
<rect x="462.9" y="276.0" width="6.9" height="9.3" fill="#a50000" shape-rendering="crispEdges"/>
<rect x="451.2" y="283.8" width="6.6" height="8.5" fill="#a50000" shape-rendering="crispEdges"/>
<rect x="499.8" y="261.7" width="2.4" height="8.8" fill="#78b9fa" shape-rendering="crispEdges"/>
<rect x="499.8" y="305.9" width="2.4" height="8.1" fill="#78b9fa" shape-rendering="crispEdges"/>
<rect x="487.2" y="313.0" width="7.4" height="8.4" fill="#1464d2" shape-rendering="crispEdges"/>
<rect x="481.3" y="320.4" width="6.6" height="8.0" fill="#1464d2" shape-rendering="crispEdges"/>
<rect x="468.8" y="327.3" width="12.5" height="9.3" fill="#1464d2" shape-rendering="crispEdges"/>
<rect x="468.8" y="336.6" width="12.5" height="6.9" fill="#78b9fa" shape-rendering="crispEdges"/>
<rect x="468.8" y="343.5" width="12.5" height="7.4" fill="#ffe678" shape-rendering="crispEdges"/>
<rect x="475.0" y="350.8" width="6.3" height="6.6" fill="#ffa000" shape-rendering="crispEdges"/>
<rect x="481.3" y="348.9" width="6.6" height="8.5" fill="#ff3200" shape-rendering="crispEdges"/>
<rect x="487.2" y="356.0" width="7.4" height="9.1" fill="#ff3200" shape-rendering="crispEdges"/>
<use href="#map"/>
</g></g>
<rect x="1001" y="1470" width="219" height="175" fill="none" stroke="#000" stroke-width="2" shape-rendering="crispEdges"/>
<path d="M996.0,1485.5H1000.5M996.0,1514.5H1000.5M996.0,1543.4H1000.5M996.0,1572.3H1000.5M996.0,1601.3H1000.5M996.0,1630.2H1000.5M1001.4,1646V1650.5M1049.9,1646V1650.5M1098.4,1646V1650.5M1146.8,1646V1650.5M1195.3,1646V1650.5" stroke="#000" stroke-width="1.2" fill="none"/>
<g transform="translate(0,1522)"><g clip-path="url(#cp)">
<rect x="281.4" y="262.8" width="6.1" height="7.2" fill="#ffe678" shape-rendering="crispEdges"/>
<rect x="281.4" y="270.0" width="6.1" height="7.2" fill="#ffe678" shape-rendering="crispEdges"/>
<rect x="287.4" y="270.0" width="6.1" height="7.2" fill="#ffe678" shape-rendering="crispEdges"/>
<rect x="281.4" y="277.3" width="6.1" height="7.2" fill="#ffe678" shape-rendering="crispEdges"/>
<rect x="287.4" y="277.3" width="6.1" height="7.2" fill="#ffe678" shape-rendering="crispEdges"/>
<rect x="281.4" y="284.5" width="6.1" height="7.2" fill="#ffa000" shape-rendering="crispEdges"/>
<rect x="287.4" y="284.5" width="6.1" height="7.2" fill="#ffa000" shape-rendering="crispEdges"/>
<rect x="281.4" y="291.7" width="6.1" height="7.2" fill="#ff3200" shape-rendering="crispEdges"/>
<rect x="287.4" y="291.7" width="6.1" height="7.2" fill="#ff3200" shape-rendering="crispEdges"/>
<rect x="281.4" y="299.0" width="6.1" height="7.2" fill="#ffa000" shape-rendering="crispEdges"/>
<rect x="402.6" y="241.1" width="6.1" height="7.2" fill="#1464d2" shape-rendering="crispEdges"/>
<rect x="469.2" y="241.1" width="6.1" height="7.2" fill="#ffe678" shape-rendering="crispEdges"/>
<rect x="475.3" y="241.1" width="6.1" height="7.2" fill="#ffe678" shape-rendering="crispEdges"/>
<rect x="402.6" y="248.3" width="6.1" height="7.2" fill="#1464d2" shape-rendering="crispEdges"/>
<rect x="408.6" y="248.3" width="6.1" height="7.2" fill="#50a5f5" shape-rendering="crispEdges"/>
<rect x="414.7" y="248.3" width="6.1" height="7.2" fill="#50a5f5" shape-rendering="crispEdges"/>
<rect x="420.8" y="248.3" width="6.1" height="7.2" fill="#1464d2" shape-rendering="crispEdges"/>
<rect x="426.8" y="248.3" width="6.1" height="7.2" fill="#1464d2" shape-rendering="crispEdges"/>
<rect x="432.9" y="248.3" width="6.1" height="7.2" fill="#50a5f5" shape-rendering="crispEdges"/>
<rect x="438.9" y="248.3" width="6.1" height="7.2" fill="#50a5f5" shape-rendering="crispEdges"/>
<rect x="445.0" y="248.3" width="6.1" height="7.2" fill="#50a5f5" shape-rendering="crispEdges"/>
<rect x="469.2" y="248.3" width="6.1" height="7.2" fill="#b4f0fa" shape-rendering="crispEdges"/>
<rect x="475.3" y="248.3" width="6.1" height="7.2" fill="#b4f0fa" shape-rendering="crispEdges"/>
<rect x="481.3" y="248.3" width="6.1" height="7.2" fill="#b4f0fa" shape-rendering="crispEdges"/>
<rect x="396.5" y="255.5" width="6.1" height="7.2" fill="#50a5f5" shape-rendering="crispEdges"/>
<rect x="402.6" y="255.5" width="6.1" height="7.2" fill="#50a5f5" shape-rendering="crispEdges"/>
<rect x="408.6" y="255.5" width="6.1" height="7.2" fill="#ffe678" shape-rendering="crispEdges"/>
<rect x="420.8" y="255.5" width="6.1" height="7.2" fill="#50a5f5" shape-rendering="crispEdges"/>
<rect x="432.9" y="255.5" width="6.1" height="7.2" fill="#50a5f5" shape-rendering="crispEdges"/>
<rect x="438.9" y="255.5" width="6.1" height="7.2" fill="#50a5f5" shape-rendering="crispEdges"/>
<rect x="445.0" y="255.5" width="6.1" height="7.2" fill="#50a5f5" shape-rendering="crispEdges"/>
<rect x="451.0" y="255.5" width="6.1" height="7.2" fill="#1464d2" shape-rendering="crispEdges"/>
<rect x="457.1" y="255.5" width="6.1" height="7.2" fill="#1464d2" shape-rendering="crispEdges"/>
<rect x="463.2" y="255.5" width="6.1" height="7.2" fill="#1464d2" shape-rendering="crispEdges"/>
<rect x="469.2" y="255.5" width="6.1" height="7.2" fill="#1464d2" shape-rendering="crispEdges"/>
<rect x="475.3" y="255.5" width="6.1" height="7.2" fill="#50a5f5" shape-rendering="crispEdges"/>
<rect x="481.3" y="255.5" width="6.1" height="7.2" fill="#50a5f5" shape-rendering="crispEdges"/>
<rect x="487.4" y="255.5" width="6.1" height="7.2" fill="#50a5f5" shape-rendering="crispEdges"/>
<rect x="493.5" y="255.5" width="6.1" height="7.2" fill="#1464d2" shape-rendering="crispEdges"/>
<rect x="499.5" y="255.5" width="6.1" height="7.2" fill="#1464d2" shape-rendering="crispEdges"/>
<rect x="396.5" y="262.8" width="6.1" height="7.2" fill="#50a5f5" shape-rendering="crispEdges"/>
<rect x="402.6" y="262.8" width="6.1" height="7.2" fill="#b4f0fa" shape-rendering="crispEdges"/>
<rect x="408.6" y="262.8" width="6.1" height="7.2" fill="#b4f0fa" shape-rendering="crispEdges"/>
<rect x="414.7" y="262.8" width="6.1" height="7.2" fill="#ffe678" shape-rendering="crispEdges"/>
<rect x="420.8" y="262.8" width="6.1" height="7.2" fill="#ffe678" shape-rendering="crispEdges"/>
<rect x="426.8" y="262.8" width="6.1" height="7.2" fill="#ffe678" shape-rendering="crispEdges"/>
<rect x="432.9" y="262.8" width="6.1" height="7.2" fill="#b4f0fa" shape-rendering="crispEdges"/>
<rect x="438.9" y="262.8" width="6.1" height="7.2" fill="#b4f0fa" shape-rendering="crispEdges"/>
<rect x="445.0" y="262.8" width="6.1" height="7.2" fill="#50a5f5" shape-rendering="crispEdges"/>
<rect x="463.2" y="262.8" width="6.1" height="7.2" fill="#1464d2" shape-rendering="crispEdges"/>
<rect x="469.2" y="262.8" width="6.1" height="7.2" fill="#1464d2" shape-rendering="crispEdges"/>
<rect x="475.3" y="262.8" width="6.1" height="7.2" fill="#50a5f5" shape-rendering="crispEdges"/>
<rect x="481.3" y="262.8" width="6.1" height="7.2" fill="#50a5f5" shape-rendering="crispEdges"/>
<rect x="487.4" y="262.8" width="6.1" height="7.2" fill="#50a5f5" shape-rendering="crispEdges"/>
<rect x="493.5" y="262.8" width="6.1" height="7.2" fill="#50a5f5" shape-rendering="crispEdges"/>
<rect x="499.5" y="262.8" width="6.1" height="7.2" fill="#50a5f5" shape-rendering="crispEdges"/>
<rect x="396.5" y="270.0" width="6.1" height="7.2" fill="#b4f0fa" shape-rendering="crispEdges"/>
<rect x="402.6" y="270.0" width="6.1" height="7.2" fill="#b4f0fa" shape-rendering="crispEdges"/>
<rect x="408.6" y="270.0" width="6.1" height="7.2" fill="#ffe678" shape-rendering="crispEdges"/>
<rect x="414.7" y="270.0" width="6.1" height="7.2" fill="#ffe678" shape-rendering="crispEdges"/>
<rect x="420.8" y="270.0" width="6.1" height="7.2" fill="#ffe678" shape-rendering="crispEdges"/>
<rect x="426.8" y="270.0" width="6.1" height="7.2" fill="#ffe678" shape-rendering="crispEdges"/>
<rect x="432.9" y="270.0" width="6.1" height="7.2" fill="#b4f0fa" shape-rendering="crispEdges"/>
<rect x="438.9" y="270.0" width="6.1" height="7.2" fill="#50a5f5" shape-rendering="crispEdges"/>
<rect x="445.0" y="270.0" width="6.1" height="7.2" fill="#50a5f5" shape-rendering="crispEdges"/>
<rect x="469.2" y="270.0" width="6.1" height="7.2" fill="#1464d2" shape-rendering="crispEdges"/>
<rect x="475.3" y="270.0" width="6.1" height="7.2" fill="#50a5f5" shape-rendering="crispEdges"/>
<rect x="481.3" y="270.0" width="6.1" height="7.2" fill="#50a5f5" shape-rendering="crispEdges"/>
<rect x="487.4" y="270.0" width="6.1" height="7.2" fill="#50a5f5" shape-rendering="crispEdges"/>
<rect x="493.5" y="270.0" width="6.1" height="7.2" fill="#50a5f5" shape-rendering="crispEdges"/>
<rect x="499.5" y="270.0" width="6.1" height="7.2" fill="#50a5f5" shape-rendering="crispEdges"/>
<rect x="408.6" y="277.3" width="6.1" height="7.2" fill="#ffe678" shape-rendering="crispEdges"/>
<rect x="426.8" y="277.3" width="6.1" height="7.2" fill="#b4f0fa" shape-rendering="crispEdges"/>
<rect x="432.9" y="277.3" width="6.1" height="7.2" fill="#50a5f5" shape-rendering="crispEdges"/>
<rect x="475.3" y="277.3" width="6.1" height="7.2" fill="#1464d2" shape-rendering="crispEdges"/>
<rect x="481.3" y="277.3" width="6.1" height="7.2" fill="#50a5f5" shape-rendering="crispEdges"/>
<rect x="487.4" y="277.3" width="6.1" height="7.2" fill="#50a5f5" shape-rendering="crispEdges"/>
<rect x="493.5" y="277.3" width="6.1" height="7.2" fill="#50a5f5" shape-rendering="crispEdges"/>
<rect x="499.5" y="277.3" width="6.1" height="7.2" fill="#50a5f5" shape-rendering="crispEdges"/>
<rect x="481.3" y="284.5" width="6.1" height="7.2" fill="#1464d2" shape-rendering="crispEdges"/>
<rect x="487.4" y="284.5" width="6.1" height="7.2" fill="#1464d2" shape-rendering="crispEdges"/>
<use href="#map"/>
</g></g>
<rect x="284" y="1715" width="218" height="175" fill="none" stroke="#000" stroke-width="2" shape-rendering="crispEdges"/>
<path d="M279.0,1730.5H283.5M279.0,1759.5H283.5M279.0,1788.4H283.5M279.0,1817.3H283.5M279.0,1846.3H283.5M279.0,1875.2H283.5M284.4,1891V1895.5M332.9,1891V1895.5M381.4,1891V1895.5M429.8,1891V1895.5M478.3,1891V1895.5" stroke="#000" stroke-width="1.2" fill="none"/>
<g transform="translate(717,1522)"><g clip-path="url(#cp)">
<rect x="292.8" y="254.1" width="7.1" height="9.1" fill="#1464d2" shape-rendering="crispEdges"/>
<rect x="311.2" y="254.1" width="6.6" height="9.1" fill="#1464d2" shape-rendering="crispEdges"/>
<rect x="359.8" y="232.6" width="7.4" height="7.8" fill="#1464d2" shape-rendering="crispEdges"/>
<rect x="378.0" y="232.6" width="7.1" height="8.5" fill="#1464d2" shape-rendering="crispEdges"/>
<rect x="395.9" y="232.6" width="7.1" height="8.5" fill="#1464d2" shape-rendering="crispEdges"/>
<rect x="408.9" y="232.6" width="6.9" height="22.5" fill="#1464d2" shape-rendering="crispEdges"/>
<rect x="426.9" y="232.6" width="7.4" height="8.5" fill="#1464d2" shape-rendering="crispEdges"/>
<rect x="475.0" y="269.1" width="13.0" height="8.5" fill="#1464d2" shape-rendering="crispEdges"/>
<rect x="462.9" y="276.0" width="6.9" height="9.3" fill="#1464d2" shape-rendering="crispEdges"/>
<rect x="451.2" y="283.8" width="6.6" height="8.5" fill="#1464d2" shape-rendering="crispEdges"/>
<rect x="499.8" y="261.7" width="2.4" height="8.8" fill="#1464d2" shape-rendering="crispEdges"/>
<rect x="499.8" y="305.9" width="2.4" height="8.1" fill="#ff3200" shape-rendering="crispEdges"/>
<rect x="487.2" y="312.1" width="7.4" height="8.8" fill="#ff3200" shape-rendering="crispEdges"/>
<rect x="481.3" y="320.4" width="6.6" height="8.0" fill="#ff3200" shape-rendering="crispEdges"/>
<rect x="468.8" y="327.3" width="12.5" height="21.6" fill="#ff3200" shape-rendering="crispEdges"/>
<rect x="475.0" y="348.9" width="13.0" height="8.5" fill="#ff3200" shape-rendering="crispEdges"/>
<rect x="487.2" y="356.0" width="7.4" height="8.8" fill="#ff3200" shape-rendering="crispEdges"/>
<use href="#map"/>
</g></g>
<rect x="1001" y="1715" width="219" height="175" fill="none" stroke="#000" stroke-width="2" shape-rendering="crispEdges"/>
<path d="M996.0,1730.5H1000.5M996.0,1759.5H1000.5M996.0,1788.4H1000.5M996.0,1817.3H1000.5M996.0,1846.3H1000.5M996.0,1875.2H1000.5M1001.4,1891V1895.5M1049.9,1891V1895.5M1098.4,1891V1895.5M1146.8,1891V1895.5M1195.3,1891V1895.5" stroke="#000" stroke-width="1.2" fill="none"/>
<polygon points="722.6,305 731.2,265.1 739.7,305" fill="#a50000"/>
<line x1="722.6" y1="305" x2="731.2" y2="265.1" stroke="#000" stroke-width="1"/>
<rect x="722.6" y="305" width="17.1" height="39.3" fill="#e11400"/>
<rect x="722.6" y="344.3" width="17.1" height="38.9" fill="#ff6000"/>
<rect x="722.6" y="383.2" width="17.1" height="40.0" fill="#ffa000"/>
<rect x="722.6" y="423.2" width="17.1" height="39.0" fill="#ffc03c"/>
<rect x="722.6" y="462.2" width="17.1" height="39.7" fill="#fffaaa"/>
<line x1="722.6" y1="305" x2="722.6" y2="501.9" stroke="#000" stroke-width="1.2"/>
<line x1="722.6" y1="344.3" x2="739.7" y2="344.3" stroke="#000" stroke-width="1.2"/>
<line x1="722.6" y1="383.2" x2="739.7" y2="383.2" stroke="#000" stroke-width="1.2"/>
<line x1="722.6" y1="423.2" x2="739.7" y2="423.2" stroke="#000" stroke-width="1.2"/>
<line x1="722.6" y1="462.2" x2="739.7" y2="462.2" stroke="#000" stroke-width="1.2"/>
<line x1="722.6" y1="501.9" x2="739.7" y2="501.9" stroke="#000" stroke-width="1.2"/>
<line x1="722.6" y1="501.9" x2="730.4" y2="540" stroke="#000" stroke-width="1"/>
<rect x="722.3" y="687" width="17.7" height="39.1" fill="#fffaaa"/>
<rect x="722.3" y="726.1" width="17.7" height="39.2" fill="#ffa000"/>
<rect x="722.3" y="765.3" width="17.7" height="39.9" fill="#ff6000"/>
<rect x="722.3" y="805.2" width="17.7" height="39.3" fill="#e11400"/>
<polygon points="722.3,844.5 731.1,880.3 740.0,844.5" fill="#a50000"/>
<line x1="722.3" y1="844.5" x2="731.1" y2="880.3" stroke="#000" stroke-width="1"/>
<line x1="722.3" y1="687" x2="722.3" y2="844.5" stroke="#000" stroke-width="1.2"/>
<line x1="722.3" y1="726.1" x2="740.0" y2="726.1" stroke="#000" stroke-width="1.2"/>
<line x1="722.3" y1="765.3" x2="740.0" y2="765.3" stroke="#000" stroke-width="1.2"/>
<line x1="722.3" y1="805.2" x2="740.0" y2="805.2" stroke="#000" stroke-width="1.2"/>
<line x1="722.3" y1="844.5" x2="740.0" y2="844.5" stroke="#000" stroke-width="1.2"/>
<line x1="722.3" y1="687" x2="730.5" y2="647.1" stroke="#000" stroke-width="1" stroke-dasharray="3,2"/>
<polygon points="722.3,929.4 731.1,890.3 739.9,929.4" fill="#a50000"/>
<line x1="722.3" y1="929.4" x2="731.1" y2="890.3" stroke="#000" stroke-width="1"/>
<rect x="722.3" y="929.4" width="17.6" height="39.9" fill="#e11400"/>
<rect x="722.3" y="969.3" width="17.6" height="38.9" fill="#ff6000"/>
<rect x="722.3" y="1008.2" width="17.6" height="39.0" fill="#ffa000"/>
<rect x="722.3" y="1047.2" width="17.6" height="39.9" fill="#ffc03c"/>
<rect x="722.3" y="1087.1" width="17.6" height="38.9" fill="#fffaaa"/>
<line x1="722.3" y1="929.4" x2="722.3" y2="1126" stroke="#000" stroke-width="1.2"/>
<line x1="722.3" y1="969.3" x2="739.9" y2="969.3" stroke="#000" stroke-width="1.2"/>
<line x1="722.3" y1="1008.2" x2="739.9" y2="1008.2" stroke="#000" stroke-width="1.2"/>
<line x1="722.3" y1="1047.2" x2="739.9" y2="1047.2" stroke="#000" stroke-width="1.2"/>
<line x1="722.3" y1="1087.1" x2="739.9" y2="1087.1" stroke="#000" stroke-width="1.2"/>
<line x1="722.3" y1="1126" x2="739.9" y2="1126" stroke="#000" stroke-width="1.2"/>
<line x1="722.3" y1="1126" x2="730.6" y2="1161.4" stroke="#000" stroke-width="1"/>
<polygon points="734.7,1234.7 743.2,1194.9 751.7,1234.7" fill="#ff3200"/>
<line x1="734.7" y1="1234.7" x2="743.2" y2="1194.9" stroke="#000" stroke-width="1"/>
<rect x="734.7" y="1234.7" width="17.0" height="39.7" fill="#ffa000"/>
<rect x="734.7" y="1274.4" width="17.0" height="38.8" fill="#ffe678"/>
<rect x="734.7" y="1313.2" width="17.0" height="39.3" fill="#b4f0fa"/>
<rect x="734.7" y="1352.5" width="17.0" height="39.8" fill="#50a5f5"/>
<polygon points="734.7,1392.3 743.2,1431.4 751.7,1392.3" fill="#1464d2"/>
<line x1="734.7" y1="1392.3" x2="743.2" y2="1431.4" stroke="#000" stroke-width="1"/>
<line x1="734.7" y1="1234.7" x2="734.7" y2="1392.3" stroke="#000" stroke-width="1.2"/>
<line x1="734.7" y1="1274.4" x2="751.7" y2="1274.4" stroke="#000" stroke-width="1.2"/>
<line x1="734.7" y1="1313.2" x2="751.7" y2="1313.2" stroke="#000" stroke-width="1.2"/>
<line x1="734.7" y1="1352.5" x2="751.7" y2="1352.5" stroke="#000" stroke-width="1.2"/>
<line x1="734.7" y1="1392.3" x2="751.7" y2="1392.3" stroke="#000" stroke-width="1.2"/>
<polygon points="699.7,1443 708.3,1403.9 716.9,1443" fill="#a50000"/>
<line x1="699.7" y1="1443" x2="708.3" y2="1403.9" stroke="#000" stroke-width="1"/>
<rect x="699.7" y="1443" width="17.2" height="38.6" fill="#ff3200"/>
<rect x="699.7" y="1481.6" width="17.2" height="38.2" fill="#ffa000"/>
<rect x="699.7" y="1519.8" width="17.2" height="38.4" fill="#ffe678"/>
<rect x="699.7" y="1558.2" width="17.2" height="38.8" fill="#b4f0fa"/>
<rect x="699.7" y="1597" width="17.2" height="38.5" fill="#78b9fa"/>
<rect x="699.7" y="1635.5" width="17.2" height="38.9" fill="#3c96f5"/>
<polygon points="699.7,1674.4 708.3,1710.4 716.9,1674.4" fill="#1e5ad2"/>
<line x1="699.7" y1="1674.4" x2="708.3" y2="1710.4" stroke="#000" stroke-width="1"/>
<line x1="699.7" y1="1443" x2="699.7" y2="1674.4" stroke="#000" stroke-width="1.2"/>
<line x1="699.7" y1="1481.6" x2="716.9" y2="1481.6" stroke="#000" stroke-width="1.2"/>
<line x1="699.7" y1="1558.2" x2="716.9" y2="1558.2" stroke="#000" stroke-width="1.2"/>
<line x1="699.7" y1="1635.5" x2="716.9" y2="1635.5" stroke="#000" stroke-width="1.2"/>
<polygon points="734.4,1726.8 743.1,1687 751.9,1726.8" fill="#ff3200"/>
<line x1="734.4" y1="1726.8" x2="743.1" y2="1687" stroke="#000" stroke-width="1"/>
<rect x="734.4" y="1726.8" width="17.5" height="38.2" fill="#ffa000"/>
<rect x="734.4" y="1765" width="17.5" height="38.2" fill="#ffe678"/>
<rect x="734.4" y="1803.2" width="17.5" height="38.7" fill="#b4f0fa"/>
<rect x="734.4" y="1841.9" width="17.5" height="38.5" fill="#50a5f5"/>
<polygon points="734.4,1880.4 743.1,1918 751.9,1880.4" fill="#1464d2"/>
<line x1="734.4" y1="1880.4" x2="743.1" y2="1918" stroke="#000" stroke-width="1"/>
<line x1="734.4" y1="1726.8" x2="734.4" y2="1880.4" stroke="#000" stroke-width="1.2"/>
<line x1="734.4" y1="1803.2" x2="751.9" y2="1803.2" stroke="#000" stroke-width="1.2"/>
<line x1="734.4" y1="1880.4" x2="751.9" y2="1880.4" stroke="#000" stroke-width="1.2"/>
<path d="M471.7,23.7L471.7,22.7L472.7,20.8L473.6,19.9L475.5,18.9L479.3,18.9L481.2,19.9L482.2,20.8L483.1,22.7L483.1,24.6L482.2,26.6L480.3,29.4L470.8,39.0L484.0,39.0M497.5,18.9L494.7,19.9L492.8,22.7L491.8,27.5L491.8,30.4L492.8,35.2L494.7,38.0L497.5,39.0L499.4,39.0L502.2,38.0L504.1,35.2L505.1,30.4L505.1,27.5L504.1,22.7L502.2,19.9L499.4,18.9L497.5,18.9M513.8,23.7L513.8,22.7L514.7,20.8L515.7,19.9L517.6,18.9L521.4,18.9L523.3,19.9L524.2,20.8L525.2,22.7L525.2,24.6L524.2,26.6L522.3,29.4L512.9,39.0L526.1,39.0M539.6,18.9L536.7,19.9L534.8,22.7L533.9,27.5L533.9,30.4L534.8,35.2L536.7,38.0L539.6,39.0L541.4,39.0L544.3,38.0L546.2,35.2L547.1,30.4L547.1,27.5L546.2,22.7L544.3,19.9L541.4,18.9L539.6,18.9M556.3,37.1L555.3,38.0L556.3,39.0L557.2,38.0L556.3,37.1M568.1,22.7L570.0,21.8L572.8,18.9L572.8,39.0M592.1,18.9L589.3,19.9L587.4,22.7L586.4,27.5L586.4,30.4L587.4,35.2L589.3,38.0L592.1,39.0L594.0,39.0L596.8,38.0L598.7,35.2L599.7,30.4L599.7,27.5L598.7,22.7L596.8,19.9L594.0,18.9L592.1,18.9M608.8,37.1L607.9,38.0L608.8,39.0L609.8,38.0L608.8,37.1M618.9,23.7L618.9,22.7L619.9,20.8L620.8,19.9L622.7,18.9L626.5,18.9L628.4,19.9L629.3,20.8L630.3,22.7L630.3,24.6L629.3,26.6L627.4,29.4L618.0,39.0L631.2,39.0M644.7,18.9L641.8,19.9L640.0,22.7L639.0,27.5L639.0,30.4L640.0,35.2L641.8,38.0L644.7,39.0L646.6,39.0L649.4,38.0L651.3,35.2L652.3,30.4L652.3,27.5L651.3,22.7L649.4,19.9L646.6,18.9L644.7,18.9M661.4,37.1L660.5,38.0L661.4,39.0L662.3,38.0L661.4,37.1M673.2,22.7L675.1,21.8L678.0,18.9L678.0,39.0M692.5,23.7L692.5,22.7L693.5,20.8L694.4,19.9L696.3,18.9L700.1,18.9L702.0,19.9L702.9,20.8L703.9,22.7L703.9,24.6L702.9,26.6L701.0,29.4L691.6,39.0L704.8,39.0M725.8,18.9L712.6,39.0M712.6,18.9L725.8,18.9M712.6,39.0L725.8,39.0M734.9,30.4L751.9,30.4M761.9,23.7L761.9,22.7L762.8,20.8L763.8,19.9L765.7,18.9L769.5,18.9L771.4,19.9L772.3,20.8L773.3,22.7L773.3,24.6L772.3,26.6L770.4,29.4L761.0,39.0L774.2,39.0M787.7,18.9L784.8,19.9L782.9,22.7L782.0,27.5L782.0,30.4L782.9,35.2L784.8,38.0L787.7,39.0L789.6,39.0L792.4,38.0L794.3,35.2L795.2,30.4L795.2,27.5L794.3,22.7L792.4,19.9L789.6,18.9L787.7,18.9M804.0,23.7L804.0,22.7L804.9,20.8L805.8,19.9L807.7,18.9L811.5,18.9L813.4,19.9L814.4,20.8L815.3,22.7L815.3,24.6L814.4,26.6L812.5,29.4L803.0,39.0L816.3,39.0M829.7,18.9L826.9,19.9L825.0,22.7L824.0,27.5L824.0,30.4L825.0,35.2L826.9,38.0L829.7,39.0L831.6,39.0L834.4,38.0L836.3,35.2L837.3,30.4L837.3,27.5L836.3,22.7L834.4,19.9L831.6,18.9L829.7,18.9M846.4,37.1L845.5,38.0L846.4,39.0L847.4,38.0L846.4,37.1M858.3,22.7L860.1,21.8L863.0,18.9L863.0,39.0M882.3,18.9L879.4,19.9L877.5,22.7L876.6,27.5L876.6,30.4L877.5,35.2L879.4,38.0L882.3,39.0L884.2,39.0L887.0,38.0L888.9,35.2L889.8,30.4L889.8,27.5L888.9,22.7L887.0,19.9L884.2,18.9L882.3,18.9M899.0,37.1L898.0,38.0L899.0,39.0L899.9,38.0L899.0,37.1M909.1,23.7L909.1,22.7L910.0,20.8L911.0,19.9L912.9,18.9L916.7,18.9L918.5,19.9L919.5,20.8L920.4,22.7L920.4,24.6L919.5,26.6L917.6,29.4L908.1,39.0L921.4,39.0M942.4,18.9L932.9,39.0M929.2,18.9L942.4,18.9M951.6,37.1L950.6,38.0L951.6,39.0L952.5,38.0L951.6,37.1M966.4,18.9L963.5,19.9L961.6,22.7L960.7,27.5L960.7,30.4L961.6,35.2L963.5,38.0L966.4,39.0L968.3,39.0L971.1,38.0L973.0,35.2L973.9,30.4L973.9,27.5L973.0,22.7L971.1,19.9L968.3,18.9L966.4,18.9M994.1,21.8L993.1,19.9L990.3,18.9L988.4,18.9L985.6,19.9L983.7,22.7L982.7,27.5L982.7,32.3L983.7,36.1L985.6,38.0L988.4,39.0L989.3,39.0L992.2,38.0L994.1,36.1L995.0,33.3L995.0,32.3L994.1,29.4L992.2,27.5L989.3,26.6L988.4,26.6L985.6,27.5L983.7,29.4L982.7,32.3M1016.0,18.9L1002.8,39.0M1002.8,18.9L1016.0,18.9M1002.8,39.0L1016.0,39.0" fill="none" stroke="#000" stroke-width="2.0" stroke-linecap="round" stroke-linejoin="round"/>
<path d="M15.6,61.9L15.6,79.1M15.6,61.9L26.2,61.9M15.6,70.0L22.2,70.0M43.4,65.9L42.5,64.3L40.9,62.7L39.3,61.9L36.0,61.9L34.4,62.7L32.8,64.3L31.9,65.9L31.1,68.4L31.1,72.5L31.9,75.0L32.8,76.6L34.4,78.2L36.0,79.1L39.3,79.1L40.9,78.2L42.5,76.6L43.4,75.0M61.5,64.3L59.9,62.7L57.4,61.9L54.2,61.9L51.7,62.7L50.1,64.3L50.1,65.9L50.9,67.6L51.7,68.4L53.4,69.2L58.2,70.9L59.9,71.7L60.7,72.5L61.5,74.1L61.5,76.6L59.9,78.2L57.4,79.1L54.2,79.1L51.7,78.2L50.1,76.6M72.1,61.9L72.1,79.1M66.4,61.9L77.8,61.9M98.1,61.9L98.1,79.1M98.1,61.9L103.8,61.9L106.2,62.7L107.9,64.3L108.7,65.9L109.5,68.4L109.5,72.5L108.7,75.0L107.9,76.6L106.2,78.2L103.8,79.1L98.1,79.1M125.9,67.6L125.9,79.1M125.9,70.0L124.3,68.4L122.6,67.6L120.2,67.6L118.5,68.4L116.9,70.0L116.1,72.5L116.1,74.1L116.9,76.6L118.5,78.2L120.2,79.1L122.6,79.1L124.3,78.2L125.9,76.6M134.7,61.9L134.7,79.1L138.7,79.1M132.2,67.6L137.9,67.6M144.2,72.5L153.9,72.5L153.9,70.9L153.1,69.2L152.3,68.4L150.7,67.6L148.2,67.6L146.6,68.4L145.0,70.0L144.2,72.5L144.2,74.1L145.0,76.6L146.6,78.2L148.2,79.1L150.7,79.1L152.3,78.2L153.9,76.6M161.7,67.6L160.9,68.4L161.7,69.2L162.6,68.4L161.7,67.6M161.7,77.4L160.9,78.2L161.7,79.1L162.6,78.2L161.7,77.4M17.1,101.1L17.1,100.3L17.9,98.7L18.7,97.9L20.3,97.0L23.5,97.0L25.1,97.9L25.9,98.7L26.7,100.3L26.7,101.9L25.9,103.5L24.3,106.0L16.4,114.1L27.5,114.1M38.8,97.0L36.4,97.9L34.8,100.3L34.0,104.3L34.0,106.8L34.8,110.8L36.4,113.2L38.8,114.1L40.4,114.1L42.7,113.2L44.3,110.8L45.1,106.8L45.1,104.3L44.3,100.3L42.7,97.9L40.4,97.0L38.8,97.0M52.4,101.1L52.4,100.3L53.2,98.7L54.0,97.9L55.6,97.0L58.8,97.0L60.4,97.9L61.2,98.7L62.0,100.3L62.0,101.9L61.2,103.5L59.6,106.0L51.6,114.1L62.8,114.1M74.1,97.0L71.7,97.9L70.1,100.3L69.3,104.3L69.3,106.8L70.1,110.8L71.7,113.2L74.1,114.1L75.6,114.1L78.0,113.2L79.6,110.8L80.4,106.8L80.4,104.3L79.6,100.3L78.0,97.9L75.6,97.0L74.1,97.0M88.1,112.4L87.3,113.2L88.1,114.1L88.9,113.2L88.1,112.4M98.0,100.3L99.6,99.5L102.0,97.0L102.0,114.1M118.2,97.0L115.8,97.9L114.2,100.3L113.4,104.3L113.4,106.8L114.2,110.8L115.8,113.2L118.2,114.1L119.8,114.1L122.1,113.2L123.7,110.8L124.5,106.8L124.5,104.3L123.7,100.3L122.1,97.9L119.8,97.0L118.2,97.0M132.2,112.4L131.4,113.2L132.2,114.1L133.0,113.2L132.2,112.4M142.1,100.3L143.7,99.5L146.1,97.0L146.1,114.1M159.1,97.0L167.9,97.0L163.1,103.5L165.5,103.5L167.1,104.3L167.9,105.1L168.7,107.6L168.7,109.2L167.9,111.6L166.3,113.2L163.9,114.1L161.5,114.1L159.1,113.2L158.3,112.4L157.5,110.8M692.6,54.8L692.6,71.8M692.6,54.8L705.1,71.8M705.1,54.8L705.1,71.8M714.7,70.1L713.8,70.9L714.7,71.8L715.6,70.9L714.7,70.1M744.4,54.8L737.3,71.8M744.4,54.8L751.5,71.8M739.9,66.1L748.8,66.1M758.3,60.4L758.3,71.8M758.3,63.7L761.0,61.2L762.8,60.4L765.4,60.4L767.2,61.2L768.1,63.7L768.1,71.8M768.1,63.7L770.8,61.2L772.6,60.4L775.2,60.4L777.0,61.2L777.9,63.7L777.9,71.8M786.5,65.3L797.2,65.3L797.2,63.7L796.3,62.0L795.4,61.2L793.6,60.4L791.0,60.4L789.2,61.2L787.4,62.8L786.5,65.3L786.5,66.9L787.4,69.3L789.2,70.9L791.0,71.8L793.6,71.8L795.4,70.9L797.2,69.3M805.1,60.4L805.1,71.8M805.1,65.3L806.0,62.8L807.8,61.2L809.5,60.4L812.2,60.4M816.7,54.8L817.6,55.6L818.4,54.8L817.6,53.9L816.7,54.8M817.6,60.4L817.6,71.8M835.7,62.8L834.0,61.2L832.2,60.4L829.5,60.4L827.7,61.2L826.0,62.8L825.1,65.3L825.1,66.9L826.0,69.3L827.7,70.9L829.5,71.8L832.2,71.8L834.0,70.9L835.7,69.3M853.5,60.4L853.5,71.8M853.5,62.8L851.8,61.2L850.0,60.4L847.3,60.4L845.5,61.2L843.8,62.8L842.9,65.3L842.9,66.9L843.8,69.3L845.5,70.9L847.3,71.8L850.0,71.8L851.8,70.9L853.5,69.3" fill="none" stroke="#f52020" stroke-width="1.7" stroke-linecap="round" stroke-linejoin="round"/>
<path d="M245.8,66.0L245.0,64.4L243.4,62.8L241.8,62.0L238.6,62.0L237.0,62.8L235.4,64.4L234.6,66.0L233.8,68.4L233.8,72.5L234.6,74.9L235.4,76.5L237.0,78.1L238.6,79.0L241.8,79.0L243.4,78.1L245.0,76.5L245.8,74.9L245.8,72.5M241.8,72.5L245.8,72.5M253.2,62.0L253.2,79.0M253.2,62.0L263.7,62.0M253.2,70.0L259.7,70.0M253.2,79.0L263.7,79.0M270.2,62.0L270.2,79.0M270.2,62.0L280.6,62.0M270.2,70.0L276.6,70.0M296.6,64.4L295.0,62.8L292.6,62.0L289.4,62.0L287.0,62.8L285.3,64.4L285.3,66.0L286.1,67.6L287.0,68.4L288.6,69.2L293.4,70.9L295.0,71.7L295.8,72.5L296.6,74.1L296.6,76.5L295.0,78.1L292.6,79.0L289.4,79.0L287.0,78.1L285.3,76.5M316.8,62.0L320.8,79.0M324.8,62.0L320.8,79.0M324.8,62.0L328.8,79.0M332.8,62.0L328.8,79.0M338.7,72.5L348.3,72.5L348.3,70.9L347.5,69.2L346.7,68.4L345.1,67.6L342.7,67.6L341.1,68.4L339.5,70.0L338.7,72.5L338.7,74.1L339.5,76.5L341.1,78.1L342.7,79.0L345.1,79.0L346.7,78.1L348.3,76.5M354.7,72.5L364.3,72.5L364.3,70.9L363.5,69.2L362.7,68.4L361.1,67.6L358.7,67.6L357.1,68.4L355.5,70.0L354.7,72.5L354.7,74.1L355.5,76.5L357.1,78.1L358.7,79.0L361.1,79.0L362.7,78.1L364.3,76.5M371.6,62.0L371.6,79.0M379.6,67.6L371.6,75.7M374.8,72.5L380.4,79.0M387.0,71.7L401.5,71.7M409.9,66.0L409.9,65.2L410.7,63.6L411.5,62.8L413.1,62.0L416.3,62.0L417.9,62.8L418.7,63.6L419.5,65.2L419.5,66.8L418.7,68.4L417.1,70.9L409.1,79.0L420.3,79.0M442.0,62.0L442.0,79.0M442.0,62.0L452.4,62.0M442.0,70.0L448.4,70.0M461.2,67.6L459.6,68.4L458.0,70.0L457.2,72.5L457.2,74.1L458.0,76.5L459.6,78.1L461.2,79.0L463.6,79.0L465.2,78.1L466.8,76.5L467.6,74.1L467.6,72.5L466.8,70.0L465.2,68.4L463.6,67.6L461.2,67.6M474.7,67.6L474.7,79.0M474.7,72.5L475.5,70.0L477.1,68.4L478.7,67.6L481.1,67.6M485.6,72.5L495.2,72.5L495.2,70.9L494.4,69.2L493.6,68.4L492.0,67.6L489.6,67.6L488.0,68.4L486.4,70.0L485.6,72.5L485.6,74.1L486.4,76.5L488.0,78.1L489.6,79.0L492.0,79.0L493.6,78.1L495.2,76.5M511.2,70.0L509.6,68.4L508.0,67.6L505.6,67.6L504.0,68.4L502.4,70.0L501.6,72.5L501.6,74.1L502.4,76.5L504.0,78.1L505.6,79.0L508.0,79.0L509.6,78.1L511.2,76.5M527.3,67.6L527.3,79.0M527.3,70.0L525.7,68.4L524.1,67.6L521.7,67.6L520.1,68.4L518.5,70.0L517.7,72.5L517.7,74.1L518.5,76.5L520.1,78.1L521.7,79.0L524.1,79.0L525.7,78.1L527.3,76.5M543.3,70.0L542.5,68.4L540.1,67.6L537.7,67.6L535.3,68.4L534.5,70.0L535.3,71.7L536.9,72.5L540.9,73.3L542.5,74.1L543.3,75.7L543.3,76.5L542.5,78.1L540.1,79.0L537.7,79.0L535.3,78.1L534.5,76.5M551.0,62.0L551.0,79.0L555.0,79.0M548.6,67.6L554.2,67.6M990.1,62.0L996.4,79.0M1002.7,62.0L996.4,79.0M1007.5,72.5L1017.0,72.5L1017.0,70.9L1016.2,69.2L1015.4,68.4L1013.8,67.6L1011.4,67.6L1009.9,68.4L1008.3,70.0L1007.5,72.5L1007.5,74.1L1008.3,76.5L1009.9,78.1L1011.4,79.0L1013.8,79.0L1015.4,78.1L1017.0,76.5M1024.0,67.6L1024.0,79.0M1024.0,72.5L1024.8,70.0L1026.4,68.4L1028.0,67.6L1030.4,67.6M1034.3,62.0L1035.1,62.8L1035.9,62.0L1035.1,61.1L1034.3,62.0M1035.1,67.6L1035.1,79.0M1047.1,62.0L1045.5,62.0L1043.9,62.8L1043.1,65.2L1043.1,79.0M1040.7,67.6L1046.3,67.6M1051.9,62.0L1052.7,62.8L1053.5,62.0L1052.7,61.1L1051.9,62.0M1052.7,67.6L1052.7,79.0M1068.9,70.0L1067.3,68.4L1065.7,67.6L1063.4,67.6L1061.8,68.4L1060.2,70.0L1059.4,72.5L1059.4,74.1L1060.2,76.5L1061.8,78.1L1063.4,79.0L1065.7,79.0L1067.3,78.1L1068.9,76.5M1084.7,67.6L1084.7,79.0M1084.7,70.0L1083.2,68.4L1081.6,67.6L1079.2,67.6L1077.6,68.4L1076.0,70.0L1075.2,72.5L1075.2,74.1L1076.0,76.5L1077.6,78.1L1079.2,79.0L1081.6,79.0L1083.2,78.1L1084.7,76.5M1093.3,62.0L1093.3,79.0L1097.2,79.0M1090.9,67.6L1096.4,67.6M1102.1,62.0L1102.9,62.8L1103.7,62.0L1102.9,61.1L1102.1,62.0M1102.9,67.6L1102.9,79.0M1113.6,67.6L1112.0,68.4L1110.4,70.0L1109.6,72.5L1109.6,74.1L1110.4,76.5L1112.0,78.1L1113.6,79.0L1115.9,79.0L1117.5,78.1L1119.1,76.5L1119.9,74.1L1119.9,72.5L1119.1,70.0L1117.5,68.4L1115.9,67.6L1113.6,67.6M1127.1,67.6L1127.1,79.0M1127.1,70.9L1129.5,68.4L1131.1,67.6L1133.4,67.6L1135.0,68.4L1135.8,70.9L1135.8,79.0M1144.2,67.6L1143.4,68.4L1144.2,69.2L1145.0,68.4L1144.2,67.6M1144.2,77.3L1143.4,78.1L1144.2,79.0L1145.0,78.1L1144.2,77.3M1177.9,66.0L1177.1,64.4L1175.5,62.8L1173.9,62.0L1170.8,62.0L1169.2,62.8L1167.6,64.4L1166.8,66.0L1166.0,68.4L1166.0,72.5L1166.8,74.9L1167.6,76.5L1169.2,78.1L1170.8,79.0L1173.9,79.0L1175.5,78.1L1177.1,76.5L1177.9,74.9M1185.3,62.0L1185.3,79.0M1185.3,62.0L1195.6,62.0M1185.3,70.0L1191.6,70.0M1211.4,64.4L1209.8,62.8L1207.4,62.0L1204.2,62.0L1201.9,62.8L1200.3,64.4L1200.3,66.0L1201.1,67.6L1201.9,68.4L1203.5,69.2L1208.2,70.9L1209.8,71.7L1210.6,72.5L1211.4,74.1L1211.4,76.5L1209.8,78.1L1207.4,79.0L1204.2,79.0L1201.9,78.1L1200.3,76.5M1218.8,62.0L1218.8,79.0M1218.8,62.0L1225.9,62.0L1228.3,62.8L1229.1,63.6L1229.8,65.2L1229.8,66.8L1229.1,68.4L1228.3,69.2L1225.9,70.0L1218.8,70.0M1224.3,70.0L1229.8,79.0M274.6,140.5L273.1,139.1L270.8,138.3L267.6,138.3L265.3,139.1L263.8,140.5L263.8,142.0L264.5,143.4L265.3,144.2L266.9,144.9L271.5,146.4L273.1,147.1L273.9,147.8L274.6,149.3L274.6,151.5L273.1,152.9L270.8,153.7L267.6,153.7L265.3,152.9L263.8,151.5M282.2,138.3L282.2,153.7L286.1,153.7M279.9,143.4L285.4,143.4M295.3,143.4L293.7,144.2L292.1,145.6L291.4,147.8L291.4,149.3L292.1,151.5L293.7,152.9L295.3,153.7L297.6,153.7L299.1,152.9L300.7,151.5L301.5,149.3L301.5,147.8L300.7,145.6L299.1,144.2L297.6,143.4L295.3,143.4M308.4,143.4L308.4,153.7M308.4,147.8L309.2,145.6L310.8,144.2L312.3,143.4L314.7,143.4M320.3,143.4L320.3,153.7M320.3,146.4L322.6,144.2L324.2,143.4L326.5,143.4L328.1,144.2L328.8,146.4L328.8,153.7M328.8,146.4L331.2,144.2L332.7,143.4L335.1,143.4L336.6,144.2L337.4,146.4L337.4,153.7M362.5,138.3L362.5,153.7M357.1,138.3L368.0,138.3M373.3,143.4L373.3,153.7M373.3,147.8L374.0,145.6L375.6,144.2L377.2,143.4L379.5,143.4M393.1,143.4L393.1,153.7M393.1,145.6L391.6,144.2L390.0,143.4L387.7,143.4L386.1,144.2L384.6,145.6L383.8,147.8L383.8,149.3L384.6,151.5L386.1,152.9L387.7,153.7L390.0,153.7L391.6,152.9L393.1,151.5M409.6,145.6L408.0,144.2L406.5,143.4L404.1,143.4L402.6,144.2L401.0,145.6L400.2,147.8L400.2,149.3L401.0,151.5L402.6,152.9L404.1,153.7L406.5,153.7L408.0,152.9L409.6,151.5M416.6,138.3L416.6,153.7M424.4,143.4L416.6,150.7M419.7,147.8L425.2,153.7M450.4,135.4L448.8,136.9L447.3,139.1L445.7,142.0L445.0,145.6L445.0,148.6L445.7,152.2L447.3,155.1L448.8,157.3L450.4,158.8M456.8,138.3L456.8,153.7M462.9,138.3L463.7,139.1L464.4,138.3L463.7,137.6L462.9,138.3M463.7,143.4L463.7,153.7M471.1,143.4L471.1,153.7M471.1,146.4L473.4,144.2L475.0,143.4L477.3,143.4L478.8,144.2L479.6,146.4L479.6,153.7M486.7,147.8L496.0,147.8L496.0,146.4L495.2,144.9L494.4,144.2L492.9,143.4L490.6,143.4L489.0,144.2L487.4,145.6L486.7,147.8L486.7,149.3L487.4,151.5L489.0,152.9L490.6,153.7L492.9,153.7L494.4,152.9L496.0,151.5M502.0,135.4L503.6,136.9L505.1,139.1L506.7,142.0L507.4,145.6L507.4,148.6L506.7,152.2L505.1,155.1L503.6,157.3L502.0,158.8M200.6,166.6L199.1,165.2L196.8,164.4L193.7,164.4L191.4,165.2L189.8,166.6L189.8,168.1L190.6,169.5L191.4,170.2L192.9,171.0L197.5,172.4L199.1,173.1L199.8,173.9L200.6,175.3L200.6,177.5L199.1,178.9L196.8,179.7L193.7,179.7L191.4,178.9L189.8,177.5M208.1,164.4L208.1,179.7L212.0,179.7M205.8,169.5L211.2,169.5M221.0,169.5L219.4,170.2L217.9,171.7L217.1,173.9L217.1,175.3L217.9,177.5L219.4,178.9L221.0,179.7L223.3,179.7L224.8,178.9L226.4,177.5L227.1,175.3L227.1,173.9L226.4,171.7L224.8,170.2L223.3,169.5L221.0,169.5M234.0,169.5L234.0,179.7M234.0,173.9L234.8,171.7L236.3,170.2L237.8,169.5L240.1,169.5M245.7,169.5L245.7,179.7M245.7,172.4L248.0,170.2L249.5,169.5L251.8,169.5L253.4,170.2L254.1,172.4L254.1,179.7M254.1,172.4L256.5,170.2L258.0,169.5L260.3,169.5L261.8,170.2L262.6,172.4L262.6,179.7M287.4,164.4L287.4,179.7M282.1,164.4L292.8,164.4M298.0,169.5L298.0,179.7M298.0,173.9L298.8,171.7L300.3,170.2L301.9,169.5L304.2,169.5M317.7,169.5L317.7,179.7M317.7,171.7L316.1,170.2L314.6,169.5L312.3,169.5L310.8,170.2L309.2,171.7L308.5,173.9L308.5,175.3L309.2,177.5L310.8,178.9L312.3,179.7L314.6,179.7L316.1,178.9L317.7,177.5M333.9,171.7L332.4,170.2L330.8,169.5L328.5,169.5L327.0,170.2L325.4,171.7L324.7,173.9L324.7,175.3L325.4,177.5L327.0,178.9L328.5,179.7L330.8,179.7L332.4,178.9L333.9,177.5M340.9,164.4L340.9,179.7M348.5,169.5L340.9,176.8M343.9,173.9L349.3,179.7M369.2,164.4L369.2,179.7M369.2,164.4L374.5,164.4L376.8,165.2L378.4,166.6L379.2,168.1L379.9,170.2L379.9,173.9L379.2,176.0L378.4,177.5L376.8,178.9L374.5,179.7L369.2,179.7M386.2,173.9L395.4,173.9L395.4,172.4L394.6,171.0L393.8,170.2L392.3,169.5L390.0,169.5L388.5,170.2L386.9,171.7L386.2,173.9L386.2,175.3L386.9,177.5L388.5,178.9L390.0,179.7L392.3,179.7L393.8,178.9L395.4,177.5M402.3,169.5L402.3,179.7M402.3,172.4L404.6,170.2L406.2,169.5L408.5,169.5L410.0,170.2L410.8,172.4L410.8,179.7M426.2,171.7L425.4,170.2L423.1,169.5L420.8,169.5L418.5,170.2L417.7,171.7L418.5,173.1L420.0,173.9L423.9,174.6L425.4,175.3L426.2,176.8L426.2,177.5L425.4,178.9L423.1,179.7L420.8,179.7L418.5,178.9L417.7,177.5M431.8,164.4L432.6,165.2L433.4,164.4L432.6,163.7L431.8,164.4M432.6,169.5L432.6,179.7M440.4,164.4L440.4,179.7L444.2,179.7M438.1,169.5L443.4,169.5M448.4,169.5L453.1,179.7M457.7,169.5L453.1,179.7L451.5,182.5L450.0,184.0L448.4,184.7L447.7,184.7M482.7,161.6L481.1,163.0L479.6,165.2L478.1,168.1L477.3,171.7L477.3,174.6L478.1,178.2L479.6,181.1L481.1,183.3L482.7,184.7M497.0,171.7L496.3,170.2L494.0,169.5L491.7,169.5L489.3,170.2L488.6,171.7L489.3,173.1L490.9,173.9L494.7,174.6L496.3,175.3L497.0,176.8L497.0,177.5L496.3,178.9L494.0,179.7L491.7,179.7L489.3,178.9L488.6,177.5M503.9,164.4L503.9,179.7M503.9,172.4L506.3,170.2L507.8,169.5L510.1,169.5L511.6,170.2L512.4,172.4L512.4,179.7M528.6,169.5L528.6,179.7M528.6,171.7L527.0,170.2L525.5,169.5L523.2,169.5L521.7,170.2L520.1,171.7L519.4,173.9L519.4,175.3L520.1,177.5L521.7,178.9L523.2,179.7L525.5,179.7L527.0,178.9L528.6,177.5M544.8,164.4L544.8,179.7M544.8,171.7L543.3,170.2L541.7,169.5L539.4,169.5L537.9,170.2L536.4,171.7L535.6,173.9L535.6,175.3L536.4,177.5L537.9,178.9L539.4,179.7L541.7,179.7L543.3,178.9L544.8,177.5M551.4,164.4L552.1,165.2L552.9,164.4L552.1,163.7L551.4,164.4M552.1,169.5L552.1,179.7M559.4,169.5L559.4,179.7M559.4,172.4L561.8,170.2L563.3,169.5L565.6,169.5L567.1,170.2L567.9,172.4L567.9,179.7M584.1,169.5L584.1,181.1L583.3,183.3L582.5,184.0L581.0,184.7L578.7,184.7L577.2,184.0M584.1,171.7L582.5,170.2L581.0,169.5L578.7,169.5L577.2,170.2L575.6,171.7L574.9,173.9L574.9,175.3L575.6,177.5L577.2,178.9L578.7,179.7L581.0,179.7L582.5,178.9L584.1,177.5M590.9,161.6L592.4,163.0L593.9,165.2L595.5,168.1L596.2,171.7L596.2,174.6L595.5,178.2L593.9,181.1L592.4,183.3L590.9,184.7M270.5,411.6L268.9,410.2L266.6,409.4L263.6,409.4L261.3,410.2L259.8,411.6L259.8,413.1L260.5,414.6L261.3,415.3L262.8,416.1L267.4,417.5L268.9,418.2L269.7,419.0L270.5,420.4L270.5,422.7L268.9,424.1L266.6,424.9L263.6,424.9L261.3,424.1L259.8,422.7M277.9,409.4L277.9,424.9L281.8,424.9M275.7,414.6L281.0,414.6M290.7,414.6L289.2,415.3L287.7,416.8L286.9,419.0L286.9,420.4L287.7,422.7L289.2,424.1L290.7,424.9L293.0,424.9L294.6,424.1L296.1,422.7L296.9,420.4L296.9,419.0L296.1,416.8L294.6,415.3L293.0,414.6L290.7,414.6M303.7,414.6L303.7,424.9M303.7,419.0L304.5,416.8L306.0,415.3L307.5,414.6L309.8,414.6M315.4,414.6L315.4,424.9M315.4,417.5L317.7,415.3L319.2,414.6L321.5,414.6L323.0,415.3L323.8,417.5L323.8,424.9M323.8,417.5L326.1,415.3L327.6,414.6L329.9,414.6L331.4,415.3L332.2,417.5L332.2,424.9M356.9,409.4L356.9,424.9M351.6,409.4L362.3,409.4M367.5,414.6L367.5,424.9M367.5,419.0L368.2,416.8L369.8,415.3L371.3,414.6L373.6,414.6M387.0,414.6L387.0,424.9M387.0,416.8L385.5,415.3L384.0,414.6L381.7,414.6L380.2,415.3L378.6,416.8L377.9,419.0L377.9,420.4L378.6,422.7L380.2,424.1L381.7,424.9L384.0,424.9L385.5,424.1L387.0,422.7M403.2,416.8L401.7,415.3L400.1,414.6L397.8,414.6L396.3,415.3L394.8,416.8L394.0,419.0L394.0,420.4L394.8,422.7L396.3,424.1L397.8,424.9L400.1,424.9L401.7,424.1L403.2,422.7M410.1,409.4L410.1,424.9M417.8,414.6L410.1,421.9M413.2,419.0L418.5,424.9M438.3,409.4L438.3,424.9M438.3,409.4L443.7,409.4L446.0,410.2L447.5,411.6L448.3,413.1L449.0,415.3L449.0,419.0L448.3,421.2L447.5,422.7L446.0,424.1L443.7,424.9L438.3,424.9M455.2,419.0L464.4,419.0L464.4,417.5L463.7,416.1L462.9,415.3L461.4,414.6L459.1,414.6L457.5,415.3L456.0,416.8L455.2,419.0L455.2,420.4L456.0,422.7L457.5,424.1L459.1,424.9L461.4,424.9L462.9,424.1L464.4,422.7M471.3,414.6L471.3,424.9M471.3,417.5L473.6,415.3L475.2,414.6L477.5,414.6L479.0,415.3L479.8,417.5L479.8,424.9M495.1,416.8L494.3,415.3L492.0,414.6L489.7,414.6L487.4,415.3L486.7,416.8L487.4,418.2L489.0,419.0L492.8,419.7L494.3,420.4L495.1,421.9L495.1,422.7L494.3,424.1L492.0,424.9L489.7,424.9L487.4,424.1L486.7,422.7M500.7,409.4L501.5,410.2L502.3,409.4L501.5,408.7L500.7,409.4M501.5,414.6L501.5,424.9M509.2,409.4L509.2,424.9L513.1,424.9M506.9,414.6L512.3,414.6M517.3,414.6L521.9,424.9M526.4,414.6L521.9,424.9L520.3,427.8L518.8,429.3L517.3,430.0L516.5,430.0M261.2,656.6L259.7,655.2L257.4,654.5L254.3,654.5L252.0,655.2L250.4,656.6L250.4,658.1L251.2,659.6L252.0,660.3L253.5,661.0L258.2,662.5L259.7,663.2L260.5,664.0L261.2,665.4L261.2,667.6L259.7,669.1L257.4,669.8L254.3,669.8L252.0,669.1L250.4,667.6M268.8,654.5L268.8,669.8L272.6,669.8M266.5,659.6L271.9,659.6M281.7,659.6L280.1,660.3L278.6,661.8L277.8,664.0L277.8,665.4L278.6,667.6L280.1,669.1L281.7,669.8L284.0,669.8L285.5,669.1L287.1,667.6L287.8,665.4L287.8,664.0L287.1,661.8L285.5,660.3L284.0,659.6L281.7,659.6M294.7,659.6L294.7,669.8M294.7,664.0L295.5,661.8L297.0,660.3L298.6,659.6L300.9,659.6M306.5,659.6L306.5,669.8M306.5,662.5L308.8,660.3L310.3,659.6L312.6,659.6L314.2,660.3L314.9,662.5L314.9,669.8M314.9,662.5L317.3,660.3L318.8,659.6L321.1,659.6L322.6,660.3L323.4,662.5L323.4,669.8M344.9,654.5L344.9,669.8M352.2,659.6L352.2,669.8M352.2,662.5L354.5,660.3L356.1,659.6L358.4,659.6L359.9,660.3L360.7,662.5L360.7,669.8M369.0,654.5L369.0,669.8L372.8,669.8M366.7,659.6L372.1,659.6M378.0,664.0L387.2,664.0L387.2,662.5L386.4,661.0L385.7,660.3L384.1,659.6L381.8,659.6L380.3,660.3L378.7,661.8L378.0,664.0L378.0,665.4L378.7,667.6L380.3,669.1L381.8,669.8L384.1,669.8L385.7,669.1L387.2,667.6M394.2,659.6L394.2,669.8M394.2,662.5L396.5,660.3L398.1,659.6L400.4,659.6L401.9,660.3L402.7,662.5L402.7,669.8M418.1,661.8L417.3,660.3L415.0,659.6L412.7,659.6L410.4,660.3L409.6,661.8L410.4,663.2L411.9,664.0L415.8,664.7L417.3,665.4L418.1,666.9L418.1,667.6L417.3,669.1L415.0,669.8L412.7,669.8L410.4,669.1L409.6,667.6M423.8,654.5L424.6,655.2L425.3,654.5L424.6,653.7L423.8,654.5M424.6,659.6L424.6,669.8M432.4,654.5L432.4,669.8L436.2,669.8M430.0,659.6L435.4,659.6M440.4,659.6L445.1,669.8M449.7,659.6L445.1,669.8L443.5,672.8L442.0,674.2L440.4,675.0L439.7,675.0M474.8,651.5L473.2,653.0L471.7,655.2L470.2,658.1L469.4,661.8L469.4,664.7L470.2,668.4L471.7,671.3L473.2,673.5L474.8,675.0M481.6,654.5L481.6,669.8M481.6,662.5L483.9,660.3L485.4,659.6L487.7,659.6L489.3,660.3L490.0,662.5L490.0,669.8M498.0,654.5L498.0,669.8M498.0,654.5L504.9,654.5L507.2,655.2L508.0,655.9L508.7,657.4L508.7,659.6L508.0,661.0L507.2,661.8L504.9,662.5L498.0,662.5M524.2,659.6L524.2,669.8M524.2,661.8L522.7,660.3L521.2,659.6L518.9,659.6L517.3,660.3L515.8,661.8L515.0,664.0L515.0,665.4L515.8,667.6L517.3,669.1L518.9,669.8L521.2,669.8L522.7,669.1L524.2,667.6M531.1,651.5L532.6,653.0L534.1,655.2L535.7,658.1L536.4,661.8L536.4,664.7L535.7,668.4L534.1,671.3L532.6,673.5L531.1,675.0M262.5,901.6L261.0,900.2L258.7,899.5L255.6,899.5L253.3,900.2L251.8,901.6L251.8,903.1L252.5,904.6L253.3,905.3L254.8,906.0L259.4,907.5L261.0,908.2L261.8,909.0L262.5,910.4L262.5,912.6L261.0,914.1L258.7,914.8L255.6,914.8L253.3,914.1L251.8,912.6M270.0,899.5L270.0,914.8L273.9,914.8M267.7,904.6L273.1,904.6M282.9,904.6L281.4,905.3L279.8,906.8L279.1,909.0L279.1,910.4L279.8,912.6L281.4,914.1L282.9,914.8L285.2,914.8L286.8,914.1L288.3,912.6L289.1,910.4L289.1,909.0L288.3,906.8L286.8,905.3L285.2,904.6L282.9,904.6M296.0,904.6L296.0,914.8M296.0,909.0L296.7,906.8L298.3,905.3L299.8,904.6L302.1,904.6M307.7,904.6L307.7,914.8M307.7,907.5L310.0,905.3L311.5,904.6L313.8,904.6L315.4,905.3L316.1,907.5L316.1,914.8M316.1,907.5L318.4,905.3L320.0,904.6L322.3,904.6L323.8,905.3L324.6,907.5L324.6,914.8M346.7,899.5L346.7,914.8M346.7,899.5L352.0,899.5L354.3,900.2L355.9,901.6L356.7,903.1L357.4,905.3L357.4,909.0L356.7,911.2L355.9,912.6L354.3,914.1L352.0,914.8L346.7,914.8M364.5,904.6L364.5,911.9L365.2,914.1L366.8,914.8L369.1,914.8L370.6,914.1L372.9,911.9M372.9,904.6L372.9,914.8M380.6,904.6L380.6,914.8M380.6,909.0L381.4,906.8L382.9,905.3L384.4,904.6L386.8,904.6M400.3,904.6L400.3,914.8M400.3,906.8L398.7,905.3L397.2,904.6L394.9,904.6L393.3,905.3L391.8,906.8L391.0,909.0L391.0,910.4L391.8,912.6L393.3,914.1L394.9,914.8L397.2,914.8L398.7,914.1L400.3,912.6M408.6,899.5L408.6,914.8L412.4,914.8M406.2,904.6L411.6,904.6M417.1,899.5L417.9,900.2L418.6,899.5L417.9,898.7L417.1,899.5M417.9,904.6L417.9,914.8M428.3,904.6L426.7,905.3L425.2,906.8L424.4,909.0L424.4,910.4L425.2,912.6L426.7,914.1L428.3,914.8L430.6,914.8L432.1,914.1L433.6,912.6L434.4,910.4L434.4,909.0L433.6,906.8L432.1,905.3L430.6,904.6L428.3,904.6M441.4,904.6L441.4,914.8M441.4,907.5L443.7,905.3L445.3,904.6L447.6,904.6L449.1,905.3L449.9,907.5L449.9,914.8M476.6,896.5L475.0,898.0L473.5,900.2L471.9,903.1L471.2,906.8L471.2,909.7L471.9,913.4L473.5,916.3L475.0,918.5L476.6,920.0M491.7,899.5L491.7,914.8M491.7,906.8L490.2,905.3L488.7,904.6L486.4,904.6L484.8,905.3L483.3,906.8L482.5,909.0L482.5,910.4L483.3,912.6L484.8,914.1L486.4,914.8L488.7,914.8L490.2,914.1L491.7,912.6M508.0,904.6L508.0,914.8M508.0,906.8L506.4,905.3L504.9,904.6L502.6,904.6L501.1,905.3L499.5,906.8L498.8,909.0L498.8,910.4L499.5,912.6L501.1,914.1L502.6,914.8L504.9,914.8L506.4,914.1L508.0,912.6M514.1,904.6L518.7,914.8M523.3,904.6L518.7,914.8L517.2,917.8L515.6,919.2L514.1,920.0L513.3,920.0M528.5,896.5L530.0,898.0L531.5,900.2L533.1,903.1L533.8,906.8L533.8,909.7L533.1,913.4L531.5,916.3L530.0,918.5L528.5,920.0M270.5,1198.7L268.9,1197.2L266.6,1196.5L263.6,1196.5L261.3,1197.2L259.8,1198.7L259.8,1200.1L260.5,1201.6L261.3,1202.3L262.8,1203.0L267.4,1204.5L268.9,1205.2L269.7,1206.0L270.5,1207.5L270.5,1209.6L268.9,1211.1L266.6,1211.8L263.6,1211.8L261.3,1211.1L259.8,1209.6M277.9,1196.5L277.9,1211.8L281.8,1211.8M275.7,1201.6L281.0,1201.6M290.7,1201.6L289.2,1202.3L287.7,1203.8L286.9,1206.0L286.9,1207.5L287.7,1209.6L289.2,1211.1L290.7,1211.8L293.0,1211.8L294.6,1211.1L296.1,1209.6L296.9,1207.5L296.9,1206.0L296.1,1203.8L294.6,1202.3L293.0,1201.6L290.7,1201.6M303.7,1201.6L303.7,1211.8M303.7,1206.0L304.5,1203.8L306.0,1202.3L307.5,1201.6L309.8,1201.6M315.4,1201.6L315.4,1211.8M315.4,1204.5L317.7,1202.3L319.2,1201.6L321.5,1201.6L323.0,1202.3L323.8,1204.5L323.8,1211.8M323.8,1204.5L326.1,1202.3L327.6,1201.6L329.9,1201.6L331.4,1202.3L332.2,1204.5L332.2,1211.8M356.9,1196.5L356.9,1211.8M351.6,1196.5L362.3,1196.5M367.5,1201.6L367.5,1211.8M367.5,1206.0L368.2,1203.8L369.8,1202.3L371.3,1201.6L373.6,1201.6M387.0,1201.6L387.0,1211.8M387.0,1203.8L385.5,1202.3L384.0,1201.6L381.7,1201.6L380.2,1202.3L378.6,1203.8L377.9,1206.0L377.9,1207.5L378.6,1209.6L380.2,1211.1L381.7,1211.8L384.0,1211.8L385.5,1211.1L387.0,1209.6M403.2,1203.8L401.7,1202.3L400.1,1201.6L397.8,1201.6L396.3,1202.3L394.8,1203.8L394.0,1206.0L394.0,1207.5L394.8,1209.6L396.3,1211.1L397.8,1211.8L400.1,1211.8L401.7,1211.1L403.2,1209.6M410.1,1196.5L410.1,1211.8M417.8,1201.6L410.1,1208.9M413.2,1206.0L418.5,1211.8M438.3,1196.5L438.3,1211.8M438.3,1196.5L443.7,1196.5L446.0,1197.2L447.5,1198.7L448.3,1200.1L449.0,1202.3L449.0,1206.0L448.3,1208.2L447.5,1209.6L446.0,1211.1L443.7,1211.8L438.3,1211.8M455.2,1206.0L464.4,1206.0L464.4,1204.5L463.7,1203.0L462.9,1202.3L461.4,1201.6L459.1,1201.6L457.5,1202.3L456.0,1203.8L455.2,1206.0L455.2,1207.5L456.0,1209.6L457.5,1211.1L459.1,1211.8L461.4,1211.8L462.9,1211.1L464.4,1209.6M471.3,1201.6L471.3,1211.8M471.3,1204.5L473.6,1202.3L475.2,1201.6L477.5,1201.6L479.0,1202.3L479.8,1204.5L479.8,1211.8M495.1,1203.8L494.3,1202.3L492.0,1201.6L489.7,1201.6L487.4,1202.3L486.7,1203.8L487.4,1205.2L489.0,1206.0L492.8,1206.7L494.3,1207.5L495.1,1208.9L495.1,1209.6L494.3,1211.1L492.0,1211.8L489.7,1211.8L487.4,1211.1L486.7,1209.6M500.7,1196.5L501.5,1197.2L502.3,1196.5L501.5,1195.7L500.7,1196.5M501.5,1201.6L501.5,1211.8M509.2,1196.5L509.2,1211.8L513.1,1211.8M506.9,1201.6L512.3,1201.6M517.3,1201.6L521.9,1211.8M526.4,1201.6L521.9,1211.8L520.3,1214.8L518.8,1216.2L517.3,1217.0L516.5,1217.0M261.2,1443.7L259.7,1442.2L257.4,1441.5L254.3,1441.5L252.0,1442.2L250.4,1443.7L250.4,1445.1L251.2,1446.6L252.0,1447.3L253.5,1448.0L258.2,1449.5L259.7,1450.2L260.5,1451.0L261.2,1452.5L261.2,1454.6L259.7,1456.1L257.4,1456.8L254.3,1456.8L252.0,1456.1L250.4,1454.6M268.8,1441.5L268.8,1456.8L272.6,1456.8M266.5,1446.6L271.9,1446.6M281.7,1446.6L280.1,1447.3L278.6,1448.8L277.8,1451.0L277.8,1452.5L278.6,1454.6L280.1,1456.1L281.7,1456.8L284.0,1456.8L285.5,1456.1L287.1,1454.6L287.8,1452.5L287.8,1451.0L287.1,1448.8L285.5,1447.3L284.0,1446.6L281.7,1446.6M294.7,1446.6L294.7,1456.8M294.7,1451.0L295.5,1448.8L297.0,1447.3L298.6,1446.6L300.9,1446.6M306.5,1446.6L306.5,1456.8M306.5,1449.5L308.8,1447.3L310.3,1446.6L312.6,1446.6L314.2,1447.3L314.9,1449.5L314.9,1456.8M314.9,1449.5L317.3,1447.3L318.8,1446.6L321.1,1446.6L322.6,1447.3L323.4,1449.5L323.4,1456.8M344.9,1441.5L344.9,1456.8M352.2,1446.6L352.2,1456.8M352.2,1449.5L354.5,1447.3L356.1,1446.6L358.4,1446.6L359.9,1447.3L360.7,1449.5L360.7,1456.8M369.0,1441.5L369.0,1456.8L372.8,1456.8M366.7,1446.6L372.1,1446.6M378.0,1451.0L387.2,1451.0L387.2,1449.5L386.4,1448.0L385.7,1447.3L384.1,1446.6L381.8,1446.6L380.3,1447.3L378.7,1448.8L378.0,1451.0L378.0,1452.5L378.7,1454.6L380.3,1456.1L381.8,1456.8L384.1,1456.8L385.7,1456.1L387.2,1454.6M394.2,1446.6L394.2,1456.8M394.2,1449.5L396.5,1447.3L398.1,1446.6L400.4,1446.6L401.9,1447.3L402.7,1449.5L402.7,1456.8M418.1,1448.8L417.3,1447.3L415.0,1446.6L412.7,1446.6L410.4,1447.3L409.6,1448.8L410.4,1450.2L411.9,1451.0L415.8,1451.7L417.3,1452.5L418.1,1453.9L418.1,1454.6L417.3,1456.1L415.0,1456.8L412.7,1456.8L410.4,1456.1L409.6,1454.6M423.8,1441.5L424.6,1442.2L425.3,1441.5L424.6,1440.7L423.8,1441.5M424.6,1446.6L424.6,1456.8M432.4,1441.5L432.4,1456.8L436.2,1456.8M430.0,1446.6L435.4,1446.6M440.4,1446.6L445.1,1456.8M449.7,1446.6L445.1,1456.8L443.5,1459.8L442.0,1461.2L440.4,1462.0L439.7,1462.0M474.8,1438.5L473.2,1440.0L471.7,1442.2L470.2,1445.1L469.4,1448.8L469.4,1451.7L470.2,1455.4L471.7,1458.3L473.2,1460.5L474.8,1462.0M481.6,1441.5L481.6,1456.8M481.6,1449.5L483.9,1447.3L485.4,1446.6L487.7,1446.6L489.3,1447.3L490.0,1449.5L490.0,1456.8M498.0,1441.5L498.0,1456.8M498.0,1441.5L504.9,1441.5L507.2,1442.2L508.0,1442.9L508.7,1444.4L508.7,1446.6L508.0,1448.0L507.2,1448.8L504.9,1449.5L498.0,1449.5M524.2,1446.6L524.2,1456.8M524.2,1448.8L522.7,1447.3L521.2,1446.6L518.9,1446.6L517.3,1447.3L515.8,1448.8L515.0,1451.0L515.0,1452.5L515.8,1454.6L517.3,1456.1L518.9,1456.8L521.2,1456.8L522.7,1456.1L524.2,1454.6M531.1,1438.5L532.6,1440.0L534.1,1442.2L535.7,1445.1L536.4,1448.8L536.4,1451.7L535.7,1455.4L534.1,1458.3L532.6,1460.5L531.1,1462.0M262.5,1688.7L261.0,1687.2L258.7,1686.5L255.6,1686.5L253.3,1687.2L251.8,1688.7L251.8,1690.1L252.5,1691.6L253.3,1692.3L254.8,1693.0L259.4,1694.5L261.0,1695.2L261.8,1696.0L262.5,1697.5L262.5,1699.6L261.0,1701.1L258.7,1701.8L255.6,1701.8L253.3,1701.1L251.8,1699.6M270.0,1686.5L270.0,1701.8L273.9,1701.8M267.7,1691.6L273.1,1691.6M282.9,1691.6L281.4,1692.3L279.8,1693.8L279.1,1696.0L279.1,1697.5L279.8,1699.6L281.4,1701.1L282.9,1701.8L285.2,1701.8L286.8,1701.1L288.3,1699.6L289.1,1697.5L289.1,1696.0L288.3,1693.8L286.8,1692.3L285.2,1691.6L282.9,1691.6M296.0,1691.6L296.0,1701.8M296.0,1696.0L296.7,1693.8L298.3,1692.3L299.8,1691.6L302.1,1691.6M307.7,1691.6L307.7,1701.8M307.7,1694.5L310.0,1692.3L311.5,1691.6L313.8,1691.6L315.4,1692.3L316.1,1694.5L316.1,1701.8M316.1,1694.5L318.4,1692.3L320.0,1691.6L322.3,1691.6L323.8,1692.3L324.6,1694.5L324.6,1701.8M346.7,1686.5L346.7,1701.8M346.7,1686.5L352.0,1686.5L354.3,1687.2L355.9,1688.7L356.7,1690.1L357.4,1692.3L357.4,1696.0L356.7,1698.2L355.9,1699.6L354.3,1701.1L352.0,1701.8L346.7,1701.8M364.5,1691.6L364.5,1698.9L365.2,1701.1L366.8,1701.8L369.1,1701.8L370.6,1701.1L372.9,1698.9M372.9,1691.6L372.9,1701.8M380.6,1691.6L380.6,1701.8M380.6,1696.0L381.4,1693.8L382.9,1692.3L384.4,1691.6L386.8,1691.6M400.3,1691.6L400.3,1701.8M400.3,1693.8L398.7,1692.3L397.2,1691.6L394.9,1691.6L393.3,1692.3L391.8,1693.8L391.0,1696.0L391.0,1697.5L391.8,1699.6L393.3,1701.1L394.9,1701.8L397.2,1701.8L398.7,1701.1L400.3,1699.6M408.6,1686.5L408.6,1701.8L412.4,1701.8M406.2,1691.6L411.6,1691.6M417.1,1686.5L417.9,1687.2L418.6,1686.5L417.9,1685.7L417.1,1686.5M417.9,1691.6L417.9,1701.8M428.3,1691.6L426.7,1692.3L425.2,1693.8L424.4,1696.0L424.4,1697.5L425.2,1699.6L426.7,1701.1L428.3,1701.8L430.6,1701.8L432.1,1701.1L433.6,1699.6L434.4,1697.5L434.4,1696.0L433.6,1693.8L432.1,1692.3L430.6,1691.6L428.3,1691.6M441.4,1691.6L441.4,1701.8M441.4,1694.5L443.7,1692.3L445.3,1691.6L447.6,1691.6L449.1,1692.3L449.9,1694.5L449.9,1701.8M476.6,1683.5L475.0,1685.0L473.5,1687.2L471.9,1690.1L471.2,1693.8L471.2,1696.7L471.9,1700.4L473.5,1703.3L475.0,1705.5L476.6,1707.0M491.7,1686.5L491.7,1701.8M491.7,1693.8L490.2,1692.3L488.7,1691.6L486.4,1691.6L484.8,1692.3L483.3,1693.8L482.5,1696.0L482.5,1697.5L483.3,1699.6L484.8,1701.1L486.4,1701.8L488.7,1701.8L490.2,1701.1L491.7,1699.6M508.0,1691.6L508.0,1701.8M508.0,1693.8L506.4,1692.3L504.9,1691.6L502.6,1691.6L501.1,1692.3L499.5,1693.8L498.8,1696.0L498.8,1697.5L499.5,1699.6L501.1,1701.1L502.6,1701.8L504.9,1701.8L506.4,1701.1L508.0,1699.6M514.1,1691.6L518.7,1701.8M523.3,1691.6L518.7,1701.8L517.2,1704.8L515.6,1706.2L514.1,1707.0L513.3,1707.0M528.5,1683.5L530.0,1685.0L531.5,1687.2L533.1,1690.1L533.8,1693.8L533.8,1696.7L533.1,1700.4L531.5,1703.3L530.0,1705.5L528.5,1707.0M991.6,140.5L990.1,139.1L987.8,138.3L984.6,138.3L982.3,139.1L980.8,140.5L980.8,142.0L981.5,143.4L982.3,144.2L983.9,144.9L988.5,146.4L990.1,147.1L990.9,147.8L991.6,149.3L991.6,151.5L990.1,152.9L987.8,153.7L984.6,153.7L982.3,152.9L980.8,151.5M999.2,138.3L999.2,153.7L1003.1,153.7M996.9,143.4L1002.4,143.4M1012.3,143.4L1010.7,144.2L1009.1,145.6L1008.4,147.8L1008.4,149.3L1009.1,151.5L1010.7,152.9L1012.3,153.7L1014.6,153.7L1016.1,152.9L1017.7,151.5L1018.5,149.3L1018.5,147.8L1017.7,145.6L1016.1,144.2L1014.6,143.4L1012.3,143.4M1025.4,143.4L1025.4,153.7M1025.4,147.8L1026.2,145.6L1027.8,144.2L1029.3,143.4L1031.7,143.4M1037.3,143.4L1037.3,153.7M1037.3,146.4L1039.6,144.2L1041.2,143.4L1043.5,143.4L1045.1,144.2L1045.8,146.4L1045.8,153.7M1045.8,146.4L1048.2,144.2L1049.7,143.4L1052.1,143.4L1053.6,144.2L1054.4,146.4L1054.4,153.7M1079.5,138.3L1079.5,153.7M1074.1,138.3L1085.0,138.3M1090.3,143.4L1090.3,153.7M1090.3,147.8L1091.0,145.6L1092.6,144.2L1094.2,143.4L1096.5,143.4M1110.1,143.4L1110.1,153.7M1110.1,145.6L1108.6,144.2L1107.0,143.4L1104.7,143.4L1103.1,144.2L1101.6,145.6L1100.8,147.8L1100.8,149.3L1101.6,151.5L1103.1,152.9L1104.7,153.7L1107.0,153.7L1108.6,152.9L1110.1,151.5M1126.6,145.6L1125.0,144.2L1123.5,143.4L1121.1,143.4L1119.6,144.2L1118.0,145.6L1117.2,147.8L1117.2,149.3L1118.0,151.5L1119.6,152.9L1121.1,153.7L1123.5,153.7L1125.0,152.9L1126.6,151.5M1133.6,138.3L1133.6,153.7M1141.4,143.4L1133.6,150.7M1136.7,147.8L1142.2,153.7M1167.4,135.4L1165.8,136.9L1164.3,139.1L1162.7,142.0L1162.0,145.6L1162.0,148.6L1162.7,152.2L1164.3,155.1L1165.8,157.3L1167.4,158.8M1173.8,138.3L1173.8,153.7M1179.9,138.3L1180.7,139.1L1181.4,138.3L1180.7,137.6L1179.9,138.3M1180.7,143.4L1180.7,153.7M1188.1,143.4L1188.1,153.7M1188.1,146.4L1190.4,144.2L1192.0,143.4L1194.3,143.4L1195.8,144.2L1196.6,146.4L1196.6,153.7M1203.7,147.8L1213.0,147.8L1213.0,146.4L1212.2,144.9L1211.4,144.2L1209.9,143.4L1207.6,143.4L1206.0,144.2L1204.4,145.6L1203.7,147.8L1203.7,149.3L1204.4,151.5L1206.0,152.9L1207.6,153.7L1209.9,153.7L1211.4,152.9L1213.0,151.5M1219.0,135.4L1220.6,136.9L1222.1,139.1L1223.7,142.0L1224.5,145.6L1224.5,148.6L1223.7,152.2L1222.1,155.1L1220.6,157.3L1219.0,158.8M917.6,166.6L916.1,165.2L913.8,164.4L910.7,164.4L908.4,165.2L906.9,166.6L906.9,168.1L907.6,169.5L908.4,170.2L909.9,171.0L914.5,172.4L916.1,173.1L916.8,173.9L917.6,175.3L917.6,177.5L916.1,178.9L913.8,179.7L910.7,179.7L908.4,178.9L906.9,177.5M925.1,164.4L925.1,179.7L929.0,179.7M922.8,169.5L928.2,169.5M938.0,169.5L936.4,170.2L934.9,171.7L934.1,173.9L934.1,175.3L934.9,177.5L936.4,178.9L938.0,179.7L940.3,179.7L941.8,178.9L943.4,177.5L944.1,175.3L944.1,173.9L943.4,171.7L941.8,170.2L940.3,169.5L938.0,169.5M951.0,169.5L951.0,179.7M951.0,173.9L951.8,171.7L953.3,170.2L954.8,169.5L957.1,169.5M962.7,169.5L962.7,179.7M962.7,172.4L965.0,170.2L966.5,169.5L968.8,169.5L970.4,170.2L971.1,172.4L971.1,179.7M971.1,172.4L973.5,170.2L975.0,169.5L977.3,169.5L978.8,170.2L979.6,172.4L979.6,179.7M1004.4,164.4L1004.4,179.7M999.1,164.4L1009.8,164.4M1015.0,169.5L1015.0,179.7M1015.0,173.9L1015.8,171.7L1017.3,170.2L1018.9,169.5L1021.2,169.5M1034.7,169.5L1034.7,179.7M1034.7,171.7L1033.1,170.2L1031.6,169.5L1029.3,169.5L1027.8,170.2L1026.2,171.7L1025.5,173.9L1025.5,175.3L1026.2,177.5L1027.8,178.9L1029.3,179.7L1031.6,179.7L1033.1,178.9L1034.7,177.5M1050.9,171.7L1049.4,170.2L1047.8,169.5L1045.5,169.5L1044.0,170.2L1042.4,171.7L1041.7,173.9L1041.7,175.3L1042.4,177.5L1044.0,178.9L1045.5,179.7L1047.8,179.7L1049.4,178.9L1050.9,177.5M1057.9,164.4L1057.9,179.7M1065.5,169.5L1057.9,176.8M1060.9,173.9L1066.3,179.7M1086.2,164.4L1086.2,179.7M1086.2,164.4L1091.5,164.4L1093.8,165.2L1095.4,166.6L1096.2,168.1L1096.9,170.2L1096.9,173.9L1096.2,176.0L1095.4,177.5L1093.8,178.9L1091.5,179.7L1086.2,179.7M1103.2,173.9L1112.4,173.9L1112.4,172.4L1111.6,171.0L1110.8,170.2L1109.3,169.5L1107.0,169.5L1105.5,170.2L1103.9,171.7L1103.2,173.9L1103.2,175.3L1103.9,177.5L1105.5,178.9L1107.0,179.7L1109.3,179.7L1110.8,178.9L1112.4,177.5M1119.3,169.5L1119.3,179.7M1119.3,172.4L1121.6,170.2L1123.2,169.5L1125.5,169.5L1127.0,170.2L1127.8,172.4L1127.8,179.7M1143.2,171.7L1142.4,170.2L1140.1,169.5L1137.8,169.5L1135.5,170.2L1134.7,171.7L1135.5,173.1L1137.0,173.9L1140.9,174.6L1142.4,175.3L1143.2,176.8L1143.2,177.5L1142.4,178.9L1140.1,179.7L1137.8,179.7L1135.5,178.9L1134.7,177.5M1148.8,164.4L1149.6,165.2L1150.4,164.4L1149.6,163.7L1148.8,164.4M1149.6,169.5L1149.6,179.7M1157.4,164.4L1157.4,179.7L1161.2,179.7M1155.1,169.5L1160.4,169.5M1165.4,169.5L1170.1,179.7M1174.7,169.5L1170.1,179.7L1168.5,182.5L1167.0,184.0L1165.4,184.7L1164.7,184.7M1199.7,161.6L1198.1,163.0L1196.6,165.2L1195.1,168.1L1194.3,171.7L1194.3,174.6L1195.1,178.2L1196.6,181.1L1198.1,183.3L1199.7,184.7M1214.0,171.7L1213.3,170.2L1211.0,169.5L1208.7,169.5L1206.3,170.2L1205.6,171.7L1206.3,173.1L1207.9,173.9L1211.7,174.6L1213.3,175.3L1214.0,176.8L1214.0,177.5L1213.3,178.9L1211.0,179.7L1208.7,179.7L1206.3,178.9L1205.6,177.5M1220.9,164.4L1220.9,179.7M1220.9,172.4L1223.3,170.2L1224.8,169.5L1227.1,169.5L1228.6,170.2L1229.4,172.4L1229.4,179.7M1245.6,169.5L1245.6,179.7M1245.6,171.7L1244.0,170.2L1242.5,169.5L1240.2,169.5L1238.7,170.2L1237.1,171.7L1236.4,173.9L1236.4,175.3L1237.1,177.5L1238.7,178.9L1240.2,179.7L1242.5,179.7L1244.0,178.9L1245.6,177.5M1261.8,164.4L1261.8,179.7M1261.8,171.7L1260.3,170.2L1258.7,169.5L1256.4,169.5L1254.9,170.2L1253.4,171.7L1252.6,173.9L1252.6,175.3L1253.4,177.5L1254.9,178.9L1256.4,179.7L1258.7,179.7L1260.3,178.9L1261.8,177.5M1268.4,164.4L1269.1,165.2L1269.9,164.4L1269.1,163.7L1268.4,164.4M1269.1,169.5L1269.1,179.7M1276.4,169.5L1276.4,179.7M1276.4,172.4L1278.8,170.2L1280.3,169.5L1282.6,169.5L1284.1,170.2L1284.9,172.4L1284.9,179.7M1301.1,169.5L1301.1,181.1L1300.3,183.3L1299.5,184.0L1298.0,184.7L1295.7,184.7L1294.2,184.0M1301.1,171.7L1299.5,170.2L1298.0,169.5L1295.7,169.5L1294.2,170.2L1292.6,171.7L1291.9,173.9L1291.9,175.3L1292.6,177.5L1294.2,178.9L1295.7,179.7L1298.0,179.7L1299.5,178.9L1301.1,177.5M1307.9,161.6L1309.4,163.0L1310.9,165.2L1312.5,168.1L1313.2,171.7L1313.2,174.6L1312.5,178.2L1310.9,181.1L1309.4,183.3L1307.9,184.7M987.5,411.6L985.9,410.2L983.6,409.4L980.6,409.4L978.3,410.2L976.8,411.6L976.8,413.1L977.5,414.6L978.3,415.3L979.8,416.1L984.4,417.5L985.9,418.2L986.7,419.0L987.5,420.4L987.5,422.7L985.9,424.1L983.6,424.9L980.6,424.9L978.3,424.1L976.8,422.7M994.9,409.4L994.9,424.9L998.8,424.9M992.7,414.6L998.0,414.6M1007.7,414.6L1006.2,415.3L1004.7,416.8L1003.9,419.0L1003.9,420.4L1004.7,422.7L1006.2,424.1L1007.7,424.9L1010.0,424.9L1011.6,424.1L1013.1,422.7L1013.9,420.4L1013.9,419.0L1013.1,416.8L1011.6,415.3L1010.0,414.6L1007.7,414.6M1020.7,414.6L1020.7,424.9M1020.7,419.0L1021.5,416.8L1023.0,415.3L1024.5,414.6L1026.8,414.6M1032.4,414.6L1032.4,424.9M1032.4,417.5L1034.7,415.3L1036.2,414.6L1038.5,414.6L1040.0,415.3L1040.8,417.5L1040.8,424.9M1040.8,417.5L1043.1,415.3L1044.6,414.6L1046.9,414.6L1048.4,415.3L1049.2,417.5L1049.2,424.9M1073.9,409.4L1073.9,424.9M1068.6,409.4L1079.3,409.4M1084.5,414.6L1084.5,424.9M1084.5,419.0L1085.2,416.8L1086.8,415.3L1088.3,414.6L1090.6,414.6M1104.0,414.6L1104.0,424.9M1104.0,416.8L1102.5,415.3L1101.0,414.6L1098.7,414.6L1097.2,415.3L1095.6,416.8L1094.9,419.0L1094.9,420.4L1095.6,422.7L1097.2,424.1L1098.7,424.9L1101.0,424.9L1102.5,424.1L1104.0,422.7M1120.2,416.8L1118.7,415.3L1117.1,414.6L1114.8,414.6L1113.3,415.3L1111.8,416.8L1111.0,419.0L1111.0,420.4L1111.8,422.7L1113.3,424.1L1114.8,424.9L1117.1,424.9L1118.7,424.1L1120.2,422.7M1127.1,409.4L1127.1,424.9M1134.8,414.6L1127.1,421.9M1130.2,419.0L1135.5,424.9M1155.3,409.4L1155.3,424.9M1155.3,409.4L1160.7,409.4L1163.0,410.2L1164.5,411.6L1165.3,413.1L1166.0,415.3L1166.0,419.0L1165.3,421.2L1164.5,422.7L1163.0,424.1L1160.7,424.9L1155.3,424.9M1172.2,419.0L1181.4,419.0L1181.4,417.5L1180.7,416.1L1179.9,415.3L1178.4,414.6L1176.1,414.6L1174.5,415.3L1173.0,416.8L1172.2,419.0L1172.2,420.4L1173.0,422.7L1174.5,424.1L1176.1,424.9L1178.4,424.9L1179.9,424.1L1181.4,422.7M1188.3,414.6L1188.3,424.9M1188.3,417.5L1190.6,415.3L1192.2,414.6L1194.5,414.6L1196.0,415.3L1196.8,417.5L1196.8,424.9M1212.1,416.8L1211.3,415.3L1209.0,414.6L1206.7,414.6L1204.4,415.3L1203.7,416.8L1204.4,418.2L1206.0,419.0L1209.8,419.7L1211.3,420.4L1212.1,421.9L1212.1,422.7L1211.3,424.1L1209.0,424.9L1206.7,424.9L1204.4,424.1L1203.7,422.7M1217.7,409.4L1218.5,410.2L1219.3,409.4L1218.5,408.7L1217.7,409.4M1218.5,414.6L1218.5,424.9M1226.2,409.4L1226.2,424.9L1230.1,424.9M1223.9,414.6L1229.3,414.6M1234.3,414.6L1238.9,424.9M1243.5,414.6L1238.9,424.9L1237.3,427.8L1235.8,429.3L1234.3,430.0L1233.5,430.0M978.2,656.6L976.7,655.2L974.4,654.5L971.3,654.5L969.0,655.2L967.5,656.6L967.5,658.1L968.2,659.6L969.0,660.3L970.5,661.0L975.2,662.5L976.7,663.2L977.5,664.0L978.2,665.4L978.2,667.6L976.7,669.1L974.4,669.8L971.3,669.8L969.0,669.1L967.5,667.6M985.8,654.5L985.8,669.8L989.6,669.8M983.5,659.6L988.9,659.6M998.7,659.6L997.1,660.3L995.6,661.8L994.8,664.0L994.8,665.4L995.6,667.6L997.1,669.1L998.7,669.8L1001.0,669.8L1002.5,669.1L1004.1,667.6L1004.8,665.4L1004.8,664.0L1004.1,661.8L1002.5,660.3L1001.0,659.6L998.7,659.6M1011.7,659.6L1011.7,669.8M1011.7,664.0L1012.5,661.8L1014.0,660.3L1015.6,659.6L1017.9,659.6M1023.5,659.6L1023.5,669.8M1023.5,662.5L1025.8,660.3L1027.3,659.6L1029.6,659.6L1031.2,660.3L1031.9,662.5L1031.9,669.8M1031.9,662.5L1034.3,660.3L1035.8,659.6L1038.1,659.6L1039.6,660.3L1040.4,662.5L1040.4,669.8M1061.9,654.5L1061.9,669.8M1069.2,659.6L1069.2,669.8M1069.2,662.5L1071.5,660.3L1073.1,659.6L1075.4,659.6L1076.9,660.3L1077.7,662.5L1077.7,669.8M1086.0,654.5L1086.0,669.8L1089.8,669.8M1083.7,659.6L1089.1,659.6M1095.0,664.0L1104.2,664.0L1104.2,662.5L1103.4,661.0L1102.7,660.3L1101.1,659.6L1098.8,659.6L1097.3,660.3L1095.7,661.8L1095.0,664.0L1095.0,665.4L1095.7,667.6L1097.3,669.1L1098.8,669.8L1101.1,669.8L1102.7,669.1L1104.2,667.6M1111.2,659.6L1111.2,669.8M1111.2,662.5L1113.5,660.3L1115.1,659.6L1117.4,659.6L1118.9,660.3L1119.7,662.5L1119.7,669.8M1135.1,661.8L1134.3,660.3L1132.0,659.6L1129.7,659.6L1127.4,660.3L1126.6,661.8L1127.4,663.2L1128.9,664.0L1132.8,664.7L1134.3,665.4L1135.1,666.9L1135.1,667.6L1134.3,669.1L1132.0,669.8L1129.7,669.8L1127.4,669.1L1126.6,667.6M1140.8,654.5L1141.6,655.2L1142.3,654.5L1141.6,653.7L1140.8,654.5M1141.6,659.6L1141.6,669.8M1149.4,654.5L1149.4,669.8L1153.2,669.8M1147.0,659.6L1152.4,659.6M1157.4,659.6L1162.1,669.8M1166.7,659.6L1162.1,669.8L1160.5,672.8L1159.0,674.2L1157.4,675.0L1156.7,675.0M1191.8,651.5L1190.2,653.0L1188.7,655.2L1187.2,658.1L1186.4,661.8L1186.4,664.7L1187.2,668.4L1188.7,671.3L1190.2,673.5L1191.8,675.0M1198.6,654.5L1198.6,669.8M1198.6,662.5L1200.9,660.3L1202.4,659.6L1204.7,659.6L1206.3,660.3L1207.0,662.5L1207.0,669.8M1215.0,654.5L1215.0,669.8M1215.0,654.5L1221.9,654.5L1224.2,655.2L1225.0,655.9L1225.7,657.4L1225.7,659.6L1225.0,661.0L1224.2,661.8L1221.9,662.5L1215.0,662.5M1241.2,659.6L1241.2,669.8M1241.2,661.8L1239.7,660.3L1238.2,659.6L1235.9,659.6L1234.3,660.3L1232.8,661.8L1232.0,664.0L1232.0,665.4L1232.8,667.6L1234.3,669.1L1235.9,669.8L1238.2,669.8L1239.7,669.1L1241.2,667.6M1248.1,651.5L1249.6,653.0L1251.1,655.2L1252.7,658.1L1253.5,661.8L1253.5,664.7L1252.7,668.4L1251.1,671.3L1249.6,673.5L1248.1,675.0M979.5,901.6L978.0,900.2L975.7,899.5L972.6,899.5L970.3,900.2L968.8,901.6L968.8,903.1L969.5,904.6L970.3,905.3L971.8,906.0L976.4,907.5L978.0,908.2L978.8,909.0L979.5,910.4L979.5,912.6L978.0,914.1L975.7,914.8L972.6,914.8L970.3,914.1L968.8,912.6M987.0,899.5L987.0,914.8L990.9,914.8M984.7,904.6L990.1,904.6M999.9,904.6L998.4,905.3L996.8,906.8L996.1,909.0L996.1,910.4L996.8,912.6L998.4,914.1L999.9,914.8L1002.2,914.8L1003.8,914.1L1005.3,912.6L1006.1,910.4L1006.1,909.0L1005.3,906.8L1003.8,905.3L1002.2,904.6L999.9,904.6M1013.0,904.6L1013.0,914.8M1013.0,909.0L1013.7,906.8L1015.3,905.3L1016.8,904.6L1019.1,904.6M1024.7,904.6L1024.7,914.8M1024.7,907.5L1027.0,905.3L1028.5,904.6L1030.8,904.6L1032.4,905.3L1033.1,907.5L1033.1,914.8M1033.1,907.5L1035.4,905.3L1037.0,904.6L1039.3,904.6L1040.8,905.3L1041.6,907.5L1041.6,914.8M1063.7,899.5L1063.7,914.8M1063.7,899.5L1069.0,899.5L1071.3,900.2L1072.9,901.6L1073.7,903.1L1074.4,905.3L1074.4,909.0L1073.7,911.2L1072.9,912.6L1071.3,914.1L1069.0,914.8L1063.7,914.8M1081.5,904.6L1081.5,911.9L1082.2,914.1L1083.8,914.8L1086.1,914.8L1087.6,914.1L1089.9,911.9M1089.9,904.6L1089.9,914.8M1097.6,904.6L1097.6,914.8M1097.6,909.0L1098.4,906.8L1099.9,905.3L1101.4,904.6L1103.8,904.6M1117.3,904.6L1117.3,914.8M1117.3,906.8L1115.7,905.3L1114.2,904.6L1111.9,904.6L1110.3,905.3L1108.8,906.8L1108.0,909.0L1108.0,910.4L1108.8,912.6L1110.3,914.1L1111.9,914.8L1114.2,914.8L1115.7,914.1L1117.3,912.6M1125.6,899.5L1125.6,914.8L1129.4,914.8M1123.2,904.6L1128.6,904.6M1134.1,899.5L1134.9,900.2L1135.6,899.5L1134.9,898.7L1134.1,899.5M1134.9,904.6L1134.9,914.8M1145.3,904.6L1143.7,905.3L1142.2,906.8L1141.4,909.0L1141.4,910.4L1142.2,912.6L1143.7,914.1L1145.3,914.8L1147.6,914.8L1149.1,914.1L1150.6,912.6L1151.4,910.4L1151.4,909.0L1150.6,906.8L1149.1,905.3L1147.6,904.6L1145.3,904.6M1158.4,904.6L1158.4,914.8M1158.4,907.5L1160.7,905.3L1162.3,904.6L1164.6,904.6L1166.1,905.3L1166.9,907.5L1166.9,914.8M1193.6,896.5L1192.0,898.0L1190.5,900.2L1188.9,903.1L1188.2,906.8L1188.2,909.7L1188.9,913.4L1190.5,916.3L1192.0,918.5L1193.6,920.0M1208.7,899.5L1208.7,914.8M1208.7,906.8L1207.2,905.3L1205.7,904.6L1203.4,904.6L1201.8,905.3L1200.3,906.8L1199.5,909.0L1199.5,910.4L1200.3,912.6L1201.8,914.1L1203.4,914.8L1205.7,914.8L1207.2,914.1L1208.7,912.6M1225.0,904.6L1225.0,914.8M1225.0,906.8L1223.4,905.3L1221.9,904.6L1219.6,904.6L1218.1,905.3L1216.5,906.8L1215.8,909.0L1215.8,910.4L1216.5,912.6L1218.1,914.1L1219.6,914.8L1221.9,914.8L1223.4,914.1L1225.0,912.6M1231.1,904.6L1235.7,914.8M1240.3,904.6L1235.7,914.8L1234.2,917.8L1232.6,919.2L1231.1,920.0L1230.3,920.0M1245.5,896.5L1247.0,898.0L1248.5,900.2L1250.1,903.1L1250.8,906.8L1250.8,909.7L1250.1,913.4L1248.5,916.3L1247.0,918.5L1245.5,920.0M987.5,1198.7L985.9,1197.2L983.6,1196.5L980.6,1196.5L978.3,1197.2L976.8,1198.7L976.8,1200.1L977.5,1201.6L978.3,1202.3L979.8,1203.0L984.4,1204.5L985.9,1205.2L986.7,1206.0L987.5,1207.5L987.5,1209.6L985.9,1211.1L983.6,1211.8L980.6,1211.8L978.3,1211.1L976.8,1209.6M994.9,1196.5L994.9,1211.8L998.8,1211.8M992.7,1201.6L998.0,1201.6M1007.7,1201.6L1006.2,1202.3L1004.7,1203.8L1003.9,1206.0L1003.9,1207.5L1004.7,1209.6L1006.2,1211.1L1007.7,1211.8L1010.0,1211.8L1011.6,1211.1L1013.1,1209.6L1013.9,1207.5L1013.9,1206.0L1013.1,1203.8L1011.6,1202.3L1010.0,1201.6L1007.7,1201.6M1020.7,1201.6L1020.7,1211.8M1020.7,1206.0L1021.5,1203.8L1023.0,1202.3L1024.5,1201.6L1026.8,1201.6M1032.4,1201.6L1032.4,1211.8M1032.4,1204.5L1034.7,1202.3L1036.2,1201.6L1038.5,1201.6L1040.0,1202.3L1040.8,1204.5L1040.8,1211.8M1040.8,1204.5L1043.1,1202.3L1044.6,1201.6L1046.9,1201.6L1048.4,1202.3L1049.2,1204.5L1049.2,1211.8M1073.9,1196.5L1073.9,1211.8M1068.6,1196.5L1079.3,1196.5M1084.5,1201.6L1084.5,1211.8M1084.5,1206.0L1085.2,1203.8L1086.8,1202.3L1088.3,1201.6L1090.6,1201.6M1104.0,1201.6L1104.0,1211.8M1104.0,1203.8L1102.5,1202.3L1101.0,1201.6L1098.7,1201.6L1097.2,1202.3L1095.6,1203.8L1094.9,1206.0L1094.9,1207.5L1095.6,1209.6L1097.2,1211.1L1098.7,1211.8L1101.0,1211.8L1102.5,1211.1L1104.0,1209.6M1120.2,1203.8L1118.7,1202.3L1117.1,1201.6L1114.8,1201.6L1113.3,1202.3L1111.8,1203.8L1111.0,1206.0L1111.0,1207.5L1111.8,1209.6L1113.3,1211.1L1114.8,1211.8L1117.1,1211.8L1118.7,1211.1L1120.2,1209.6M1127.1,1196.5L1127.1,1211.8M1134.8,1201.6L1127.1,1208.9M1130.2,1206.0L1135.5,1211.8M1155.3,1196.5L1155.3,1211.8M1155.3,1196.5L1160.7,1196.5L1163.0,1197.2L1164.5,1198.7L1165.3,1200.1L1166.0,1202.3L1166.0,1206.0L1165.3,1208.2L1164.5,1209.6L1163.0,1211.1L1160.7,1211.8L1155.3,1211.8M1172.2,1206.0L1181.4,1206.0L1181.4,1204.5L1180.7,1203.0L1179.9,1202.3L1178.4,1201.6L1176.1,1201.6L1174.5,1202.3L1173.0,1203.8L1172.2,1206.0L1172.2,1207.5L1173.0,1209.6L1174.5,1211.1L1176.1,1211.8L1178.4,1211.8L1179.9,1211.1L1181.4,1209.6M1188.3,1201.6L1188.3,1211.8M1188.3,1204.5L1190.6,1202.3L1192.2,1201.6L1194.5,1201.6L1196.0,1202.3L1196.8,1204.5L1196.8,1211.8M1212.1,1203.8L1211.3,1202.3L1209.0,1201.6L1206.7,1201.6L1204.4,1202.3L1203.7,1203.8L1204.4,1205.2L1206.0,1206.0L1209.8,1206.7L1211.3,1207.5L1212.1,1208.9L1212.1,1209.6L1211.3,1211.1L1209.0,1211.8L1206.7,1211.8L1204.4,1211.1L1203.7,1209.6M1217.7,1196.5L1218.5,1197.2L1219.3,1196.5L1218.5,1195.7L1217.7,1196.5M1218.5,1201.6L1218.5,1211.8M1226.2,1196.5L1226.2,1211.8L1230.1,1211.8M1223.9,1201.6L1229.3,1201.6M1234.3,1201.6L1238.9,1211.8M1243.5,1201.6L1238.9,1211.8L1237.3,1214.8L1235.8,1216.2L1234.3,1217.0L1233.5,1217.0M978.2,1443.7L976.7,1442.2L974.4,1441.5L971.3,1441.5L969.0,1442.2L967.5,1443.7L967.5,1445.1L968.2,1446.6L969.0,1447.3L970.5,1448.0L975.2,1449.5L976.7,1450.2L977.5,1451.0L978.2,1452.5L978.2,1454.6L976.7,1456.1L974.4,1456.8L971.3,1456.8L969.0,1456.1L967.5,1454.6M985.8,1441.5L985.8,1456.8L989.6,1456.8M983.5,1446.6L988.9,1446.6M998.7,1446.6L997.1,1447.3L995.6,1448.8L994.8,1451.0L994.8,1452.5L995.6,1454.6L997.1,1456.1L998.7,1456.8L1001.0,1456.8L1002.5,1456.1L1004.1,1454.6L1004.8,1452.5L1004.8,1451.0L1004.1,1448.8L1002.5,1447.3L1001.0,1446.6L998.7,1446.6M1011.7,1446.6L1011.7,1456.8M1011.7,1451.0L1012.5,1448.8L1014.0,1447.3L1015.6,1446.6L1017.9,1446.6M1023.5,1446.6L1023.5,1456.8M1023.5,1449.5L1025.8,1447.3L1027.3,1446.6L1029.6,1446.6L1031.2,1447.3L1031.9,1449.5L1031.9,1456.8M1031.9,1449.5L1034.3,1447.3L1035.8,1446.6L1038.1,1446.6L1039.6,1447.3L1040.4,1449.5L1040.4,1456.8M1061.9,1441.5L1061.9,1456.8M1069.2,1446.6L1069.2,1456.8M1069.2,1449.5L1071.5,1447.3L1073.1,1446.6L1075.4,1446.6L1076.9,1447.3L1077.7,1449.5L1077.7,1456.8M1086.0,1441.5L1086.0,1456.8L1089.8,1456.8M1083.7,1446.6L1089.1,1446.6M1095.0,1451.0L1104.2,1451.0L1104.2,1449.5L1103.4,1448.0L1102.7,1447.3L1101.1,1446.6L1098.8,1446.6L1097.3,1447.3L1095.7,1448.8L1095.0,1451.0L1095.0,1452.5L1095.7,1454.6L1097.3,1456.1L1098.8,1456.8L1101.1,1456.8L1102.7,1456.1L1104.2,1454.6M1111.2,1446.6L1111.2,1456.8M1111.2,1449.5L1113.5,1447.3L1115.1,1446.6L1117.4,1446.6L1118.9,1447.3L1119.7,1449.5L1119.7,1456.8M1135.1,1448.8L1134.3,1447.3L1132.0,1446.6L1129.7,1446.6L1127.4,1447.3L1126.6,1448.8L1127.4,1450.2L1128.9,1451.0L1132.8,1451.7L1134.3,1452.5L1135.1,1453.9L1135.1,1454.6L1134.3,1456.1L1132.0,1456.8L1129.7,1456.8L1127.4,1456.1L1126.6,1454.6M1140.8,1441.5L1141.6,1442.2L1142.3,1441.5L1141.6,1440.7L1140.8,1441.5M1141.6,1446.6L1141.6,1456.8M1149.4,1441.5L1149.4,1456.8L1153.2,1456.8M1147.0,1446.6L1152.4,1446.6M1157.4,1446.6L1162.1,1456.8M1166.7,1446.6L1162.1,1456.8L1160.5,1459.8L1159.0,1461.2L1157.4,1462.0L1156.7,1462.0M1191.8,1438.5L1190.2,1440.0L1188.7,1442.2L1187.2,1445.1L1186.4,1448.8L1186.4,1451.7L1187.2,1455.4L1188.7,1458.3L1190.2,1460.5L1191.8,1462.0M1198.6,1441.5L1198.6,1456.8M1198.6,1449.5L1200.9,1447.3L1202.4,1446.6L1204.7,1446.6L1206.3,1447.3L1207.0,1449.5L1207.0,1456.8M1215.0,1441.5L1215.0,1456.8M1215.0,1441.5L1221.9,1441.5L1224.2,1442.2L1225.0,1442.9L1225.7,1444.4L1225.7,1446.6L1225.0,1448.0L1224.2,1448.8L1221.9,1449.5L1215.0,1449.5M1241.2,1446.6L1241.2,1456.8M1241.2,1448.8L1239.7,1447.3L1238.2,1446.6L1235.9,1446.6L1234.3,1447.3L1232.8,1448.8L1232.0,1451.0L1232.0,1452.5L1232.8,1454.6L1234.3,1456.1L1235.9,1456.8L1238.2,1456.8L1239.7,1456.1L1241.2,1454.6M1248.1,1438.5L1249.6,1440.0L1251.1,1442.2L1252.7,1445.1L1253.5,1448.8L1253.5,1451.7L1252.7,1455.4L1251.1,1458.3L1249.6,1460.5L1248.1,1462.0M979.5,1688.7L978.0,1687.2L975.7,1686.5L972.6,1686.5L970.3,1687.2L968.8,1688.7L968.8,1690.1L969.5,1691.6L970.3,1692.3L971.8,1693.0L976.4,1694.5L978.0,1695.2L978.8,1696.0L979.5,1697.5L979.5,1699.6L978.0,1701.1L975.7,1701.8L972.6,1701.8L970.3,1701.1L968.8,1699.6M987.0,1686.5L987.0,1701.8L990.9,1701.8M984.7,1691.6L990.1,1691.6M999.9,1691.6L998.4,1692.3L996.8,1693.8L996.1,1696.0L996.1,1697.5L996.8,1699.6L998.4,1701.1L999.9,1701.8L1002.2,1701.8L1003.8,1701.1L1005.3,1699.6L1006.1,1697.5L1006.1,1696.0L1005.3,1693.8L1003.8,1692.3L1002.2,1691.6L999.9,1691.6M1013.0,1691.6L1013.0,1701.8M1013.0,1696.0L1013.7,1693.8L1015.3,1692.3L1016.8,1691.6L1019.1,1691.6M1024.7,1691.6L1024.7,1701.8M1024.7,1694.5L1027.0,1692.3L1028.5,1691.6L1030.8,1691.6L1032.4,1692.3L1033.1,1694.5L1033.1,1701.8M1033.1,1694.5L1035.4,1692.3L1037.0,1691.6L1039.3,1691.6L1040.8,1692.3L1041.6,1694.5L1041.6,1701.8M1063.7,1686.5L1063.7,1701.8M1063.7,1686.5L1069.0,1686.5L1071.3,1687.2L1072.9,1688.7L1073.7,1690.1L1074.4,1692.3L1074.4,1696.0L1073.7,1698.2L1072.9,1699.6L1071.3,1701.1L1069.0,1701.8L1063.7,1701.8M1081.5,1691.6L1081.5,1698.9L1082.2,1701.1L1083.8,1701.8L1086.1,1701.8L1087.6,1701.1L1089.9,1698.9M1089.9,1691.6L1089.9,1701.8M1097.6,1691.6L1097.6,1701.8M1097.6,1696.0L1098.4,1693.8L1099.9,1692.3L1101.4,1691.6L1103.8,1691.6M1117.3,1691.6L1117.3,1701.8M1117.3,1693.8L1115.7,1692.3L1114.2,1691.6L1111.9,1691.6L1110.3,1692.3L1108.8,1693.8L1108.0,1696.0L1108.0,1697.5L1108.8,1699.6L1110.3,1701.1L1111.9,1701.8L1114.2,1701.8L1115.7,1701.1L1117.3,1699.6M1125.6,1686.5L1125.6,1701.8L1129.4,1701.8M1123.2,1691.6L1128.6,1691.6M1134.1,1686.5L1134.9,1687.2L1135.6,1686.5L1134.9,1685.7L1134.1,1686.5M1134.9,1691.6L1134.9,1701.8M1145.3,1691.6L1143.7,1692.3L1142.2,1693.8L1141.4,1696.0L1141.4,1697.5L1142.2,1699.6L1143.7,1701.1L1145.3,1701.8L1147.6,1701.8L1149.1,1701.1L1150.6,1699.6L1151.4,1697.5L1151.4,1696.0L1150.6,1693.8L1149.1,1692.3L1147.6,1691.6L1145.3,1691.6M1158.4,1691.6L1158.4,1701.8M1158.4,1694.5L1160.7,1692.3L1162.3,1691.6L1164.6,1691.6L1166.1,1692.3L1166.9,1694.5L1166.9,1701.8M1193.6,1683.5L1192.0,1685.0L1190.5,1687.2L1188.9,1690.1L1188.2,1693.8L1188.2,1696.7L1188.9,1700.4L1190.5,1703.3L1192.0,1705.5L1193.6,1707.0M1208.7,1686.5L1208.7,1701.8M1208.7,1693.8L1207.2,1692.3L1205.7,1691.6L1203.4,1691.6L1201.8,1692.3L1200.3,1693.8L1199.5,1696.0L1199.5,1697.5L1200.3,1699.6L1201.8,1701.1L1203.4,1701.8L1205.7,1701.8L1207.2,1701.1L1208.7,1699.6M1225.0,1691.6L1225.0,1701.8M1225.0,1693.8L1223.4,1692.3L1221.9,1691.6L1219.6,1691.6L1218.1,1692.3L1216.5,1693.8L1215.8,1696.0L1215.8,1697.5L1216.5,1699.6L1218.1,1701.1L1219.6,1701.8L1221.9,1701.8L1223.4,1701.1L1225.0,1699.6M1231.1,1691.6L1235.7,1701.8M1240.3,1691.6L1235.7,1701.8L1234.2,1704.8L1232.6,1706.2L1231.1,1707.0L1230.3,1707.0M1245.5,1683.5L1247.0,1685.0L1248.5,1687.2L1250.1,1690.1L1250.8,1693.8L1250.8,1696.7L1250.1,1700.4L1248.5,1703.3L1247.0,1705.5L1245.5,1707.0" fill="none" stroke="#000" stroke-width="1.9" stroke-linecap="round" stroke-linejoin="round"/>
<path d="M368.4,94.0L368.4,111.0M362.9,94.0L373.9,94.0M382.4,99.7L380.8,100.5L379.3,102.1L378.5,104.5L378.5,106.1L379.3,108.5L380.8,110.1L382.4,111.0L384.7,111.0L386.3,110.1L387.8,108.5L388.6,106.1L388.6,104.5L387.8,102.1L386.3,100.5L384.7,99.7L382.4,99.7M396.2,94.0L396.2,111.0L400.1,111.0M393.8,99.7L399.3,99.7M414.6,99.7L414.6,111.0M414.6,102.1L413.1,100.5L411.5,99.7L409.2,99.7L407.6,100.5L406.0,102.1L405.3,104.5L405.3,106.1L406.0,108.5L407.6,110.1L409.2,111.0L411.5,111.0L413.1,110.1L414.6,108.5M422.1,94.0L422.1,111.0M1085.7,94.0L1085.7,111.0M1080.2,94.0L1091.2,94.0M1099.7,99.7L1098.1,100.5L1096.6,102.1L1095.8,104.5L1095.8,106.1L1096.6,108.5L1098.1,110.1L1099.7,111.0L1102.0,111.0L1103.6,110.1L1105.1,108.5L1105.9,106.1L1105.9,104.5L1105.1,102.1L1103.6,100.5L1102.0,99.7L1099.7,99.7M1113.5,94.0L1113.5,111.0L1117.4,111.0M1111.1,99.7L1116.6,99.7M1131.9,99.7L1131.9,111.0M1131.9,102.1L1130.4,100.5L1128.8,99.7L1126.5,99.7L1124.9,100.5L1123.3,102.1L1122.6,104.5L1122.6,106.1L1123.3,108.5L1124.9,110.1L1126.5,111.0L1128.8,111.0L1130.4,110.1L1131.9,108.5M1139.3,94.0L1139.3,111.0" fill="none" stroke="#0a1eff" stroke-width="1.9" stroke-linecap="round" stroke-linejoin="round"/>
<path d="M344.5,1154.1L338.1,1170.2M344.5,1154.1L350.9,1170.2M340.5,1164.8L348.5,1164.8M356.5,1159.5L356.5,1170.2M356.5,1162.5L358.9,1160.2L360.5,1159.5L362.9,1159.5L364.5,1160.2L365.3,1162.5L365.3,1170.2M376.6,1159.5L375.0,1160.2L373.4,1161.8L372.6,1164.1L372.6,1165.6L373.4,1167.9L375.0,1169.4L376.6,1170.2L379.0,1170.2L380.6,1169.4L382.2,1167.9L383.0,1165.6L383.0,1164.1L382.2,1161.8L380.6,1160.2L379.0,1159.5L376.6,1159.5M390.8,1159.5L390.8,1170.2M390.8,1162.5L393.2,1160.2L394.8,1159.5L397.2,1159.5L398.8,1160.2L399.6,1162.5L399.6,1170.2M399.6,1162.5L402.0,1160.2L403.6,1159.5L406.0,1159.5L407.6,1160.2L408.4,1162.5L408.4,1170.2M425.8,1159.5L425.8,1170.2M425.8,1161.8L424.2,1160.2L422.6,1159.5L420.2,1159.5L418.6,1160.2L417.0,1161.8L416.2,1164.1L416.2,1165.6L417.0,1167.9L418.6,1169.4L420.2,1170.2L422.6,1170.2L424.2,1169.4L425.8,1167.9M433.4,1154.1L433.4,1170.2M439.2,1159.5L444.0,1170.2M448.9,1159.5L444.0,1170.2L442.4,1173.2L440.8,1174.7L439.2,1175.5L438.4,1175.5M1061.5,1154.1L1055.0,1170.2M1061.5,1154.1L1067.9,1170.2M1057.5,1164.8L1065.5,1164.8M1073.5,1159.5L1073.5,1170.2M1073.5,1162.5L1075.9,1160.2L1077.5,1159.5L1079.9,1159.5L1081.5,1160.2L1082.3,1162.5L1082.3,1170.2M1093.6,1159.5L1092.0,1160.2L1090.4,1161.8L1089.6,1164.1L1089.6,1165.6L1090.4,1167.9L1092.0,1169.4L1093.6,1170.2L1096.0,1170.2L1097.6,1169.4L1099.2,1167.9L1100.0,1165.6L1100.0,1164.1L1099.2,1161.8L1097.6,1160.2L1096.0,1159.5L1093.6,1159.5M1107.8,1159.5L1107.8,1170.2M1107.8,1162.5L1110.2,1160.2L1111.8,1159.5L1114.2,1159.5L1115.8,1160.2L1116.6,1162.5L1116.6,1170.2M1116.6,1162.5L1119.0,1160.2L1120.6,1159.5L1123.0,1159.5L1124.6,1160.2L1125.4,1162.5L1125.4,1170.2M1142.8,1159.5L1142.8,1170.2M1142.8,1161.8L1141.2,1160.2L1139.6,1159.5L1137.2,1159.5L1135.6,1160.2L1134.0,1161.8L1133.2,1164.1L1133.2,1165.6L1134.0,1167.9L1135.6,1169.4L1137.2,1170.2L1139.6,1170.2L1141.2,1169.4L1142.8,1167.9M1150.4,1154.1L1150.4,1170.2M1156.2,1159.5L1161.0,1170.2M1165.9,1159.5L1161.0,1170.2L1159.4,1173.2L1157.8,1174.7L1156.2,1175.5L1155.4,1175.5" fill="none" stroke="#0a1eff" stroke-width="1.7" stroke-linecap="round" stroke-linejoin="round"/>
<path d="M250.8,203.3L249.6,203.8L249.2,204.8L249.2,205.7L249.6,206.7L250.4,207.2L252.0,207.7L253.2,208.2L254.0,209.1L254.3,210.1L254.3,211.6L254.0,212.5L253.6,213.0L252.4,213.5L250.8,213.5L249.6,213.0L249.2,212.5L248.8,211.6L248.8,210.1L249.2,209.1L250.0,208.2L251.2,207.7L252.8,207.2L253.6,206.7L254.0,205.7L254.0,204.8L253.6,203.8L252.4,203.3L250.8,203.3M260.5,203.3L259.3,203.8L258.5,205.2L258.1,207.7L258.1,209.1L258.5,211.6L259.3,213.0L260.5,213.5L261.3,213.5L262.5,213.0L263.3,211.6L263.6,209.1L263.6,207.7L263.3,205.2L262.5,203.8L261.3,203.3L260.5,203.3M267.9,203.3L267.9,213.5M267.9,203.3L273.4,213.5M273.4,203.3L273.4,213.5M254.3,232.2L250.4,242.4M248.8,232.2L254.3,232.2M260.5,232.2L259.3,232.7L258.5,234.2L258.1,236.6L258.1,238.1L258.5,240.5L259.3,242.0L260.5,242.4L261.3,242.4L262.5,242.0L263.3,240.5L263.6,238.1L263.6,236.6L263.3,234.2L262.5,232.7L261.3,232.2L260.5,232.2M267.9,232.2L267.9,242.4M267.9,232.2L273.4,242.4M273.4,232.2L273.4,242.4M254.0,262.7L253.6,261.7L252.4,261.2L251.6,261.2L250.4,261.7L249.6,263.1L249.2,265.6L249.2,268.0L249.6,269.9L250.4,270.9L251.6,271.4L252.0,271.4L253.2,270.9L254.0,269.9L254.4,268.5L254.4,268.0L254.0,266.5L253.2,265.6L252.0,265.1L251.6,265.1L250.4,265.6L249.6,266.5L249.2,268.0M260.5,261.2L259.3,261.7L258.5,263.1L258.1,265.6L258.1,267.0L258.5,269.5L259.3,270.9L260.5,271.4L261.3,271.4L262.5,270.9L263.3,269.5L263.6,267.0L263.6,265.6L263.3,263.1L262.5,261.7L261.3,261.2L260.5,261.2M267.9,261.2L267.9,271.4M267.9,261.2L273.4,271.4M273.4,261.2L273.4,271.4M253.6,290.1L249.6,290.1L249.2,294.5L249.6,294.0L250.8,293.5L252.0,293.5L253.2,294.0L254.0,295.0L254.3,296.5L254.3,297.4L254.0,298.9L253.2,299.9L252.0,300.4L250.8,300.4L249.6,299.9L249.2,299.4L248.8,298.4M260.5,290.1L259.3,290.6L258.5,292.1L258.1,294.5L258.1,296.0L258.5,298.4L259.3,299.9L260.5,300.4L261.3,300.4L262.5,299.9L263.3,298.4L263.6,296.0L263.6,294.5L263.3,292.1L262.5,290.6L261.3,290.1L260.5,290.1M267.9,290.1L267.9,300.4M267.9,290.1L273.4,300.4M273.4,290.1L273.4,300.4M252.8,319.1L248.8,325.9L254.8,325.9M252.8,319.1L252.8,329.3M260.5,319.1L259.3,319.6L258.5,321.0L258.1,323.5L258.1,324.9L258.5,327.4L259.3,328.8L260.5,329.3L261.3,329.3L262.5,328.8L263.3,327.4L263.6,324.9L263.6,323.5L263.3,321.0L262.5,319.6L261.3,319.1L260.5,319.1M267.9,319.1L267.9,329.3M267.9,319.1L273.4,329.3M273.4,319.1L273.4,329.3M249.6,348.0L254.0,348.0L251.6,351.9L252.8,351.9L253.6,352.4L254.0,352.9L254.3,354.4L254.3,355.3L254.0,356.8L253.2,357.8L252.0,358.2L250.8,358.2L249.6,357.8L249.2,357.3L248.8,356.3M260.5,348.0L259.3,348.5L258.5,350.0L258.1,352.4L258.1,353.9L258.5,356.3L259.3,357.8L260.5,358.2L261.3,358.2L262.5,357.8L263.3,356.3L263.6,353.9L263.6,352.4L263.3,350.0L262.5,348.5L261.3,348.0L260.5,348.0M267.9,348.0L267.9,358.2M267.9,348.0L273.4,358.2M273.4,348.0L273.4,358.2M267.9,378.9L268.7,378.5L269.8,377.0L269.8,387.1M279.8,377.0L275.9,383.7L281.7,383.7M279.8,377.0L279.8,387.1M287.2,377.0L286.1,377.5L285.3,378.9L284.9,381.3L284.9,382.8L285.3,385.2L286.1,386.6L287.2,387.1L288.0,387.1L289.1,386.6L289.9,385.2L290.3,382.8L290.3,381.3L289.9,378.9L289.1,377.5L288.0,377.0L287.2,377.0M293.7,377.0L295.6,387.1M297.5,377.0L295.6,387.1M297.5,377.0L299.4,387.1M301.4,377.0L299.4,387.1M316.4,378.9L317.2,378.5L318.3,377.0L318.3,387.1M324.8,379.4L324.8,378.9L325.1,378.0L325.5,377.5L326.3,377.0L327.8,377.0L328.6,377.5L329.0,378.0L329.4,378.9L329.4,379.9L329.0,380.9L328.2,382.3L324.4,387.1L329.7,387.1M335.7,377.0L334.6,377.5L333.8,378.9L333.4,381.3L333.4,382.8L333.8,385.2L334.6,386.6L335.7,387.1L336.5,387.1L337.6,386.6L338.4,385.2L338.8,382.8L338.8,381.3L338.4,378.9L337.6,377.5L336.5,377.0L335.7,377.0M342.2,377.0L344.1,387.1M346.0,377.0L344.1,387.1M346.0,377.0L347.9,387.1M349.8,377.0L347.9,387.1M364.9,378.9L365.7,378.5L366.8,377.0L366.8,387.1M375.2,377.0L374.0,377.5L373.2,378.9L372.9,381.3L372.9,382.8L373.2,385.2L374.0,386.6L375.2,387.1L375.9,387.1L377.1,386.6L377.8,385.2L378.2,382.8L378.2,381.3L377.8,378.9L377.1,377.5L375.9,377.0L375.2,377.0M384.2,377.0L383.0,377.5L382.3,378.9L381.9,381.3L381.9,382.8L382.3,385.2L383.0,386.6L384.2,387.1L384.9,387.1L386.1,386.6L386.9,385.2L387.2,382.8L387.2,381.3L386.9,378.9L386.1,377.5L384.9,377.0L384.2,377.0M390.7,377.0L392.6,387.1M394.5,377.0L392.6,387.1M394.5,377.0L396.4,387.1M398.3,377.0L396.4,387.1M419.4,377.0L418.3,377.5L417.9,378.5L417.9,379.4L418.3,380.4L419.0,380.9L420.6,381.3L421.7,381.8L422.5,382.8L422.9,383.7L422.9,385.2L422.5,386.1L422.1,386.6L421.0,387.1L419.4,387.1L418.3,386.6L417.9,386.1L417.5,385.2L417.5,383.7L417.9,382.8L418.7,381.8L419.8,381.3L421.3,380.9L422.1,380.4L422.5,379.4L422.5,378.5L422.1,377.5L421.0,377.0L419.4,377.0M428.8,377.0L427.7,377.5L426.9,378.9L426.5,381.3L426.5,382.8L426.9,385.2L427.7,386.6L428.8,387.1L429.6,387.1L430.7,386.6L431.5,385.2L431.9,382.8L431.9,381.3L431.5,378.9L430.7,377.5L429.6,377.0L428.8,377.0M435.3,377.0L437.2,387.1M439.1,377.0L437.2,387.1M439.1,377.0L441.1,387.1M443.0,377.0L441.1,387.1M470.8,378.5L470.4,377.5L469.2,377.0L468.5,377.0L467.3,377.5L466.6,378.9L466.2,381.3L466.2,383.7L466.6,385.7L467.3,386.6L468.5,387.1L468.9,387.1L470.0,386.6L470.8,385.7L471.2,384.2L471.2,383.7L470.8,382.3L470.0,381.3L468.9,380.9L468.5,380.9L467.3,381.3L466.6,382.3L466.2,383.7M477.1,377.0L475.9,377.5L475.2,378.9L474.8,381.3L474.8,382.8L475.2,385.2L475.9,386.6L477.1,387.1L477.9,387.1L479.0,386.6L479.8,385.2L480.2,382.8L480.2,381.3L479.8,378.9L479.0,377.5L477.9,377.0L477.1,377.0M483.6,377.0L485.5,387.1M487.4,377.0L485.5,387.1M487.4,377.0L489.3,387.1M491.2,377.0L489.3,387.1M967.8,203.3L966.6,203.8L966.2,204.8L966.2,205.7L966.6,206.7L967.4,207.2L969.0,207.7L970.2,208.2L971.0,209.1L971.3,210.1L971.3,211.6L971.0,212.5L970.6,213.0L969.4,213.5L967.8,213.5L966.6,213.0L966.2,212.5L965.8,211.6L965.8,210.1L966.2,209.1L967.0,208.2L968.2,207.7L969.8,207.2L970.6,206.7L971.0,205.7L971.0,204.8L970.6,203.8L969.4,203.3L967.8,203.3M977.5,203.3L976.3,203.8L975.5,205.2L975.1,207.7L975.1,209.1L975.5,211.6L976.3,213.0L977.5,213.5L978.3,213.5L979.5,213.0L980.3,211.6L980.6,209.1L980.6,207.7L980.3,205.2L979.5,203.8L978.3,203.3L977.5,203.3M984.9,203.3L984.9,213.5M984.9,203.3L990.4,213.5M990.4,203.3L990.4,213.5M971.3,232.2L967.4,242.4M965.8,232.2L971.3,232.2M977.5,232.2L976.3,232.7L975.5,234.2L975.1,236.6L975.1,238.1L975.5,240.5L976.3,242.0L977.5,242.4L978.3,242.4L979.5,242.0L980.3,240.5L980.6,238.1L980.6,236.6L980.3,234.2L979.5,232.7L978.3,232.2L977.5,232.2M984.9,232.2L984.9,242.4M984.9,232.2L990.4,242.4M990.4,232.2L990.4,242.4M971.0,262.7L970.6,261.7L969.4,261.2L968.6,261.2L967.4,261.7L966.6,263.1L966.2,265.6L966.2,268.0L966.6,269.9L967.4,270.9L968.6,271.4L969.0,271.4L970.2,270.9L971.0,269.9L971.4,268.5L971.4,268.0L971.0,266.5L970.2,265.6L969.0,265.1L968.6,265.1L967.4,265.6L966.6,266.5L966.2,268.0M977.5,261.2L976.3,261.7L975.5,263.1L975.1,265.6L975.1,267.0L975.5,269.5L976.3,270.9L977.5,271.4L978.3,271.4L979.5,270.9L980.3,269.5L980.6,267.0L980.6,265.6L980.3,263.1L979.5,261.7L978.3,261.2L977.5,261.2M984.9,261.2L984.9,271.4M984.9,261.2L990.4,271.4M990.4,261.2L990.4,271.4M970.6,290.1L966.6,290.1L966.2,294.5L966.6,294.0L967.8,293.5L969.0,293.5L970.2,294.0L971.0,295.0L971.3,296.5L971.3,297.4L971.0,298.9L970.2,299.9L969.0,300.4L967.8,300.4L966.6,299.9L966.2,299.4L965.8,298.4M977.5,290.1L976.3,290.6L975.5,292.1L975.1,294.5L975.1,296.0L975.5,298.4L976.3,299.9L977.5,300.4L978.3,300.4L979.5,299.9L980.3,298.4L980.6,296.0L980.6,294.5L980.3,292.1L979.5,290.6L978.3,290.1L977.5,290.1M984.9,290.1L984.9,300.4M984.9,290.1L990.4,300.4M990.4,290.1L990.4,300.4M969.8,319.1L965.8,325.9L971.8,325.9M969.8,319.1L969.8,329.3M977.5,319.1L976.3,319.6L975.5,321.0L975.1,323.5L975.1,324.9L975.5,327.4L976.3,328.8L977.5,329.3L978.3,329.3L979.5,328.8L980.3,327.4L980.6,324.9L980.6,323.5L980.3,321.0L979.5,319.6L978.3,319.1L977.5,319.1M984.9,319.1L984.9,329.3M984.9,319.1L990.4,329.3M990.4,319.1L990.4,329.3M966.6,348.0L971.0,348.0L968.6,351.9L969.8,351.9L970.6,352.4L971.0,352.9L971.3,354.4L971.3,355.3L971.0,356.8L970.2,357.8L969.0,358.2L967.8,358.2L966.6,357.8L966.2,357.3L965.8,356.3M977.5,348.0L976.3,348.5L975.5,350.0L975.1,352.4L975.1,353.9L975.5,356.3L976.3,357.8L977.5,358.2L978.3,358.2L979.5,357.8L980.3,356.3L980.6,353.9L980.6,352.4L980.3,350.0L979.5,348.5L978.3,348.0L977.5,348.0M984.9,348.0L984.9,358.2M984.9,348.0L990.4,358.2M990.4,348.0L990.4,358.2M984.9,378.9L985.7,378.5L986.8,377.0L986.8,387.1M996.8,377.0L992.9,383.7L998.7,383.7M996.8,377.0L996.8,387.1M1004.2,377.0L1003.1,377.5L1002.3,378.9L1001.9,381.3L1001.9,382.8L1002.3,385.2L1003.1,386.6L1004.2,387.1L1005.0,387.1L1006.1,386.6L1006.9,385.2L1007.3,382.8L1007.3,381.3L1006.9,378.9L1006.1,377.5L1005.0,377.0L1004.2,377.0M1010.7,377.0L1012.6,387.1M1014.5,377.0L1012.6,387.1M1014.5,377.0L1016.4,387.1M1018.4,377.0L1016.4,387.1M1033.4,378.9L1034.2,378.5L1035.3,377.0L1035.3,387.1M1041.8,379.4L1041.8,378.9L1042.1,378.0L1042.5,377.5L1043.3,377.0L1044.8,377.0L1045.6,377.5L1046.0,378.0L1046.4,378.9L1046.4,379.9L1046.0,380.9L1045.2,382.3L1041.4,387.1L1046.7,387.1M1052.7,377.0L1051.6,377.5L1050.8,378.9L1050.4,381.3L1050.4,382.8L1050.8,385.2L1051.6,386.6L1052.7,387.1L1053.5,387.1L1054.6,386.6L1055.4,385.2L1055.8,382.8L1055.8,381.3L1055.4,378.9L1054.6,377.5L1053.5,377.0L1052.7,377.0M1059.2,377.0L1061.1,387.1M1063.0,377.0L1061.1,387.1M1063.0,377.0L1064.9,387.1M1066.8,377.0L1064.9,387.1M1081.9,378.9L1082.7,378.5L1083.8,377.0L1083.8,387.1M1092.2,377.0L1091.0,377.5L1090.2,378.9L1089.9,381.3L1089.9,382.8L1090.2,385.2L1091.0,386.6L1092.2,387.1L1092.9,387.1L1094.1,386.6L1094.8,385.2L1095.2,382.8L1095.2,381.3L1094.8,378.9L1094.1,377.5L1092.9,377.0L1092.2,377.0M1101.2,377.0L1100.0,377.5L1099.3,378.9L1098.9,381.3L1098.9,382.8L1099.3,385.2L1100.0,386.6L1101.2,387.1L1101.9,387.1L1103.1,386.6L1103.9,385.2L1104.2,382.8L1104.2,381.3L1103.9,378.9L1103.1,377.5L1101.9,377.0L1101.2,377.0M1107.7,377.0L1109.6,387.1M1111.5,377.0L1109.6,387.1M1111.5,377.0L1113.4,387.1M1115.3,377.0L1113.4,387.1M1136.4,377.0L1135.3,377.5L1134.9,378.5L1134.9,379.4L1135.3,380.4L1136.0,380.9L1137.6,381.3L1138.7,381.8L1139.5,382.8L1139.9,383.7L1139.9,385.2L1139.5,386.1L1139.1,386.6L1138.0,387.1L1136.4,387.1L1135.3,386.6L1134.9,386.1L1134.5,385.2L1134.5,383.7L1134.9,382.8L1135.7,381.8L1136.8,381.3L1138.3,380.9L1139.1,380.4L1139.5,379.4L1139.5,378.5L1139.1,377.5L1138.0,377.0L1136.4,377.0M1145.8,377.0L1144.7,377.5L1143.9,378.9L1143.5,381.3L1143.5,382.8L1143.9,385.2L1144.7,386.6L1145.8,387.1L1146.6,387.1L1147.7,386.6L1148.5,385.2L1148.9,382.8L1148.9,381.3L1148.5,378.9L1147.7,377.5L1146.6,377.0L1145.8,377.0M1152.3,377.0L1154.2,387.1M1156.1,377.0L1154.2,387.1M1156.1,377.0L1158.1,387.1M1160.0,377.0L1158.1,387.1M1187.8,378.5L1187.4,377.5L1186.2,377.0L1185.5,377.0L1184.3,377.5L1183.6,378.9L1183.2,381.3L1183.2,383.7L1183.6,385.7L1184.3,386.6L1185.5,387.1L1185.9,387.1L1187.0,386.6L1187.8,385.7L1188.2,384.2L1188.2,383.7L1187.8,382.3L1187.0,381.3L1185.9,380.9L1185.5,380.9L1184.3,381.3L1183.6,382.3L1183.2,383.7M1194.1,377.0L1192.9,377.5L1192.2,378.9L1191.8,381.3L1191.8,382.8L1192.2,385.2L1192.9,386.6L1194.1,387.1L1194.9,387.1L1196.0,386.6L1196.8,385.2L1197.2,382.8L1197.2,381.3L1196.8,378.9L1196.0,377.5L1194.9,377.0L1194.1,377.0M1200.6,377.0L1202.5,387.1M1204.4,377.0L1202.5,387.1M1204.4,377.0L1206.3,387.1M1208.2,377.0L1206.3,387.1M250.8,448.3L249.6,448.8L249.2,449.8L249.2,450.7L249.6,451.7L250.4,452.2L252.0,452.7L253.2,453.2L254.0,454.1L254.3,455.1L254.3,456.6L254.0,457.5L253.6,458.0L252.4,458.5L250.8,458.5L249.6,458.0L249.2,457.5L248.8,456.6L248.8,455.1L249.2,454.1L250.0,453.2L251.2,452.7L252.8,452.2L253.6,451.7L254.0,450.7L254.0,449.8L253.6,448.8L252.4,448.3L250.8,448.3M260.5,448.3L259.3,448.8L258.5,450.2L258.1,452.7L258.1,454.1L258.5,456.6L259.3,458.0L260.5,458.5L261.3,458.5L262.5,458.0L263.3,456.6L263.6,454.1L263.6,452.7L263.3,450.2L262.5,448.8L261.3,448.3L260.5,448.3M267.9,448.3L267.9,458.5M267.9,448.3L273.4,458.5M273.4,448.3L273.4,458.5M254.3,477.2L250.4,487.4M248.8,477.2L254.3,477.2M260.5,477.2L259.3,477.7L258.5,479.2L258.1,481.6L258.1,483.1L258.5,485.5L259.3,487.0L260.5,487.4L261.3,487.4L262.5,487.0L263.3,485.5L263.6,483.1L263.6,481.6L263.3,479.2L262.5,477.7L261.3,477.2L260.5,477.2M267.9,477.2L267.9,487.4M267.9,477.2L273.4,487.4M273.4,477.2L273.4,487.4M254.0,507.7L253.6,506.7L252.4,506.2L251.6,506.2L250.4,506.7L249.6,508.1L249.2,510.6L249.2,513.0L249.6,514.9L250.4,515.9L251.6,516.4L252.0,516.4L253.2,515.9L254.0,514.9L254.4,513.5L254.4,513.0L254.0,511.5L253.2,510.6L252.0,510.1L251.6,510.1L250.4,510.6L249.6,511.5L249.2,513.0M260.5,506.2L259.3,506.7L258.5,508.1L258.1,510.6L258.1,512.0L258.5,514.5L259.3,515.9L260.5,516.4L261.3,516.4L262.5,515.9L263.3,514.5L263.6,512.0L263.6,510.6L263.3,508.1L262.5,506.7L261.3,506.2L260.5,506.2M267.9,506.2L267.9,516.4M267.9,506.2L273.4,516.4M273.4,506.2L273.4,516.4M253.6,535.1L249.6,535.1L249.2,539.5L249.6,539.0L250.8,538.5L252.0,538.5L253.2,539.0L254.0,540.0L254.3,541.5L254.3,542.4L254.0,543.9L253.2,544.9L252.0,545.4L250.8,545.4L249.6,544.9L249.2,544.4L248.8,543.4M260.5,535.1L259.3,535.6L258.5,537.1L258.1,539.5L258.1,541.0L258.5,543.4L259.3,544.9L260.5,545.4L261.3,545.4L262.5,544.9L263.3,543.4L263.6,541.0L263.6,539.5L263.3,537.1L262.5,535.6L261.3,535.1L260.5,535.1M267.9,535.1L267.9,545.4M267.9,535.1L273.4,545.4M273.4,535.1L273.4,545.4M252.8,564.1L248.8,570.9L254.8,570.9M252.8,564.1L252.8,574.3M260.5,564.1L259.3,564.6L258.5,566.0L258.1,568.5L258.1,569.9L258.5,572.4L259.3,573.8L260.5,574.3L261.3,574.3L262.5,573.8L263.3,572.4L263.6,569.9L263.6,568.5L263.3,566.0L262.5,564.6L261.3,564.1L260.5,564.1M267.9,564.1L267.9,574.3M267.9,564.1L273.4,574.3M273.4,564.1L273.4,574.3M249.6,593.0L254.0,593.0L251.6,596.9L252.8,596.9L253.6,597.4L254.0,597.9L254.3,599.4L254.3,600.3L254.0,601.8L253.2,602.8L252.0,603.2L250.8,603.2L249.6,602.8L249.2,602.3L248.8,601.3M260.5,593.0L259.3,593.5L258.5,595.0L258.1,597.4L258.1,598.9L258.5,601.3L259.3,602.8L260.5,603.2L261.3,603.2L262.5,602.8L263.3,601.3L263.6,598.9L263.6,597.4L263.3,595.0L262.5,593.5L261.3,593.0L260.5,593.0M267.9,593.0L267.9,603.2M267.9,593.0L273.4,603.2M273.4,593.0L273.4,603.2M267.9,623.9L268.7,623.5L269.8,622.0L269.8,632.1M279.8,622.0L275.9,628.7L281.7,628.7M279.8,622.0L279.8,632.1M287.2,622.0L286.1,622.5L285.3,623.9L284.9,626.3L284.9,627.8L285.3,630.2L286.1,631.6L287.2,632.1L288.0,632.1L289.1,631.6L289.9,630.2L290.3,627.8L290.3,626.3L289.9,623.9L289.1,622.5L288.0,622.0L287.2,622.0M293.7,622.0L295.6,632.1M297.5,622.0L295.6,632.1M297.5,622.0L299.4,632.1M301.4,622.0L299.4,632.1M316.4,623.9L317.2,623.5L318.3,622.0L318.3,632.1M324.8,624.4L324.8,623.9L325.1,623.0L325.5,622.5L326.3,622.0L327.8,622.0L328.6,622.5L329.0,623.0L329.4,623.9L329.4,624.9L329.0,625.9L328.2,627.3L324.4,632.1L329.7,632.1M335.7,622.0L334.6,622.5L333.8,623.9L333.4,626.3L333.4,627.8L333.8,630.2L334.6,631.6L335.7,632.1L336.5,632.1L337.6,631.6L338.4,630.2L338.8,627.8L338.8,626.3L338.4,623.9L337.6,622.5L336.5,622.0L335.7,622.0M342.2,622.0L344.1,632.1M346.0,622.0L344.1,632.1M346.0,622.0L347.9,632.1M349.8,622.0L347.9,632.1M364.9,623.9L365.7,623.5L366.8,622.0L366.8,632.1M375.2,622.0L374.0,622.5L373.2,623.9L372.9,626.3L372.9,627.8L373.2,630.2L374.0,631.6L375.2,632.1L375.9,632.1L377.1,631.6L377.8,630.2L378.2,627.8L378.2,626.3L377.8,623.9L377.1,622.5L375.9,622.0L375.2,622.0M384.2,622.0L383.0,622.5L382.3,623.9L381.9,626.3L381.9,627.8L382.3,630.2L383.0,631.6L384.2,632.1L384.9,632.1L386.1,631.6L386.9,630.2L387.2,627.8L387.2,626.3L386.9,623.9L386.1,622.5L384.9,622.0L384.2,622.0M390.7,622.0L392.6,632.1M394.5,622.0L392.6,632.1M394.5,622.0L396.4,632.1M398.3,622.0L396.4,632.1M419.4,622.0L418.3,622.5L417.9,623.5L417.9,624.4L418.3,625.4L419.0,625.9L420.6,626.3L421.7,626.8L422.5,627.8L422.9,628.7L422.9,630.2L422.5,631.1L422.1,631.6L421.0,632.1L419.4,632.1L418.3,631.6L417.9,631.1L417.5,630.2L417.5,628.7L417.9,627.8L418.7,626.8L419.8,626.3L421.3,625.9L422.1,625.4L422.5,624.4L422.5,623.5L422.1,622.5L421.0,622.0L419.4,622.0M428.8,622.0L427.7,622.5L426.9,623.9L426.5,626.3L426.5,627.8L426.9,630.2L427.7,631.6L428.8,632.1L429.6,632.1L430.7,631.6L431.5,630.2L431.9,627.8L431.9,626.3L431.5,623.9L430.7,622.5L429.6,622.0L428.8,622.0M435.3,622.0L437.2,632.1M439.1,622.0L437.2,632.1M439.1,622.0L441.1,632.1M443.0,622.0L441.1,632.1M470.8,623.5L470.4,622.5L469.2,622.0L468.5,622.0L467.3,622.5L466.6,623.9L466.2,626.3L466.2,628.7L466.6,630.7L467.3,631.6L468.5,632.1L468.9,632.1L470.0,631.6L470.8,630.7L471.2,629.2L471.2,628.7L470.8,627.3L470.0,626.3L468.9,625.9L468.5,625.9L467.3,626.3L466.6,627.3L466.2,628.7M477.1,622.0L475.9,622.5L475.2,623.9L474.8,626.3L474.8,627.8L475.2,630.2L475.9,631.6L477.1,632.1L477.9,632.1L479.0,631.6L479.8,630.2L480.2,627.8L480.2,626.3L479.8,623.9L479.0,622.5L477.9,622.0L477.1,622.0M483.6,622.0L485.5,632.1M487.4,622.0L485.5,632.1M487.4,622.0L489.3,632.1M491.2,622.0L489.3,632.1M967.8,448.3L966.6,448.8L966.2,449.8L966.2,450.7L966.6,451.7L967.4,452.2L969.0,452.7L970.2,453.2L971.0,454.1L971.3,455.1L971.3,456.6L971.0,457.5L970.6,458.0L969.4,458.5L967.8,458.5L966.6,458.0L966.2,457.5L965.8,456.6L965.8,455.1L966.2,454.1L967.0,453.2L968.2,452.7L969.8,452.2L970.6,451.7L971.0,450.7L971.0,449.8L970.6,448.8L969.4,448.3L967.8,448.3M977.5,448.3L976.3,448.8L975.5,450.2L975.1,452.7L975.1,454.1L975.5,456.6L976.3,458.0L977.5,458.5L978.3,458.5L979.5,458.0L980.3,456.6L980.6,454.1L980.6,452.7L980.3,450.2L979.5,448.8L978.3,448.3L977.5,448.3M984.9,448.3L984.9,458.5M984.9,448.3L990.4,458.5M990.4,448.3L990.4,458.5M971.3,477.2L967.4,487.4M965.8,477.2L971.3,477.2M977.5,477.2L976.3,477.7L975.5,479.2L975.1,481.6L975.1,483.1L975.5,485.5L976.3,487.0L977.5,487.4L978.3,487.4L979.5,487.0L980.3,485.5L980.6,483.1L980.6,481.6L980.3,479.2L979.5,477.7L978.3,477.2L977.5,477.2M984.9,477.2L984.9,487.4M984.9,477.2L990.4,487.4M990.4,477.2L990.4,487.4M971.0,507.7L970.6,506.7L969.4,506.2L968.6,506.2L967.4,506.7L966.6,508.1L966.2,510.6L966.2,513.0L966.6,514.9L967.4,515.9L968.6,516.4L969.0,516.4L970.2,515.9L971.0,514.9L971.4,513.5L971.4,513.0L971.0,511.5L970.2,510.6L969.0,510.1L968.6,510.1L967.4,510.6L966.6,511.5L966.2,513.0M977.5,506.2L976.3,506.7L975.5,508.1L975.1,510.6L975.1,512.0L975.5,514.5L976.3,515.9L977.5,516.4L978.3,516.4L979.5,515.9L980.3,514.5L980.6,512.0L980.6,510.6L980.3,508.1L979.5,506.7L978.3,506.2L977.5,506.2M984.9,506.2L984.9,516.4M984.9,506.2L990.4,516.4M990.4,506.2L990.4,516.4M970.6,535.1L966.6,535.1L966.2,539.5L966.6,539.0L967.8,538.5L969.0,538.5L970.2,539.0L971.0,540.0L971.3,541.5L971.3,542.4L971.0,543.9L970.2,544.9L969.0,545.4L967.8,545.4L966.6,544.9L966.2,544.4L965.8,543.4M977.5,535.1L976.3,535.6L975.5,537.1L975.1,539.5L975.1,541.0L975.5,543.4L976.3,544.9L977.5,545.4L978.3,545.4L979.5,544.9L980.3,543.4L980.6,541.0L980.6,539.5L980.3,537.1L979.5,535.6L978.3,535.1L977.5,535.1M984.9,535.1L984.9,545.4M984.9,535.1L990.4,545.4M990.4,535.1L990.4,545.4M969.8,564.1L965.8,570.9L971.8,570.9M969.8,564.1L969.8,574.3M977.5,564.1L976.3,564.6L975.5,566.0L975.1,568.5L975.1,569.9L975.5,572.4L976.3,573.8L977.5,574.3L978.3,574.3L979.5,573.8L980.3,572.4L980.6,569.9L980.6,568.5L980.3,566.0L979.5,564.6L978.3,564.1L977.5,564.1M984.9,564.1L984.9,574.3M984.9,564.1L990.4,574.3M990.4,564.1L990.4,574.3M966.6,593.0L971.0,593.0L968.6,596.9L969.8,596.9L970.6,597.4L971.0,597.9L971.3,599.4L971.3,600.3L971.0,601.8L970.2,602.8L969.0,603.2L967.8,603.2L966.6,602.8L966.2,602.3L965.8,601.3M977.5,593.0L976.3,593.5L975.5,595.0L975.1,597.4L975.1,598.9L975.5,601.3L976.3,602.8L977.5,603.2L978.3,603.2L979.5,602.8L980.3,601.3L980.6,598.9L980.6,597.4L980.3,595.0L979.5,593.5L978.3,593.0L977.5,593.0M984.9,593.0L984.9,603.2M984.9,593.0L990.4,603.2M990.4,593.0L990.4,603.2M984.9,623.9L985.7,623.5L986.8,622.0L986.8,632.1M996.8,622.0L992.9,628.7L998.7,628.7M996.8,622.0L996.8,632.1M1004.2,622.0L1003.1,622.5L1002.3,623.9L1001.9,626.3L1001.9,627.8L1002.3,630.2L1003.1,631.6L1004.2,632.1L1005.0,632.1L1006.1,631.6L1006.9,630.2L1007.3,627.8L1007.3,626.3L1006.9,623.9L1006.1,622.5L1005.0,622.0L1004.2,622.0M1010.7,622.0L1012.6,632.1M1014.5,622.0L1012.6,632.1M1014.5,622.0L1016.4,632.1M1018.4,622.0L1016.4,632.1M1033.4,623.9L1034.2,623.5L1035.3,622.0L1035.3,632.1M1041.8,624.4L1041.8,623.9L1042.1,623.0L1042.5,622.5L1043.3,622.0L1044.8,622.0L1045.6,622.5L1046.0,623.0L1046.4,623.9L1046.4,624.9L1046.0,625.9L1045.2,627.3L1041.4,632.1L1046.7,632.1M1052.7,622.0L1051.6,622.5L1050.8,623.9L1050.4,626.3L1050.4,627.8L1050.8,630.2L1051.6,631.6L1052.7,632.1L1053.5,632.1L1054.6,631.6L1055.4,630.2L1055.8,627.8L1055.8,626.3L1055.4,623.9L1054.6,622.5L1053.5,622.0L1052.7,622.0M1059.2,622.0L1061.1,632.1M1063.0,622.0L1061.1,632.1M1063.0,622.0L1064.9,632.1M1066.8,622.0L1064.9,632.1M1081.9,623.9L1082.7,623.5L1083.8,622.0L1083.8,632.1M1092.2,622.0L1091.0,622.5L1090.2,623.9L1089.9,626.3L1089.9,627.8L1090.2,630.2L1091.0,631.6L1092.2,632.1L1092.9,632.1L1094.1,631.6L1094.8,630.2L1095.2,627.8L1095.2,626.3L1094.8,623.9L1094.1,622.5L1092.9,622.0L1092.2,622.0M1101.2,622.0L1100.0,622.5L1099.3,623.9L1098.9,626.3L1098.9,627.8L1099.3,630.2L1100.0,631.6L1101.2,632.1L1101.9,632.1L1103.1,631.6L1103.9,630.2L1104.2,627.8L1104.2,626.3L1103.9,623.9L1103.1,622.5L1101.9,622.0L1101.2,622.0M1107.7,622.0L1109.6,632.1M1111.5,622.0L1109.6,632.1M1111.5,622.0L1113.4,632.1M1115.3,622.0L1113.4,632.1M1136.4,622.0L1135.3,622.5L1134.9,623.5L1134.9,624.4L1135.3,625.4L1136.0,625.9L1137.6,626.3L1138.7,626.8L1139.5,627.8L1139.9,628.7L1139.9,630.2L1139.5,631.1L1139.1,631.6L1138.0,632.1L1136.4,632.1L1135.3,631.6L1134.9,631.1L1134.5,630.2L1134.5,628.7L1134.9,627.8L1135.7,626.8L1136.8,626.3L1138.3,625.9L1139.1,625.4L1139.5,624.4L1139.5,623.5L1139.1,622.5L1138.0,622.0L1136.4,622.0M1145.8,622.0L1144.7,622.5L1143.9,623.9L1143.5,626.3L1143.5,627.8L1143.9,630.2L1144.7,631.6L1145.8,632.1L1146.6,632.1L1147.7,631.6L1148.5,630.2L1148.9,627.8L1148.9,626.3L1148.5,623.9L1147.7,622.5L1146.6,622.0L1145.8,622.0M1152.3,622.0L1154.2,632.1M1156.1,622.0L1154.2,632.1M1156.1,622.0L1158.1,632.1M1160.0,622.0L1158.1,632.1M1187.8,623.5L1187.4,622.5L1186.2,622.0L1185.5,622.0L1184.3,622.5L1183.6,623.9L1183.2,626.3L1183.2,628.7L1183.6,630.7L1184.3,631.6L1185.5,632.1L1185.9,632.1L1187.0,631.6L1187.8,630.7L1188.2,629.2L1188.2,628.7L1187.8,627.3L1187.0,626.3L1185.9,625.9L1185.5,625.9L1184.3,626.3L1183.6,627.3L1183.2,628.7M1194.1,622.0L1192.9,622.5L1192.2,623.9L1191.8,626.3L1191.8,627.8L1192.2,630.2L1192.9,631.6L1194.1,632.1L1194.9,632.1L1196.0,631.6L1196.8,630.2L1197.2,627.8L1197.2,626.3L1196.8,623.9L1196.0,622.5L1194.9,622.0L1194.1,622.0M1200.6,622.0L1202.5,632.1M1204.4,622.0L1202.5,632.1M1204.4,622.0L1206.3,632.1M1208.2,622.0L1206.3,632.1M250.8,693.3L249.6,693.8L249.2,694.8L249.2,695.7L249.6,696.7L250.4,697.2L252.0,697.7L253.2,698.2L254.0,699.1L254.3,700.1L254.3,701.6L254.0,702.5L253.6,703.0L252.4,703.5L250.8,703.5L249.6,703.0L249.2,702.5L248.8,701.6L248.8,700.1L249.2,699.1L250.0,698.2L251.2,697.7L252.8,697.2L253.6,696.7L254.0,695.7L254.0,694.8L253.6,693.8L252.4,693.3L250.8,693.3M260.5,693.3L259.3,693.8L258.5,695.2L258.1,697.7L258.1,699.1L258.5,701.6L259.3,703.0L260.5,703.5L261.3,703.5L262.5,703.0L263.3,701.6L263.6,699.1L263.6,697.7L263.3,695.2L262.5,693.8L261.3,693.3L260.5,693.3M267.9,693.3L267.9,703.5M267.9,693.3L273.4,703.5M273.4,693.3L273.4,703.5M254.3,722.2L250.4,732.5M248.8,722.2L254.3,722.2M260.5,722.2L259.3,722.7L258.5,724.2L258.1,726.6L258.1,728.1L258.5,730.5L259.3,732.0L260.5,732.5L261.3,732.5L262.5,732.0L263.3,730.5L263.6,728.1L263.6,726.6L263.3,724.2L262.5,722.7L261.3,722.2L260.5,722.2M267.9,722.2L267.9,732.5M267.9,722.2L273.4,732.5M273.4,722.2L273.4,732.5M254.0,752.7L253.6,751.7L252.4,751.2L251.6,751.2L250.4,751.7L249.6,753.1L249.2,755.6L249.2,758.0L249.6,759.9L250.4,760.9L251.6,761.4L252.0,761.4L253.2,760.9L254.0,759.9L254.4,758.5L254.4,758.0L254.0,756.5L253.2,755.6L252.0,755.1L251.6,755.1L250.4,755.6L249.6,756.5L249.2,758.0M260.5,751.2L259.3,751.7L258.5,753.1L258.1,755.6L258.1,757.0L258.5,759.5L259.3,760.9L260.5,761.4L261.3,761.4L262.5,760.9L263.3,759.5L263.6,757.0L263.6,755.6L263.3,753.1L262.5,751.7L261.3,751.2L260.5,751.2M267.9,751.2L267.9,761.4M267.9,751.2L273.4,761.4M273.4,751.2L273.4,761.4M253.6,780.1L249.6,780.1L249.2,784.5L249.6,784.0L250.8,783.5L252.0,783.5L253.2,784.0L254.0,785.0L254.3,786.5L254.3,787.4L254.0,788.9L253.2,789.9L252.0,790.4L250.8,790.4L249.6,789.9L249.2,789.4L248.8,788.4M260.5,780.1L259.3,780.6L258.5,782.1L258.1,784.5L258.1,786.0L258.5,788.4L259.3,789.9L260.5,790.4L261.3,790.4L262.5,789.9L263.3,788.4L263.6,786.0L263.6,784.5L263.3,782.1L262.5,780.6L261.3,780.1L260.5,780.1M267.9,780.1L267.9,790.4M267.9,780.1L273.4,790.4M273.4,780.1L273.4,790.4M252.8,809.1L248.8,815.9L254.8,815.9M252.8,809.1L252.8,819.3M260.5,809.1L259.3,809.6L258.5,811.0L258.1,813.5L258.1,814.9L258.5,817.4L259.3,818.8L260.5,819.3L261.3,819.3L262.5,818.8L263.3,817.4L263.6,814.9L263.6,813.5L263.3,811.0L262.5,809.6L261.3,809.1L260.5,809.1M267.9,809.1L267.9,819.3M267.9,809.1L273.4,819.3M273.4,809.1L273.4,819.3M249.6,838.0L254.0,838.0L251.6,841.9L252.8,841.9L253.6,842.4L254.0,842.9L254.3,844.4L254.3,845.3L254.0,846.8L253.2,847.8L252.0,848.2L250.8,848.2L249.6,847.8L249.2,847.3L248.8,846.3M260.5,838.0L259.3,838.5L258.5,840.0L258.1,842.4L258.1,843.9L258.5,846.3L259.3,847.8L260.5,848.2L261.3,848.2L262.5,847.8L263.3,846.3L263.6,843.9L263.6,842.4L263.3,840.0L262.5,838.5L261.3,838.0L260.5,838.0M267.9,838.0L267.9,848.2M267.9,838.0L273.4,848.2M273.4,838.0L273.4,848.2M267.9,868.9L268.7,868.5L269.8,867.0L269.8,877.1M279.8,867.0L275.9,873.7L281.7,873.7M279.8,867.0L279.8,877.1M287.2,867.0L286.1,867.5L285.3,868.9L284.9,871.3L284.9,872.8L285.3,875.2L286.1,876.6L287.2,877.1L288.0,877.1L289.1,876.6L289.9,875.2L290.3,872.8L290.3,871.3L289.9,868.9L289.1,867.5L288.0,867.0L287.2,867.0M293.7,867.0L295.6,877.1M297.5,867.0L295.6,877.1M297.5,867.0L299.4,877.1M301.4,867.0L299.4,877.1M316.4,868.9L317.2,868.5L318.3,867.0L318.3,877.1M324.8,869.4L324.8,868.9L325.1,868.0L325.5,867.5L326.3,867.0L327.8,867.0L328.6,867.5L329.0,868.0L329.4,868.9L329.4,869.9L329.0,870.9L328.2,872.3L324.4,877.1L329.7,877.1M335.7,867.0L334.6,867.5L333.8,868.9L333.4,871.3L333.4,872.8L333.8,875.2L334.6,876.6L335.7,877.1L336.5,877.1L337.6,876.6L338.4,875.2L338.8,872.8L338.8,871.3L338.4,868.9L337.6,867.5L336.5,867.0L335.7,867.0M342.2,867.0L344.1,877.1M346.0,867.0L344.1,877.1M346.0,867.0L347.9,877.1M349.8,867.0L347.9,877.1M364.9,868.9L365.7,868.5L366.8,867.0L366.8,877.1M375.2,867.0L374.0,867.5L373.2,868.9L372.9,871.3L372.9,872.8L373.2,875.2L374.0,876.6L375.2,877.1L375.9,877.1L377.1,876.6L377.8,875.2L378.2,872.8L378.2,871.3L377.8,868.9L377.1,867.5L375.9,867.0L375.2,867.0M384.2,867.0L383.0,867.5L382.3,868.9L381.9,871.3L381.9,872.8L382.3,875.2L383.0,876.6L384.2,877.1L384.9,877.1L386.1,876.6L386.9,875.2L387.2,872.8L387.2,871.3L386.9,868.9L386.1,867.5L384.9,867.0L384.2,867.0M390.7,867.0L392.6,877.1M394.5,867.0L392.6,877.1M394.5,867.0L396.4,877.1M398.3,867.0L396.4,877.1M419.4,867.0L418.3,867.5L417.9,868.5L417.9,869.4L418.3,870.4L419.0,870.9L420.6,871.3L421.7,871.8L422.5,872.8L422.9,873.7L422.9,875.2L422.5,876.1L422.1,876.6L421.0,877.1L419.4,877.1L418.3,876.6L417.9,876.1L417.5,875.2L417.5,873.7L417.9,872.8L418.7,871.8L419.8,871.3L421.3,870.9L422.1,870.4L422.5,869.4L422.5,868.5L422.1,867.5L421.0,867.0L419.4,867.0M428.8,867.0L427.7,867.5L426.9,868.9L426.5,871.3L426.5,872.8L426.9,875.2L427.7,876.6L428.8,877.1L429.6,877.1L430.7,876.6L431.5,875.2L431.9,872.8L431.9,871.3L431.5,868.9L430.7,867.5L429.6,867.0L428.8,867.0M435.3,867.0L437.2,877.1M439.1,867.0L437.2,877.1M439.1,867.0L441.1,877.1M443.0,867.0L441.1,877.1M470.8,868.5L470.4,867.5L469.2,867.0L468.5,867.0L467.3,867.5L466.6,868.9L466.2,871.3L466.2,873.7L466.6,875.7L467.3,876.6L468.5,877.1L468.9,877.1L470.0,876.6L470.8,875.7L471.2,874.2L471.2,873.7L470.8,872.3L470.0,871.3L468.9,870.9L468.5,870.9L467.3,871.3L466.6,872.3L466.2,873.7M477.1,867.0L475.9,867.5L475.2,868.9L474.8,871.3L474.8,872.8L475.2,875.2L475.9,876.6L477.1,877.1L477.9,877.1L479.0,876.6L479.8,875.2L480.2,872.8L480.2,871.3L479.8,868.9L479.0,867.5L477.9,867.0L477.1,867.0M483.6,867.0L485.5,877.1M487.4,867.0L485.5,877.1M487.4,867.0L489.3,877.1M491.2,867.0L489.3,877.1M967.8,693.3L966.6,693.8L966.2,694.8L966.2,695.7L966.6,696.7L967.4,697.2L969.0,697.7L970.2,698.2L971.0,699.1L971.3,700.1L971.3,701.6L971.0,702.5L970.6,703.0L969.4,703.5L967.8,703.5L966.6,703.0L966.2,702.5L965.8,701.6L965.8,700.1L966.2,699.1L967.0,698.2L968.2,697.7L969.8,697.2L970.6,696.7L971.0,695.7L971.0,694.8L970.6,693.8L969.4,693.3L967.8,693.3M977.5,693.3L976.3,693.8L975.5,695.2L975.1,697.7L975.1,699.1L975.5,701.6L976.3,703.0L977.5,703.5L978.3,703.5L979.5,703.0L980.3,701.6L980.6,699.1L980.6,697.7L980.3,695.2L979.5,693.8L978.3,693.3L977.5,693.3M984.9,693.3L984.9,703.5M984.9,693.3L990.4,703.5M990.4,693.3L990.4,703.5M971.3,722.2L967.4,732.5M965.8,722.2L971.3,722.2M977.5,722.2L976.3,722.7L975.5,724.2L975.1,726.6L975.1,728.1L975.5,730.5L976.3,732.0L977.5,732.5L978.3,732.5L979.5,732.0L980.3,730.5L980.6,728.1L980.6,726.6L980.3,724.2L979.5,722.7L978.3,722.2L977.5,722.2M984.9,722.2L984.9,732.5M984.9,722.2L990.4,732.5M990.4,722.2L990.4,732.5M971.0,752.7L970.6,751.7L969.4,751.2L968.6,751.2L967.4,751.7L966.6,753.1L966.2,755.6L966.2,758.0L966.6,759.9L967.4,760.9L968.6,761.4L969.0,761.4L970.2,760.9L971.0,759.9L971.4,758.5L971.4,758.0L971.0,756.5L970.2,755.6L969.0,755.1L968.6,755.1L967.4,755.6L966.6,756.5L966.2,758.0M977.5,751.2L976.3,751.7L975.5,753.1L975.1,755.6L975.1,757.0L975.5,759.5L976.3,760.9L977.5,761.4L978.3,761.4L979.5,760.9L980.3,759.5L980.6,757.0L980.6,755.6L980.3,753.1L979.5,751.7L978.3,751.2L977.5,751.2M984.9,751.2L984.9,761.4M984.9,751.2L990.4,761.4M990.4,751.2L990.4,761.4M970.6,780.1L966.6,780.1L966.2,784.5L966.6,784.0L967.8,783.5L969.0,783.5L970.2,784.0L971.0,785.0L971.3,786.5L971.3,787.4L971.0,788.9L970.2,789.9L969.0,790.4L967.8,790.4L966.6,789.9L966.2,789.4L965.8,788.4M977.5,780.1L976.3,780.6L975.5,782.1L975.1,784.5L975.1,786.0L975.5,788.4L976.3,789.9L977.5,790.4L978.3,790.4L979.5,789.9L980.3,788.4L980.6,786.0L980.6,784.5L980.3,782.1L979.5,780.6L978.3,780.1L977.5,780.1M984.9,780.1L984.9,790.4M984.9,780.1L990.4,790.4M990.4,780.1L990.4,790.4M969.8,809.1L965.8,815.9L971.8,815.9M969.8,809.1L969.8,819.3M977.5,809.1L976.3,809.6L975.5,811.0L975.1,813.5L975.1,814.9L975.5,817.4L976.3,818.8L977.5,819.3L978.3,819.3L979.5,818.8L980.3,817.4L980.6,814.9L980.6,813.5L980.3,811.0L979.5,809.6L978.3,809.1L977.5,809.1M984.9,809.1L984.9,819.3M984.9,809.1L990.4,819.3M990.4,809.1L990.4,819.3M966.6,838.0L971.0,838.0L968.6,841.9L969.8,841.9L970.6,842.4L971.0,842.9L971.3,844.4L971.3,845.3L971.0,846.8L970.2,847.8L969.0,848.2L967.8,848.2L966.6,847.8L966.2,847.3L965.8,846.3M977.5,838.0L976.3,838.5L975.5,840.0L975.1,842.4L975.1,843.9L975.5,846.3L976.3,847.8L977.5,848.2L978.3,848.2L979.5,847.8L980.3,846.3L980.6,843.9L980.6,842.4L980.3,840.0L979.5,838.5L978.3,838.0L977.5,838.0M984.9,838.0L984.9,848.2M984.9,838.0L990.4,848.2M990.4,838.0L990.4,848.2M984.9,868.9L985.7,868.5L986.8,867.0L986.8,877.1M996.8,867.0L992.9,873.7L998.7,873.7M996.8,867.0L996.8,877.1M1004.2,867.0L1003.1,867.5L1002.3,868.9L1001.9,871.3L1001.9,872.8L1002.3,875.2L1003.1,876.6L1004.2,877.1L1005.0,877.1L1006.1,876.6L1006.9,875.2L1007.3,872.8L1007.3,871.3L1006.9,868.9L1006.1,867.5L1005.0,867.0L1004.2,867.0M1010.7,867.0L1012.6,877.1M1014.5,867.0L1012.6,877.1M1014.5,867.0L1016.4,877.1M1018.4,867.0L1016.4,877.1M1033.4,868.9L1034.2,868.5L1035.3,867.0L1035.3,877.1M1041.8,869.4L1041.8,868.9L1042.1,868.0L1042.5,867.5L1043.3,867.0L1044.8,867.0L1045.6,867.5L1046.0,868.0L1046.4,868.9L1046.4,869.9L1046.0,870.9L1045.2,872.3L1041.4,877.1L1046.7,877.1M1052.7,867.0L1051.6,867.5L1050.8,868.9L1050.4,871.3L1050.4,872.8L1050.8,875.2L1051.6,876.6L1052.7,877.1L1053.5,877.1L1054.6,876.6L1055.4,875.2L1055.8,872.8L1055.8,871.3L1055.4,868.9L1054.6,867.5L1053.5,867.0L1052.7,867.0M1059.2,867.0L1061.1,877.1M1063.0,867.0L1061.1,877.1M1063.0,867.0L1064.9,877.1M1066.8,867.0L1064.9,877.1M1081.9,868.9L1082.7,868.5L1083.8,867.0L1083.8,877.1M1092.2,867.0L1091.0,867.5L1090.2,868.9L1089.9,871.3L1089.9,872.8L1090.2,875.2L1091.0,876.6L1092.2,877.1L1092.9,877.1L1094.1,876.6L1094.8,875.2L1095.2,872.8L1095.2,871.3L1094.8,868.9L1094.1,867.5L1092.9,867.0L1092.2,867.0M1101.2,867.0L1100.0,867.5L1099.3,868.9L1098.9,871.3L1098.9,872.8L1099.3,875.2L1100.0,876.6L1101.2,877.1L1101.9,877.1L1103.1,876.6L1103.9,875.2L1104.2,872.8L1104.2,871.3L1103.9,868.9L1103.1,867.5L1101.9,867.0L1101.2,867.0M1107.7,867.0L1109.6,877.1M1111.5,867.0L1109.6,877.1M1111.5,867.0L1113.4,877.1M1115.3,867.0L1113.4,877.1M1136.4,867.0L1135.3,867.5L1134.9,868.5L1134.9,869.4L1135.3,870.4L1136.0,870.9L1137.6,871.3L1138.7,871.8L1139.5,872.8L1139.9,873.7L1139.9,875.2L1139.5,876.1L1139.1,876.6L1138.0,877.1L1136.4,877.1L1135.3,876.6L1134.9,876.1L1134.5,875.2L1134.5,873.7L1134.9,872.8L1135.7,871.8L1136.8,871.3L1138.3,870.9L1139.1,870.4L1139.5,869.4L1139.5,868.5L1139.1,867.5L1138.0,867.0L1136.4,867.0M1145.8,867.0L1144.7,867.5L1143.9,868.9L1143.5,871.3L1143.5,872.8L1143.9,875.2L1144.7,876.6L1145.8,877.1L1146.6,877.1L1147.7,876.6L1148.5,875.2L1148.9,872.8L1148.9,871.3L1148.5,868.9L1147.7,867.5L1146.6,867.0L1145.8,867.0M1152.3,867.0L1154.2,877.1M1156.1,867.0L1154.2,877.1M1156.1,867.0L1158.1,877.1M1160.0,867.0L1158.1,877.1M1187.8,868.5L1187.4,867.5L1186.2,867.0L1185.5,867.0L1184.3,867.5L1183.6,868.9L1183.2,871.3L1183.2,873.7L1183.6,875.7L1184.3,876.6L1185.5,877.1L1185.9,877.1L1187.0,876.6L1187.8,875.7L1188.2,874.2L1188.2,873.7L1187.8,872.3L1187.0,871.3L1185.9,870.9L1185.5,870.9L1184.3,871.3L1183.6,872.3L1183.2,873.7M1194.1,867.0L1192.9,867.5L1192.2,868.9L1191.8,871.3L1191.8,872.8L1192.2,875.2L1192.9,876.6L1194.1,877.1L1194.9,877.1L1196.0,876.6L1196.8,875.2L1197.2,872.8L1197.2,871.3L1196.8,868.9L1196.0,867.5L1194.9,867.0L1194.1,867.0M1200.6,867.0L1202.5,877.1M1204.4,867.0L1202.5,877.1M1204.4,867.0L1206.3,877.1M1208.2,867.0L1206.3,877.1M250.8,938.3L249.6,938.8L249.2,939.8L249.2,940.7L249.6,941.7L250.4,942.2L252.0,942.7L253.2,943.2L254.0,944.1L254.3,945.1L254.3,946.6L254.0,947.5L253.6,948.0L252.4,948.5L250.8,948.5L249.6,948.0L249.2,947.5L248.8,946.6L248.8,945.1L249.2,944.1L250.0,943.2L251.2,942.7L252.8,942.2L253.6,941.7L254.0,940.7L254.0,939.8L253.6,938.8L252.4,938.3L250.8,938.3M260.5,938.3L259.3,938.8L258.5,940.2L258.1,942.7L258.1,944.1L258.5,946.6L259.3,948.0L260.5,948.5L261.3,948.5L262.5,948.0L263.3,946.6L263.6,944.1L263.6,942.7L263.3,940.2L262.5,938.8L261.3,938.3L260.5,938.3M267.9,938.3L267.9,948.5M267.9,938.3L273.4,948.5M273.4,938.3L273.4,948.5M254.3,967.2L250.4,977.5M248.8,967.2L254.3,967.2M260.5,967.2L259.3,967.7L258.5,969.2L258.1,971.6L258.1,973.1L258.5,975.5L259.3,977.0L260.5,977.5L261.3,977.5L262.5,977.0L263.3,975.5L263.6,973.1L263.6,971.6L263.3,969.2L262.5,967.7L261.3,967.2L260.5,967.2M267.9,967.2L267.9,977.5M267.9,967.2L273.4,977.5M273.4,967.2L273.4,977.5M254.0,997.7L253.6,996.7L252.4,996.2L251.6,996.2L250.4,996.7L249.6,998.1L249.2,1000.6L249.2,1003.0L249.6,1004.9L250.4,1005.9L251.6,1006.4L252.0,1006.4L253.2,1005.9L254.0,1004.9L254.4,1003.5L254.4,1003.0L254.0,1001.5L253.2,1000.6L252.0,1000.1L251.6,1000.1L250.4,1000.6L249.6,1001.5L249.2,1003.0M260.5,996.2L259.3,996.7L258.5,998.1L258.1,1000.6L258.1,1002.0L258.5,1004.5L259.3,1005.9L260.5,1006.4L261.3,1006.4L262.5,1005.9L263.3,1004.5L263.6,1002.0L263.6,1000.6L263.3,998.1L262.5,996.7L261.3,996.2L260.5,996.2M267.9,996.2L267.9,1006.4M267.9,996.2L273.4,1006.4M273.4,996.2L273.4,1006.4M253.6,1025.1L249.6,1025.1L249.2,1029.5L249.6,1029.0L250.8,1028.5L252.0,1028.5L253.2,1029.0L254.0,1030.0L254.3,1031.5L254.3,1032.4L254.0,1033.9L253.2,1034.9L252.0,1035.3L250.8,1035.3L249.6,1034.9L249.2,1034.4L248.8,1033.4M260.5,1025.1L259.3,1025.6L258.5,1027.1L258.1,1029.5L258.1,1031.0L258.5,1033.4L259.3,1034.9L260.5,1035.3L261.3,1035.3L262.5,1034.9L263.3,1033.4L263.6,1031.0L263.6,1029.5L263.3,1027.1L262.5,1025.6L261.3,1025.1L260.5,1025.1M267.9,1025.1L267.9,1035.3M267.9,1025.1L273.4,1035.3M273.4,1025.1L273.4,1035.3M252.8,1054.1L248.8,1060.9L254.8,1060.9M252.8,1054.1L252.8,1064.3M260.5,1054.1L259.3,1054.6L258.5,1056.0L258.1,1058.5L258.1,1059.9L258.5,1062.4L259.3,1063.8L260.5,1064.3L261.3,1064.3L262.5,1063.8L263.3,1062.4L263.6,1059.9L263.6,1058.5L263.3,1056.0L262.5,1054.6L261.3,1054.1L260.5,1054.1M267.9,1054.1L267.9,1064.3M267.9,1054.1L273.4,1064.3M273.4,1054.1L273.4,1064.3M249.6,1083.0L254.0,1083.0L251.6,1086.9L252.8,1086.9L253.6,1087.4L254.0,1087.9L254.3,1089.4L254.3,1090.3L254.0,1091.8L253.2,1092.8L252.0,1093.2L250.8,1093.2L249.6,1092.8L249.2,1092.3L248.8,1091.3M260.5,1083.0L259.3,1083.5L258.5,1085.0L258.1,1087.4L258.1,1088.9L258.5,1091.3L259.3,1092.8L260.5,1093.2L261.3,1093.2L262.5,1092.8L263.3,1091.3L263.6,1088.9L263.6,1087.4L263.3,1085.0L262.5,1083.5L261.3,1083.0L260.5,1083.0M267.9,1083.0L267.9,1093.2M267.9,1083.0L273.4,1093.2M273.4,1083.0L273.4,1093.2M267.9,1113.9L268.7,1113.5L269.8,1112.0L269.8,1122.1M279.8,1112.0L275.9,1118.7L281.7,1118.7M279.8,1112.0L279.8,1122.1M287.2,1112.0L286.1,1112.5L285.3,1113.9L284.9,1116.3L284.9,1117.8L285.3,1120.2L286.1,1121.6L287.2,1122.1L288.0,1122.1L289.1,1121.6L289.9,1120.2L290.3,1117.8L290.3,1116.3L289.9,1113.9L289.1,1112.5L288.0,1112.0L287.2,1112.0M293.7,1112.0L295.6,1122.1M297.5,1112.0L295.6,1122.1M297.5,1112.0L299.4,1122.1M301.4,1112.0L299.4,1122.1M316.4,1113.9L317.2,1113.5L318.3,1112.0L318.3,1122.1M324.8,1114.4L324.8,1113.9L325.1,1113.0L325.5,1112.5L326.3,1112.0L327.8,1112.0L328.6,1112.5L329.0,1113.0L329.4,1113.9L329.4,1114.9L329.0,1115.9L328.2,1117.3L324.4,1122.1L329.7,1122.1M335.7,1112.0L334.6,1112.5L333.8,1113.9L333.4,1116.3L333.4,1117.8L333.8,1120.2L334.6,1121.6L335.7,1122.1L336.5,1122.1L337.6,1121.6L338.4,1120.2L338.8,1117.8L338.8,1116.3L338.4,1113.9L337.6,1112.5L336.5,1112.0L335.7,1112.0M342.2,1112.0L344.1,1122.1M346.0,1112.0L344.1,1122.1M346.0,1112.0L347.9,1122.1M349.8,1112.0L347.9,1122.1M364.9,1113.9L365.7,1113.5L366.8,1112.0L366.8,1122.1M375.2,1112.0L374.0,1112.5L373.2,1113.9L372.9,1116.3L372.9,1117.8L373.2,1120.2L374.0,1121.6L375.2,1122.1L375.9,1122.1L377.1,1121.6L377.8,1120.2L378.2,1117.8L378.2,1116.3L377.8,1113.9L377.1,1112.5L375.9,1112.0L375.2,1112.0M384.2,1112.0L383.0,1112.5L382.3,1113.9L381.9,1116.3L381.9,1117.8L382.3,1120.2L383.0,1121.6L384.2,1122.1L384.9,1122.1L386.1,1121.6L386.9,1120.2L387.2,1117.8L387.2,1116.3L386.9,1113.9L386.1,1112.5L384.9,1112.0L384.2,1112.0M390.7,1112.0L392.6,1122.1M394.5,1112.0L392.6,1122.1M394.5,1112.0L396.4,1122.1M398.3,1112.0L396.4,1122.1M419.4,1112.0L418.3,1112.5L417.9,1113.5L417.9,1114.4L418.3,1115.4L419.0,1115.9L420.6,1116.3L421.7,1116.8L422.5,1117.8L422.9,1118.7L422.9,1120.2L422.5,1121.1L422.1,1121.6L421.0,1122.1L419.4,1122.1L418.3,1121.6L417.9,1121.1L417.5,1120.2L417.5,1118.7L417.9,1117.8L418.7,1116.8L419.8,1116.3L421.3,1115.9L422.1,1115.4L422.5,1114.4L422.5,1113.5L422.1,1112.5L421.0,1112.0L419.4,1112.0M428.8,1112.0L427.7,1112.5L426.9,1113.9L426.5,1116.3L426.5,1117.8L426.9,1120.2L427.7,1121.6L428.8,1122.1L429.6,1122.1L430.7,1121.6L431.5,1120.2L431.9,1117.8L431.9,1116.3L431.5,1113.9L430.7,1112.5L429.6,1112.0L428.8,1112.0M435.3,1112.0L437.2,1122.1M439.1,1112.0L437.2,1122.1M439.1,1112.0L441.1,1122.1M443.0,1112.0L441.1,1122.1M470.8,1113.5L470.4,1112.5L469.2,1112.0L468.5,1112.0L467.3,1112.5L466.6,1113.9L466.2,1116.3L466.2,1118.7L466.6,1120.7L467.3,1121.6L468.5,1122.1L468.9,1122.1L470.0,1121.6L470.8,1120.7L471.2,1119.2L471.2,1118.7L470.8,1117.3L470.0,1116.3L468.9,1115.9L468.5,1115.9L467.3,1116.3L466.6,1117.3L466.2,1118.7M477.1,1112.0L475.9,1112.5L475.2,1113.9L474.8,1116.3L474.8,1117.8L475.2,1120.2L475.9,1121.6L477.1,1122.1L477.9,1122.1L479.0,1121.6L479.8,1120.2L480.2,1117.8L480.2,1116.3L479.8,1113.9L479.0,1112.5L477.9,1112.0L477.1,1112.0M483.6,1112.0L485.5,1122.1M487.4,1112.0L485.5,1122.1M487.4,1112.0L489.3,1122.1M491.2,1112.0L489.3,1122.1M967.8,938.3L966.6,938.8L966.2,939.8L966.2,940.7L966.6,941.7L967.4,942.2L969.0,942.7L970.2,943.2L971.0,944.1L971.3,945.1L971.3,946.6L971.0,947.5L970.6,948.0L969.4,948.5L967.8,948.5L966.6,948.0L966.2,947.5L965.8,946.6L965.8,945.1L966.2,944.1L967.0,943.2L968.2,942.7L969.8,942.2L970.6,941.7L971.0,940.7L971.0,939.8L970.6,938.8L969.4,938.3L967.8,938.3M977.5,938.3L976.3,938.8L975.5,940.2L975.1,942.7L975.1,944.1L975.5,946.6L976.3,948.0L977.5,948.5L978.3,948.5L979.5,948.0L980.3,946.6L980.6,944.1L980.6,942.7L980.3,940.2L979.5,938.8L978.3,938.3L977.5,938.3M984.9,938.3L984.9,948.5M984.9,938.3L990.4,948.5M990.4,938.3L990.4,948.5M971.3,967.2L967.4,977.5M965.8,967.2L971.3,967.2M977.5,967.2L976.3,967.7L975.5,969.2L975.1,971.6L975.1,973.1L975.5,975.5L976.3,977.0L977.5,977.5L978.3,977.5L979.5,977.0L980.3,975.5L980.6,973.1L980.6,971.6L980.3,969.2L979.5,967.7L978.3,967.2L977.5,967.2M984.9,967.2L984.9,977.5M984.9,967.2L990.4,977.5M990.4,967.2L990.4,977.5M971.0,997.7L970.6,996.7L969.4,996.2L968.6,996.2L967.4,996.7L966.6,998.1L966.2,1000.6L966.2,1003.0L966.6,1004.9L967.4,1005.9L968.6,1006.4L969.0,1006.4L970.2,1005.9L971.0,1004.9L971.4,1003.5L971.4,1003.0L971.0,1001.5L970.2,1000.6L969.0,1000.1L968.6,1000.1L967.4,1000.6L966.6,1001.5L966.2,1003.0M977.5,996.2L976.3,996.7L975.5,998.1L975.1,1000.6L975.1,1002.0L975.5,1004.5L976.3,1005.9L977.5,1006.4L978.3,1006.4L979.5,1005.9L980.3,1004.5L980.6,1002.0L980.6,1000.6L980.3,998.1L979.5,996.7L978.3,996.2L977.5,996.2M984.9,996.2L984.9,1006.4M984.9,996.2L990.4,1006.4M990.4,996.2L990.4,1006.4M970.6,1025.1L966.6,1025.1L966.2,1029.5L966.6,1029.0L967.8,1028.5L969.0,1028.5L970.2,1029.0L971.0,1030.0L971.3,1031.5L971.3,1032.4L971.0,1033.9L970.2,1034.9L969.0,1035.3L967.8,1035.3L966.6,1034.9L966.2,1034.4L965.8,1033.4M977.5,1025.1L976.3,1025.6L975.5,1027.1L975.1,1029.5L975.1,1031.0L975.5,1033.4L976.3,1034.9L977.5,1035.3L978.3,1035.3L979.5,1034.9L980.3,1033.4L980.6,1031.0L980.6,1029.5L980.3,1027.1L979.5,1025.6L978.3,1025.1L977.5,1025.1M984.9,1025.1L984.9,1035.3M984.9,1025.1L990.4,1035.3M990.4,1025.1L990.4,1035.3M969.8,1054.1L965.8,1060.9L971.8,1060.9M969.8,1054.1L969.8,1064.3M977.5,1054.1L976.3,1054.6L975.5,1056.0L975.1,1058.5L975.1,1059.9L975.5,1062.4L976.3,1063.8L977.5,1064.3L978.3,1064.3L979.5,1063.8L980.3,1062.4L980.6,1059.9L980.6,1058.5L980.3,1056.0L979.5,1054.6L978.3,1054.1L977.5,1054.1M984.9,1054.1L984.9,1064.3M984.9,1054.1L990.4,1064.3M990.4,1054.1L990.4,1064.3M966.6,1083.0L971.0,1083.0L968.6,1086.9L969.8,1086.9L970.6,1087.4L971.0,1087.9L971.3,1089.4L971.3,1090.3L971.0,1091.8L970.2,1092.8L969.0,1093.2L967.8,1093.2L966.6,1092.8L966.2,1092.3L965.8,1091.3M977.5,1083.0L976.3,1083.5L975.5,1085.0L975.1,1087.4L975.1,1088.9L975.5,1091.3L976.3,1092.8L977.5,1093.2L978.3,1093.2L979.5,1092.8L980.3,1091.3L980.6,1088.9L980.6,1087.4L980.3,1085.0L979.5,1083.5L978.3,1083.0L977.5,1083.0M984.9,1083.0L984.9,1093.2M984.9,1083.0L990.4,1093.2M990.4,1083.0L990.4,1093.2M984.9,1113.9L985.7,1113.5L986.8,1112.0L986.8,1122.1M996.8,1112.0L992.9,1118.7L998.7,1118.7M996.8,1112.0L996.8,1122.1M1004.2,1112.0L1003.1,1112.5L1002.3,1113.9L1001.9,1116.3L1001.9,1117.8L1002.3,1120.2L1003.1,1121.6L1004.2,1122.1L1005.0,1122.1L1006.1,1121.6L1006.9,1120.2L1007.3,1117.8L1007.3,1116.3L1006.9,1113.9L1006.1,1112.5L1005.0,1112.0L1004.2,1112.0M1010.7,1112.0L1012.6,1122.1M1014.5,1112.0L1012.6,1122.1M1014.5,1112.0L1016.4,1122.1M1018.4,1112.0L1016.4,1122.1M1033.4,1113.9L1034.2,1113.5L1035.3,1112.0L1035.3,1122.1M1041.8,1114.4L1041.8,1113.9L1042.1,1113.0L1042.5,1112.5L1043.3,1112.0L1044.8,1112.0L1045.6,1112.5L1046.0,1113.0L1046.4,1113.9L1046.4,1114.9L1046.0,1115.9L1045.2,1117.3L1041.4,1122.1L1046.7,1122.1M1052.7,1112.0L1051.6,1112.5L1050.8,1113.9L1050.4,1116.3L1050.4,1117.8L1050.8,1120.2L1051.6,1121.6L1052.7,1122.1L1053.5,1122.1L1054.6,1121.6L1055.4,1120.2L1055.8,1117.8L1055.8,1116.3L1055.4,1113.9L1054.6,1112.5L1053.5,1112.0L1052.7,1112.0M1059.2,1112.0L1061.1,1122.1M1063.0,1112.0L1061.1,1122.1M1063.0,1112.0L1064.9,1122.1M1066.8,1112.0L1064.9,1122.1M1081.9,1113.9L1082.7,1113.5L1083.8,1112.0L1083.8,1122.1M1092.2,1112.0L1091.0,1112.5L1090.2,1113.9L1089.9,1116.3L1089.9,1117.8L1090.2,1120.2L1091.0,1121.6L1092.2,1122.1L1092.9,1122.1L1094.1,1121.6L1094.8,1120.2L1095.2,1117.8L1095.2,1116.3L1094.8,1113.9L1094.1,1112.5L1092.9,1112.0L1092.2,1112.0M1101.2,1112.0L1100.0,1112.5L1099.3,1113.9L1098.9,1116.3L1098.9,1117.8L1099.3,1120.2L1100.0,1121.6L1101.2,1122.1L1101.9,1122.1L1103.1,1121.6L1103.9,1120.2L1104.2,1117.8L1104.2,1116.3L1103.9,1113.9L1103.1,1112.5L1101.9,1112.0L1101.2,1112.0M1107.7,1112.0L1109.6,1122.1M1111.5,1112.0L1109.6,1122.1M1111.5,1112.0L1113.4,1122.1M1115.3,1112.0L1113.4,1122.1M1136.4,1112.0L1135.3,1112.5L1134.9,1113.5L1134.9,1114.4L1135.3,1115.4L1136.0,1115.9L1137.6,1116.3L1138.7,1116.8L1139.5,1117.8L1139.9,1118.7L1139.9,1120.2L1139.5,1121.1L1139.1,1121.6L1138.0,1122.1L1136.4,1122.1L1135.3,1121.6L1134.9,1121.1L1134.5,1120.2L1134.5,1118.7L1134.9,1117.8L1135.7,1116.8L1136.8,1116.3L1138.3,1115.9L1139.1,1115.4L1139.5,1114.4L1139.5,1113.5L1139.1,1112.5L1138.0,1112.0L1136.4,1112.0M1145.8,1112.0L1144.7,1112.5L1143.9,1113.9L1143.5,1116.3L1143.5,1117.8L1143.9,1120.2L1144.7,1121.6L1145.8,1122.1L1146.6,1122.1L1147.7,1121.6L1148.5,1120.2L1148.9,1117.8L1148.9,1116.3L1148.5,1113.9L1147.7,1112.5L1146.6,1112.0L1145.8,1112.0M1152.3,1112.0L1154.2,1122.1M1156.1,1112.0L1154.2,1122.1M1156.1,1112.0L1158.1,1122.1M1160.0,1112.0L1158.1,1122.1M1187.8,1113.5L1187.4,1112.5L1186.2,1112.0L1185.5,1112.0L1184.3,1112.5L1183.6,1113.9L1183.2,1116.3L1183.2,1118.7L1183.6,1120.7L1184.3,1121.6L1185.5,1122.1L1185.9,1122.1L1187.0,1121.6L1187.8,1120.7L1188.2,1119.2L1188.2,1118.7L1187.8,1117.3L1187.0,1116.3L1185.9,1115.9L1185.5,1115.9L1184.3,1116.3L1183.6,1117.3L1183.2,1118.7M1194.1,1112.0L1192.9,1112.5L1192.2,1113.9L1191.8,1116.3L1191.8,1117.8L1192.2,1120.2L1192.9,1121.6L1194.1,1122.1L1194.9,1122.1L1196.0,1121.6L1196.8,1120.2L1197.2,1117.8L1197.2,1116.3L1196.8,1113.9L1196.0,1112.5L1194.9,1112.0L1194.1,1112.0M1200.6,1112.0L1202.5,1122.1M1204.4,1112.0L1202.5,1122.1M1204.4,1112.0L1206.3,1122.1M1208.2,1112.0L1206.3,1122.1M250.8,1235.3L249.6,1235.8L249.2,1236.8L249.2,1237.7L249.6,1238.7L250.4,1239.2L252.0,1239.7L253.2,1240.2L254.0,1241.1L254.3,1242.1L254.3,1243.6L254.0,1244.5L253.6,1245.0L252.4,1245.5L250.8,1245.5L249.6,1245.0L249.2,1244.5L248.8,1243.6L248.8,1242.1L249.2,1241.1L250.0,1240.2L251.2,1239.7L252.8,1239.2L253.6,1238.7L254.0,1237.7L254.0,1236.8L253.6,1235.8L252.4,1235.3L250.8,1235.3M260.5,1235.3L259.3,1235.8L258.5,1237.2L258.1,1239.7L258.1,1241.1L258.5,1243.6L259.3,1245.0L260.5,1245.5L261.3,1245.5L262.5,1245.0L263.3,1243.6L263.6,1241.1L263.6,1239.7L263.3,1237.2L262.5,1235.8L261.3,1235.3L260.5,1235.3M267.9,1235.3L267.9,1245.5M267.9,1235.3L273.4,1245.5M273.4,1235.3L273.4,1245.5M254.3,1264.2L250.4,1274.5M248.8,1264.2L254.3,1264.2M260.5,1264.2L259.3,1264.7L258.5,1266.2L258.1,1268.6L258.1,1270.1L258.5,1272.5L259.3,1274.0L260.5,1274.5L261.3,1274.5L262.5,1274.0L263.3,1272.5L263.6,1270.1L263.6,1268.6L263.3,1266.2L262.5,1264.7L261.3,1264.2L260.5,1264.2M267.9,1264.2L267.9,1274.5M267.9,1264.2L273.4,1274.5M273.4,1264.2L273.4,1274.5M254.0,1294.7L253.6,1293.7L252.4,1293.2L251.6,1293.2L250.4,1293.7L249.6,1295.1L249.2,1297.6L249.2,1300.0L249.6,1301.9L250.4,1302.9L251.6,1303.4L252.0,1303.4L253.2,1302.9L254.0,1301.9L254.4,1300.5L254.4,1300.0L254.0,1298.5L253.2,1297.6L252.0,1297.1L251.6,1297.1L250.4,1297.6L249.6,1298.5L249.2,1300.0M260.5,1293.2L259.3,1293.7L258.5,1295.1L258.1,1297.6L258.1,1299.0L258.5,1301.5L259.3,1302.9L260.5,1303.4L261.3,1303.4L262.5,1302.9L263.3,1301.5L263.6,1299.0L263.6,1297.6L263.3,1295.1L262.5,1293.7L261.3,1293.2L260.5,1293.2M267.9,1293.2L267.9,1303.4M267.9,1293.2L273.4,1303.4M273.4,1293.2L273.4,1303.4M253.6,1322.1L249.6,1322.1L249.2,1326.5L249.6,1326.0L250.8,1325.5L252.0,1325.5L253.2,1326.0L254.0,1327.0L254.3,1328.5L254.3,1329.4L254.0,1330.9L253.2,1331.9L252.0,1332.3L250.8,1332.3L249.6,1331.9L249.2,1331.4L248.8,1330.4M260.5,1322.1L259.3,1322.6L258.5,1324.1L258.1,1326.5L258.1,1328.0L258.5,1330.4L259.3,1331.9L260.5,1332.3L261.3,1332.3L262.5,1331.9L263.3,1330.4L263.6,1328.0L263.6,1326.5L263.3,1324.1L262.5,1322.6L261.3,1322.1L260.5,1322.1M267.9,1322.1L267.9,1332.3M267.9,1322.1L273.4,1332.3M273.4,1322.1L273.4,1332.3M252.8,1351.1L248.8,1357.9L254.8,1357.9M252.8,1351.1L252.8,1361.3M260.5,1351.1L259.3,1351.6L258.5,1353.0L258.1,1355.5L258.1,1356.9L258.5,1359.4L259.3,1360.8L260.5,1361.3L261.3,1361.3L262.5,1360.8L263.3,1359.4L263.6,1356.9L263.6,1355.5L263.3,1353.0L262.5,1351.6L261.3,1351.1L260.5,1351.1M267.9,1351.1L267.9,1361.3M267.9,1351.1L273.4,1361.3M273.4,1351.1L273.4,1361.3M249.6,1380.0L254.0,1380.0L251.6,1383.9L252.8,1383.9L253.6,1384.4L254.0,1384.9L254.3,1386.4L254.3,1387.3L254.0,1388.8L253.2,1389.8L252.0,1390.2L250.8,1390.2L249.6,1389.8L249.2,1389.3L248.8,1388.3M260.5,1380.0L259.3,1380.5L258.5,1382.0L258.1,1384.4L258.1,1385.9L258.5,1388.3L259.3,1389.8L260.5,1390.2L261.3,1390.2L262.5,1389.8L263.3,1388.3L263.6,1385.9L263.6,1384.4L263.3,1382.0L262.5,1380.5L261.3,1380.0L260.5,1380.0M267.9,1380.0L267.9,1390.2M267.9,1380.0L273.4,1390.2M273.4,1380.0L273.4,1390.2M267.9,1410.9L268.7,1410.5L269.8,1409.0L269.8,1419.1M279.8,1409.0L275.9,1415.7L281.7,1415.7M279.8,1409.0L279.8,1419.1M287.2,1409.0L286.1,1409.5L285.3,1410.9L284.9,1413.3L284.9,1414.8L285.3,1417.2L286.1,1418.6L287.2,1419.1L288.0,1419.1L289.1,1418.6L289.9,1417.2L290.3,1414.8L290.3,1413.3L289.9,1410.9L289.1,1409.5L288.0,1409.0L287.2,1409.0M293.7,1409.0L295.6,1419.1M297.5,1409.0L295.6,1419.1M297.5,1409.0L299.4,1419.1M301.4,1409.0L299.4,1419.1M316.4,1410.9L317.2,1410.5L318.3,1409.0L318.3,1419.1M324.8,1411.4L324.8,1410.9L325.1,1410.0L325.5,1409.5L326.3,1409.0L327.8,1409.0L328.6,1409.5L329.0,1410.0L329.4,1410.9L329.4,1411.9L329.0,1412.9L328.2,1414.3L324.4,1419.1L329.7,1419.1M335.7,1409.0L334.6,1409.5L333.8,1410.9L333.4,1413.3L333.4,1414.8L333.8,1417.2L334.6,1418.6L335.7,1419.1L336.5,1419.1L337.6,1418.6L338.4,1417.2L338.8,1414.8L338.8,1413.3L338.4,1410.9L337.6,1409.5L336.5,1409.0L335.7,1409.0M342.2,1409.0L344.1,1419.1M346.0,1409.0L344.1,1419.1M346.0,1409.0L347.9,1419.1M349.8,1409.0L347.9,1419.1M364.9,1410.9L365.7,1410.5L366.8,1409.0L366.8,1419.1M375.2,1409.0L374.0,1409.5L373.2,1410.9L372.9,1413.3L372.9,1414.8L373.2,1417.2L374.0,1418.6L375.2,1419.1L375.9,1419.1L377.1,1418.6L377.8,1417.2L378.2,1414.8L378.2,1413.3L377.8,1410.9L377.1,1409.5L375.9,1409.0L375.2,1409.0M384.2,1409.0L383.0,1409.5L382.3,1410.9L381.9,1413.3L381.9,1414.8L382.3,1417.2L383.0,1418.6L384.2,1419.1L384.9,1419.1L386.1,1418.6L386.9,1417.2L387.2,1414.8L387.2,1413.3L386.9,1410.9L386.1,1409.5L384.9,1409.0L384.2,1409.0M390.7,1409.0L392.6,1419.1M394.5,1409.0L392.6,1419.1M394.5,1409.0L396.4,1419.1M398.3,1409.0L396.4,1419.1M419.4,1409.0L418.3,1409.5L417.9,1410.5L417.9,1411.4L418.3,1412.4L419.0,1412.9L420.6,1413.3L421.7,1413.8L422.5,1414.8L422.9,1415.7L422.9,1417.2L422.5,1418.1L422.1,1418.6L421.0,1419.1L419.4,1419.1L418.3,1418.6L417.9,1418.1L417.5,1417.2L417.5,1415.7L417.9,1414.8L418.7,1413.8L419.8,1413.3L421.3,1412.9L422.1,1412.4L422.5,1411.4L422.5,1410.5L422.1,1409.5L421.0,1409.0L419.4,1409.0M428.8,1409.0L427.7,1409.5L426.9,1410.9L426.5,1413.3L426.5,1414.8L426.9,1417.2L427.7,1418.6L428.8,1419.1L429.6,1419.1L430.7,1418.6L431.5,1417.2L431.9,1414.8L431.9,1413.3L431.5,1410.9L430.7,1409.5L429.6,1409.0L428.8,1409.0M435.3,1409.0L437.2,1419.1M439.1,1409.0L437.2,1419.1M439.1,1409.0L441.1,1419.1M443.0,1409.0L441.1,1419.1M470.8,1410.5L470.4,1409.5L469.2,1409.0L468.5,1409.0L467.3,1409.5L466.6,1410.9L466.2,1413.3L466.2,1415.7L466.6,1417.7L467.3,1418.6L468.5,1419.1L468.9,1419.1L470.0,1418.6L470.8,1417.7L471.2,1416.2L471.2,1415.7L470.8,1414.3L470.0,1413.3L468.9,1412.9L468.5,1412.9L467.3,1413.3L466.6,1414.3L466.2,1415.7M477.1,1409.0L475.9,1409.5L475.2,1410.9L474.8,1413.3L474.8,1414.8L475.2,1417.2L475.9,1418.6L477.1,1419.1L477.9,1419.1L479.0,1418.6L479.8,1417.2L480.2,1414.8L480.2,1413.3L479.8,1410.9L479.0,1409.5L477.9,1409.0L477.1,1409.0M483.6,1409.0L485.5,1419.1M487.4,1409.0L485.5,1419.1M487.4,1409.0L489.3,1419.1M491.2,1409.0L489.3,1419.1M967.8,1235.3L966.6,1235.8L966.2,1236.8L966.2,1237.7L966.6,1238.7L967.4,1239.2L969.0,1239.7L970.2,1240.2L971.0,1241.1L971.3,1242.1L971.3,1243.6L971.0,1244.5L970.6,1245.0L969.4,1245.5L967.8,1245.5L966.6,1245.0L966.2,1244.5L965.8,1243.6L965.8,1242.1L966.2,1241.1L967.0,1240.2L968.2,1239.7L969.8,1239.2L970.6,1238.7L971.0,1237.7L971.0,1236.8L970.6,1235.8L969.4,1235.3L967.8,1235.3M977.5,1235.3L976.3,1235.8L975.5,1237.2L975.1,1239.7L975.1,1241.1L975.5,1243.6L976.3,1245.0L977.5,1245.5L978.3,1245.5L979.5,1245.0L980.3,1243.6L980.6,1241.1L980.6,1239.7L980.3,1237.2L979.5,1235.8L978.3,1235.3L977.5,1235.3M984.9,1235.3L984.9,1245.5M984.9,1235.3L990.4,1245.5M990.4,1235.3L990.4,1245.5M971.3,1264.2L967.4,1274.5M965.8,1264.2L971.3,1264.2M977.5,1264.2L976.3,1264.7L975.5,1266.2L975.1,1268.6L975.1,1270.1L975.5,1272.5L976.3,1274.0L977.5,1274.5L978.3,1274.5L979.5,1274.0L980.3,1272.5L980.6,1270.1L980.6,1268.6L980.3,1266.2L979.5,1264.7L978.3,1264.2L977.5,1264.2M984.9,1264.2L984.9,1274.5M984.9,1264.2L990.4,1274.5M990.4,1264.2L990.4,1274.5M971.0,1294.7L970.6,1293.7L969.4,1293.2L968.6,1293.2L967.4,1293.7L966.6,1295.1L966.2,1297.6L966.2,1300.0L966.6,1301.9L967.4,1302.9L968.6,1303.4L969.0,1303.4L970.2,1302.9L971.0,1301.9L971.4,1300.5L971.4,1300.0L971.0,1298.5L970.2,1297.6L969.0,1297.1L968.6,1297.1L967.4,1297.6L966.6,1298.5L966.2,1300.0M977.5,1293.2L976.3,1293.7L975.5,1295.1L975.1,1297.6L975.1,1299.0L975.5,1301.5L976.3,1302.9L977.5,1303.4L978.3,1303.4L979.5,1302.9L980.3,1301.5L980.6,1299.0L980.6,1297.6L980.3,1295.1L979.5,1293.7L978.3,1293.2L977.5,1293.2M984.9,1293.2L984.9,1303.4M984.9,1293.2L990.4,1303.4M990.4,1293.2L990.4,1303.4M970.6,1322.1L966.6,1322.1L966.2,1326.5L966.6,1326.0L967.8,1325.5L969.0,1325.5L970.2,1326.0L971.0,1327.0L971.3,1328.5L971.3,1329.4L971.0,1330.9L970.2,1331.9L969.0,1332.3L967.8,1332.3L966.6,1331.9L966.2,1331.4L965.8,1330.4M977.5,1322.1L976.3,1322.6L975.5,1324.1L975.1,1326.5L975.1,1328.0L975.5,1330.4L976.3,1331.9L977.5,1332.3L978.3,1332.3L979.5,1331.9L980.3,1330.4L980.6,1328.0L980.6,1326.5L980.3,1324.1L979.5,1322.6L978.3,1322.1L977.5,1322.1M984.9,1322.1L984.9,1332.3M984.9,1322.1L990.4,1332.3M990.4,1322.1L990.4,1332.3M969.8,1351.1L965.8,1357.9L971.8,1357.9M969.8,1351.1L969.8,1361.3M977.5,1351.1L976.3,1351.6L975.5,1353.0L975.1,1355.5L975.1,1356.9L975.5,1359.4L976.3,1360.8L977.5,1361.3L978.3,1361.3L979.5,1360.8L980.3,1359.4L980.6,1356.9L980.6,1355.5L980.3,1353.0L979.5,1351.6L978.3,1351.1L977.5,1351.1M984.9,1351.1L984.9,1361.3M984.9,1351.1L990.4,1361.3M990.4,1351.1L990.4,1361.3M966.6,1380.0L971.0,1380.0L968.6,1383.9L969.8,1383.9L970.6,1384.4L971.0,1384.9L971.3,1386.4L971.3,1387.3L971.0,1388.8L970.2,1389.8L969.0,1390.2L967.8,1390.2L966.6,1389.8L966.2,1389.3L965.8,1388.3M977.5,1380.0L976.3,1380.5L975.5,1382.0L975.1,1384.4L975.1,1385.9L975.5,1388.3L976.3,1389.8L977.5,1390.2L978.3,1390.2L979.5,1389.8L980.3,1388.3L980.6,1385.9L980.6,1384.4L980.3,1382.0L979.5,1380.5L978.3,1380.0L977.5,1380.0M984.9,1380.0L984.9,1390.2M984.9,1380.0L990.4,1390.2M990.4,1380.0L990.4,1390.2M984.9,1410.9L985.7,1410.5L986.8,1409.0L986.8,1419.1M996.8,1409.0L992.9,1415.7L998.7,1415.7M996.8,1409.0L996.8,1419.1M1004.2,1409.0L1003.1,1409.5L1002.3,1410.9L1001.9,1413.3L1001.9,1414.8L1002.3,1417.2L1003.1,1418.6L1004.2,1419.1L1005.0,1419.1L1006.1,1418.6L1006.9,1417.2L1007.3,1414.8L1007.3,1413.3L1006.9,1410.9L1006.1,1409.5L1005.0,1409.0L1004.2,1409.0M1010.7,1409.0L1012.6,1419.1M1014.5,1409.0L1012.6,1419.1M1014.5,1409.0L1016.4,1419.1M1018.4,1409.0L1016.4,1419.1M1033.4,1410.9L1034.2,1410.5L1035.3,1409.0L1035.3,1419.1M1041.8,1411.4L1041.8,1410.9L1042.1,1410.0L1042.5,1409.5L1043.3,1409.0L1044.8,1409.0L1045.6,1409.5L1046.0,1410.0L1046.4,1410.9L1046.4,1411.9L1046.0,1412.9L1045.2,1414.3L1041.4,1419.1L1046.7,1419.1M1052.7,1409.0L1051.6,1409.5L1050.8,1410.9L1050.4,1413.3L1050.4,1414.8L1050.8,1417.2L1051.6,1418.6L1052.7,1419.1L1053.5,1419.1L1054.6,1418.6L1055.4,1417.2L1055.8,1414.8L1055.8,1413.3L1055.4,1410.9L1054.6,1409.5L1053.5,1409.0L1052.7,1409.0M1059.2,1409.0L1061.1,1419.1M1063.0,1409.0L1061.1,1419.1M1063.0,1409.0L1064.9,1419.1M1066.8,1409.0L1064.9,1419.1M1081.9,1410.9L1082.7,1410.5L1083.8,1409.0L1083.8,1419.1M1092.2,1409.0L1091.0,1409.5L1090.2,1410.9L1089.9,1413.3L1089.9,1414.8L1090.2,1417.2L1091.0,1418.6L1092.2,1419.1L1092.9,1419.1L1094.1,1418.6L1094.8,1417.2L1095.2,1414.8L1095.2,1413.3L1094.8,1410.9L1094.1,1409.5L1092.9,1409.0L1092.2,1409.0M1101.2,1409.0L1100.0,1409.5L1099.3,1410.9L1098.9,1413.3L1098.9,1414.8L1099.3,1417.2L1100.0,1418.6L1101.2,1419.1L1101.9,1419.1L1103.1,1418.6L1103.9,1417.2L1104.2,1414.8L1104.2,1413.3L1103.9,1410.9L1103.1,1409.5L1101.9,1409.0L1101.2,1409.0M1107.7,1409.0L1109.6,1419.1M1111.5,1409.0L1109.6,1419.1M1111.5,1409.0L1113.4,1419.1M1115.3,1409.0L1113.4,1419.1M1136.4,1409.0L1135.3,1409.5L1134.9,1410.5L1134.9,1411.4L1135.3,1412.4L1136.0,1412.9L1137.6,1413.3L1138.7,1413.8L1139.5,1414.8L1139.9,1415.7L1139.9,1417.2L1139.5,1418.1L1139.1,1418.6L1138.0,1419.1L1136.4,1419.1L1135.3,1418.6L1134.9,1418.1L1134.5,1417.2L1134.5,1415.7L1134.9,1414.8L1135.7,1413.8L1136.8,1413.3L1138.3,1412.9L1139.1,1412.4L1139.5,1411.4L1139.5,1410.5L1139.1,1409.5L1138.0,1409.0L1136.4,1409.0M1145.8,1409.0L1144.7,1409.5L1143.9,1410.9L1143.5,1413.3L1143.5,1414.8L1143.9,1417.2L1144.7,1418.6L1145.8,1419.1L1146.6,1419.1L1147.7,1418.6L1148.5,1417.2L1148.9,1414.8L1148.9,1413.3L1148.5,1410.9L1147.7,1409.5L1146.6,1409.0L1145.8,1409.0M1152.3,1409.0L1154.2,1419.1M1156.1,1409.0L1154.2,1419.1M1156.1,1409.0L1158.1,1419.1M1160.0,1409.0L1158.1,1419.1M1187.8,1410.5L1187.4,1409.5L1186.2,1409.0L1185.5,1409.0L1184.3,1409.5L1183.6,1410.9L1183.2,1413.3L1183.2,1415.7L1183.6,1417.7L1184.3,1418.6L1185.5,1419.1L1185.9,1419.1L1187.0,1418.6L1187.8,1417.7L1188.2,1416.2L1188.2,1415.7L1187.8,1414.3L1187.0,1413.3L1185.9,1412.9L1185.5,1412.9L1184.3,1413.3L1183.6,1414.3L1183.2,1415.7M1194.1,1409.0L1192.9,1409.5L1192.2,1410.9L1191.8,1413.3L1191.8,1414.8L1192.2,1417.2L1192.9,1418.6L1194.1,1419.1L1194.9,1419.1L1196.0,1418.6L1196.8,1417.2L1197.2,1414.8L1197.2,1413.3L1196.8,1410.9L1196.0,1409.5L1194.9,1409.0L1194.1,1409.0M1200.6,1409.0L1202.5,1419.1M1204.4,1409.0L1202.5,1419.1M1204.4,1409.0L1206.3,1419.1M1208.2,1409.0L1206.3,1419.1M250.8,1480.3L249.6,1480.8L249.2,1481.8L249.2,1482.7L249.6,1483.7L250.4,1484.2L252.0,1484.7L253.2,1485.2L254.0,1486.1L254.3,1487.1L254.3,1488.6L254.0,1489.5L253.6,1490.0L252.4,1490.5L250.8,1490.5L249.6,1490.0L249.2,1489.5L248.8,1488.6L248.8,1487.1L249.2,1486.1L250.0,1485.2L251.2,1484.7L252.8,1484.2L253.6,1483.7L254.0,1482.7L254.0,1481.8L253.6,1480.8L252.4,1480.3L250.8,1480.3M260.5,1480.3L259.3,1480.8L258.5,1482.2L258.1,1484.7L258.1,1486.1L258.5,1488.6L259.3,1490.0L260.5,1490.5L261.3,1490.5L262.5,1490.0L263.3,1488.6L263.6,1486.1L263.6,1484.7L263.3,1482.2L262.5,1480.8L261.3,1480.3L260.5,1480.3M267.9,1480.3L267.9,1490.5M267.9,1480.3L273.4,1490.5M273.4,1480.3L273.4,1490.5M254.3,1509.2L250.4,1519.5M248.8,1509.2L254.3,1509.2M260.5,1509.2L259.3,1509.7L258.5,1511.2L258.1,1513.6L258.1,1515.1L258.5,1517.5L259.3,1519.0L260.5,1519.5L261.3,1519.5L262.5,1519.0L263.3,1517.5L263.6,1515.1L263.6,1513.6L263.3,1511.2L262.5,1509.7L261.3,1509.2L260.5,1509.2M267.9,1509.2L267.9,1519.5M267.9,1509.2L273.4,1519.5M273.4,1509.2L273.4,1519.5M254.0,1539.7L253.6,1538.7L252.4,1538.2L251.6,1538.2L250.4,1538.7L249.6,1540.1L249.2,1542.6L249.2,1545.0L249.6,1546.9L250.4,1547.9L251.6,1548.4L252.0,1548.4L253.2,1547.9L254.0,1546.9L254.4,1545.5L254.4,1545.0L254.0,1543.5L253.2,1542.6L252.0,1542.1L251.6,1542.1L250.4,1542.6L249.6,1543.5L249.2,1545.0M260.5,1538.2L259.3,1538.7L258.5,1540.1L258.1,1542.6L258.1,1544.0L258.5,1546.5L259.3,1547.9L260.5,1548.4L261.3,1548.4L262.5,1547.9L263.3,1546.5L263.6,1544.0L263.6,1542.6L263.3,1540.1L262.5,1538.7L261.3,1538.2L260.5,1538.2M267.9,1538.2L267.9,1548.4M267.9,1538.2L273.4,1548.4M273.4,1538.2L273.4,1548.4M253.6,1567.1L249.6,1567.1L249.2,1571.5L249.6,1571.0L250.8,1570.5L252.0,1570.5L253.2,1571.0L254.0,1572.0L254.3,1573.5L254.3,1574.4L254.0,1575.9L253.2,1576.9L252.0,1577.3L250.8,1577.3L249.6,1576.9L249.2,1576.4L248.8,1575.4M260.5,1567.1L259.3,1567.6L258.5,1569.1L258.1,1571.5L258.1,1573.0L258.5,1575.4L259.3,1576.9L260.5,1577.3L261.3,1577.3L262.5,1576.9L263.3,1575.4L263.6,1573.0L263.6,1571.5L263.3,1569.1L262.5,1567.6L261.3,1567.1L260.5,1567.1M267.9,1567.1L267.9,1577.3M267.9,1567.1L273.4,1577.3M273.4,1567.1L273.4,1577.3M252.8,1596.1L248.8,1602.9L254.8,1602.9M252.8,1596.1L252.8,1606.3M260.5,1596.1L259.3,1596.6L258.5,1598.0L258.1,1600.5L258.1,1601.9L258.5,1604.4L259.3,1605.8L260.5,1606.3L261.3,1606.3L262.5,1605.8L263.3,1604.4L263.6,1601.9L263.6,1600.5L263.3,1598.0L262.5,1596.6L261.3,1596.1L260.5,1596.1M267.9,1596.1L267.9,1606.3M267.9,1596.1L273.4,1606.3M273.4,1596.1L273.4,1606.3M249.6,1625.0L254.0,1625.0L251.6,1628.9L252.8,1628.9L253.6,1629.4L254.0,1629.9L254.3,1631.4L254.3,1632.3L254.0,1633.8L253.2,1634.8L252.0,1635.2L250.8,1635.2L249.6,1634.8L249.2,1634.3L248.8,1633.3M260.5,1625.0L259.3,1625.5L258.5,1627.0L258.1,1629.4L258.1,1630.9L258.5,1633.3L259.3,1634.8L260.5,1635.2L261.3,1635.2L262.5,1634.8L263.3,1633.3L263.6,1630.9L263.6,1629.4L263.3,1627.0L262.5,1625.5L261.3,1625.0L260.5,1625.0M267.9,1625.0L267.9,1635.2M267.9,1625.0L273.4,1635.2M273.4,1625.0L273.4,1635.2M267.9,1655.9L268.7,1655.5L269.8,1654.0L269.8,1664.1M279.8,1654.0L275.9,1660.7L281.7,1660.7M279.8,1654.0L279.8,1664.1M287.2,1654.0L286.1,1654.5L285.3,1655.9L284.9,1658.3L284.9,1659.8L285.3,1662.2L286.1,1663.6L287.2,1664.1L288.0,1664.1L289.1,1663.6L289.9,1662.2L290.3,1659.8L290.3,1658.3L289.9,1655.9L289.1,1654.5L288.0,1654.0L287.2,1654.0M293.7,1654.0L295.6,1664.1M297.5,1654.0L295.6,1664.1M297.5,1654.0L299.4,1664.1M301.4,1654.0L299.4,1664.1M316.4,1655.9L317.2,1655.5L318.3,1654.0L318.3,1664.1M324.8,1656.4L324.8,1655.9L325.1,1655.0L325.5,1654.5L326.3,1654.0L327.8,1654.0L328.6,1654.5L329.0,1655.0L329.4,1655.9L329.4,1656.9L329.0,1657.9L328.2,1659.3L324.4,1664.1L329.7,1664.1M335.7,1654.0L334.6,1654.5L333.8,1655.9L333.4,1658.3L333.4,1659.8L333.8,1662.2L334.6,1663.6L335.7,1664.1L336.5,1664.1L337.6,1663.6L338.4,1662.2L338.8,1659.8L338.8,1658.3L338.4,1655.9L337.6,1654.5L336.5,1654.0L335.7,1654.0M342.2,1654.0L344.1,1664.1M346.0,1654.0L344.1,1664.1M346.0,1654.0L347.9,1664.1M349.8,1654.0L347.9,1664.1M364.9,1655.9L365.7,1655.5L366.8,1654.0L366.8,1664.1M375.2,1654.0L374.0,1654.5L373.2,1655.9L372.9,1658.3L372.9,1659.8L373.2,1662.2L374.0,1663.6L375.2,1664.1L375.9,1664.1L377.1,1663.6L377.8,1662.2L378.2,1659.8L378.2,1658.3L377.8,1655.9L377.1,1654.5L375.9,1654.0L375.2,1654.0M384.2,1654.0L383.0,1654.5L382.3,1655.9L381.9,1658.3L381.9,1659.8L382.3,1662.2L383.0,1663.6L384.2,1664.1L384.9,1664.1L386.1,1663.6L386.9,1662.2L387.2,1659.8L387.2,1658.3L386.9,1655.9L386.1,1654.5L384.9,1654.0L384.2,1654.0M390.7,1654.0L392.6,1664.1M394.5,1654.0L392.6,1664.1M394.5,1654.0L396.4,1664.1M398.3,1654.0L396.4,1664.1M419.4,1654.0L418.3,1654.5L417.9,1655.5L417.9,1656.4L418.3,1657.4L419.0,1657.9L420.6,1658.3L421.7,1658.8L422.5,1659.8L422.9,1660.7L422.9,1662.2L422.5,1663.1L422.1,1663.6L421.0,1664.1L419.4,1664.1L418.3,1663.6L417.9,1663.1L417.5,1662.2L417.5,1660.7L417.9,1659.8L418.7,1658.8L419.8,1658.3L421.3,1657.9L422.1,1657.4L422.5,1656.4L422.5,1655.5L422.1,1654.5L421.0,1654.0L419.4,1654.0M428.8,1654.0L427.7,1654.5L426.9,1655.9L426.5,1658.3L426.5,1659.8L426.9,1662.2L427.7,1663.6L428.8,1664.1L429.6,1664.1L430.7,1663.6L431.5,1662.2L431.9,1659.8L431.9,1658.3L431.5,1655.9L430.7,1654.5L429.6,1654.0L428.8,1654.0M435.3,1654.0L437.2,1664.1M439.1,1654.0L437.2,1664.1M439.1,1654.0L441.1,1664.1M443.0,1654.0L441.1,1664.1M470.8,1655.5L470.4,1654.5L469.2,1654.0L468.5,1654.0L467.3,1654.5L466.6,1655.9L466.2,1658.3L466.2,1660.7L466.6,1662.7L467.3,1663.6L468.5,1664.1L468.9,1664.1L470.0,1663.6L470.8,1662.7L471.2,1661.2L471.2,1660.7L470.8,1659.3L470.0,1658.3L468.9,1657.9L468.5,1657.9L467.3,1658.3L466.6,1659.3L466.2,1660.7M477.1,1654.0L475.9,1654.5L475.2,1655.9L474.8,1658.3L474.8,1659.8L475.2,1662.2L475.9,1663.6L477.1,1664.1L477.9,1664.1L479.0,1663.6L479.8,1662.2L480.2,1659.8L480.2,1658.3L479.8,1655.9L479.0,1654.5L477.9,1654.0L477.1,1654.0M483.6,1654.0L485.5,1664.1M487.4,1654.0L485.5,1664.1M487.4,1654.0L489.3,1664.1M491.2,1654.0L489.3,1664.1M967.8,1480.3L966.6,1480.8L966.2,1481.8L966.2,1482.7L966.6,1483.7L967.4,1484.2L969.0,1484.7L970.2,1485.2L971.0,1486.1L971.3,1487.1L971.3,1488.6L971.0,1489.5L970.6,1490.0L969.4,1490.5L967.8,1490.5L966.6,1490.0L966.2,1489.5L965.8,1488.6L965.8,1487.1L966.2,1486.1L967.0,1485.2L968.2,1484.7L969.8,1484.2L970.6,1483.7L971.0,1482.7L971.0,1481.8L970.6,1480.8L969.4,1480.3L967.8,1480.3M977.5,1480.3L976.3,1480.8L975.5,1482.2L975.1,1484.7L975.1,1486.1L975.5,1488.6L976.3,1490.0L977.5,1490.5L978.3,1490.5L979.5,1490.0L980.3,1488.6L980.6,1486.1L980.6,1484.7L980.3,1482.2L979.5,1480.8L978.3,1480.3L977.5,1480.3M984.9,1480.3L984.9,1490.5M984.9,1480.3L990.4,1490.5M990.4,1480.3L990.4,1490.5M971.3,1509.2L967.4,1519.5M965.8,1509.2L971.3,1509.2M977.5,1509.2L976.3,1509.7L975.5,1511.2L975.1,1513.6L975.1,1515.1L975.5,1517.5L976.3,1519.0L977.5,1519.5L978.3,1519.5L979.5,1519.0L980.3,1517.5L980.6,1515.1L980.6,1513.6L980.3,1511.2L979.5,1509.7L978.3,1509.2L977.5,1509.2M984.9,1509.2L984.9,1519.5M984.9,1509.2L990.4,1519.5M990.4,1509.2L990.4,1519.5M971.0,1539.7L970.6,1538.7L969.4,1538.2L968.6,1538.2L967.4,1538.7L966.6,1540.1L966.2,1542.6L966.2,1545.0L966.6,1546.9L967.4,1547.9L968.6,1548.4L969.0,1548.4L970.2,1547.9L971.0,1546.9L971.4,1545.5L971.4,1545.0L971.0,1543.5L970.2,1542.6L969.0,1542.1L968.6,1542.1L967.4,1542.6L966.6,1543.5L966.2,1545.0M977.5,1538.2L976.3,1538.7L975.5,1540.1L975.1,1542.6L975.1,1544.0L975.5,1546.5L976.3,1547.9L977.5,1548.4L978.3,1548.4L979.5,1547.9L980.3,1546.5L980.6,1544.0L980.6,1542.6L980.3,1540.1L979.5,1538.7L978.3,1538.2L977.5,1538.2M984.9,1538.2L984.9,1548.4M984.9,1538.2L990.4,1548.4M990.4,1538.2L990.4,1548.4M970.6,1567.1L966.6,1567.1L966.2,1571.5L966.6,1571.0L967.8,1570.5L969.0,1570.5L970.2,1571.0L971.0,1572.0L971.3,1573.5L971.3,1574.4L971.0,1575.9L970.2,1576.9L969.0,1577.3L967.8,1577.3L966.6,1576.9L966.2,1576.4L965.8,1575.4M977.5,1567.1L976.3,1567.6L975.5,1569.1L975.1,1571.5L975.1,1573.0L975.5,1575.4L976.3,1576.9L977.5,1577.3L978.3,1577.3L979.5,1576.9L980.3,1575.4L980.6,1573.0L980.6,1571.5L980.3,1569.1L979.5,1567.6L978.3,1567.1L977.5,1567.1M984.9,1567.1L984.9,1577.3M984.9,1567.1L990.4,1577.3M990.4,1567.1L990.4,1577.3M969.8,1596.1L965.8,1602.9L971.8,1602.9M969.8,1596.1L969.8,1606.3M977.5,1596.1L976.3,1596.6L975.5,1598.0L975.1,1600.5L975.1,1601.9L975.5,1604.4L976.3,1605.8L977.5,1606.3L978.3,1606.3L979.5,1605.8L980.3,1604.4L980.6,1601.9L980.6,1600.5L980.3,1598.0L979.5,1596.6L978.3,1596.1L977.5,1596.1M984.9,1596.1L984.9,1606.3M984.9,1596.1L990.4,1606.3M990.4,1596.1L990.4,1606.3M966.6,1625.0L971.0,1625.0L968.6,1628.9L969.8,1628.9L970.6,1629.4L971.0,1629.9L971.3,1631.4L971.3,1632.3L971.0,1633.8L970.2,1634.8L969.0,1635.2L967.8,1635.2L966.6,1634.8L966.2,1634.3L965.8,1633.3M977.5,1625.0L976.3,1625.5L975.5,1627.0L975.1,1629.4L975.1,1630.9L975.5,1633.3L976.3,1634.8L977.5,1635.2L978.3,1635.2L979.5,1634.8L980.3,1633.3L980.6,1630.9L980.6,1629.4L980.3,1627.0L979.5,1625.5L978.3,1625.0L977.5,1625.0M984.9,1625.0L984.9,1635.2M984.9,1625.0L990.4,1635.2M990.4,1625.0L990.4,1635.2M984.9,1655.9L985.7,1655.5L986.8,1654.0L986.8,1664.1M996.8,1654.0L992.9,1660.7L998.7,1660.7M996.8,1654.0L996.8,1664.1M1004.2,1654.0L1003.1,1654.5L1002.3,1655.9L1001.9,1658.3L1001.9,1659.8L1002.3,1662.2L1003.1,1663.6L1004.2,1664.1L1005.0,1664.1L1006.1,1663.6L1006.9,1662.2L1007.3,1659.8L1007.3,1658.3L1006.9,1655.9L1006.1,1654.5L1005.0,1654.0L1004.2,1654.0M1010.7,1654.0L1012.6,1664.1M1014.5,1654.0L1012.6,1664.1M1014.5,1654.0L1016.4,1664.1M1018.4,1654.0L1016.4,1664.1M1033.4,1655.9L1034.2,1655.5L1035.3,1654.0L1035.3,1664.1M1041.8,1656.4L1041.8,1655.9L1042.1,1655.0L1042.5,1654.5L1043.3,1654.0L1044.8,1654.0L1045.6,1654.5L1046.0,1655.0L1046.4,1655.9L1046.4,1656.9L1046.0,1657.9L1045.2,1659.3L1041.4,1664.1L1046.7,1664.1M1052.7,1654.0L1051.6,1654.5L1050.8,1655.9L1050.4,1658.3L1050.4,1659.8L1050.8,1662.2L1051.6,1663.6L1052.7,1664.1L1053.5,1664.1L1054.6,1663.6L1055.4,1662.2L1055.8,1659.8L1055.8,1658.3L1055.4,1655.9L1054.6,1654.5L1053.5,1654.0L1052.7,1654.0M1059.2,1654.0L1061.1,1664.1M1063.0,1654.0L1061.1,1664.1M1063.0,1654.0L1064.9,1664.1M1066.8,1654.0L1064.9,1664.1M1081.9,1655.9L1082.7,1655.5L1083.8,1654.0L1083.8,1664.1M1092.2,1654.0L1091.0,1654.5L1090.2,1655.9L1089.9,1658.3L1089.9,1659.8L1090.2,1662.2L1091.0,1663.6L1092.2,1664.1L1092.9,1664.1L1094.1,1663.6L1094.8,1662.2L1095.2,1659.8L1095.2,1658.3L1094.8,1655.9L1094.1,1654.5L1092.9,1654.0L1092.2,1654.0M1101.2,1654.0L1100.0,1654.5L1099.3,1655.9L1098.9,1658.3L1098.9,1659.8L1099.3,1662.2L1100.0,1663.6L1101.2,1664.1L1101.9,1664.1L1103.1,1663.6L1103.9,1662.2L1104.2,1659.8L1104.2,1658.3L1103.9,1655.9L1103.1,1654.5L1101.9,1654.0L1101.2,1654.0M1107.7,1654.0L1109.6,1664.1M1111.5,1654.0L1109.6,1664.1M1111.5,1654.0L1113.4,1664.1M1115.3,1654.0L1113.4,1664.1M1136.4,1654.0L1135.3,1654.5L1134.9,1655.5L1134.9,1656.4L1135.3,1657.4L1136.0,1657.9L1137.6,1658.3L1138.7,1658.8L1139.5,1659.8L1139.9,1660.7L1139.9,1662.2L1139.5,1663.1L1139.1,1663.6L1138.0,1664.1L1136.4,1664.1L1135.3,1663.6L1134.9,1663.1L1134.5,1662.2L1134.5,1660.7L1134.9,1659.8L1135.7,1658.8L1136.8,1658.3L1138.3,1657.9L1139.1,1657.4L1139.5,1656.4L1139.5,1655.5L1139.1,1654.5L1138.0,1654.0L1136.4,1654.0M1145.8,1654.0L1144.7,1654.5L1143.9,1655.9L1143.5,1658.3L1143.5,1659.8L1143.9,1662.2L1144.7,1663.6L1145.8,1664.1L1146.6,1664.1L1147.7,1663.6L1148.5,1662.2L1148.9,1659.8L1148.9,1658.3L1148.5,1655.9L1147.7,1654.5L1146.6,1654.0L1145.8,1654.0M1152.3,1654.0L1154.2,1664.1M1156.1,1654.0L1154.2,1664.1M1156.1,1654.0L1158.1,1664.1M1160.0,1654.0L1158.1,1664.1M1187.8,1655.5L1187.4,1654.5L1186.2,1654.0L1185.5,1654.0L1184.3,1654.5L1183.6,1655.9L1183.2,1658.3L1183.2,1660.7L1183.6,1662.7L1184.3,1663.6L1185.5,1664.1L1185.9,1664.1L1187.0,1663.6L1187.8,1662.7L1188.2,1661.2L1188.2,1660.7L1187.8,1659.3L1187.0,1658.3L1185.9,1657.9L1185.5,1657.9L1184.3,1658.3L1183.6,1659.3L1183.2,1660.7M1194.1,1654.0L1192.9,1654.5L1192.2,1655.9L1191.8,1658.3L1191.8,1659.8L1192.2,1662.2L1192.9,1663.6L1194.1,1664.1L1194.9,1664.1L1196.0,1663.6L1196.8,1662.2L1197.2,1659.8L1197.2,1658.3L1196.8,1655.9L1196.0,1654.5L1194.9,1654.0L1194.1,1654.0M1200.6,1654.0L1202.5,1664.1M1204.4,1654.0L1202.5,1664.1M1204.4,1654.0L1206.3,1664.1M1208.2,1654.0L1206.3,1664.1M250.8,1725.3L249.6,1725.8L249.2,1726.8L249.2,1727.7L249.6,1728.7L250.4,1729.2L252.0,1729.7L253.2,1730.2L254.0,1731.1L254.3,1732.1L254.3,1733.6L254.0,1734.5L253.6,1735.0L252.4,1735.5L250.8,1735.5L249.6,1735.0L249.2,1734.5L248.8,1733.6L248.8,1732.1L249.2,1731.1L250.0,1730.2L251.2,1729.7L252.8,1729.2L253.6,1728.7L254.0,1727.7L254.0,1726.8L253.6,1725.8L252.4,1725.3L250.8,1725.3M260.5,1725.3L259.3,1725.8L258.5,1727.2L258.1,1729.7L258.1,1731.1L258.5,1733.6L259.3,1735.0L260.5,1735.5L261.3,1735.5L262.5,1735.0L263.3,1733.6L263.6,1731.1L263.6,1729.7L263.3,1727.2L262.5,1725.8L261.3,1725.3L260.5,1725.3M267.9,1725.3L267.9,1735.5M267.9,1725.3L273.4,1735.5M273.4,1725.3L273.4,1735.5M254.3,1754.2L250.4,1764.5M248.8,1754.2L254.3,1754.2M260.5,1754.2L259.3,1754.7L258.5,1756.2L258.1,1758.6L258.1,1760.1L258.5,1762.5L259.3,1764.0L260.5,1764.5L261.3,1764.5L262.5,1764.0L263.3,1762.5L263.6,1760.1L263.6,1758.6L263.3,1756.2L262.5,1754.7L261.3,1754.2L260.5,1754.2M267.9,1754.2L267.9,1764.5M267.9,1754.2L273.4,1764.5M273.4,1754.2L273.4,1764.5M254.0,1784.7L253.6,1783.7L252.4,1783.2L251.6,1783.2L250.4,1783.7L249.6,1785.1L249.2,1787.6L249.2,1790.0L249.6,1791.9L250.4,1792.9L251.6,1793.4L252.0,1793.4L253.2,1792.9L254.0,1791.9L254.4,1790.5L254.4,1790.0L254.0,1788.5L253.2,1787.6L252.0,1787.1L251.6,1787.1L250.4,1787.6L249.6,1788.5L249.2,1790.0M260.5,1783.2L259.3,1783.7L258.5,1785.1L258.1,1787.6L258.1,1789.0L258.5,1791.5L259.3,1792.9L260.5,1793.4L261.3,1793.4L262.5,1792.9L263.3,1791.5L263.6,1789.0L263.6,1787.6L263.3,1785.1L262.5,1783.7L261.3,1783.2L260.5,1783.2M267.9,1783.2L267.9,1793.4M267.9,1783.2L273.4,1793.4M273.4,1783.2L273.4,1793.4M253.6,1812.1L249.6,1812.1L249.2,1816.5L249.6,1816.0L250.8,1815.5L252.0,1815.5L253.2,1816.0L254.0,1817.0L254.3,1818.5L254.3,1819.4L254.0,1820.9L253.2,1821.9L252.0,1822.3L250.8,1822.3L249.6,1821.9L249.2,1821.4L248.8,1820.4M260.5,1812.1L259.3,1812.6L258.5,1814.1L258.1,1816.5L258.1,1818.0L258.5,1820.4L259.3,1821.9L260.5,1822.3L261.3,1822.3L262.5,1821.9L263.3,1820.4L263.6,1818.0L263.6,1816.5L263.3,1814.1L262.5,1812.6L261.3,1812.1L260.5,1812.1M267.9,1812.1L267.9,1822.3M267.9,1812.1L273.4,1822.3M273.4,1812.1L273.4,1822.3M252.8,1841.1L248.8,1847.9L254.8,1847.9M252.8,1841.1L252.8,1851.3M260.5,1841.1L259.3,1841.6L258.5,1843.0L258.1,1845.5L258.1,1846.9L258.5,1849.4L259.3,1850.8L260.5,1851.3L261.3,1851.3L262.5,1850.8L263.3,1849.4L263.6,1846.9L263.6,1845.5L263.3,1843.0L262.5,1841.6L261.3,1841.1L260.5,1841.1M267.9,1841.1L267.9,1851.3M267.9,1841.1L273.4,1851.3M273.4,1841.1L273.4,1851.3M249.6,1870.0L254.0,1870.0L251.6,1873.9L252.8,1873.9L253.6,1874.4L254.0,1874.9L254.3,1876.4L254.3,1877.3L254.0,1878.8L253.2,1879.8L252.0,1880.2L250.8,1880.2L249.6,1879.8L249.2,1879.3L248.8,1878.3M260.5,1870.0L259.3,1870.5L258.5,1872.0L258.1,1874.4L258.1,1875.9L258.5,1878.3L259.3,1879.8L260.5,1880.2L261.3,1880.2L262.5,1879.8L263.3,1878.3L263.6,1875.9L263.6,1874.4L263.3,1872.0L262.5,1870.5L261.3,1870.0L260.5,1870.0M267.9,1870.0L267.9,1880.2M267.9,1870.0L273.4,1880.2M273.4,1870.0L273.4,1880.2M267.9,1900.9L268.7,1900.5L269.8,1899.0L269.8,1909.1M279.8,1899.0L275.9,1905.7L281.7,1905.7M279.8,1899.0L279.8,1909.1M287.2,1899.0L286.1,1899.5L285.3,1900.9L284.9,1903.3L284.9,1904.8L285.3,1907.2L286.1,1908.6L287.2,1909.1L288.0,1909.1L289.1,1908.6L289.9,1907.2L290.3,1904.8L290.3,1903.3L289.9,1900.9L289.1,1899.5L288.0,1899.0L287.2,1899.0M293.7,1899.0L295.6,1909.1M297.5,1899.0L295.6,1909.1M297.5,1899.0L299.4,1909.1M301.4,1899.0L299.4,1909.1M316.4,1900.9L317.2,1900.5L318.3,1899.0L318.3,1909.1M324.8,1901.4L324.8,1900.9L325.1,1900.0L325.5,1899.5L326.3,1899.0L327.8,1899.0L328.6,1899.5L329.0,1900.0L329.4,1900.9L329.4,1901.9L329.0,1902.9L328.2,1904.3L324.4,1909.1L329.7,1909.1M335.7,1899.0L334.6,1899.5L333.8,1900.9L333.4,1903.3L333.4,1904.8L333.8,1907.2L334.6,1908.6L335.7,1909.1L336.5,1909.1L337.6,1908.6L338.4,1907.2L338.8,1904.8L338.8,1903.3L338.4,1900.9L337.6,1899.5L336.5,1899.0L335.7,1899.0M342.2,1899.0L344.1,1909.1M346.0,1899.0L344.1,1909.1M346.0,1899.0L347.9,1909.1M349.8,1899.0L347.9,1909.1M364.9,1900.9L365.7,1900.5L366.8,1899.0L366.8,1909.1M375.2,1899.0L374.0,1899.5L373.2,1900.9L372.9,1903.3L372.9,1904.8L373.2,1907.2L374.0,1908.6L375.2,1909.1L375.9,1909.1L377.1,1908.6L377.8,1907.2L378.2,1904.8L378.2,1903.3L377.8,1900.9L377.1,1899.5L375.9,1899.0L375.2,1899.0M384.2,1899.0L383.0,1899.5L382.3,1900.9L381.9,1903.3L381.9,1904.8L382.3,1907.2L383.0,1908.6L384.2,1909.1L384.9,1909.1L386.1,1908.6L386.9,1907.2L387.2,1904.8L387.2,1903.3L386.9,1900.9L386.1,1899.5L384.9,1899.0L384.2,1899.0M390.7,1899.0L392.6,1909.1M394.5,1899.0L392.6,1909.1M394.5,1899.0L396.4,1909.1M398.3,1899.0L396.4,1909.1M419.4,1899.0L418.3,1899.5L417.9,1900.5L417.9,1901.4L418.3,1902.4L419.0,1902.9L420.6,1903.3L421.7,1903.8L422.5,1904.8L422.9,1905.7L422.9,1907.2L422.5,1908.1L422.1,1908.6L421.0,1909.1L419.4,1909.1L418.3,1908.6L417.9,1908.1L417.5,1907.2L417.5,1905.7L417.9,1904.8L418.7,1903.8L419.8,1903.3L421.3,1902.9L422.1,1902.4L422.5,1901.4L422.5,1900.5L422.1,1899.5L421.0,1899.0L419.4,1899.0M428.8,1899.0L427.7,1899.5L426.9,1900.9L426.5,1903.3L426.5,1904.8L426.9,1907.2L427.7,1908.6L428.8,1909.1L429.6,1909.1L430.7,1908.6L431.5,1907.2L431.9,1904.8L431.9,1903.3L431.5,1900.9L430.7,1899.5L429.6,1899.0L428.8,1899.0M435.3,1899.0L437.2,1909.1M439.1,1899.0L437.2,1909.1M439.1,1899.0L441.1,1909.1M443.0,1899.0L441.1,1909.1M470.8,1900.5L470.4,1899.5L469.2,1899.0L468.5,1899.0L467.3,1899.5L466.6,1900.9L466.2,1903.3L466.2,1905.7L466.6,1907.7L467.3,1908.6L468.5,1909.1L468.9,1909.1L470.0,1908.6L470.8,1907.7L471.2,1906.2L471.2,1905.7L470.8,1904.3L470.0,1903.3L468.9,1902.9L468.5,1902.9L467.3,1903.3L466.6,1904.3L466.2,1905.7M477.1,1899.0L475.9,1899.5L475.2,1900.9L474.8,1903.3L474.8,1904.8L475.2,1907.2L475.9,1908.6L477.1,1909.1L477.9,1909.1L479.0,1908.6L479.8,1907.2L480.2,1904.8L480.2,1903.3L479.8,1900.9L479.0,1899.5L477.9,1899.0L477.1,1899.0M483.6,1899.0L485.5,1909.1M487.4,1899.0L485.5,1909.1M487.4,1899.0L489.3,1909.1M491.2,1899.0L489.3,1909.1M967.8,1725.3L966.6,1725.8L966.2,1726.8L966.2,1727.7L966.6,1728.7L967.4,1729.2L969.0,1729.7L970.2,1730.2L971.0,1731.1L971.3,1732.1L971.3,1733.6L971.0,1734.5L970.6,1735.0L969.4,1735.5L967.8,1735.5L966.6,1735.0L966.2,1734.5L965.8,1733.6L965.8,1732.1L966.2,1731.1L967.0,1730.2L968.2,1729.7L969.8,1729.2L970.6,1728.7L971.0,1727.7L971.0,1726.8L970.6,1725.8L969.4,1725.3L967.8,1725.3M977.5,1725.3L976.3,1725.8L975.5,1727.2L975.1,1729.7L975.1,1731.1L975.5,1733.6L976.3,1735.0L977.5,1735.5L978.3,1735.5L979.5,1735.0L980.3,1733.6L980.6,1731.1L980.6,1729.7L980.3,1727.2L979.5,1725.8L978.3,1725.3L977.5,1725.3M984.9,1725.3L984.9,1735.5M984.9,1725.3L990.4,1735.5M990.4,1725.3L990.4,1735.5M971.3,1754.2L967.4,1764.5M965.8,1754.2L971.3,1754.2M977.5,1754.2L976.3,1754.7L975.5,1756.2L975.1,1758.6L975.1,1760.1L975.5,1762.5L976.3,1764.0L977.5,1764.5L978.3,1764.5L979.5,1764.0L980.3,1762.5L980.6,1760.1L980.6,1758.6L980.3,1756.2L979.5,1754.7L978.3,1754.2L977.5,1754.2M984.9,1754.2L984.9,1764.5M984.9,1754.2L990.4,1764.5M990.4,1754.2L990.4,1764.5M971.0,1784.7L970.6,1783.7L969.4,1783.2L968.6,1783.2L967.4,1783.7L966.6,1785.1L966.2,1787.6L966.2,1790.0L966.6,1791.9L967.4,1792.9L968.6,1793.4L969.0,1793.4L970.2,1792.9L971.0,1791.9L971.4,1790.5L971.4,1790.0L971.0,1788.5L970.2,1787.6L969.0,1787.1L968.6,1787.1L967.4,1787.6L966.6,1788.5L966.2,1790.0M977.5,1783.2L976.3,1783.7L975.5,1785.1L975.1,1787.6L975.1,1789.0L975.5,1791.5L976.3,1792.9L977.5,1793.4L978.3,1793.4L979.5,1792.9L980.3,1791.5L980.6,1789.0L980.6,1787.6L980.3,1785.1L979.5,1783.7L978.3,1783.2L977.5,1783.2M984.9,1783.2L984.9,1793.4M984.9,1783.2L990.4,1793.4M990.4,1783.2L990.4,1793.4M970.6,1812.1L966.6,1812.1L966.2,1816.5L966.6,1816.0L967.8,1815.5L969.0,1815.5L970.2,1816.0L971.0,1817.0L971.3,1818.5L971.3,1819.4L971.0,1820.9L970.2,1821.9L969.0,1822.3L967.8,1822.3L966.6,1821.9L966.2,1821.4L965.8,1820.4M977.5,1812.1L976.3,1812.6L975.5,1814.1L975.1,1816.5L975.1,1818.0L975.5,1820.4L976.3,1821.9L977.5,1822.3L978.3,1822.3L979.5,1821.9L980.3,1820.4L980.6,1818.0L980.6,1816.5L980.3,1814.1L979.5,1812.6L978.3,1812.1L977.5,1812.1M984.9,1812.1L984.9,1822.3M984.9,1812.1L990.4,1822.3M990.4,1812.1L990.4,1822.3M969.8,1841.1L965.8,1847.9L971.8,1847.9M969.8,1841.1L969.8,1851.3M977.5,1841.1L976.3,1841.6L975.5,1843.0L975.1,1845.5L975.1,1846.9L975.5,1849.4L976.3,1850.8L977.5,1851.3L978.3,1851.3L979.5,1850.8L980.3,1849.4L980.6,1846.9L980.6,1845.5L980.3,1843.0L979.5,1841.6L978.3,1841.1L977.5,1841.1M984.9,1841.1L984.9,1851.3M984.9,1841.1L990.4,1851.3M990.4,1841.1L990.4,1851.3M966.6,1870.0L971.0,1870.0L968.6,1873.9L969.8,1873.9L970.6,1874.4L971.0,1874.9L971.3,1876.4L971.3,1877.3L971.0,1878.8L970.2,1879.8L969.0,1880.2L967.8,1880.2L966.6,1879.8L966.2,1879.3L965.8,1878.3M977.5,1870.0L976.3,1870.5L975.5,1872.0L975.1,1874.4L975.1,1875.9L975.5,1878.3L976.3,1879.8L977.5,1880.2L978.3,1880.2L979.5,1879.8L980.3,1878.3L980.6,1875.9L980.6,1874.4L980.3,1872.0L979.5,1870.5L978.3,1870.0L977.5,1870.0M984.9,1870.0L984.9,1880.2M984.9,1870.0L990.4,1880.2M990.4,1870.0L990.4,1880.2M984.9,1900.9L985.7,1900.5L986.8,1899.0L986.8,1909.1M996.8,1899.0L992.9,1905.7L998.7,1905.7M996.8,1899.0L996.8,1909.1M1004.2,1899.0L1003.1,1899.5L1002.3,1900.9L1001.9,1903.3L1001.9,1904.8L1002.3,1907.2L1003.1,1908.6L1004.2,1909.1L1005.0,1909.1L1006.1,1908.6L1006.9,1907.2L1007.3,1904.8L1007.3,1903.3L1006.9,1900.9L1006.1,1899.5L1005.0,1899.0L1004.2,1899.0M1010.7,1899.0L1012.6,1909.1M1014.5,1899.0L1012.6,1909.1M1014.5,1899.0L1016.4,1909.1M1018.4,1899.0L1016.4,1909.1M1033.4,1900.9L1034.2,1900.5L1035.3,1899.0L1035.3,1909.1M1041.8,1901.4L1041.8,1900.9L1042.1,1900.0L1042.5,1899.5L1043.3,1899.0L1044.8,1899.0L1045.6,1899.5L1046.0,1900.0L1046.4,1900.9L1046.4,1901.9L1046.0,1902.9L1045.2,1904.3L1041.4,1909.1L1046.7,1909.1M1052.7,1899.0L1051.6,1899.5L1050.8,1900.9L1050.4,1903.3L1050.4,1904.8L1050.8,1907.2L1051.6,1908.6L1052.7,1909.1L1053.5,1909.1L1054.6,1908.6L1055.4,1907.2L1055.8,1904.8L1055.8,1903.3L1055.4,1900.9L1054.6,1899.5L1053.5,1899.0L1052.7,1899.0M1059.2,1899.0L1061.1,1909.1M1063.0,1899.0L1061.1,1909.1M1063.0,1899.0L1064.9,1909.1M1066.8,1899.0L1064.9,1909.1M1081.9,1900.9L1082.7,1900.5L1083.8,1899.0L1083.8,1909.1M1092.2,1899.0L1091.0,1899.5L1090.2,1900.9L1089.9,1903.3L1089.9,1904.8L1090.2,1907.2L1091.0,1908.6L1092.2,1909.1L1092.9,1909.1L1094.1,1908.6L1094.8,1907.2L1095.2,1904.8L1095.2,1903.3L1094.8,1900.9L1094.1,1899.5L1092.9,1899.0L1092.2,1899.0M1101.2,1899.0L1100.0,1899.5L1099.3,1900.9L1098.9,1903.3L1098.9,1904.8L1099.3,1907.2L1100.0,1908.6L1101.2,1909.1L1101.9,1909.1L1103.1,1908.6L1103.9,1907.2L1104.2,1904.8L1104.2,1903.3L1103.9,1900.9L1103.1,1899.5L1101.9,1899.0L1101.2,1899.0M1107.7,1899.0L1109.6,1909.1M1111.5,1899.0L1109.6,1909.1M1111.5,1899.0L1113.4,1909.1M1115.3,1899.0L1113.4,1909.1M1136.4,1899.0L1135.3,1899.5L1134.9,1900.5L1134.9,1901.4L1135.3,1902.4L1136.0,1902.9L1137.6,1903.3L1138.7,1903.8L1139.5,1904.8L1139.9,1905.7L1139.9,1907.2L1139.5,1908.1L1139.1,1908.6L1138.0,1909.1L1136.4,1909.1L1135.3,1908.6L1134.9,1908.1L1134.5,1907.2L1134.5,1905.7L1134.9,1904.8L1135.7,1903.8L1136.8,1903.3L1138.3,1902.9L1139.1,1902.4L1139.5,1901.4L1139.5,1900.5L1139.1,1899.5L1138.0,1899.0L1136.4,1899.0M1145.8,1899.0L1144.7,1899.5L1143.9,1900.9L1143.5,1903.3L1143.5,1904.8L1143.9,1907.2L1144.7,1908.6L1145.8,1909.1L1146.6,1909.1L1147.7,1908.6L1148.5,1907.2L1148.9,1904.8L1148.9,1903.3L1148.5,1900.9L1147.7,1899.5L1146.6,1899.0L1145.8,1899.0M1152.3,1899.0L1154.2,1909.1M1156.1,1899.0L1154.2,1909.1M1156.1,1899.0L1158.1,1909.1M1160.0,1899.0L1158.1,1909.1M1187.8,1900.5L1187.4,1899.5L1186.2,1899.0L1185.5,1899.0L1184.3,1899.5L1183.6,1900.9L1183.2,1903.3L1183.2,1905.7L1183.6,1907.7L1184.3,1908.6L1185.5,1909.1L1185.9,1909.1L1187.0,1908.6L1187.8,1907.7L1188.2,1906.2L1188.2,1905.7L1187.8,1904.3L1187.0,1903.3L1185.9,1902.9L1185.5,1902.9L1184.3,1903.3L1183.6,1904.3L1183.2,1905.7M1194.1,1899.0L1192.9,1899.5L1192.2,1900.9L1191.8,1903.3L1191.8,1904.8L1192.2,1907.2L1192.9,1908.6L1194.1,1909.1L1194.9,1909.1L1196.0,1908.6L1196.8,1907.2L1197.2,1904.8L1197.2,1903.3L1196.8,1900.9L1196.0,1899.5L1194.9,1899.0L1194.1,1899.0M1200.6,1899.0L1202.5,1909.1M1204.4,1899.0L1202.5,1909.1M1204.4,1899.0L1206.3,1909.1M1208.2,1899.0L1206.3,1909.1M746.3,303.1L747.1,302.6L748.3,301.3L748.3,310.7M747.6,339.6L746.4,340.0L745.6,341.4L745.2,343.6L745.2,345.0L745.6,347.2L746.4,348.6L747.6,349.0L748.5,349.0L749.7,348.6L750.5,347.2L750.9,345.0L750.9,343.6L750.5,341.4L749.7,340.0L748.5,339.6L747.6,339.6M755.2,348.1L754.8,348.6L755.2,349.0L755.6,348.6L755.2,348.1M761.5,339.6L760.3,340.0L759.9,340.9L759.9,341.8L760.3,342.7L761.1,343.2L762.7,343.6L763.9,344.1L764.7,345.0L765.1,345.9L765.1,347.2L764.7,348.1L764.3,348.6L763.1,349.0L761.5,349.0L760.3,348.6L759.9,348.1L759.5,347.2L759.5,345.9L759.9,345.0L760.7,344.1L761.9,343.6L763.5,343.2L764.3,342.7L764.7,341.8L764.7,340.9L764.3,340.0L763.1,339.6L761.5,339.6M747.6,378.5L746.4,378.9L745.6,380.3L745.2,382.5L745.2,383.9L745.6,386.1L746.4,387.5L747.6,387.9L748.5,387.9L749.7,387.5L750.5,386.1L750.9,383.9L750.9,382.5L750.5,380.3L749.7,378.9L748.5,378.5L747.6,378.5M755.2,387.0L754.8,387.5L755.2,387.9L755.6,387.5L755.2,387.0M764.8,379.8L764.4,378.9L763.1,378.5L762.3,378.5L761.1,378.9L760.3,380.3L759.9,382.5L759.9,384.8L760.3,386.6L761.1,387.5L762.3,387.9L762.7,387.9L764.0,387.5L764.8,386.6L765.2,385.2L765.2,384.8L764.8,383.4L764.0,382.5L762.7,382.1L762.3,382.1L761.1,382.5L760.3,383.4L759.9,384.8M747.6,418.5L746.4,418.9L745.6,420.3L745.2,422.5L745.2,423.9L745.6,426.1L746.4,427.5L747.6,427.9L748.5,427.9L749.7,427.5L750.5,426.1L750.9,423.9L750.9,422.5L750.5,420.3L749.7,418.9L748.5,418.5L747.6,418.5M755.2,427.0L754.8,427.5L755.2,427.9L755.6,427.5L755.2,427.0M763.5,418.5L759.5,424.8L765.6,424.8M763.5,418.5L763.5,427.9M747.6,457.5L746.4,457.9L745.6,459.3L745.2,461.5L745.2,462.9L745.6,465.1L746.4,466.5L747.6,466.9L748.5,466.9L749.7,466.5L750.5,465.1L750.9,462.9L750.9,461.5L750.5,459.3L749.7,457.9L748.5,457.5L747.6,457.5M755.2,466.0L754.8,466.5L755.2,466.9L755.6,466.5L755.2,466.0M759.9,459.7L759.9,459.3L760.3,458.4L760.7,457.9L761.5,457.5L763.1,457.5L763.9,457.9L764.3,458.4L764.7,459.3L764.7,460.2L764.3,461.1L763.5,462.4L759.5,466.9L765.1,466.9M747.6,497.2L746.4,497.6L745.6,499.0L745.2,501.2L745.2,502.6L745.6,504.8L746.4,506.2L747.6,506.6L748.5,506.6L749.7,506.2L750.5,504.8L750.9,502.6L750.9,501.2L750.5,499.0L749.7,497.6L748.5,497.2L747.6,497.2M755.2,505.7L754.8,506.2L755.2,506.6L755.6,506.2L755.2,505.7M760.6,499.0L761.4,498.5L762.6,497.2L762.6,506.6M746.6,684.1L747.4,683.6L748.6,682.3L748.6,691.7M757.4,682.3L756.2,682.7L755.4,684.1L755.0,686.3L755.0,687.7L755.4,689.9L756.2,691.3L757.4,691.7L758.3,691.7L759.5,691.3L760.3,689.9L760.7,687.7L760.7,686.3L760.3,684.1L759.5,682.7L758.3,682.3L757.4,682.3M766.9,682.3L765.7,682.7L764.9,684.1L764.5,686.3L764.5,687.7L764.9,689.9L765.7,691.3L766.9,691.7L767.8,691.7L769.0,691.3L769.8,689.9L770.2,687.7L770.2,686.3L769.8,684.1L769.0,682.7L767.8,682.3L766.9,682.3M776.4,682.3L775.2,682.7L774.4,684.1L774.0,686.3L774.0,687.7L774.4,689.9L775.2,691.3L776.4,691.7L777.3,691.7L778.5,691.3L779.3,689.9L779.7,687.7L779.7,686.3L779.3,684.1L778.5,682.7L777.3,682.3L776.4,682.3M750.7,724.5L750.3,725.9L749.5,726.8L748.3,727.2L747.9,727.2L746.7,726.8L745.9,725.9L745.5,724.5L745.5,724.1L745.9,722.7L746.7,721.8L747.9,721.4L748.3,721.4L749.5,721.8L750.3,722.7L750.7,724.5L750.7,726.8L750.3,729.0L749.5,730.4L748.3,730.8L747.5,730.8L746.3,730.4L745.9,729.5M760.2,724.5L759.8,725.9L759.0,726.8L757.8,727.2L757.4,727.2L756.2,726.8L755.4,725.9L755.0,724.5L755.0,724.1L755.4,722.7L756.2,721.8L757.4,721.4L757.8,721.4L759.0,721.8L759.8,722.7L760.2,724.5L760.2,726.8L759.8,729.0L759.0,730.4L757.8,730.8L757.0,730.8L755.8,730.4L755.4,729.5M769.4,721.4L765.3,721.4L764.9,725.4L765.3,725.0L766.5,724.5L767.8,724.5L769.0,725.0L769.8,725.9L770.2,727.2L770.2,728.1L769.8,729.5L769.0,730.4L767.8,730.8L766.5,730.8L765.3,730.4L764.9,729.9L764.5,729.0M750.7,763.7L750.3,765.1L749.5,766.0L748.3,766.4L747.9,766.4L746.7,766.0L745.9,765.1L745.5,763.7L745.5,763.3L745.9,761.9L746.7,761.0L747.9,760.6L748.3,760.6L749.5,761.0L750.3,761.9L750.7,763.7L750.7,766.0L750.3,768.2L749.5,769.6L748.3,770.0L747.5,770.0L746.3,769.6L745.9,768.7M760.2,763.7L759.8,765.1L759.0,766.0L757.8,766.4L757.4,766.4L756.2,766.0L755.4,765.1L755.0,763.7L755.0,763.3L755.4,761.9L756.2,761.0L757.4,760.6L757.8,760.6L759.0,761.0L759.8,761.9L760.2,763.7L760.2,766.0L759.8,768.2L759.0,769.6L757.8,770.0L757.0,770.0L755.8,769.6L755.4,768.7M766.9,760.6L765.7,761.0L764.9,762.4L764.5,764.6L764.5,766.0L764.9,768.2L765.7,769.6L766.9,770.0L767.8,770.0L769.0,769.6L769.8,768.2L770.2,766.0L770.2,764.6L769.8,762.4L769.0,761.0L767.8,760.6L766.9,760.6M750.7,803.6L750.3,805.0L749.5,805.9L748.3,806.3L747.9,806.3L746.7,805.9L745.9,805.0L745.5,803.6L745.5,803.2L745.9,801.8L746.7,800.9L747.9,800.5L748.3,800.5L749.5,800.9L750.3,801.8L750.7,803.6L750.7,805.9L750.3,808.1L749.5,809.5L748.3,809.9L747.5,809.9L746.3,809.5L745.9,808.6M757.0,800.5L755.8,800.9L755.4,801.8L755.4,802.7L755.8,803.6L756.6,804.1L758.3,804.5L759.5,805.0L760.3,805.9L760.7,806.8L760.7,808.1L760.3,809.0L759.9,809.5L758.7,809.9L757.0,809.9L755.8,809.5L755.4,809.0L755.0,808.1L755.0,806.8L755.4,805.9L756.2,805.0L757.4,804.5L759.1,804.1L759.9,803.6L760.3,802.7L760.3,801.8L759.9,800.9L758.7,800.5L757.0,800.5M769.4,800.5L765.3,800.5L764.9,804.5L765.3,804.1L766.5,803.6L767.8,803.6L769.0,804.1L769.8,805.0L770.2,806.3L770.2,807.2L769.8,808.6L769.0,809.5L767.8,809.9L766.5,809.9L765.3,809.5L764.9,809.0L764.5,808.1M750.7,842.9L750.3,844.3L749.5,845.2L748.3,845.6L747.9,845.6L746.7,845.2L745.9,844.3L745.5,842.9L745.5,842.5L745.9,841.1L746.7,840.2L747.9,839.8L748.3,839.8L749.5,840.2L750.3,841.1L750.7,842.9L750.7,845.2L750.3,847.4L749.5,848.8L748.3,849.2L747.5,849.2L746.3,848.8L745.9,847.9M757.0,839.8L755.8,840.2L755.4,841.1L755.4,842.0L755.8,842.9L756.6,843.4L758.3,843.8L759.5,844.3L760.3,845.2L760.7,846.1L760.7,847.4L760.3,848.3L759.9,848.8L758.7,849.2L757.0,849.2L755.8,848.8L755.4,848.3L755.0,847.4L755.0,846.1L755.4,845.2L756.2,844.3L757.4,843.8L759.1,843.4L759.9,842.9L760.3,842.0L760.3,841.1L759.9,840.2L758.7,839.8L757.0,839.8M766.9,839.8L765.7,840.2L764.9,841.6L764.5,843.8L764.5,845.2L764.9,847.4L765.7,848.8L766.9,849.2L767.8,849.2L769.0,848.8L769.8,847.4L770.2,845.2L770.2,843.8L769.8,841.6L769.0,840.2L767.8,839.8L766.9,839.8M750.3,924.7L746.2,924.7L745.8,928.7L746.2,928.3L747.4,927.8L748.7,927.8L749.9,928.3L750.7,929.2L751.1,930.5L751.1,931.4L750.7,932.8L749.9,933.7L748.7,934.1L747.4,934.1L746.2,933.7L745.8,933.2L745.4,932.3M749.5,964.6L745.5,970.9L751.5,970.9M749.5,964.6L749.5,974.0M746.2,1003.5L750.7,1003.5L748.2,1007.1L749.5,1007.1L750.3,1007.5L750.7,1008.0L751.1,1009.3L751.1,1010.2L750.7,1011.6L749.9,1012.5L748.7,1012.9L747.4,1012.9L746.2,1012.5L745.8,1012.0L745.4,1011.1M745.8,1044.7L745.8,1044.3L746.2,1043.4L746.6,1042.9L747.4,1042.5L749.1,1042.5L749.9,1042.9L750.3,1043.4L750.7,1044.3L750.7,1045.2L750.3,1046.1L749.5,1047.4L745.4,1051.9L751.1,1051.9M746.5,1084.2L747.3,1083.7L748.5,1082.4L748.5,1091.8M747.8,1121.3L746.6,1121.7L745.8,1123.1L745.4,1125.3L745.4,1126.7L745.8,1128.9L746.6,1130.3L747.8,1130.7L748.7,1130.7L749.9,1130.3L750.7,1128.9L751.1,1126.7L751.1,1125.3L750.7,1123.1L749.9,1121.7L748.7,1121.3L747.8,1121.3M759.6,1230.0L758.4,1230.4L757.6,1231.8L757.2,1234.0L757.2,1235.4L757.6,1237.6L758.4,1239.0L759.6,1239.4L760.5,1239.4L761.7,1239.0L762.5,1237.6L762.9,1235.4L762.9,1234.0L762.5,1231.8L761.7,1230.4L760.5,1230.0L759.6,1230.0M767.2,1238.5L766.8,1239.0L767.2,1239.4L767.6,1239.0L767.2,1238.5M771.9,1232.2L771.9,1231.8L772.3,1230.9L772.7,1230.4L773.5,1230.0L775.1,1230.0L775.9,1230.4L776.3,1230.9L776.7,1231.8L776.7,1232.7L776.3,1233.6L775.5,1234.9L771.5,1239.4L777.1,1239.4M759.6,1269.7L758.4,1270.1L757.6,1271.5L757.2,1273.7L757.2,1275.1L757.6,1277.3L758.4,1278.7L759.6,1279.1L760.5,1279.1L761.7,1278.7L762.5,1277.3L762.9,1275.1L762.9,1273.7L762.5,1271.5L761.7,1270.1L760.5,1269.7L759.6,1269.7M767.2,1278.2L766.8,1278.7L767.2,1279.1L767.6,1278.7L767.2,1278.2M772.6,1271.5L773.4,1271.0L774.6,1269.7L774.6,1279.1M759.6,1308.5L758.4,1308.9L757.6,1310.3L757.2,1312.5L757.2,1313.9L757.6,1316.1L758.4,1317.5L759.6,1317.9L760.5,1317.9L761.7,1317.5L762.5,1316.1L762.9,1313.9L762.9,1312.5L762.5,1310.3L761.7,1308.9L760.5,1308.5L759.6,1308.5M757.8,1353.2L765.1,1353.2M772.0,1347.8L770.8,1348.2L770.0,1349.6L769.6,1351.8L769.6,1353.2L770.0,1355.4L770.8,1356.8L772.0,1357.2L772.8,1357.2L774.0,1356.8L774.8,1355.4L775.2,1353.2L775.2,1351.8L774.8,1349.6L774.0,1348.2L772.8,1347.8L772.0,1347.8M779.5,1356.3L779.1,1356.8L779.5,1357.2L779.9,1356.8L779.5,1356.3M784.9,1349.6L785.7,1349.1L786.9,1347.8L786.9,1357.2M757.8,1393.0L765.1,1393.0M772.0,1387.6L770.8,1388.0L770.0,1389.4L769.6,1391.6L769.6,1393.0L770.0,1395.2L770.8,1396.6L772.0,1397.0L772.8,1397.0L774.0,1396.6L774.8,1395.2L775.2,1393.0L775.2,1391.6L774.8,1389.4L774.0,1388.0L772.8,1387.6L772.0,1387.6M779.5,1396.1L779.1,1396.6L779.5,1397.0L779.9,1396.6L779.5,1396.1M784.2,1389.8L784.2,1389.4L784.6,1388.5L785.0,1388.0L785.8,1387.6L787.5,1387.6L788.3,1388.0L788.7,1388.5L789.1,1389.4L789.1,1390.3L788.7,1391.2L787.9,1392.5L783.8,1397.0L789.5,1397.0M727.7,1439.6L727.3,1438.7L726.1,1438.3L725.3,1438.3L724.1,1438.7L723.3,1440.1L722.9,1442.3L722.9,1444.6L723.3,1446.4L724.1,1447.3L725.3,1447.7L725.7,1447.7L726.9,1447.3L727.7,1446.4L728.1,1445.0L728.1,1444.6L727.7,1443.2L726.9,1442.3L725.7,1441.9L725.3,1441.9L724.1,1442.3L723.3,1443.2L722.9,1444.6M726.5,1476.9L722.5,1483.2L728.5,1483.2M726.5,1476.9L726.5,1486.3M722.8,1517.3L722.8,1516.9L723.2,1516.0L723.6,1515.5L724.4,1515.1L726.1,1515.1L726.9,1515.5L727.3,1516.0L727.7,1516.9L727.7,1517.8L727.3,1518.7L726.5,1520.0L722.4,1524.5L728.1,1524.5M724.8,1553.5L723.6,1553.9L722.8,1555.3L722.4,1557.5L722.4,1558.9L722.8,1561.1L723.6,1562.5L724.8,1562.9L725.7,1562.9L726.9,1562.5L727.7,1561.1L728.1,1558.9L728.1,1557.5L727.7,1555.3L726.9,1553.9L725.7,1553.5L724.8,1553.5M723.0,1597.7L730.3,1597.7M735.2,1594.5L735.2,1594.1L735.6,1593.2L736.0,1592.7L736.8,1592.3L738.4,1592.3L739.2,1592.7L739.6,1593.2L740.0,1594.1L740.0,1595.0L739.6,1595.9L738.8,1597.2L734.8,1601.7L740.4,1601.7M723.0,1636.2L730.3,1636.2M738.8,1630.8L734.8,1637.1L740.9,1637.1M738.8,1630.8L738.8,1640.2M723.0,1675.1L730.3,1675.1M740.1,1671.0L739.7,1670.1L738.4,1669.7L737.6,1669.7L736.4,1670.1L735.6,1671.5L735.2,1673.7L735.2,1676.0L735.6,1677.8L736.4,1678.7L737.6,1679.1L738.0,1679.1L739.3,1678.7L740.1,1677.8L740.5,1676.4L740.5,1676.0L740.1,1674.6L739.3,1673.7L738.0,1673.3L737.6,1673.3L736.4,1673.7L735.6,1674.6L735.2,1676.0M759.8,1722.1L758.6,1722.5L757.8,1723.9L757.4,1726.1L757.4,1727.5L757.8,1729.7L758.6,1731.1L759.8,1731.5L760.7,1731.5L761.9,1731.1L762.7,1729.7L763.1,1727.5L763.1,1726.1L762.7,1723.9L761.9,1722.5L760.7,1722.1L759.8,1722.1M767.4,1730.6L767.0,1731.1L767.4,1731.5L767.8,1731.1L767.4,1730.6M775.7,1722.1L771.7,1728.4L777.8,1728.4M775.7,1722.1L775.7,1731.5M759.8,1760.3L758.6,1760.7L757.8,1762.1L757.4,1764.3L757.4,1765.7L757.8,1767.9L758.6,1769.3L759.8,1769.7L760.7,1769.7L761.9,1769.3L762.7,1767.9L763.1,1765.7L763.1,1764.3L762.7,1762.1L761.9,1760.7L760.7,1760.3L759.8,1760.3M767.4,1768.8L767.0,1769.3L767.4,1769.7L767.8,1769.3L767.4,1768.8M772.1,1762.5L772.1,1762.1L772.5,1761.2L772.9,1760.7L773.7,1760.3L775.3,1760.3L776.1,1760.7L776.5,1761.2L776.9,1762.1L776.9,1763.0L776.5,1763.9L775.7,1765.2L771.7,1769.7L777.3,1769.7M759.8,1798.5L758.6,1798.9L757.8,1800.3L757.4,1802.5L757.4,1803.9L757.8,1806.1L758.6,1807.5L759.8,1807.9L760.7,1807.9L761.9,1807.5L762.7,1806.1L763.1,1803.9L763.1,1802.5L762.7,1800.3L761.9,1798.9L760.7,1798.5L759.8,1798.5M758.0,1842.6L765.3,1842.6M772.2,1837.2L771.0,1837.6L770.2,1839.0L769.8,1841.2L769.8,1842.6L770.2,1844.8L771.0,1846.2L772.2,1846.6L773.0,1846.6L774.2,1846.2L775.0,1844.8L775.4,1842.6L775.4,1841.2L775.0,1839.0L774.2,1837.6L773.0,1837.2L772.2,1837.2M779.7,1845.7L779.3,1846.2L779.7,1846.6L780.1,1846.2L779.7,1845.7M784.4,1839.4L784.4,1839.0L784.8,1838.1L785.2,1837.6L786.0,1837.2L787.7,1837.2L788.5,1837.6L788.9,1838.1L789.3,1839.0L789.3,1839.9L788.9,1840.8L788.1,1842.1L784.0,1846.6L789.7,1846.6M758.0,1881.1L765.3,1881.1M772.2,1875.7L771.0,1876.1L770.2,1877.5L769.8,1879.7L769.8,1881.1L770.2,1883.3L771.0,1884.7L772.2,1885.1L773.0,1885.1L774.2,1884.7L775.0,1883.3L775.4,1881.1L775.4,1879.7L775.0,1877.5L774.2,1876.1L773.0,1875.7L772.2,1875.7M779.7,1884.2L779.3,1884.7L779.7,1885.1L780.1,1884.7L779.7,1884.2M788.1,1875.7L784.1,1882.0L790.1,1882.0M788.1,1875.7L788.1,1885.1" fill="none" stroke="#000" stroke-width="1.1" stroke-linecap="round" stroke-linejoin="round"/>
</svg></body></html>
